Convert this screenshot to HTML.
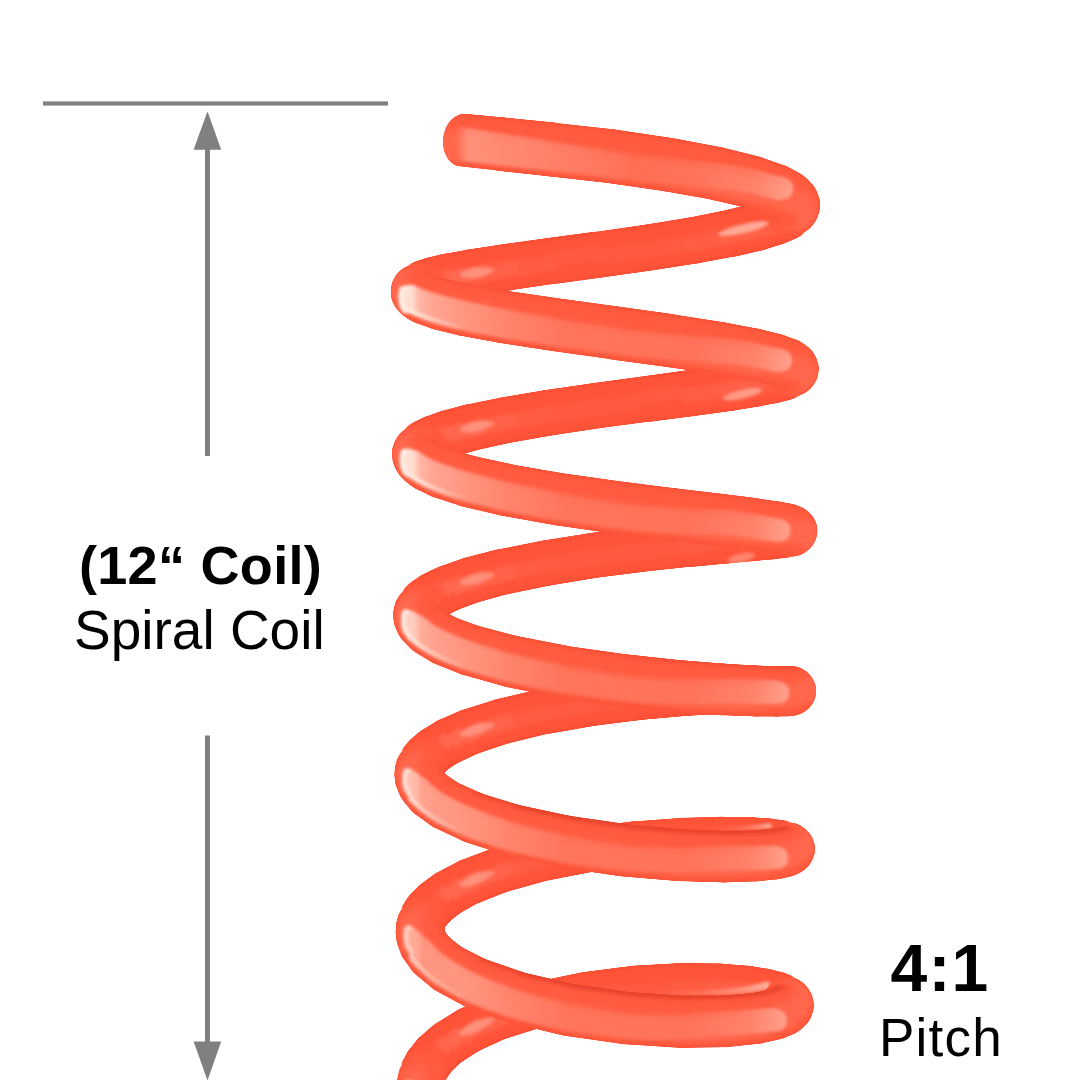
<!DOCTYPE html>
<html><head><meta charset="utf-8"><title>Spiral Coil 4:1 Pitch</title>
<style>
html,body{margin:0;padding:0;background:#fff;}
body{width:1080px;height:1080px;position:relative;overflow:hidden;font-family:"Liberation Sans",sans-serif;color:#000;}
svg{position:absolute;left:0;top:0;}
.coil path{fill:currentColor;stroke:currentColor;stroke-width:.5;stroke-linejoin:round;}
.t{position:absolute;white-space:nowrap;text-align:center;line-height:1;}
.b{font-weight:bold;}
#t1{left:79px;top:538px;font-size:54px;letter-spacing:0.3px;text-align:left;}
#t2{left:74px;top:603px;font-size:55px;letter-spacing:0px;text-align:left;}
#t3{left:890.5px;top:934.8px;font-size:66px;letter-spacing:1.2px;text-align:left;}
#t4{left:879px;top:1011px;font-size:53px;letter-spacing:1.2px;text-align:left;}
</style></head><body>
<svg width="1080" height="1080" viewBox="0 0 1080 1080">
<g fill="#808080">
<rect x="43" y="101.4" width="345" height="4.2"/>
<rect x="205" y="140" width="5" height="316"/>
<polygon points="207.5,111.3 221.2,149.7 193.6,149.7"/>
<rect x="205" y="735.5" width="5" height="315"/>
<polygon points="207.5,1080.5 221.2,1041.6 193.6,1041.6"/>
</g>
<defs><filter id="sm" x="-5%" y="-5%" width="110%" height="110%" color-interpolation-filters="sRGB"><feGaussianBlur stdDeviation="1.1"/><feComponentTransfer><feFuncA type="linear" slope="5" intercept="-2"/></feComponentTransfer></filter><filter id="hb" x="-5%" y="-5%" width="110%" height="110%"><feGaussianBlur stdDeviation="1.6"/></filter></defs>
<g class="coil" filter="url(#sm)">
<path color="#f64d34" d="M636.9,1010.8L589.4,1016.8L589.6,1016.1L635.9,1010.1z"/>
<path color="#f95036" d="M635.9,1010.1L589.6,1016.1L589.6,1014.5L634.9,1008.5z"/>
<path color="#ff5439" d="M634.9,1008.5L589.6,1014.5L589.4,1012.1L634,1005.9z"/>
<path color="#ff5439" d="M634,1005.9L589.4,1012.1L589.2,1008.8L633.1,1002.6z"/>
<path color="#ff5439" d="M633.1,1002.6L589.2,1008.8L588.7,1004.9L632.2,998.7z"/>
<path color="#ff593f" d="M632.2,998.7L588.7,1004.9L588.1,1000.6L631.5,994.3z"/>
<path color="#ff5a40" d="M631.5,994.3L588.1,1000.6L587.5,996L631,989.6z"/>
<path color="#ff5a40" d="M631,989.6L587.5,996L586.7,991.3L630.7,984.9z"/>
<path color="#ff573c" d="M630.7,984.9L586.7,991.3L585.9,986.8L630.5,980.4z"/>
<path color="#ff5439" d="M630.5,980.4L585.9,986.8L585.1,982.6L630.6,976.2z"/>
<path color="#ff5439" d="M630.6,976.2L585.1,982.6L584.4,979L630.8,972.6z"/>
<path color="#ff5439" d="M630.8,972.6L584.4,979L583.7,976.1L631.3,969.6z"/>
<path color="#fe5338" d="M631.3,969.6L583.7,976.1L583.1,974L631.9,967.5z"/>
<path color="#fa5036" d="M631.9,967.5L583.1,974L582.6,972.8L632.7,966.3z"/>
<path color="#fa5036" d="M632.7,966.3L582.6,972.8L582.3,972.5L633.5,966.1z"/>
<path color="#f64d34" d="M589.4,1016.8L543.8,1026.4L545.1,1025.7L589.6,1016.1z"/>
<path color="#f84f35" d="M589.6,1016.1L545.1,1025.7L546.1,1024L589.6,1014.5z"/>
<path color="#fe5439" d="M589.6,1014.5L546.1,1024L546.8,1021.6L589.4,1012.1z"/>
<path color="#ff5439" d="M589.4,1012.1L546.8,1021.6L547.1,1018.3L589.2,1008.8z"/>
<path color="#ff5439" d="M589.2,1008.8L547.1,1018.3L547.1,1014.4L588.7,1004.9z"/>
<path color="#ff593e" d="M588.7,1004.9L547.1,1014.4L546.7,1010.1L588.1,1000.6z"/>
<path color="#ff5c42" d="M588.1,1000.6L546.7,1010.1L545.9,1005.5L587.5,996z"/>
<path color="#ff5c42" d="M587.5,996L545.9,1005.5L544.8,1000.9L586.7,991.3z"/>
<path color="#ff593f" d="M586.7,991.3L544.8,1000.9L543.4,996.5L585.9,986.8z"/>
<path color="#ff5439" d="M585.9,986.8L543.4,996.5L541.9,992.4L585.1,982.6z"/>
<path color="#ff5439" d="M585.1,982.6L541.9,992.4L540.1,988.8L584.4,979z"/>
<path color="#ff5439" d="M584.4,979L540.1,988.8L538.4,986L583.7,976.1z"/>
<path color="#ff5439" d="M583.7,976.1L538.4,986L536.6,983.9L583.1,974z"/>
<path color="#fb5137" d="M583.1,974L536.6,983.9L534.9,982.8L582.6,972.8z"/>
<path color="#fa5036" d="M582.6,972.8L534.9,982.8L533.4,982.6L582.3,972.5z"/>
<path color="#f64d34" d="M681,1008.6L636.9,1010.8L635.9,1010.1L679,1007.7z"/>
<path color="#fa5036" d="M679,1007.7L635.9,1010.1L634.9,1008.5L677.1,1006z"/>
<path color="#ff5439" d="M677.1,1006L634.9,1008.5L634,1005.9L675.3,1003.3z"/>
<path color="#ff5439" d="M675.3,1003.3L634,1005.9L633.1,1002.6L673.9,999.9z"/>
<path color="#ff5439" d="M673.9,999.9L633.1,1002.6L632.2,998.7L672.7,995.8z"/>
<path color="#ff5a40" d="M672.7,995.8L632.2,998.7L631.5,994.3L672,991.4z"/>
<path color="#ff5a40" d="M672,991.4L631.5,994.3L631,989.6L671.6,986.7z"/>
<path color="#ff5a40" d="M671.6,986.7L631,989.6L630.7,984.9L671.7,981.9z"/>
<path color="#ff563b" d="M671.7,981.9L630.7,984.9L630.5,980.4L672.2,977.4z"/>
<path color="#ff5439" d="M672.2,977.4L630.5,980.4L630.6,976.2L673.1,973.2z"/>
<path color="#ff5439" d="M673.1,973.2L630.6,976.2L630.8,972.6L674.3,969.6z"/>
<path color="#ff5439" d="M674.3,969.6L630.8,972.6L631.3,969.6L675.9,966.7z"/>
<path color="#fd5338" d="M675.9,966.7L631.3,969.6L631.9,967.5L677.6,964.7z"/>
<path color="#fa5036" d="M677.6,964.7L631.9,967.5L632.7,966.3L679.6,963.6z"/>
<path color="#fa5036" d="M679.6,963.6L632.7,966.3L633.5,966.1L681.6,963.5z"/>
<path color="#f64d34" d="M640.5,865.8L591.6,871.7L591.8,871.8L639.5,865.8z"/>
<path color="#f74e34" d="M639.5,865.8L591.8,871.8L592,870.9L638.5,864.8z"/>
<path color="#fb5137" d="M638.5,864.8L592,870.9L591.9,869.1L637.5,863z"/>
<path color="#ff5439" d="M637.5,863L591.9,869.1L591.8,866.4L636.5,860.2z"/>
<path color="#ff5439" d="M636.5,860.2L591.8,866.4L591.4,863L635.5,856.8z"/>
<path color="#ff553a" d="M635.5,856.8L591.4,863L591,858.9L634.7,852.7z"/>
<path color="#ff5a40" d="M634.7,852.7L591,858.9L590.4,854.5L634,848.2z"/>
<path color="#ff5a40" d="M634,848.2L590.4,854.5L589.7,849.9L633.5,843.5z"/>
<path color="#ff5a40" d="M633.5,843.5L589.7,849.9L589,845.3L633.1,838.9z"/>
<path color="#ff553a" d="M633.1,838.9L589,845.3L588.2,840.8L633,834.4z"/>
<path color="#ff5439" d="M633,834.4L588.2,840.8L587.5,836.8L633.1,830.4z"/>
<path color="#ff5439" d="M633.1,830.4L587.5,836.8L586.8,833.3L633.4,826.9z"/>
<path color="#ff5439" d="M633.4,826.9L586.8,833.3L586.1,830.6L634,824.2z"/>
<path color="#fd5238" d="M634,824.2L586.1,830.6L585.6,828.8L634.7,822.3z"/>
<path color="#fa5036" d="M634.7,822.3L585.6,828.8L585.2,827.8L635.5,821.4z"/>
<path color="#fa5036" d="M635.5,821.4L585.2,827.8L584.9,827.8L636.4,821.5z"/>
<path color="#f64d34" d="M591.8,871.8L545.8,880.7L547,879.8L592,870.9z"/>
<path color="#fa5036" d="M592,870.9L547,879.8L548,877.9L591.9,869.1z"/>
<path color="#ff5439" d="M591.9,869.1L548,877.9L548.7,875.2L591.8,866.4z"/>
<path color="#ff5439" d="M591.8,866.4L548.7,875.2L549,871.8L591.4,863z"/>
<path color="#ff5439" d="M591.4,863L549,871.8L548.9,867.8L591,858.9z"/>
<path color="#ff5b41" d="M591,858.9L548.9,867.8L548.5,863.4L590.4,854.5z"/>
<path color="#ff5c42" d="M590.4,854.5L548.5,863.4L547.7,858.8L589.7,849.9z"/>
<path color="#ff5c42" d="M589.7,849.9L547.7,858.8L546.6,854.2L589,845.3z"/>
<path color="#ff573c" d="M589,845.3L546.6,854.2L545.3,849.8L588.2,840.8z"/>
<path color="#ff5439" d="M588.2,840.8L545.3,849.8L543.7,845.8L587.5,836.8z"/>
<path color="#ff5439" d="M587.5,836.8L543.7,845.8L542,842.4L586.8,833.3z"/>
<path color="#ff5439" d="M586.8,833.3L542,842.4L540.3,839.7L586.1,830.6z"/>
<path color="#fe5338" d="M586.1,830.6L540.3,839.7L538.6,837.9L585.6,828.8z"/>
<path color="#fa5036" d="M585.6,828.8L538.6,837.9L537,837L585.2,827.8z"/>
<path color="#fa5036" d="M585.2,827.8L537,837L535.5,837.1L584.9,827.8z"/>
<path color="#f64d34" d="M543.8,1026.4L504.8,1038.6L507.1,1037.8L545.1,1025.7z"/>
<path color="#f74e34" d="M545.1,1025.7L507.1,1037.8L509,1036.1L546.1,1024z"/>
<path color="#fd5238" d="M546.1,1024L509,1036.1L510.4,1033.5L546.8,1021.6z"/>
<path color="#ff5439" d="M546.8,1021.6L510.4,1033.5L511.3,1030.2L547.1,1018.3z"/>
<path color="#ff5439" d="M547.1,1018.3L511.3,1030.2L511.7,1026.3L547.1,1014.4z"/>
<path color="#ff573c" d="M547.1,1014.4L511.7,1026.3L511.4,1021.9L546.7,1010.1z"/>
<path color="#ff5d44" d="M546.7,1010.1L511.4,1021.9L510.6,1017.4L545.9,1005.5z"/>
<path color="#ff5d44" d="M545.9,1005.5L510.6,1017.4L509.2,1012.8L544.8,1000.9z"/>
<path color="#ff5d43" d="M544.8,1000.9L509.2,1012.8L507.4,1008.5L543.4,996.5z"/>
<path color="#ff553a" d="M543.4,996.5L507.4,1008.5L505.2,1004.5L541.9,992.4z"/>
<path color="#ff5439" d="M541.9,992.4L505.2,1004.5L502.6,1001L540.1,988.8z"/>
<path color="#ff5439" d="M540.1,988.8L502.6,1001L499.9,998.3L538.4,986z"/>
<path color="#ff5439" d="M538.4,986L499.9,998.3L497.1,996.4L536.6,983.9z"/>
<path color="#fc5237" d="M536.6,983.9L497.1,996.4L494.4,995.4L534.9,982.8z"/>
<path color="#fa5036" d="M534.9,982.8L494.4,995.4L491.9,995.3L533.4,982.6z"/>
<path color="#f64d34" d="M685.6,862.8L640.5,865.8L639.5,865.8L683.6,862.8z"/>
<path color="#f74e34" d="M683.6,862.8L639.5,865.8L638.5,864.8L681.5,861.7z"/>
<path color="#fc5237" d="M681.5,861.7L638.5,864.8L637.5,863L679.6,859.7z"/>
<path color="#ff5439" d="M679.6,859.7L637.5,863L636.5,860.2L677.8,856.9z"/>
<path color="#ff5439" d="M677.8,856.9L636.5,860.2L635.5,856.8L676.3,853.3z"/>
<path color="#ff553b" d="M676.3,853.3L635.5,856.8L634.7,852.7L675.1,849.1z"/>
<path color="#ff5a40" d="M675.1,849.1L634.7,852.7L634,848.2L674.3,844.6z"/>
<path color="#ff5a40" d="M674.3,844.6L634,848.2L633.5,843.5L674,839.9z"/>
<path color="#ff5a40" d="M674,839.9L633.5,843.5L633.1,838.9L674.1,835.2z"/>
<path color="#ff553a" d="M674.1,835.2L633.1,838.9L633,834.4L674.6,830.7z"/>
<path color="#ff5439" d="M674.6,830.7L633,834.4L633.1,830.4L675.6,826.7z"/>
<path color="#ff5439" d="M675.6,826.7L633.1,830.4L633.4,826.9L676.9,823.2z"/>
<path color="#ff5439" d="M676.9,823.2L633.4,826.9L634,824.2L678.5,820.6z"/>
<path color="#fc5237" d="M678.5,820.6L634,824.2L634.7,822.3L680.3,818.8z"/>
<path color="#fa5036" d="M680.3,818.8L634.7,822.3L635.5,821.4L682.3,818z"/>
<path color="#f64d34" d="M643.3,719.4L594.1,725.5L594.4,725.3L642.3,719.1z"/>
<path color="#f74e35" d="M642.3,719.1L594.4,725.3L594.4,724.1L641.2,717.9z"/>
<path color="#fd5338" d="M641.2,717.9L594.4,724.1L594.3,722L640.1,715.8z"/>
<path color="#ff5439" d="M640.1,715.8L594.3,722L594.1,719.1L639,712.9z"/>
<path color="#ff5439" d="M639,712.9L594.1,719.1L593.7,715.5L638,709.2z"/>
<path color="#ff563c" d="M638,709.2L593.7,715.5L593.3,711.4L637.2,705z"/>
<path color="#ff5a40" d="M637.2,705L593.3,711.4L592.7,706.9L636.4,700.5z"/>
<path color="#ff5a40" d="M636.4,700.5L592.7,706.9L592,702.2L635.9,695.8z"/>
<path color="#ff593f" d="M635.9,695.8L592,702.2L591.3,697.6L635.6,691.1z"/>
<path color="#ff5439" d="M635.6,691.1L591.3,697.6L590.5,693.2L635.5,686.8z"/>
<path color="#ff5439" d="M635.5,686.8L590.5,693.2L589.8,689.4L635.7,682.9z"/>
<path color="#ff5439" d="M635.7,682.9L589.8,689.4L589.2,686.1L636.1,679.6z"/>
<path color="#ff5439" d="M636.1,679.6L589.2,686.1L588.6,683.6L636.7,677.1z"/>
<path color="#fc5137" d="M636.7,677.1L588.6,683.6L588.1,682L637.4,675.5z"/>
<path color="#fa5036" d="M637.4,675.5L588.1,682L587.8,681.3L638.3,674.9z"/>
<path color="#f64d34" d="M720.4,1009.3L683,1008.4L681,1008.6L717.4,1009.3z"/>
<path color="#f64d34" d="M717.4,1009.3L681,1008.6L679,1007.7L714.5,1008.3z"/>
<path color="#fa5036" d="M714.5,1008.3L679,1007.7L677.1,1006L711.9,1006.4z"/>
<path color="#ff5439" d="M711.9,1006.4L677.1,1006L675.3,1003.3L709.5,1003.5z"/>
<path color="#ff5439" d="M709.5,1003.5L675.3,1003.3L673.9,999.9L707.6,999.9z"/>
<path color="#ff5439" d="M707.6,999.9L673.9,999.9L672.7,995.8L706.3,995.8z"/>
<path color="#ff5d43" d="M706.3,995.8L672.7,995.8L672,991.4L705.5,991.2z"/>
<path color="#ff5d43" d="M705.5,991.2L672,991.4L671.6,986.7L705.3,986.4z"/>
<path color="#ff5d43" d="M705.3,986.4L671.6,986.7L671.7,981.9L705.8,981.7z"/>
<path color="#ff573c" d="M705.8,981.7L671.7,981.9L672.2,977.4L706.8,977.1z"/>
<path color="#ff5439" d="M706.8,977.1L672.2,977.4L673.1,973.2L708.5,973z"/>
<path color="#ff5439" d="M708.5,973L673.1,973.2L674.3,969.6L710.6,969.5z"/>
<path color="#ff5439" d="M710.6,969.5L674.3,969.6L675.9,966.7L713.1,966.8z"/>
<path color="#fd5338" d="M713.1,966.8L675.9,966.7L677.6,964.7L715.8,964.9z"/>
<path color="#fa5036" d="M715.8,964.9L677.6,964.7L679.6,963.6L718.8,964z"/>
<path color="#fa5036" d="M718.8,964L679.6,963.6L681.6,963.5L721.7,964z"/>
<path color="#f64d34" d="M594.1,725.5L546.4,733.8L547.8,733.6L594.4,725.3z"/>
<path color="#f74e34" d="M594.4,725.3L547.8,733.6L549,732.4L594.4,724.1z"/>
<path color="#fc5237" d="M594.4,724.1L549,732.4L549.9,730.3L594.3,722z"/>
<path color="#ff5439" d="M594.3,722L549.9,730.3L550.5,727.4L594.1,719.1z"/>
<path color="#ff5439" d="M594.1,719.1L550.5,727.4L550.8,723.8L593.7,715.5z"/>
<path color="#ff553b" d="M593.7,715.5L550.8,723.8L550.7,719.6L593.3,711.4z"/>
<path color="#ff5c41" d="M593.3,711.4L550.7,719.6L550.3,715.1L592.7,706.9z"/>
<path color="#ff5c41" d="M592.7,706.9L550.3,715.1L549.5,710.5L592,702.2z"/>
<path color="#ff5b41" d="M592,702.2L549.5,710.5L548.4,705.9L591.3,697.6z"/>
<path color="#ff553a" d="M591.3,697.6L548.4,705.9L547.1,701.6L590.5,693.2z"/>
<path color="#ff5439" d="M590.5,693.2L547.1,701.6L545.6,697.7L589.8,689.4z"/>
<path color="#ff5439" d="M589.8,689.4L545.6,697.7L544,694.5L589.2,686.1z"/>
<path color="#ff5439" d="M589.2,686.1L544,694.5L542.3,692L588.6,683.6z"/>
<path color="#fc5237" d="M588.6,683.6L542.3,692L540.6,690.4L588.1,682z"/>
<path color="#fa5036" d="M588.1,682L540.6,690.4L539,689.7L587.8,681.3z"/>
<path color="#fa5036" d="M587.8,681.3L539,689.7L537.6,690L587.6,681.6z"/>
<path color="#f64d34" d="M545.8,880.7L506.1,891.8L508.4,890.7L547,879.8z"/>
<path color="#f84f35" d="M547,879.8L508.4,890.7L510.2,888.8L548,877.9z"/>
<path color="#fe5439" d="M548,877.9L510.2,888.8L511.6,886L548.7,875.2z"/>
<path color="#ff5439" d="M548.7,875.2L511.6,886L512.5,882.5L549,871.8z"/>
<path color="#ff5439" d="M549,871.8L512.5,882.5L512.9,878.5L548.9,867.8z"/>
<path color="#ff5a3f" d="M548.9,867.8L512.9,878.5L512.6,874L548.5,863.4z"/>
<path color="#ff5d43" d="M548.5,863.4L512.6,874L511.8,869.5L547.7,858.8z"/>
<path color="#ff5d43" d="M547.7,858.8L511.8,869.5L510.4,864.9L546.6,854.2z"/>
<path color="#ff5a40" d="M546.6,854.2L510.4,864.9L508.6,860.5L545.3,849.8z"/>
<path color="#ff5439" d="M545.3,849.8L508.6,860.5L506.4,856.6L543.7,845.8z"/>
<path color="#ff5439" d="M543.7,845.8L506.4,856.6L503.9,853.3L542,842.4z"/>
<path color="#ff5439" d="M542,842.4L503.9,853.3L501.2,850.7L540.3,839.7z"/>
<path color="#ff5439" d="M540.3,839.7L501.2,850.7L498.4,849L538.6,837.9z"/>
<path color="#fb5137" d="M538.6,837.9L498.4,849L495.8,848.2L537,837z"/>
<path color="#fa5036" d="M537,837L495.8,848.2L493.3,848.4L535.5,837.1z"/>
<path color="#f64d34" d="M688.3,715.5L643.3,719.4L642.3,719.1L686.2,715.2z"/>
<path color="#f84f35" d="M686.2,715.2L642.3,719.1L641.2,717.9L684.1,713.9z"/>
<path color="#fe5339" d="M684.1,713.9L641.2,717.9L640.1,715.8L682.1,711.7z"/>
<path color="#ff5439" d="M682.1,711.7L640.1,715.8L639,712.9L680.2,708.7z"/>
<path color="#ff5439" d="M680.2,708.7L639,712.9L638,709.2L678.7,704.9z"/>
<path color="#ff573d" d="M678.7,704.9L638,709.2L637.2,705L677.5,700.7z"/>
<path color="#ff5a40" d="M677.5,700.7L637.2,705L636.4,700.5L676.7,696.1z"/>
<path color="#ff5a40" d="M676.7,696.1L636.4,700.5L635.9,695.8L676.4,691.3z"/>
<path color="#ff593e" d="M676.4,691.3L635.9,695.8L635.6,691.1L676.5,686.7z"/>
<path color="#ff5439" d="M676.5,686.7L635.6,691.1L635.5,686.8L677.1,682.3z"/>
<path color="#ff5439" d="M677.1,682.3L635.5,686.8L635.7,682.9L678.1,678.4z"/>
<path color="#ff5439" d="M678.1,678.4L635.7,682.9L636.1,679.6L679.4,675.2z"/>
<path color="#ff5439" d="M679.4,675.2L636.1,679.6L636.7,677.1L681.1,672.7z"/>
<path color="#fb5137" d="M681.1,672.7L636.7,677.1L637.4,675.5L683,671.2z"/>
<path color="#fa5036" d="M683,671.2L637.4,675.5L638.3,674.9L685.1,670.6z"/>
<path color="#f64d34" d="M646.1,571.3L596.7,577.6L596.9,577.1L645,570.8z"/>
<path color="#f94f35" d="M645,570.8L596.9,577.1L596.9,575.7L643.8,569.3z"/>
<path color="#ff5439" d="M643.8,569.3L596.9,575.7L596.8,573.4L642.7,566.9z"/>
<path color="#ff5439" d="M642.7,566.9L596.8,573.4L596.5,570.2L641.6,563.8z"/>
<path color="#ff5439" d="M641.6,563.8L596.5,570.2L596.1,566.4L640.5,559.9z"/>
<path color="#ff583e" d="M640.5,559.9L596.1,566.4L595.6,562.2L639.7,555.6z"/>
<path color="#ff5a40" d="M639.7,555.6L595.6,562.2L595,557.6L638.9,551z"/>
<path color="#ff5a40" d="M638.9,551L595,557.6L594.3,552.9L638.4,546.3z"/>
<path color="#ff583d" d="M638.4,546.3L594.3,552.9L593.6,548.3L638.1,541.7z"/>
<path color="#ff5439" d="M638.1,541.7L593.6,548.3L592.9,544.1L638.1,537.4z"/>
<path color="#ff5439" d="M638.1,537.4L592.9,544.1L592.2,540.3L638.3,533.7z"/>
<path color="#ff5439" d="M638.3,533.7L592.2,540.3L591.6,537.2L638.7,530.6z"/>
<path color="#fe5339" d="M638.7,530.6L591.6,537.2L591.1,535L639.4,528.4z"/>
<path color="#fb5137" d="M639.4,528.4L591.1,535L590.7,533.6L640.2,527z"/>
<path color="#fa5036" d="M640.2,527L590.7,533.6L590.4,533.2L641.2,526.6z"/>
<path color="#f64d34" d="M596.7,577.6L548.5,585.4L549.9,584.9L596.9,577.1z"/>
<path color="#f84e35" d="M596.9,577.1L549.9,584.9L551,583.4L596.9,575.7z"/>
<path color="#fe5338" d="M596.9,575.7L551,583.4L551.9,581.1L596.8,573.4z"/>
<path color="#ff5439" d="M596.8,573.4L551.9,581.1L552.5,578L596.5,570.2z"/>
<path color="#ff5439" d="M596.5,570.2L552.5,578L552.7,574.2L596.1,566.4z"/>
<path color="#ff583d" d="M596.1,566.4L552.7,574.2L552.6,569.9L595.6,562.2z"/>
<path color="#ff5b41" d="M595.6,562.2L552.6,569.9L552.2,565.3L595,557.6z"/>
<path color="#ff5b41" d="M595,557.6L552.2,565.3L551.4,560.6L594.3,552.9z"/>
<path color="#ff5a40" d="M594.3,552.9L551.4,560.6L550.3,556L593.6,548.3z"/>
<path color="#ff5439" d="M593.6,548.3L550.3,556L549,551.8L592.9,544.1z"/>
<path color="#ff5439" d="M592.9,544.1L549,551.8L547.5,548L592.2,540.3z"/>
<path color="#ff5439" d="M592.2,540.3L547.5,548L545.9,545L591.6,537.2z"/>
<path color="#ff5439" d="M591.6,537.2L545.9,545L544.3,542.7L591.1,535z"/>
<path color="#fb5137" d="M591.1,535L544.3,542.7L542.7,541.4L590.7,533.6z"/>
<path color="#fa5036" d="M590.7,533.6L542.7,541.4L541.2,541L590.4,533.2z"/>
<path color="#f64d34" d="M722.8,862.4L685.6,862.8L683.6,862.8L719.7,862.2z"/>
<path color="#f74e34" d="M719.7,862.2L683.6,862.8L681.5,861.7L716.8,861z"/>
<path color="#fd5238" d="M716.8,861L681.5,861.7L679.6,859.7L714.1,858.8z"/>
<path color="#ff5439" d="M714.1,858.8L679.6,859.7L677.8,856.9L711.7,855.8z"/>
<path color="#ff5439" d="M711.7,855.8L677.8,856.9L676.3,853.3L709.8,852.1z"/>
<path color="#ff573c" d="M709.8,852.1L676.3,853.3L675.1,849.1L708.4,847.8z"/>
<path color="#ff5d43" d="M708.4,847.8L675.1,849.1L674.3,844.6L707.6,843.2z"/>
<path color="#ff5d43" d="M707.6,843.2L674.3,844.6L674,839.9L707.4,838.4z"/>
<path color="#ff5d42" d="M707.4,838.4L674,839.9L674.1,835.2L707.9,833.7z"/>
<path color="#ff553a" d="M707.9,833.7L674.1,835.2L674.6,830.7L709,829.2z"/>
<path color="#ff5439" d="M709,829.2L674.6,830.7L675.6,826.7L710.7,825.2z"/>
<path color="#ff5439" d="M710.7,825.2L675.6,826.7L676.9,823.2L712.9,821.9z"/>
<path color="#ff5439" d="M712.9,821.9L676.9,823.2L678.5,820.6L715.4,819.3z"/>
<path color="#fc5237" d="M715.4,819.3L678.5,820.6L680.3,818.8L718.3,817.7z"/>
<path color="#fa5036" d="M718.3,817.7L680.3,818.8L682.3,818L721.2,816.9z"/>
<path color="#f64d34" d="M547.8,733.6L507.5,743.4L509.7,742.1L549,732.4z"/>
<path color="#fa5036" d="M549,732.4L509.7,742.1L511.5,740L549.9,730.3z"/>
<path color="#ff5439" d="M549.9,730.3L511.5,740L512.9,737L550.5,727.4z"/>
<path color="#ff5439" d="M550.5,727.4L512.9,737L513.8,733.3L550.8,723.8z"/>
<path color="#ff5439" d="M550.8,723.8L513.8,733.3L514.1,729.2L550.7,719.6z"/>
<path color="#ff5c42" d="M550.7,719.6L514.1,729.2L513.8,724.6L550.3,715.1z"/>
<path color="#ff5d43" d="M550.3,715.1L513.8,724.6L513,720L549.5,710.5z"/>
<path color="#ff5d43" d="M549.5,710.5L513,720L511.6,715.4L548.4,705.9z"/>
<path color="#ff583d" d="M548.4,705.9L511.6,715.4L509.8,711.1L547.1,701.6z"/>
<path color="#ff5439" d="M547.1,701.6L509.8,711.1L507.6,707.3L545.6,697.7z"/>
<path color="#ff5439" d="M545.6,697.7L507.6,707.3L505.1,704.1L544,694.5z"/>
<path color="#ff5439" d="M544,694.5L505.1,704.1L502.5,701.7L542.3,692z"/>
<path color="#fd5338" d="M542.3,692L502.5,701.7L499.8,700.2L540.6,690.4z"/>
<path color="#fa5036" d="M540.6,690.4L499.8,700.2L497.1,699.6L539,689.7z"/>
<path color="#fa5036" d="M539,689.7L497.1,699.6L494.7,700L537.6,690z"/>
<path color="#f64d34" d="M507.1,1037.8L478.1,1051.1L480.7,1049.1L509,1036.1z"/>
<path color="#f95036" d="M509,1036.1L480.7,1049.1L482.8,1046.4L510.4,1033.5z"/>
<path color="#ff5439" d="M510.4,1033.5L482.8,1046.4L484.2,1043L511.3,1030.2z"/>
<path color="#ff5439" d="M511.3,1030.2L484.2,1043L484.8,1039L511.7,1026.3z"/>
<path color="#ff5439" d="M511.7,1026.3L484.8,1039L484.8,1034.7L511.4,1021.9z"/>
<path color="#ff6147" d="M511.4,1021.9L484.8,1034.7L483.9,1030.1L510.6,1017.4z"/>
<path color="#ff634a" d="M510.6,1017.4L483.9,1030.1L482.4,1025.6L509.2,1012.8z"/>
<path color="#ff634a" d="M509.2,1012.8L482.4,1025.6L480.2,1021.3L507.4,1008.5z"/>
<path color="#ff5b41" d="M507.4,1008.5L480.2,1021.3L477.5,1017.5L505.2,1004.5z"/>
<path color="#ff5439" d="M505.2,1004.5L477.5,1017.5L474.4,1014.2L502.6,1001z"/>
<path color="#ff5439" d="M502.6,1001L474.4,1014.2L470.9,1011.6L499.9,998.3z"/>
<path color="#ff5439" d="M499.9,998.3L470.9,1011.6L467.4,1009.9L497.1,996.4z"/>
<path color="#fe5338" d="M497.1,996.4L467.4,1009.9L463.8,1009L494.4,995.4z"/>
<path color="#fa5036" d="M494.4,995.4L463.8,1009L460.5,1009.2L491.9,995.3z"/>
<path color="#fa5036" d="M491.9,995.3L460.5,1009.2L457.4,1010.2L489.6,996.2z"/>
<path color="#f64d34" d="M691,566.5L646.1,571.3L645,570.8L688.8,565.9z"/>
<path color="#fa5036" d="M688.8,565.9L645,570.8L643.8,569.3L686.6,564.4z"/>
<path color="#ff5439" d="M686.6,564.4L643.8,569.3L642.7,566.9L684.6,561.9z"/>
<path color="#ff5439" d="M684.6,561.9L642.7,566.9L641.6,563.8L682.7,558.7z"/>
<path color="#ff5439" d="M682.7,558.7L641.6,563.8L640.5,559.9L681.1,554.8z"/>
<path color="#ff5a3f" d="M681.1,554.8L640.5,559.9L639.7,555.6L679.9,550.4z"/>
<path color="#ff5a40" d="M679.9,550.4L639.7,555.6L638.9,551L679.1,545.7z"/>
<path color="#ff5a40" d="M679.1,545.7L638.9,551L638.4,546.3L678.8,541z"/>
<path color="#ff573c" d="M678.8,541L638.4,546.3L638.1,541.7L678.9,536.4z"/>
<path color="#ff5439" d="M678.9,536.4L638.1,541.7L638.1,537.4L679.5,532.1z"/>
<path color="#ff5439" d="M679.5,532.1L638.1,537.4L638.3,533.7L680.6,528.3z"/>
<path color="#ff5439" d="M680.6,528.3L638.3,533.7L638.7,530.6L682,525.3z"/>
<path color="#fe5338" d="M682,525.3L638.7,530.6L639.4,528.4L683.7,523.1z"/>
<path color="#fa5036" d="M683.7,523.1L639.4,528.4L640.2,527L685.7,521.7z"/>
<path color="#fa5036" d="M685.7,521.7L640.2,527L641.2,526.6L687.9,521.4z"/>
<path color="#f64e34" d="M648.9,421.5L599.4,428.1L599.5,427.4L647.7,420.7z"/>
<path color="#fa5036" d="M647.7,420.7L599.5,427.4L599.4,425.7L646.5,419z"/>
<path color="#ff5439" d="M646.5,419L599.4,425.7L599.2,423.1L645.3,416.3z"/>
<path color="#ff5439" d="M645.3,416.3L599.2,423.1L598.9,419.7L644.1,413z"/>
<path color="#ff5439" d="M644.1,413L598.9,419.7L598.5,415.7L643.1,409z"/>
<path color="#ff5a40" d="M643.1,409L598.5,415.7L597.9,411.3L642.2,404.5z"/>
<path color="#ff5a40" d="M642.2,404.5L597.9,411.3L597.3,406.6L641.4,399.8z"/>
<path color="#ff5a40" d="M641.4,399.8L597.3,406.6L596.6,401.9L640.9,395.1z"/>
<path color="#ff563b" d="M640.9,395.1L596.6,401.9L596,397.4L640.7,390.5z"/>
<path color="#ff5439" d="M640.7,390.5L596,397.4L595.3,393.2L640.7,386.4z"/>
<path color="#ff5439" d="M640.7,386.4L595.3,393.2L594.7,389.6L640.9,382.8z"/>
<path color="#ff5439" d="M640.9,382.8L594.7,389.6L594.1,386.7L641.4,379.9z"/>
<path color="#fd5338" d="M641.4,379.9L594.1,386.7L593.7,384.7L642.1,377.9z"/>
<path color="#fa5036" d="M642.1,377.9L593.7,384.7L593.3,383.6L643,376.8z"/>
<path color="#fa5036" d="M643,376.8L593.3,383.6L593.1,383.5L644.1,376.7z"/>
<path color="#f64d34" d="M744.2,1012L717.4,1009.3L714.5,1008.3L740.7,1010.7z"/>
<path color="#fa5036" d="M740.7,1010.7L714.5,1008.3L711.9,1006.4L737.5,1008.6z"/>
<path color="#ff5439" d="M737.5,1008.6L711.9,1006.4L709.5,1003.5L734.7,1005.5z"/>
<path color="#ff5439" d="M734.7,1005.5L709.5,1003.5L707.6,999.9L732.5,1001.8z"/>
<path color="#ff5439" d="M732.5,1001.8L707.6,999.9L706.3,995.8L731,997.5z"/>
<path color="#ff5f45" d="M731,997.5L706.3,995.8L705.5,991.2L730.2,992.8z"/>
<path color="#ff6046" d="M730.2,992.8L705.5,991.2L705.3,986.4L730.2,988z"/>
<path color="#ff6046" d="M730.2,988L705.3,986.4L705.8,981.7L731,983.2z"/>
<path color="#ff593e" d="M731,983.2L705.8,981.7L706.8,977.1L732.5,978.7z"/>
<path color="#ff5439" d="M732.5,978.7L706.8,977.1L708.5,973L734.7,974.7z"/>
<path color="#ff5439" d="M734.7,974.7L708.5,973L710.6,969.5L737.5,971.3z"/>
<path color="#ff5439" d="M737.5,971.3L710.6,969.5L713.1,966.8L740.8,968.7z"/>
<path color="#fd5338" d="M740.8,968.7L713.1,966.8L715.8,964.9L744.3,967z"/>
<path color="#fa5036" d="M744.3,967L715.8,964.9L718.8,964L748,966.2z"/>
<path color="#fa5036" d="M748,966.2L718.8,964L721.7,964L751.7,966.5z"/>
<path color="#f64d34" d="M599.4,428.1L550.7,435.4L552,434.6L599.5,427.4z"/>
<path color="#f95036" d="M599.5,427.4L552,434.6L553.1,432.9L599.4,425.7z"/>
<path color="#ff5439" d="M599.4,425.7L553.1,432.9L553.9,430.3L599.2,423.1z"/>
<path color="#ff5439" d="M599.2,423.1L553.9,430.3L554.5,427L598.9,419.7z"/>
<path color="#ff5439" d="M598.9,419.7L554.5,427L554.7,423L598.5,415.7z"/>
<path color="#ff5a40" d="M598.5,415.7L554.7,423L554.5,418.5L597.9,411.3z"/>
<path color="#ff5b41" d="M597.9,411.3L554.5,418.5L554.1,413.9L597.3,406.6z"/>
<path color="#ff5b41" d="M597.3,406.6L554.1,413.9L553.3,409.1L596.6,401.9z"/>
<path color="#ff583d" d="M596.6,401.9L553.3,409.1L552.2,404.6L596,397.4z"/>
<path color="#ff5439" d="M596,397.4L552.2,404.6L551,400.4L595.3,393.2z"/>
<path color="#ff5439" d="M595.3,393.2L551,400.4L549.5,396.8L594.7,389.6z"/>
<path color="#ff5439" d="M594.7,389.6L549.5,396.8L548,393.9L594.1,386.7z"/>
<path color="#fe5338" d="M594.1,386.7L548,393.9L546.4,391.9L593.7,384.7z"/>
<path color="#fa5136" d="M593.7,384.7L546.4,391.9L544.8,390.8L593.3,383.6z"/>
<path color="#fa5036" d="M593.3,383.6L544.8,390.8L543.3,390.6L593.1,383.5z"/>
<path color="#f64d34" d="M506.1,891.8L475.7,903.7L478.7,902.5L508.4,890.7z"/>
<path color="#f74e34" d="M508.4,890.7L478.7,902.5L481.3,900.4L510.2,888.8z"/>
<path color="#fc5237" d="M510.2,888.8L481.3,900.4L483.3,897.5L511.6,886z"/>
<path color="#ff5439" d="M511.6,886L483.3,897.5L484.7,893.9L512.5,882.5z"/>
<path color="#ff5439" d="M512.5,882.5L484.7,893.9L485.4,889.8L512.9,878.5z"/>
<path color="#ff573c" d="M512.9,878.5L485.4,889.8L485.3,885.4L512.6,874z"/>
<path color="#ff6349" d="M512.6,874L485.3,885.4L484.5,880.8L511.8,869.5z"/>
<path color="#ff6349" d="M511.8,869.5L484.5,880.8L482.9,876.2L510.4,864.9z"/>
<path color="#ff6349" d="M510.4,864.9L482.9,876.2L480.8,872L508.6,860.5z"/>
<path color="#ff563b" d="M508.6,860.5L480.8,872L478.1,868.1L506.4,856.6z"/>
<path color="#ff5439" d="M506.4,856.6L478.1,868.1L474.9,864.9L503.9,853.3z"/>
<path color="#ff5439" d="M503.9,853.3L474.9,864.9L471.5,862.5L501.2,850.7z"/>
<path color="#ff5439" d="M501.2,850.7L471.5,862.5L467.9,860.9L498.4,849z"/>
<path color="#fc5237" d="M498.4,849L467.9,860.9L464.4,860.2L495.8,848.2z"/>
<path color="#fa5036" d="M495.8,848.2L464.4,860.2L461.1,860.5L493.3,848.4z"/>
<path color="#fa5036" d="M493.3,848.4L461.1,860.5L458.1,861.8L491,849.5z"/>
<path color="#f64d34" d="M548.5,585.4L506.5,594.1L508.9,593.5L549.9,584.9z"/>
<path color="#f74e34" d="M549.9,584.9L508.9,593.5L511.1,592L551,583.4z"/>
<path color="#fc5237" d="M551,583.4L511.1,592L512.9,589.6L551.9,581.1z"/>
<path color="#ff5439" d="M551.9,581.1L512.9,589.6L514.2,586.5L552.5,578z"/>
<path color="#ff5439" d="M552.5,578L514.2,586.5L515.1,582.6L552.7,574.2z"/>
<path color="#ff563b" d="M552.7,574.2L515.1,582.6L515.3,578.3L552.6,569.9z"/>
<path color="#ff5d43" d="M552.6,569.9L515.3,578.3L515.1,573.7L552.2,565.3z"/>
<path color="#ff5d43" d="M552.2,565.3L515.1,573.7L514.2,569L551.4,560.6z"/>
<path color="#ff5d43" d="M551.4,560.6L514.2,569L512.9,564.4L550.3,556z"/>
<path color="#ff553a" d="M550.3,556L512.9,564.4L511.1,560.2L549,551.8z"/>
<path color="#ff5439" d="M549,551.8L511.1,560.2L508.9,556.5L547.5,548z"/>
<path color="#ff5439" d="M547.5,548L508.9,556.5L506.5,553.4L545.9,545z"/>
<path color="#ff5439" d="M545.9,545L506.5,553.4L503.8,551.2L544.3,542.7z"/>
<path color="#fc5237" d="M544.3,542.7L503.8,551.2L501.2,549.9L542.7,541.4z"/>
<path color="#fa5036" d="M542.7,541.4L501.2,549.9L498.6,549.5L541.2,541z"/>
<path color="#f64d34" d="M725.2,713.6L688.3,715.5L686.2,715.2L722.1,713.2z"/>
<path color="#f84f35" d="M722.1,713.2L686.2,715.2L684.1,713.9L719.1,711.8z"/>
<path color="#ff5439" d="M719.1,711.8L684.1,713.9L682.1,711.7L716.3,709.4z"/>
<path color="#ff5439" d="M716.3,709.4L682.1,711.7L680.2,708.7L713.9,706.3z"/>
<path color="#ff5439" d="M713.9,706.3L680.2,708.7L678.7,704.9L711.9,702.4z"/>
<path color="#ff5a40" d="M711.9,702.4L678.7,704.9L677.5,700.7L710.5,698.1z"/>
<path color="#ff5d43" d="M710.5,698.1L677.5,700.7L676.7,696.1L709.7,693.4z"/>
<path color="#ff5d43" d="M709.7,693.4L676.7,696.1L676.4,691.3L709.6,688.6z"/>
<path color="#ff5a40" d="M709.6,688.6L676.4,691.3L676.5,686.7L710.1,683.9z"/>
<path color="#ff5439" d="M710.1,683.9L676.5,686.7L677.1,682.3L711.2,679.5z"/>
<path color="#ff5439" d="M711.2,679.5L677.1,682.3L678.1,678.4L712.9,675.7z"/>
<path color="#ff5439" d="M712.9,675.7L678.1,678.4L679.4,675.2L715.1,672.5z"/>
<path color="#fe5439" d="M715.1,672.5L679.4,675.2L681.1,672.7L717.8,670.1z"/>
<path color="#fb5137" d="M717.8,670.1L681.1,672.7L683,671.2L720.7,668.6z"/>
<path color="#fa5036" d="M720.7,668.6L683,671.2L685.1,670.6L723.7,668.1z"/>
<path color="#fa5036" d="M695.9,415.4L649.9,421.3L648.9,421.5L693.7,415.6z"/>
<path color="#fa5036" d="M693.7,415.6L648.9,421.5L647.7,420.7L691.4,414.8z"/>
<path color="#fd5238" d="M691.4,414.8L647.7,420.7L646.5,419L689.2,413z"/>
<path color="#ff5439" d="M689.2,413L646.5,419L645.3,416.3L687.1,410.3z"/>
<path color="#ff5439" d="M687.1,410.3L645.3,416.3L644.1,413L685.2,406.9z"/>
<path color="#ff5439" d="M685.2,406.9L644.1,413L643.1,409L683.6,402.8z"/>
<path color="#ff563b" d="M683.6,402.8L643.1,409L642.2,404.5L682.3,398.3z"/>
<path color="#ff5b40" d="M682.3,398.3L642.2,404.5L641.4,399.8L681.5,393.6z"/>
<path color="#ff5b40" d="M681.5,393.6L641.4,399.8L640.9,395.1L681.2,388.8z"/>
<path color="#ff5a40" d="M681.2,388.8L640.9,395.1L640.7,390.5L681.4,384.3z"/>
<path color="#ff5439" d="M681.4,384.3L640.7,390.5L640.7,386.4L682,380.1z"/>
<path color="#ff5439" d="M682,380.1L640.7,386.4L640.9,382.8L683.1,376.5z"/>
<path color="#ff5439" d="M683.1,376.5L640.9,382.8L641.4,379.9L684.6,373.6z"/>
<path color="#fb5136" d="M684.6,373.6L641.4,379.9L642.1,377.9L686.4,371.6z"/>
<path color="#f74e34" d="M686.4,371.6L642.1,377.9L643,376.8L688.4,370.5z"/>
<path color="#f64d34" d="M688.4,370.5L643,376.8L644.1,376.7L690.6,370.4z"/>
<path color="#f64d34" d="M652.8,270L601.9,277.1L602.1,277L651.7,269.9z"/>
<path color="#f74e34" d="M651.7,269.9L602.1,277L602.1,276L650.5,268.9z"/>
<path color="#fc5238" d="M650.5,268.9L602.1,276L602,274L649.2,266.9z"/>
<path color="#ff5439" d="M649.2,266.9L602,274L601.7,271.1L647.9,264z"/>
<path color="#ff5439" d="M647.9,264L601.7,271.1L601.3,267.5L646.7,260.4z"/>
<path color="#ff563b" d="M646.7,260.4L601.3,267.5L600.9,263.3L645.6,256.2z"/>
<path color="#ff5a40" d="M645.6,256.2L600.9,263.3L600.3,258.8L644.7,251.6z"/>
<path color="#ff5a40" d="M644.7,251.6L600.3,258.8L599.7,254L644,246.8z"/>
<path color="#ff5a40" d="M644,246.8L599.7,254L599,249.3L643.5,242.1z"/>
<path color="#ff553a" d="M643.5,242.1L599,249.3L598.3,244.8L643.2,237.6z"/>
<path color="#ff5439" d="M643.2,237.6L598.3,244.8L597.7,240.7L643.2,233.5z"/>
<path color="#ff5439" d="M643.2,233.5L597.7,240.7L597.1,237.3L643.5,230.1z"/>
<path color="#ff5439" d="M643.5,230.1L597.1,237.3L596.6,234.6L644.1,227.4z"/>
<path color="#fc5237" d="M644.1,227.4L596.6,234.6L596.2,232.8L644.9,225.6z"/>
<path color="#fa5036" d="M644.9,225.6L596.2,232.8L595.9,232L645.8,224.8z"/>
<path color="#fa5036" d="M601.9,277.1L551.5,283.9L552.9,283.8L602.1,277z"/>
<path color="#fa5036" d="M602.1,277L552.9,283.8L554.2,282.8L602.1,276z"/>
<path color="#fd5238" d="M602.1,276L554.2,282.8L555.2,280.8L602,274z"/>
<path color="#ff5439" d="M602,274L555.2,280.8L556,277.9L601.7,271.1z"/>
<path color="#ff5439" d="M601.7,271.1L556,277.9L556.5,274.4L601.3,267.5z"/>
<path color="#ff5439" d="M601.3,267.5L556.5,274.4L556.6,270.2L600.9,263.3z"/>
<path color="#ff563b" d="M600.9,263.3L556.6,270.2L556.5,265.6L600.3,258.8z"/>
<path color="#ff5b41" d="M600.3,258.8L556.5,265.6L556,260.8L599.7,254z"/>
<path color="#ff5b41" d="M599.7,254L556,260.8L555.2,256.1L599,249.3z"/>
<path color="#ff5b41" d="M599,249.3L555.2,256.1L554.2,251.5L598.3,244.8z"/>
<path color="#ff553a" d="M598.3,244.8L554.2,251.5L552.9,247.5L597.7,240.7z"/>
<path color="#ff5439" d="M597.7,240.7L552.9,247.5L551.5,244L597.1,237.3z"/>
<path color="#ff5439" d="M597.1,237.3L551.5,244L550,241.3L596.6,234.6z"/>
<path color="#fb5137" d="M596.6,234.6L550,241.3L548.5,239.5L596.2,232.8z"/>
<path color="#f74e34" d="M596.2,232.8L548.5,239.5L547,238.6L595.9,232z"/>
<path color="#f64d34" d="M595.9,232L547,238.6L545.6,238.7L595.8,232.1z"/>
<path color="#f64d34" d="M507.5,743.4L476.3,753.8L479.3,752.4L509.7,742.1z"/>
<path color="#f84f35" d="M509.7,742.1L479.3,752.4L481.9,750.1L511.5,740z"/>
<path color="#fe5339" d="M511.5,740L481.9,750.1L483.9,747.1L512.9,737z"/>
<path color="#ff5439" d="M512.9,737L483.9,747.1L485.3,743.3L513.8,733.3z"/>
<path color="#ff5439" d="M513.8,733.3L485.3,743.3L486,739.1L514.1,729.2z"/>
<path color="#ff5c42" d="M514.1,729.2L486,739.1L485.9,734.6L513.8,724.6z"/>
<path color="#ff6349" d="M513.8,724.6L485.9,734.6L485,729.9L513,720z"/>
<path color="#ff6349" d="M513,720L485,729.9L483.5,725.3L511.6,715.4z"/>
<path color="#ff5f45" d="M511.6,715.4L483.5,725.3L481.3,721.1L509.8,711.1z"/>
<path color="#ff5439" d="M509.8,711.1L481.3,721.1L478.6,717.3L507.6,707.3z"/>
<path color="#ff5439" d="M507.6,707.3L478.6,717.3L475.5,714.2L505.1,704.1z"/>
<path color="#ff5439" d="M505.1,704.1L475.5,714.2L472.1,711.9L502.5,701.7z"/>
<path color="#ff5439" d="M502.5,701.7L472.1,711.9L468.6,710.4L499.8,700.2z"/>
<path color="#fb5137" d="M499.8,700.2L468.6,710.4L465.1,709.9L497.1,699.6z"/>
<path color="#fa5036" d="M497.1,699.6L465.1,709.9L461.7,710.4L494.7,700z"/>
<path color="#f64d34" d="M550.7,435.4L508,442.9L510.4,442.1L552,434.6z"/>
<path color="#f84f35" d="M552,434.6L510.4,442.1L512.5,440.4L553.1,432.9z"/>
<path color="#fe5339" d="M553.1,432.9L512.5,440.4L514.2,437.8L553.9,430.3z"/>
<path color="#ff5439" d="M553.9,430.3L514.2,437.8L515.6,434.4L554.5,427z"/>
<path color="#ff5439" d="M554.5,427L515.6,434.4L516.4,430.4L554.7,423z"/>
<path color="#ff593f" d="M554.7,423L516.4,430.4L516.6,425.9L554.5,418.5z"/>
<path color="#ff5d43" d="M554.5,418.5L516.6,425.9L516.4,421.2L554.1,413.9z"/>
<path color="#ff5d43" d="M554.1,413.9L516.4,421.2L515.5,416.5L553.3,409.1z"/>
<path color="#ff5b40" d="M553.3,409.1L515.5,416.5L514.2,411.9L552.2,404.6z"/>
<path color="#ff5439" d="M552.2,404.6L514.2,411.9L512.4,407.7L551,400.4z"/>
<path color="#ff5439" d="M551,400.4L512.4,407.7L510.2,404.1L549.5,396.8z"/>
<path color="#ff5439" d="M549.5,396.8L510.2,404.1L507.8,401.2L548,393.9z"/>
<path color="#ff5439" d="M548,393.9L507.8,401.2L505.2,399.1L546.4,391.9z"/>
<path color="#fb5137" d="M546.4,391.9L505.2,399.1L502.6,398L544.8,390.8z"/>
<path color="#fa5036" d="M544.8,390.8L502.6,398L500,397.9L543.3,390.6z"/>
<path color="#f64d34" d="M749.9,863.6L722.8,862.4L719.7,862.2L746.2,863.2z"/>
<path color="#f74e35" d="M746.2,863.2L719.7,862.2L716.8,861L742.6,861.8z"/>
<path color="#fd5238" d="M742.6,861.8L716.8,861L714.1,858.8L739.3,859.4z"/>
<path color="#ff5439" d="M739.3,859.4L714.1,858.8L711.7,855.8L736.5,856.3z"/>
<path color="#ff5439" d="M736.5,856.3L711.7,855.8L709.8,852.1L734.3,852.4z"/>
<path color="#ff583d" d="M734.3,852.4L709.8,852.1L708.4,847.8L732.8,848z"/>
<path color="#ff6046" d="M732.8,848L708.4,847.8L707.6,843.2L732,843.3z"/>
<path color="#ff6046" d="M732,843.3L707.6,843.2L707.4,838.4L732,838.5z"/>
<path color="#ff5f45" d="M732,838.5L707.4,838.4L707.9,833.7L732.8,833.7z"/>
<path color="#ff553a" d="M732.8,833.7L707.9,833.7L709,829.2L734.4,829.3z"/>
<path color="#ff5439" d="M734.4,829.3L709,829.2L710.7,825.2L736.6,825.3z"/>
<path color="#ff5439" d="M736.6,825.3L710.7,825.2L712.9,821.9L739.5,822.1z"/>
<path color="#ff5439" d="M739.5,822.1L712.9,821.9L715.4,819.3L742.8,819.6z"/>
<path color="#fc5237" d="M742.8,819.6L715.4,819.3L718.3,817.7L746.4,818.1z"/>
<path color="#fa5036" d="M746.4,818.1L718.3,817.7L721.2,816.9L750.1,817.5z"/>
<path color="#f64d34" d="M730.7,562.7L693.2,566.1L691,566.5L727.5,563z"/>
<path color="#f74e34" d="M727.5,563L691,566.5L688.8,565.9L724.4,562.4z"/>
<path color="#fb5136" d="M724.4,562.4L688.8,565.9L686.6,564.4L721.3,560.7z"/>
<path color="#ff5439" d="M721.3,560.7L686.6,564.4L684.6,561.9L718.5,558.2z"/>
<path color="#ff5439" d="M718.5,558.2L684.6,561.9L682.7,558.7L716.1,554.9z"/>
<path color="#ff553a" d="M716.1,554.9L682.7,558.7L681.1,554.8L714.1,550.9z"/>
<path color="#ff5d43" d="M714.1,550.9L681.1,554.8L679.9,550.4L712.7,546.4z"/>
<path color="#ff5e44" d="M712.7,546.4L679.9,550.4L679.1,545.7L711.9,541.7z"/>
<path color="#ff5e44" d="M711.9,541.7L679.1,545.7L678.8,541L711.7,536.9z"/>
<path color="#ff573c" d="M711.7,536.9L678.8,541L678.9,536.4L712.2,532.2z"/>
<path color="#ff5439" d="M712.2,532.2L678.9,536.4L679.5,532.1L713.4,528z"/>
<path color="#ff5439" d="M713.4,528L679.5,532.1L680.6,528.3L715.2,524.2z"/>
<path color="#ff5439" d="M715.2,524.2L680.6,528.3L682,525.3L717.4,521.2z"/>
<path color="#fd5338" d="M717.4,521.2L682,525.3L683.7,523.1L720.1,519z"/>
<path color="#fa5036" d="M720.1,519L683.7,523.1L685.7,521.7L723.1,517.7z"/>
<path color="#fa5036" d="M723.1,517.7L685.7,521.7L687.9,521.4L726.2,517.4z"/>
<path color="#f64d34" d="M478.1,1051.1L458.4,1063.8L461.5,1061.7L480.7,1049.1z"/>
<path color="#f74e34" d="M480.7,1049.1L461.5,1061.7L464,1058.8L482.8,1046.4z"/>
<path color="#fc5237" d="M482.8,1046.4L464,1058.8L465.8,1055.3L484.2,1043z"/>
<path color="#ff5439" d="M484.2,1043L465.8,1055.3L466.7,1051.2L484.8,1039z"/>
<path color="#ff5439" d="M484.8,1039L466.7,1051.2L466.8,1046.8L484.8,1034.7z"/>
<path color="#ff583e" d="M484.8,1034.7L466.8,1046.8L466,1042.3L483.9,1030.1z"/>
<path color="#ff684f" d="M483.9,1030.1L466,1042.3L464.4,1037.8L482.4,1025.6z"/>
<path color="#ff684f" d="M482.4,1025.6L464.4,1037.8L462,1033.6L480.2,1021.3z"/>
<path color="#ff674e" d="M480.2,1021.3L462,1033.6L459,1029.9L477.5,1017.5z"/>
<path color="#ff563c" d="M477.5,1017.5L459,1029.9L455.4,1026.7L474.4,1014.2z"/>
<path color="#ff5439" d="M474.4,1014.2L455.4,1026.7L451.5,1024.3L470.9,1011.6z"/>
<path color="#ff5439" d="M470.9,1011.6L451.5,1024.3L447.4,1022.8L467.4,1009.9z"/>
<path color="#ff5439" d="M467.4,1009.9L447.4,1022.8L443.2,1022.2L463.8,1009z"/>
<path color="#fc5237" d="M463.8,1009L443.2,1022.2L439.3,1022.5L460.5,1009.2z"/>
<path color="#fa5036" d="M460.5,1009.2L439.3,1022.5L435.7,1023.8L457.4,1010.2z"/>
<path color="#f64d34" d="M698.7,262.9L652.8,270L651.7,269.9L696.4,262.8z"/>
<path color="#f84e35" d="M696.4,262.8L651.7,269.9L650.5,268.9L694.1,261.8z"/>
<path color="#fe5338" d="M694.1,261.8L650.5,268.9L649.2,266.9L691.8,259.7z"/>
<path color="#ff5439" d="M691.8,259.7L649.2,266.9L647.9,264L689.6,256.8z"/>
<path color="#ff5439" d="M689.6,256.8L647.9,264L646.7,260.4L687.6,253.2z"/>
<path color="#ff573d" d="M687.6,253.2L646.7,260.4L645.6,256.2L686,249z"/>
<path color="#ff5b40" d="M686,249L645.6,256.2L644.7,251.6L684.7,244.4z"/>
<path color="#ff5b40" d="M684.7,244.4L644.7,251.6L644,246.8L684,239.6z"/>
<path color="#ff593f" d="M684,239.6L644,246.8L643.5,242.1L683.6,234.8z"/>
<path color="#ff5439" d="M683.6,234.8L643.5,242.1L643.2,237.6L683.8,230.3z"/>
<path color="#ff5439" d="M683.8,230.3L643.2,237.6L643.2,233.5L684.5,226.2z"/>
<path color="#ff5439" d="M684.5,226.2L643.2,233.5L643.5,230.1L685.6,222.7z"/>
<path color="#ff5439" d="M685.6,222.7L643.5,230.1L644.1,227.4L687.2,220z"/>
<path color="#fb5137" d="M687.2,220L644.1,227.4L644.9,225.6L689,218.2z"/>
<path color="#fa5036" d="M689,218.2L644.9,225.6L645.8,224.8L691.1,217.4z"/>
<path color="#f64d34" d="M508.9,593.5L477,602.4L480,600.8L511.1,592z"/>
<path color="#fa5036" d="M511.1,592L480,600.8L482.6,598.3L512.9,589.6z"/>
<path color="#ff5439" d="M512.9,589.6L482.6,598.3L484.6,595.1L514.2,586.5z"/>
<path color="#ff5439" d="M514.2,586.5L484.6,595.1L485.9,591.2L515.1,582.6z"/>
<path color="#ff5439" d="M515.1,582.6L485.9,591.2L486.6,586.8L515.3,578.3z"/>
<path color="#ff6147" d="M515.3,578.3L486.6,586.8L486.5,582.2L515.1,573.7z"/>
<path color="#ff6249" d="M515.1,573.7L486.5,582.2L485.6,577.5L514.2,569z"/>
<path color="#ff6249" d="M514.2,569L485.6,577.5L484.1,572.9L512.9,564.4z"/>
<path color="#ff593f" d="M512.9,564.4L484.1,572.9L481.9,568.6L511.1,560.2z"/>
<path color="#ff5439" d="M511.1,560.2L481.9,568.6L479.2,564.9L508.9,556.5z"/>
<path color="#ff5439" d="M508.9,556.5L479.2,564.9L476.1,561.9L506.5,553.4z"/>
<path color="#ff5439" d="M506.5,553.4L476.1,561.9L472.7,559.7L503.8,551.2z"/>
<path color="#fd5338" d="M503.8,551.2L472.7,559.7L469.2,558.4L501.2,549.9z"/>
<path color="#fa5036" d="M501.2,549.9L469.2,558.4L465.7,558.1L498.6,549.5z"/>
<path color="#fa5036" d="M498.6,549.5L465.7,558.1L462.4,558.8L496.1,550.1z"/>
<path color="#f64d34" d="M552.9,283.8L509.5,290.2L511.9,289.2L554.2,282.8z"/>
<path color="#fa5036" d="M554.2,282.8L511.9,289.2L513.9,287.2L555.2,280.8z"/>
<path color="#ff5439" d="M555.2,280.8L513.9,287.2L515.7,284.3L556,277.9z"/>
<path color="#ff5439" d="M556,277.9L515.7,284.3L517,280.7L556.5,274.4z"/>
<path color="#ff5439" d="M556.5,274.4L517,280.7L517.7,276.5L556.6,270.2z"/>
<path color="#ff5c42" d="M556.6,270.2L517.7,276.5L518,271.9L556.5,265.6z"/>
<path color="#ff5d43" d="M556.5,265.6L518,271.9L517.7,267.1L556,260.8z"/>
<path color="#ff5d43" d="M556,260.8L517.7,267.1L516.9,262.3L555.2,256.1z"/>
<path color="#ff583d" d="M555.2,256.1L516.9,262.3L515.5,257.7L554.2,251.5z"/>
<path color="#ff5439" d="M554.2,251.5L515.5,257.7L513.8,253.6L552.9,247.5z"/>
<path color="#ff5439" d="M552.9,247.5L513.8,253.6L511.6,250.1L551.5,244z"/>
<path color="#ff5439" d="M551.5,244L511.6,250.1L509.2,247.3L550,241.3z"/>
<path color="#fe5338" d="M550,241.3L509.2,247.3L506.7,245.5L548.5,239.5z"/>
<path color="#fa5036" d="M548.5,239.5L506.7,245.5L504.1,244.6L547,238.6z"/>
<path color="#fa5036" d="M547,238.6L504.1,244.6L501.6,244.7L545.6,238.7z"/>
<path color="#f64d34" d="M761.8,1015.3L744.2,1012L740.7,1010.7L757.8,1013.9z"/>
<path color="#f94f35" d="M757.8,1013.9L740.7,1010.7L737.5,1008.6L754.2,1011.5z"/>
<path color="#ff5439" d="M754.2,1011.5L737.5,1008.6L734.7,1005.5L751.1,1008.3z"/>
<path color="#ff5439" d="M751.1,1008.3L734.7,1005.5L732.5,1001.8L748.8,1004.3z"/>
<path color="#ff5439" d="M748.8,1004.3L732.5,1001.8L731,997.5L747.2,999.9z"/>
<path color="#ff5f45" d="M747.2,999.9L731,997.5L730.2,992.8L746.5,995.2z"/>
<path color="#ff6249" d="M746.5,995.2L730.2,992.8L730.2,988L746.6,990.3z"/>
<path color="#ff6249" d="M746.6,990.3L730.2,988L731,983.2L747.7,985.5z"/>
<path color="#ff5c42" d="M747.7,985.5L731,983.2L732.5,978.7L749.6,981z"/>
<path color="#ff5439" d="M749.6,981L732.5,978.7L734.7,974.7L752.2,977.1z"/>
<path color="#ff5439" d="M752.2,977.1L734.7,974.7L737.5,971.3L755.5,973.8z"/>
<path color="#ff5439" d="M755.5,973.8L737.5,971.3L740.8,968.7L759.2,971.4z"/>
<path color="#fe5339" d="M759.2,971.4L740.8,968.7L744.3,967L763.3,969.8z"/>
<path color="#fb5136" d="M763.3,969.8L744.3,967L748,966.2L767.5,969.3z"/>
<path color="#fa5036" d="M767.5,969.3L748,966.2L751.7,966.5L771.7,969.8z"/>
<path color="#f64d34" d="M478.7,902.5L458.4,913.8L461.5,911.5L481.3,900.4z"/>
<path color="#f84f35" d="M481.3,900.4L461.5,911.5L464,908.5L483.3,897.5z"/>
<path color="#fe5439" d="M483.3,897.5L464,908.5L465.8,904.8L484.7,893.9z"/>
<path color="#ff5439" d="M484.7,893.9L465.8,904.8L466.7,900.6L485.4,889.8z"/>
<path color="#ff5439" d="M485.4,889.8L466.7,900.6L466.8,896.1L485.3,885.4z"/>
<path color="#ff6047" d="M485.3,885.4L466.8,896.1L466,891.5L484.5,880.8z"/>
<path color="#ff684f" d="M484.5,880.8L466,891.5L464.4,887L482.9,876.2z"/>
<path color="#ff684f" d="M482.9,876.2L464.4,887L462,882.8L480.8,872z"/>
<path color="#ff6248" d="M480.8,872L462,882.8L458.9,879.1L478.1,868.1z"/>
<path color="#ff5439" d="M478.1,868.1L458.9,879.1L455.4,876L474.9,864.9z"/>
<path color="#ff5439" d="M474.9,864.9L455.4,876L451.4,873.6L471.5,862.5z"/>
<path color="#ff5439" d="M471.5,862.5L451.4,873.6L447.3,872.2L467.9,860.9z"/>
<path color="#ff5439" d="M467.9,860.9L447.3,872.2L443.2,871.7L464.4,860.2z"/>
<path color="#fb5137" d="M464.4,860.2L443.2,871.7L439.2,872.2L461.1,860.5z"/>
<path color="#fa5036" d="M461.1,860.5L439.2,872.2L435.6,873.6L458.1,861.8z"/>
<path color="#f64d34" d="M752,713L725.2,713.6L722.1,713.2L748.1,712.5z"/>
<path color="#f94f35" d="M748.1,712.5L722.1,713.2L719.1,711.8L744.5,710.9z"/>
<path color="#ff5439" d="M744.5,710.9L719.1,711.8L716.3,709.4L741.2,708.4z"/>
<path color="#ff5439" d="M741.2,708.4L716.3,709.4L713.9,706.3L738.3,705.1z"/>
<path color="#ff5439" d="M738.3,705.1L713.9,706.3L711.9,702.4L736.1,701.2z"/>
<path color="#ff5d43" d="M736.1,701.2L711.9,702.4L710.5,698.1L734.6,696.7z"/>
<path color="#ff6047" d="M734.6,696.7L710.5,698.1L709.7,693.4L733.8,691.9z"/>
<path color="#ff6047" d="M733.8,691.9L709.7,693.4L709.6,688.6L733.8,687.1z"/>
<path color="#ff5b41" d="M733.8,687.1L709.6,688.6L710.1,683.9L734.6,682.4z"/>
<path color="#ff5439" d="M734.6,682.4L710.1,683.9L711.2,679.5L736.2,678z"/>
<path color="#ff5439" d="M736.2,678L711.2,679.5L712.9,675.7L738.5,674.1z"/>
<path color="#ff5439" d="M738.5,674.1L712.9,675.7L715.1,672.5L741.4,671z"/>
<path color="#fe5339" d="M741.4,671L715.1,672.5L717.8,670.1L744.7,668.7z"/>
<path color="#fb5136" d="M744.7,668.7L717.8,670.1L720.7,668.6L748.4,667.3z"/>
<path color="#fa5036" d="M748.4,667.3L720.7,668.6L723.7,668.1L752.2,666.9z"/>
<path color="#f64d34" d="M733.1,410.4L695.9,415.4L693.7,415.6L729.9,410.5z"/>
<path color="#f74e35" d="M729.9,410.5L693.7,415.6L691.4,414.8L726.7,409.6z"/>
<path color="#fd5338" d="M726.7,409.6L691.4,414.8L689.2,413L723.6,407.8z"/>
<path color="#ff5439" d="M723.6,407.8L689.2,413L687.1,410.3L720.7,405.1z"/>
<path color="#ff5439" d="M720.7,405.1L687.1,410.3L685.2,406.9L718.2,401.6z"/>
<path color="#ff573d" d="M718.2,401.6L685.2,406.9L683.6,402.8L716.2,397.5z"/>
<path color="#ff5e44" d="M716.2,397.5L683.6,402.8L682.3,398.3L714.8,392.9z"/>
<path color="#ff5e44" d="M714.8,392.9L682.3,398.3L681.5,393.6L714,388.1z"/>
<path color="#ff5d43" d="M714,388.1L681.5,393.6L681.2,388.8L713.9,383.3z"/>
<path color="#ff5439" d="M713.9,383.3L681.2,388.8L681.4,384.3L714.4,378.7z"/>
<path color="#ff5439" d="M714.4,378.7L681.4,384.3L682,380.1L715.6,374.5z"/>
<path color="#ff5439" d="M715.6,374.5L682,380.1L683.1,376.5L717.4,370.9z"/>
<path color="#ff5439" d="M717.4,370.9L683.1,376.5L684.6,373.6L719.7,368z"/>
<path color="#fc5137" d="M719.7,368L684.6,373.6L686.4,371.6L722.5,365.9z"/>
<path color="#fa5036" d="M722.5,365.9L686.4,371.6L688.4,370.5L725.5,364.9z"/>
<path color="#f64d34" d="M508,442.9L474.5,450.3L477.8,449.4L510.4,442.1z"/>
<path color="#f74e34" d="M510.4,442.1L477.8,449.4L480.7,447.7L512.5,440.4z"/>
<path color="#fd5238" d="M512.5,440.4L480.7,447.7L483.3,445L514.2,437.8z"/>
<path color="#ff5439" d="M514.2,437.8L483.3,445L485.2,441.6L515.6,434.4z"/>
<path color="#ff5439" d="M515.6,434.4L485.2,441.6L486.6,437.5L516.4,430.4z"/>
<path color="#ff583d" d="M516.4,430.4L486.6,437.5L487.2,433L516.6,425.9z"/>
<path color="#ff6248" d="M516.6,425.9L487.2,433L487.1,428.2L516.4,421.2z"/>
<path color="#ff6248" d="M516.4,421.2L487.1,428.2L486.3,423.5L515.5,416.5z"/>
<path color="#ff6147" d="M515.5,416.5L486.3,423.5L484.7,418.9L514.2,411.9z"/>
<path color="#ff553a" d="M514.2,411.9L484.7,418.9L482.6,414.6L512.4,407.7z"/>
<path color="#ff5439" d="M512.4,407.7L482.6,414.6L479.9,411L510.2,404.1z"/>
<path color="#ff5439" d="M510.2,404.1L479.9,411L476.8,408.1L507.8,401.2z"/>
<path color="#ff5439" d="M507.8,401.2L476.8,408.1L473.4,406L505.2,399.1z"/>
<path color="#fc5237" d="M505.2,399.1L473.4,406L469.9,404.9L502.6,398z"/>
<path color="#fa5036" d="M502.6,398L469.9,404.9L466.4,404.8L500,397.9z"/>
<path color="#f64d34" d="M476.3,753.8L454.8,763.7L458.4,762.2L479.3,752.4z"/>
<path color="#f74e34" d="M479.3,752.4L458.4,762.2L461.6,759.8L481.9,750.1z"/>
<path color="#fb5137" d="M481.9,750.1L461.6,759.8L464,756.6L483.9,747.1z"/>
<path color="#ff5439" d="M483.9,747.1L464,756.6L465.8,752.8L485.3,743.3z"/>
<path color="#ff5439" d="M485.3,743.3L465.8,752.8L466.7,748.5L486,739.1z"/>
<path color="#ff553a" d="M486,739.1L466.7,748.5L466.8,743.9L485.9,734.6z"/>
<path color="#ff674e" d="M485.9,734.6L466.8,743.9L466,739.2L485,729.9z"/>
<path color="#ff674f" d="M485,729.9L466,739.2L464.4,734.7L483.5,725.3z"/>
<path color="#ff674f" d="M483.5,725.3L464.4,734.7L462,730.4L481.3,721.1z"/>
<path color="#ff593f" d="M481.3,721.1L462,730.4L458.9,726.7L478.6,717.3z"/>
<path color="#ff5439" d="M478.6,717.3L458.9,726.7L455.4,723.7L475.5,714.2z"/>
<path color="#ff5439" d="M475.5,714.2L455.4,723.7L451.4,721.4L472.1,711.9z"/>
<path color="#ff5439" d="M472.1,711.9L451.4,721.4L447.3,720.1L468.6,710.4z"/>
<path color="#fd5238" d="M468.6,710.4L447.3,720.1L443.2,719.7L465.1,709.9z"/>
<path color="#fa5036" d="M465.1,709.9L443.2,719.7L439.2,720.3L461.7,710.4z"/>
<path color="#fa5036" d="M461.7,710.4L439.2,720.3L435.6,721.9L458.7,711.8z"/>
<path color="#f64d34" d="M767.7,865.4L749.9,863.6L746.2,863.2L763.4,864.8z"/>
<path color="#f74e34" d="M763.4,864.8L746.2,863.2L742.6,861.8L759.4,863.2z"/>
<path color="#fc5237" d="M759.4,863.2L742.6,861.8L739.3,859.4L755.7,860.7z"/>
<path color="#ff5439" d="M755.7,860.7L739.3,859.4L736.5,856.3L752.7,857.4z"/>
<path color="#ff5439" d="M752.7,857.4L736.5,856.3L734.3,852.4L750.3,853.4z"/>
<path color="#ff573d" d="M750.3,853.4L734.3,852.4L732.8,848L748.7,848.9z"/>
<path color="#ff6249" d="M748.7,848.9L732.8,848L732,843.3L747.9,844.1z"/>
<path color="#ff6249" d="M747.9,844.1L732,843.3L732,838.5L748.1,839.3z"/>
<path color="#ff6248" d="M748.1,839.3L732,838.5L732.8,833.7L749.2,834.5z"/>
<path color="#ff563b" d="M749.2,834.5L732.8,833.7L734.4,829.3L751.1,830.1z"/>
<path color="#ff5439" d="M751.1,830.1L734.4,829.3L736.6,825.3L753.8,826.2z"/>
<path color="#ff5439" d="M753.8,826.2L736.6,825.3L739.5,822.1L757.1,823z"/>
<path color="#ff5439" d="M757.1,823L739.5,822.1L742.8,819.6L760.9,820.7z"/>
<path color="#fc5237" d="M760.9,820.7L742.8,819.6L746.4,818.1L765,819.3z"/>
<path color="#fa5036" d="M765,819.3L746.4,818.1L750.1,817.5L769.3,818.9z"/>
<path color="#fa5036" d="M769.3,818.9L750.1,817.5L753.9,818L773.5,819.5z"/>
<path color="#f64d34" d="M461.5,1061.7L449.8,1072.6L452.6,1069.6L464,1058.8z"/>
<path color="#f84e35" d="M464,1058.8L452.6,1069.6L454.6,1065.9L465.8,1055.3z"/>
<path color="#fe5338" d="M465.8,1055.3L454.6,1065.9L455.8,1061.8L466.7,1051.2z"/>
<path color="#ff5439" d="M466.7,1051.2L455.8,1061.8L456,1057.3L466.8,1046.8z"/>
<path color="#ff5439" d="M466.8,1046.8L456,1057.3L455.3,1052.8L466,1042.3z"/>
<path color="#ff5e44" d="M466,1042.3L455.3,1052.8L453.6,1048.4L464.4,1037.8z"/>
<path color="#ff6950" d="M464.4,1037.8L453.6,1048.4L451.1,1044.2L462,1033.6z"/>
<path color="#ff6950" d="M462,1033.6L451.1,1044.2L447.9,1040.6L459,1029.9z"/>
<path color="#ff654c" d="M459,1029.9L447.9,1040.6L444.1,1037.6L455.4,1026.7z"/>
<path color="#ff5439" d="M455.4,1026.7L444.1,1037.6L439.8,1035.3L451.5,1024.3z"/>
<path color="#ff5439" d="M451.5,1024.3L439.8,1035.3L435.4,1034L447.4,1022.8z"/>
<path color="#ff5439" d="M447.4,1022.8L435.4,1034L430.9,1033.6L443.2,1022.2z"/>
<path color="#ff5439" d="M443.2,1022.2L430.9,1033.6L426.5,1034.1L439.3,1022.5z"/>
<path color="#fb5137" d="M439.3,1022.5L426.5,1034.1L422.5,1035.5L435.7,1023.8z"/>
<path color="#fa5036" d="M435.7,1023.8L422.5,1035.5L419.1,1037.8L432.6,1025.9z"/>
<path color="#fa5036" d="M757.8,560.3L730.7,562.7L727.5,563L754,560.6z"/>
<path color="#fa5036" d="M754,560.6L727.5,563L724.4,562.4L750.1,559.9z"/>
<path color="#fd5238" d="M750.1,559.9L724.4,562.4L721.3,560.7L746.4,558.1z"/>
<path color="#ff5439" d="M746.4,558.1L721.3,560.7L718.5,558.2L743,555.5z"/>
<path color="#ff5439" d="M743,555.5L718.5,558.2L716.1,554.9L740.2,552.1z"/>
<path color="#ff5439" d="M740.2,552.1L716.1,554.9L714.1,550.9L737.9,548z"/>
<path color="#ff583d" d="M737.9,548L714.1,550.9L712.7,546.4L736.3,543.5z"/>
<path color="#ff6047" d="M736.3,543.5L712.7,546.4L711.9,541.7L735.6,538.7z"/>
<path color="#ff6047" d="M735.6,538.7L711.9,541.7L711.7,536.9L735.6,533.8z"/>
<path color="#ff6046" d="M735.6,533.8L711.7,536.9L712.2,532.2L736.5,529.1z"/>
<path color="#ff553a" d="M736.5,529.1L712.2,532.2L713.4,528L738.1,524.8z"/>
<path color="#ff5439" d="M738.1,524.8L713.4,528L715.2,524.2L740.4,521.1z"/>
<path color="#ff5439" d="M740.4,521.1L715.2,524.2L717.4,521.2L743.3,518z"/>
<path color="#fb5136" d="M743.3,518L717.4,521.2L720.1,519L746.7,515.9z"/>
<path color="#f74e34" d="M746.7,515.9L720.1,519L723.1,517.7L750.4,514.6z"/>
<path color="#f64d34" d="M750.4,514.6L723.1,517.7L726.2,517.4L754.3,514.4z"/>
<path color="#f64d34" d="M735.6,256.1L698.7,262.9L696.4,262.8L732.3,256z"/>
<path color="#f94f35" d="M732.3,256L696.4,262.8L694.1,261.8L729,255z"/>
<path color="#ff5439" d="M729,255L694.1,261.8L691.8,259.7L725.9,252.9z"/>
<path color="#ff5439" d="M725.9,252.9L691.8,259.7L689.6,256.8L723,250z"/>
<path color="#ff5439" d="M723,250L689.6,256.8L687.6,253.2L720.4,246.3z"/>
<path color="#ff5c41" d="M720.4,246.3L687.6,253.2L686,249L718.4,242.1z"/>
<path color="#ff5e44" d="M718.4,242.1L686,249L684.7,244.4L716.9,237.4z"/>
<path color="#ff5e44" d="M716.9,237.4L684.7,244.4L684,239.6L716.1,232.6z"/>
<path color="#ff5a3f" d="M716.1,232.6L684,239.6L683.6,234.8L716,227.8z"/>
<path color="#ff5439" d="M716,227.8L683.6,234.8L683.8,230.3L716.6,223.2z"/>
<path color="#ff5439" d="M716.6,223.2L683.8,230.3L684.5,226.2L717.8,219.1z"/>
<path color="#ff5439" d="M717.8,219.1L684.5,226.2L685.6,222.7L719.6,215.6z"/>
<path color="#fe5339" d="M719.6,215.6L685.6,222.7L687.2,220L722,212.8z"/>
<path color="#fb5136" d="M722,212.8L687.2,220L689,218.2L724.8,211z"/>
<path color="#fa5036" d="M724.8,211L689,218.2L691.1,217.4L727.9,210.1z"/>
<path color="#f64d34" d="M509.5,290.2L475.3,296L478.5,294.9L511.9,289.2z"/>
<path color="#f94f35" d="M511.9,289.2L478.5,294.9L481.5,292.9L513.9,287.2z"/>
<path color="#ff5439" d="M513.9,287.2L481.5,292.9L484,290.1L515.7,284.3z"/>
<path color="#ff5439" d="M515.7,284.3L484,290.1L486,286.4L517,280.7z"/>
<path color="#ff5439" d="M517,280.7L486,286.4L487.3,282.2L517.7,276.5z"/>
<path color="#ff5e44" d="M517.7,276.5L487.3,282.2L487.9,277.6L518,271.9z"/>
<path color="#ff6248" d="M518,271.9L487.9,277.6L487.8,272.7L517.7,267.1z"/>
<path color="#ff6248" d="M517.7,267.1L487.8,272.7L486.9,267.9L516.9,262.3z"/>
<path color="#ff5c42" d="M516.9,262.3L486.9,267.9L485.4,263.2L515.5,257.7z"/>
<path color="#ff5439" d="M515.5,257.7L485.4,263.2L483.2,259L513.8,253.6z"/>
<path color="#ff5439" d="M513.8,253.6L483.2,259L480.5,255.5L511.6,250.1z"/>
<path color="#ff5439" d="M511.6,250.1L480.5,255.5L477.5,252.7L509.2,247.3z"/>
<path color="#fe5439" d="M509.2,247.3L477.5,252.7L474.1,250.8L506.7,245.5z"/>
<path color="#fb5137" d="M506.7,245.5L474.1,250.8L470.6,249.8L504.1,244.6z"/>
<path color="#fa5036" d="M504.1,244.6L470.6,249.8L467.2,249.9L501.6,244.7z"/>
<path color="#f64d34" d="M477,602.4L454.9,610.7L458.5,609L480,600.8z"/>
<path color="#f84e35" d="M480,600.8L458.5,609L461.6,606.5L482.6,598.3z"/>
<path color="#fe5338" d="M482.6,598.3L461.6,606.5L464.1,603.1L484.6,595.1z"/>
<path color="#ff5439" d="M484.6,595.1L464.1,603.1L465.8,599.2L485.9,591.2z"/>
<path color="#ff5439" d="M485.9,591.2L465.8,599.2L466.8,594.7L486.6,586.8z"/>
<path color="#ff5d43" d="M486.6,586.8L466.8,594.7L466.8,590L486.5,582.2z"/>
<path color="#ff674e" d="M486.5,582.2L466.8,590L466,585.3L485.6,577.5z"/>
<path color="#ff674e" d="M485.6,577.5L466,585.3L464.4,580.7L484.1,572.9z"/>
<path color="#ff644a" d="M484.1,572.9L464.4,580.7L462,576.5L481.9,568.6z"/>
<path color="#ff5439" d="M481.9,568.6L462,576.5L458.9,572.8L479.2,564.9z"/>
<path color="#ff5439" d="M479.2,564.9L458.9,572.8L455.4,569.8L476.1,561.9z"/>
<path color="#ff5439" d="M476.1,561.9L455.4,569.8L451.4,567.6L472.7,559.7z"/>
<path color="#ff5439" d="M472.7,559.7L451.4,567.6L447.3,566.4L469.2,558.4z"/>
<path color="#fb5137" d="M469.2,558.4L447.3,566.4L443.2,566.2L465.7,558.1z"/>
<path color="#fa5036" d="M465.7,558.1L443.2,566.2L439.3,566.9L462.4,558.8z"/>
<path color="#f64d34" d="M772.1,1018.5L761.8,1015.3L757.8,1013.9L767.8,1016.9z"/>
<path color="#f74e35" d="M767.8,1016.9L757.8,1013.9L754.2,1011.5L764,1014.3z"/>
<path color="#fd5338" d="M764,1014.3L754.2,1011.5L751.1,1008.3L760.8,1010.9z"/>
<path color="#ff5439" d="M760.8,1010.9L751.1,1008.3L748.8,1004.3L758.3,1006.9z"/>
<path color="#ff5439" d="M758.3,1006.9L748.8,1004.3L747.2,999.9L756.7,1002.4z"/>
<path color="#ff5a3f" d="M756.7,1002.4L747.2,999.9L746.5,995.2L756,997.5z"/>
<path color="#ff634a" d="M756,997.5L746.5,995.2L746.6,990.3L756.3,992.6z"/>
<path color="#ff634a" d="M756.3,992.6L746.6,990.3L747.7,985.5L757.6,987.8z"/>
<path color="#ff6147" d="M757.6,987.8L747.7,985.5L749.6,981L759.7,983.4z"/>
<path color="#ff5439" d="M759.7,983.4L749.6,981L752.2,977.1L762.6,979.5z"/>
<path color="#ff5439" d="M762.6,979.5L752.2,977.1L755.5,973.8L766.2,976.4z"/>
<path color="#ff5439" d="M766.2,976.4L755.5,973.8L759.2,971.4L770.3,974.1z"/>
<path color="#ff5439" d="M770.3,974.1L759.2,971.4L763.3,969.8L774.7,972.7z"/>
<path color="#fc5137" d="M774.7,972.7L763.3,969.8L767.5,969.3L779.3,972.3z"/>
<path color="#fa5036" d="M779.3,972.3L767.5,969.3L771.7,969.8L783.8,973z"/>
<path color="#f64d34" d="M458.4,913.8L445.9,923.6L449.4,921.2L461.5,911.5z"/>
<path color="#f64d34" d="M461.5,911.5L449.4,921.2L452.2,918L464,908.5z"/>
<path color="#fa5036" d="M464,908.5L452.2,918L454.2,914.2L465.8,904.8z"/>
<path color="#ff5439" d="M465.8,904.8L454.2,914.2L455.4,910L466.7,900.6z"/>
<path color="#ff5439" d="M466.7,900.6L455.4,910L455.6,905.4L466.8,896.1z"/>
<path color="#ff5439" d="M466.8,896.1L455.6,905.4L454.8,900.8L466,891.5z"/>
<path color="#ff674e" d="M466,891.5L454.8,900.8L453.2,896.3L464.4,887z"/>
<path color="#ff6950" d="M464.4,887L453.2,896.3L450.7,892.2L462,882.8z"/>
<path color="#ff6950" d="M462,882.8L450.7,892.2L447.4,888.5L458.9,879.1z"/>
<path color="#ff5d43" d="M458.9,879.1L447.4,888.5L443.6,885.5L455.4,876z"/>
<path color="#ff5439" d="M455.4,876L443.6,885.5L439.4,883.3L451.4,873.6z"/>
<path color="#ff5439" d="M451.4,873.6L439.4,883.3L434.9,882L447.3,872.2z"/>
<path color="#ff5439" d="M447.3,872.2L434.9,882L430.4,881.7L443.2,871.7z"/>
<path color="#fe5338" d="M443.2,871.7L430.4,881.7L426,882.3L439.2,872.2z"/>
<path color="#fa5036" d="M439.2,872.2L426,882.3L422,883.8L435.6,873.6z"/>
<path color="#fa5036" d="M435.6,873.6L422,883.8L418.5,886.3L432.5,875.8z"/>
<path color="#f64d34" d="M769.3,713.1L752,713L748.1,712.5L765,712.4z"/>
<path color="#f94f36" d="M765,712.4L748.1,712.5L744.5,710.9L761,710.7z"/>
<path color="#ff5439" d="M761,710.7L744.5,710.9L741.2,708.4L757.3,708.1z"/>
<path color="#ff5439" d="M757.3,708.1L741.2,708.4L738.3,705.1L754.2,704.7z"/>
<path color="#ff5439" d="M754.2,704.7L738.3,705.1L736.1,701.2L751.7,700.6z"/>
<path color="#ff6046" d="M751.7,700.6L736.1,701.2L734.6,696.7L750.1,696.1z"/>
<path color="#ff6249" d="M750.1,696.1L734.6,696.7L733.8,691.9L749.4,691.2z"/>
<path color="#ff6249" d="M749.4,691.2L733.8,691.9L733.8,687.1L749.6,686.3z"/>
<path color="#ff5c41" d="M749.6,686.3L733.8,687.1L734.6,682.4L750.7,681.6z"/>
<path color="#ff5439" d="M750.7,681.6L734.6,682.4L736.2,678L752.6,677.2z"/>
<path color="#ff5439" d="M752.6,677.2L736.2,678L738.5,674.1L755.3,673.4z"/>
<path color="#ff5439" d="M755.3,673.4L738.5,674.1L741.4,671L758.7,670.3z"/>
<path color="#fe5338" d="M758.7,670.3L741.4,671L744.7,668.7L762.5,668.1z"/>
<path color="#fa5136" d="M762.5,668.1L744.7,668.7L748.4,667.3L766.7,666.8z"/>
<path color="#fa5036" d="M766.7,666.8L748.4,667.3L752.2,666.9L771,666.5z"/>
<path color="#f64d34" d="M759.9,406.1L733.1,410.4L729.9,410.5L756,406.2z"/>
<path color="#f84f35" d="M756,406.2L729.9,410.5L726.7,409.6L752,405.3z"/>
<path color="#fe5439" d="M752,405.3L726.7,409.6L723.6,407.8L748.3,403.4z"/>
<path color="#ff5439" d="M748.3,403.4L723.6,407.8L720.7,405.1L744.9,400.6z"/>
<path color="#ff5439" d="M744.9,400.6L720.7,405.1L718.2,401.6L742,397.1z"/>
<path color="#ff5c42" d="M742,397.1L718.2,401.6L716.2,397.5L739.7,392.9z"/>
<path color="#ff6147" d="M739.7,392.9L716.2,397.5L714.8,392.9L738.1,388.3z"/>
<path color="#ff6147" d="M738.1,388.3L714.8,392.9L714,388.1L737.3,383.4z"/>
<path color="#ff5d43" d="M737.3,383.4L714,388.1L713.9,383.3L737.4,378.6z"/>
<path color="#ff5439" d="M737.4,378.6L713.9,383.3L714.4,378.7L738.3,373.9z"/>
<path color="#ff5439" d="M738.3,373.9L714.4,378.7L715.6,374.5L739.9,369.7z"/>
<path color="#ff5439" d="M739.9,369.7L715.6,374.5L717.4,370.9L742.3,366z"/>
<path color="#ff5439" d="M742.3,366L717.4,370.9L719.7,368L745.3,363.1z"/>
<path color="#fb5137" d="M745.3,363.1L719.7,368L722.5,365.9L748.7,361.1z"/>
<path color="#fa5036" d="M748.7,361.1L722.5,365.9L725.5,364.9L752.5,360z"/>
<path color="#f64d34" d="M474.5,450.3L451,457L455,456.1L477.8,449.4z"/>
<path color="#f64d34" d="M477.8,449.4L455,456.1L458.6,454.3L480.7,447.7z"/>
<path color="#fa5036" d="M480.7,447.7L458.6,454.3L461.7,451.5L483.3,445z"/>
<path color="#ff5439" d="M483.3,445L461.7,451.5L464.2,448.1L485.2,441.6z"/>
<path color="#ff5439" d="M485.2,441.6L464.2,448.1L465.9,443.9L486.6,437.5z"/>
<path color="#ff5439" d="M486.6,437.5L465.9,443.9L466.8,439.4L487.2,433z"/>
<path color="#ff664d" d="M487.2,433L466.8,439.4L466.9,434.6L487.1,428.2z"/>
<path color="#ff674e" d="M487.1,428.2L466.9,434.6L466.1,429.8L486.3,423.5z"/>
<path color="#ff674e" d="M486.3,423.5L466.1,429.8L464.4,425.1L484.7,418.9z"/>
<path color="#ff5b41" d="M484.7,418.9L464.4,425.1L462,420.9L482.6,414.6z"/>
<path color="#ff5439" d="M482.6,414.6L462,420.9L459,417.2L479.9,411z"/>
<path color="#ff5439" d="M479.9,411L459,417.2L455.4,414.3L476.8,408.1z"/>
<path color="#ff5439" d="M476.8,408.1L455.4,414.3L451.5,412.2L473.4,406z"/>
<path color="#fd5338" d="M473.4,406L451.5,412.2L447.4,411.2L469.9,404.9z"/>
<path color="#fa5036" d="M469.9,404.9L447.4,411.2L443.2,411.1L466.4,404.8z"/>
<path color="#fa5036" d="M466.4,404.8L443.2,411.1L439.3,412L463.2,405.7z"/>
<path color="#f64d34" d="M452.6,1069.6L446.3,1078.2L448.5,1074.4L454.6,1065.9z"/>
<path color="#f84f35" d="M454.6,1065.9L448.5,1074.4L449.8,1070.2L455.8,1061.8z"/>
<path color="#ff5439" d="M455.8,1061.8L449.8,1070.2L450.1,1065.7L456,1057.3z"/>
<path color="#ff5439" d="M456,1057.3L450.1,1065.7L449.4,1061.2L455.3,1052.8z"/>
<path color="#ff5439" d="M455.3,1052.8L449.4,1061.2L447.8,1056.8L453.6,1048.4z"/>
<path color="#ff6047" d="M453.6,1048.4L447.8,1056.8L445.2,1052.7L451.1,1044.2z"/>
<path color="#ff674e" d="M451.1,1044.2L445.2,1052.7L441.9,1049.1L447.9,1040.6z"/>
<path color="#ff674e" d="M447.9,1040.6L441.9,1049.1L438,1046.3L444.1,1037.6z"/>
<path color="#ff6147" d="M444.1,1037.6L438,1046.3L433.6,1044.2L439.8,1035.3z"/>
<path color="#ff5439" d="M439.8,1035.3L433.6,1044.2L428.9,1042.9L435.4,1034z"/>
<path color="#ff5439" d="M435.4,1034L428.9,1042.9L424.2,1042.7L430.9,1033.6z"/>
<path color="#ff5439" d="M430.9,1033.6L424.2,1042.7L419.6,1043.3L426.5,1034.1z"/>
<path color="#ff5439" d="M426.5,1034.1L419.6,1043.3L415.3,1044.9L422.5,1035.5z"/>
<path color="#fb5137" d="M422.5,1035.5L415.3,1044.9L411.7,1047.4L419.1,1037.8z"/>
<path color="#fa5036" d="M419.1,1037.8L411.7,1047.4L408.7,1050.6L416.3,1040.9z"/>
<path color="#f64d34" d="M458.4,762.2L445.5,770.6L449,768.1L461.6,759.8z"/>
<path color="#f74e35" d="M461.6,759.8L449,768.1L451.8,764.8L464,756.6z"/>
<path color="#fd5238" d="M464,756.6L451.8,764.8L453.8,760.9L465.8,752.8z"/>
<path color="#ff5439" d="M465.8,752.8L453.8,760.9L455,756.6L466.7,748.5z"/>
<path color="#ff5439" d="M466.7,748.5L455,756.6L455.2,751.9L466.8,743.9z"/>
<path color="#ff5b41" d="M466.8,743.9L455.2,751.9L454.4,747.2L466,739.2z"/>
<path color="#ff6950" d="M466,739.2L454.4,747.2L452.7,742.7L464.4,734.7z"/>
<path color="#ff6950" d="M464.4,734.7L452.7,742.7L450.2,738.5L462,730.4z"/>
<path color="#ff674e" d="M462,730.4L450.2,738.5L447,734.8L458.9,726.7z"/>
<path color="#ff553a" d="M458.9,726.7L447,734.8L443.1,731.8L455.4,723.7z"/>
<path color="#ff5439" d="M455.4,723.7L443.1,731.8L438.9,729.7L451.4,721.4z"/>
<path color="#ff5439" d="M451.4,721.4L438.9,729.7L434.4,728.5L447.3,720.1z"/>
<path color="#ff5439" d="M447.3,720.1L434.4,728.5L429.9,728.2L443.2,719.7z"/>
<path color="#fc5137" d="M443.2,719.7L429.9,728.2L425.5,728.9L439.2,720.3z"/>
<path color="#fa5036" d="M439.2,720.3L425.5,728.9L421.5,730.6L435.6,721.9z"/>
<path color="#f64d34" d="M778,867.3L767.7,865.4L763.4,864.8L773.4,866.6z"/>
<path color="#f74e34" d="M773.4,866.6L763.4,864.8L759.4,863.2L769.1,864.8z"/>
<path color="#fb5137" d="M769.1,864.8L759.4,863.2L755.7,860.7L765.3,862.2z"/>
<path color="#ff5439" d="M765.3,862.2L755.7,860.7L752.7,857.4L762,858.7z"/>
<path color="#ff5439" d="M762,858.7L752.7,857.4L750.3,853.4L759.6,854.6z"/>
<path color="#ff553a" d="M759.6,854.6L750.3,853.4L748.7,848.9L758,850z"/>
<path color="#ff6249" d="M758,850L748.7,848.9L747.9,844.1L757.3,845.2z"/>
<path color="#ff6349" d="M757.3,845.2L747.9,844.1L748.1,839.3L757.6,840.2z"/>
<path color="#ff6349" d="M757.6,840.2L748.1,839.3L749.2,834.5L758.8,835.5z"/>
<path color="#ff583d" d="M758.8,835.5L749.2,834.5L751.1,830.1L761,831.1z"/>
<path color="#ff5439" d="M761,831.1L751.1,830.1L753.8,826.2L763.9,827.3z"/>
<path color="#ff5439" d="M763.9,827.3L753.8,826.2L757.1,823L767.5,824.1z"/>
<path color="#ff5439" d="M767.5,824.1L757.1,823L760.9,820.7L771.7,821.9z"/>
<path color="#fd5238" d="M771.7,821.9L760.9,820.7L765,819.3L776.1,820.6z"/>
<path color="#fa5036" d="M776.1,820.6L765,819.3L769.3,818.9L780.8,820.4z"/>
<path color="#fa5036" d="M780.8,820.4L769.3,818.9L773.5,819.5L785.3,821.1z"/>
<path color="#f64d34" d="M775.3,558.7L757.8,560.3L754,560.6L771,558.9z"/>
<path color="#f74e35" d="M771,558.9L754,560.6L750.1,559.9L766.6,558.1z"/>
<path color="#fd5238" d="M766.6,558.1L750.1,559.9L746.4,558.1L762.5,556.3z"/>
<path color="#ff5439" d="M762.5,556.3L746.4,558.1L743,555.5L758.8,553.5z"/>
<path color="#ff5439" d="M758.8,553.5L743,555.5L740.2,552.1L755.7,550z"/>
<path color="#ff593e" d="M755.7,550L740.2,552.1L737.9,548L753.2,545.9z"/>
<path color="#ff6249" d="M753.2,545.9L737.9,548L736.3,543.5L751.6,541.2z"/>
<path color="#ff6249" d="M751.6,541.2L736.3,543.5L735.6,538.7L750.9,536.4z"/>
<path color="#ff6148" d="M750.9,536.4L735.6,538.7L735.6,533.8L751.1,531.5z"/>
<path color="#ff553a" d="M751.1,531.5L735.6,533.8L736.5,529.1L752.2,526.8z"/>
<path color="#ff5439" d="M752.2,526.8L736.5,529.1L738.1,524.8L754.1,522.4z"/>
<path color="#ff5439" d="M754.1,522.4L738.1,524.8L740.4,521.1L756.9,518.7z"/>
<path color="#ff5439" d="M756.9,518.7L740.4,521.1L743.3,518L760.3,515.7z"/>
<path color="#fc5237" d="M760.3,515.7L743.3,518L746.7,515.9L764.2,513.5z"/>
<path color="#fa5036" d="M764.2,513.5L746.7,515.9L750.4,514.6L768.4,512.4z"/>
<path color="#f64d34" d="M765.7,249L738.6,255.2L735.6,256.1L761.9,249.9z"/>
<path color="#f74e34" d="M761.9,249.9L735.6,256.1L732.3,256L758,249.9z"/>
<path color="#fb5137" d="M758,249.9L732.3,256L729,255L754,248.8z"/>
<path color="#ff5439" d="M754,248.8L729,255L725.9,252.9L750.2,246.7z"/>
<path color="#ff5439" d="M750.2,246.7L725.9,252.9L723,250L746.8,243.8z"/>
<path color="#ff553a" d="M746.8,243.8L723,250L720.4,246.3L743.8,240.1z"/>
<path color="#ff6147" d="M743.8,240.1L720.4,246.3L718.4,242.1L741.5,235.8z"/>
<path color="#ff6147" d="M741.5,235.8L718.4,242.1L716.9,237.4L739.9,231.1z"/>
<path color="#ff6147" d="M739.9,231.1L716.9,237.4L716.1,232.6L739.1,226.2z"/>
<path color="#ff573d" d="M739.1,226.2L716.1,232.6L716,227.8L739.2,221.4z"/>
<path color="#ff5439" d="M739.2,221.4L716,227.8L716.6,223.2L740.1,216.7z"/>
<path color="#ff5439" d="M740.1,216.7L716.6,223.2L717.8,219.1L741.8,212.5z"/>
<path color="#ff5439" d="M741.8,212.5L717.8,219.1L719.6,215.6L744.2,209z"/>
<path color="#fd5238" d="M744.2,209L719.6,215.6L722,212.8L747.2,206.2z"/>
<path color="#fa5036" d="M747.2,206.2L722,212.8L724.8,211L750.7,204.3z"/>
<path color="#fa5036" d="M750.7,204.3L724.8,211L727.9,210.1L754.5,203.4z"/>
<path color="#f64d34" d="M777.5,1021.2L772.1,1018.5L767.8,1016.9L773.1,1019.4z"/>
<path color="#f64d34" d="M773.1,1019.4L767.8,1016.9L764,1014.3L769.2,1016.7z"/>
<path color="#fa5036" d="M769.2,1016.7L764,1014.3L760.8,1010.9L765.9,1013.2z"/>
<path color="#ff5439" d="M765.9,1013.2L760.8,1010.9L758.3,1006.9L763.4,1009z"/>
<path color="#ff5439" d="M763.4,1009L758.3,1006.9L756.7,1002.4L761.8,1004.4z"/>
<path color="#ff5439" d="M761.8,1004.4L756.7,1002.4L756,997.5L761.2,999.5z"/>
<path color="#ff5e44" d="M761.2,999.5L756,997.5L756.3,992.6L761.5,994.6z"/>
<path color="#ff5f45" d="M761.5,994.6L756.3,992.6L757.6,987.8L762.9,989.8z"/>
<path color="#ff5f45" d="M762.9,989.8L757.6,987.8L759.7,983.4L765.2,985.4z"/>
<path color="#ff593e" d="M765.2,985.4L759.7,983.4L762.6,979.5L768.3,981.6z"/>
<path color="#ff5439" d="M768.3,981.6L762.6,979.5L766.2,976.4L772.1,978.6z"/>
<path color="#ff5439" d="M772.1,978.6L766.2,976.4L770.3,974.1L776.4,976.3z"/>
<path color="#ff5439" d="M776.4,976.3L770.3,974.1L774.7,972.7L781,975.1z"/>
<path color="#fe5338" d="M781,975.1L774.7,972.7L779.3,972.3L785.8,974.9z"/>
<path color="#fa5036" d="M785.8,974.9L779.3,972.3L783.8,973L790.5,975.7z"/>
<path color="#fa5036" d="M790.5,975.7L783.8,973L788,974.7L794.9,977.5z"/>
<path color="#f64d34" d="M475.3,296L451.2,300.9L455.1,299.9L478.5,294.9z"/>
<path color="#f74e35" d="M478.5,294.9L455.1,299.9L458.7,297.9L481.5,292.9z"/>
<path color="#fd5338" d="M481.5,292.9L458.7,297.9L461.8,295L484,290.1z"/>
<path color="#ff5439" d="M484,290.1L461.8,295L464.3,291.4L486,286.4z"/>
<path color="#ff5439" d="M486,286.4L464.3,291.4L466,287.1L487.3,282.2z"/>
<path color="#ff5c41" d="M487.3,282.2L466,287.1L466.9,282.4L487.9,277.6z"/>
<path color="#ff674e" d="M487.9,277.6L466.9,282.4L467,277.5L487.8,272.7z"/>
<path color="#ff674e" d="M487.8,272.7L467,277.5L466.1,272.6L486.9,267.9z"/>
<path color="#ff644b" d="M486.9,267.9L466.1,272.6L464.5,267.9L485.4,263.2z"/>
<path color="#ff543a" d="M485.4,263.2L464.5,267.9L462.1,263.7L483.2,259z"/>
<path color="#ff5439" d="M483.2,259L462.1,263.7L459,260.1L480.5,255.5z"/>
<path color="#ff5439" d="M480.5,255.5L459,260.1L455.5,257.2L477.5,252.7z"/>
<path color="#ff5439" d="M477.5,252.7L455.5,257.2L451.5,255.2L474.1,250.8z"/>
<path color="#fb5137" d="M474.1,250.8L451.5,255.2L447.4,254.3L470.6,249.8z"/>
<path color="#fa5036" d="M470.6,249.8L447.4,254.3L443.3,254.3L467.2,249.9z"/>
<path color="#f64d34" d="M449.4,921.2L442.6,928.9L445.7,925.7L452.2,918z"/>
<path color="#f74e34" d="M452.2,918L445.7,925.7L447.9,921.8L454.2,914.2z"/>
<path color="#fb5137" d="M454.2,914.2L447.9,921.8L449.1,917.5L455.4,910z"/>
<path color="#ff5439" d="M455.4,910L449.1,917.5L449.4,912.9L455.6,905.4z"/>
<path color="#ff5439" d="M455.6,905.4L449.4,912.9L448.7,908.3L454.8,900.8z"/>
<path color="#ff553a" d="M454.8,900.8L448.7,908.3L447.1,903.8L453.2,896.3z"/>
<path color="#ff674e" d="M453.2,896.3L447.1,903.8L444.5,899.7L450.7,892.2z"/>
<path color="#ff674e" d="M450.7,892.2L444.5,899.7L441.2,896.1L447.4,888.5z"/>
<path color="#ff674e" d="M447.4,888.5L441.2,896.1L437.2,893.1L443.6,885.5z"/>
<path color="#ff593f" d="M443.6,885.5L437.2,893.1L432.8,891.1L439.4,883.3z"/>
<path color="#ff5439" d="M439.4,883.3L432.8,891.1L428.1,889.9L434.9,882z"/>
<path color="#ff5439" d="M434.9,882L428.1,889.9L423.4,889.6L430.4,881.7z"/>
<path color="#ff5439" d="M430.4,881.7L423.4,889.6L418.8,890.4L426,882.3z"/>
<path color="#fd5238" d="M426,882.3L418.8,890.4L414.5,892.1L422,883.8z"/>
<path color="#fa5036" d="M422,883.8L414.5,892.1L410.8,894.6L418.5,886.3z"/>
<path color="#fa5036" d="M418.5,886.3L410.8,894.6L407.8,897.9L415.8,889.4z"/>
<path color="#f64d34" d="M454.9,610.7L441.1,617.8L445.1,616.1L458.5,609z"/>
<path color="#f64d34" d="M458.5,609L445.1,616.1L448.6,613.4L461.6,606.5z"/>
<path color="#fa5036" d="M461.6,606.5L448.6,613.4L451.4,610L464.1,603.1z"/>
<path color="#ff5439" d="M464.1,603.1L451.4,610L453.5,606L465.8,599.2z"/>
<path color="#ff5439" d="M465.8,599.2L453.5,606L454.6,601.5L466.8,594.7z"/>
<path color="#ff5439" d="M466.8,594.7L454.6,601.5L454.8,596.8L466.8,590z"/>
<path color="#ff674e" d="M466.8,590L454.8,596.8L454,592L466,585.3z"/>
<path color="#ff6950" d="M466,585.3L454,592L452.3,587.4L464.4,580.7z"/>
<path color="#ff6950" d="M464.4,580.7L452.3,587.4L449.8,583.2L462,576.5z"/>
<path color="#ff5d43" d="M462,576.5L449.8,583.2L446.6,579.5L458.9,572.8z"/>
<path color="#ff5439" d="M458.9,572.8L446.6,579.5L442.7,576.5L455.4,569.8z"/>
<path color="#ff5439" d="M455.4,569.8L442.7,576.5L438.4,574.4L451.4,567.6z"/>
<path color="#ff5439" d="M451.4,567.6L438.4,574.4L433.9,573.3L447.3,566.4z"/>
<path color="#fe5338" d="M447.3,566.4L433.9,573.3L429.4,573.1L443.2,566.2z"/>
<path color="#fa5036" d="M443.2,566.2L429.4,573.1L425,573.9L439.3,566.9z"/>
<path color="#fa5036" d="M439.3,566.9L425,573.9L421,575.7L435.7,568.6z"/>
<path color="#f64d34" d="M448.5,1074.4L445.4,1080.9L446.8,1076.6L449.8,1070.2z"/>
<path color="#f95036" d="M449.8,1070.2L446.8,1076.6L447.1,1072.1L450.1,1065.7z"/>
<path color="#ff5439" d="M450.1,1065.7L447.1,1072.1L446.5,1067.6L449.4,1061.2z"/>
<path color="#ff5439" d="M449.4,1061.2L446.5,1067.6L444.9,1063.2L447.8,1056.8z"/>
<path color="#ff5439" d="M447.8,1056.8L444.9,1063.2L442.3,1059.1L445.2,1052.7z"/>
<path color="#ff5a40" d="M445.2,1052.7L442.3,1059.1L438.9,1055.6L441.9,1049.1z"/>
<path color="#ff5b41" d="M441.9,1049.1L438.9,1055.6L434.9,1052.8L438,1046.3z"/>
<path color="#ff5b41" d="M438,1046.3L434.9,1052.8L430.4,1050.8L433.6,1044.2z"/>
<path color="#ff583d" d="M433.6,1044.2L430.4,1050.8L425.7,1049.8L428.9,1042.9z"/>
<path color="#ff5439" d="M428.9,1042.9L425.7,1049.8L420.8,1049.6L424.2,1042.7z"/>
<path color="#ff5439" d="M424.2,1042.7L420.8,1049.6L416.1,1050.4L419.6,1043.3z"/>
<path color="#ff5439" d="M419.6,1043.3L416.1,1050.4L411.7,1052.1L415.3,1044.9z"/>
<path color="#fe5338" d="M415.3,1044.9L411.7,1052.1L407.9,1054.7L411.7,1047.4z"/>
<path color="#fa5136" d="M411.7,1047.4L407.9,1054.7L404.8,1058L408.7,1050.6z"/>
<path color="#fa5036" d="M408.7,1050.6L404.8,1058L402.5,1061.8L406.5,1054.4z"/>
<path color="#f64d34" d="M779.4,713.5L769.3,713.1L765,712.4L774.8,712.7z"/>
<path color="#f95036" d="M774.8,712.7L765,712.4L761,710.7L770.5,710.9z"/>
<path color="#ff5439" d="M770.5,710.9L761,710.7L757.3,708.1L766.6,708.1z"/>
<path color="#ff5439" d="M766.6,708.1L757.3,708.1L754.2,704.7L763.3,704.6z"/>
<path color="#ff5439" d="M763.3,704.6L754.2,704.7L751.7,700.6L760.8,700.4z"/>
<path color="#ff6046" d="M760.8,700.4L751.7,700.6L750.1,696.1L759.2,695.8z"/>
<path color="#ff6249" d="M759.2,695.8L750.1,696.1L749.4,691.2L758.5,690.9z"/>
<path color="#ff6249" d="M758.5,690.9L749.4,691.2L749.6,686.3L758.8,686z"/>
<path color="#ff5b41" d="M758.8,686L749.6,686.3L750.7,681.6L760.1,681.2z"/>
<path color="#ff5439" d="M760.1,681.2L750.7,681.6L752.6,677.2L762.3,676.8z"/>
<path color="#ff5439" d="M762.3,676.8L752.6,677.2L755.3,673.4L765.2,673.1z"/>
<path color="#ff5439" d="M765.2,673.1L755.3,673.4L758.7,670.3L768.9,670z"/>
<path color="#fe5338" d="M768.9,670L758.7,670.3L762.5,668.1L773.1,667.8z"/>
<path color="#fa5136" d="M773.1,667.8L762.5,668.1L766.7,666.8L777.6,666.6z"/>
<path color="#fa5036" d="M777.6,666.6L766.7,666.8L771,666.5L782.2,666.5z"/>
<path color="#f64d34" d="M777,402.7L759.9,406.1L756,406.2L772.6,402.8z"/>
<path color="#fa5036" d="M772.6,402.8L756,406.2L752,405.3L768.2,401.8z"/>
<path color="#ff5439" d="M768.2,401.8L752,405.3L748.3,403.4L764.1,399.9z"/>
<path color="#ff5439" d="M764.1,399.9L748.3,403.4L744.9,400.6L760.3,397z"/>
<path color="#ff5439" d="M760.3,397L744.9,400.6L742,397.1L757.2,393.4z"/>
<path color="#ff6148" d="M757.2,393.4L742,397.1L739.7,392.9L754.7,389.1z"/>
<path color="#ff6349" d="M754.7,389.1L739.7,392.9L738.1,388.3L753.1,384.5z"/>
<path color="#ff6349" d="M753.1,384.5L738.1,388.3L737.3,383.4L752.4,379.6z"/>
<path color="#ff5a3f" d="M752.4,379.6L737.3,383.4L737.4,378.6L752.6,374.7z"/>
<path color="#ff5439" d="M752.6,374.7L737.4,378.6L738.3,373.9L753.7,370z"/>
<path color="#ff5439" d="M753.7,370L738.3,373.9L739.9,369.7L755.7,365.7z"/>
<path color="#ff5439" d="M755.7,365.7L739.9,369.7L742.3,366L758.4,362z"/>
<path color="#fd5338" d="M758.4,362L742.3,366L745.3,363.1L761.9,359.1z"/>
<path color="#fa5036" d="M761.9,359.1L745.3,363.1L748.7,361.1L765.8,357z"/>
<path color="#fa5036" d="M765.8,357L748.7,361.1L752.5,360L770.1,356z"/>
<path color="#f64d34" d="M783.4,868.9L778,867.3L773.4,866.6L778.7,868z"/>
<path color="#f64d34" d="M778.7,868L773.4,866.6L769.1,864.8L774.3,866.2z"/>
<path color="#f94f35" d="M774.3,866.2L769.1,864.8L765.3,862.2L770.3,863.4z"/>
<path color="#ff5439" d="M770.3,863.4L765.3,862.2L762,858.7L767,859.8z"/>
<path color="#ff5439" d="M767,859.8L762,858.7L759.6,854.6L764.5,855.6z"/>
<path color="#ff5439" d="M764.5,855.6L759.6,854.6L758,850L762.9,851z"/>
<path color="#ff5c42" d="M762.9,851L758,850L757.3,845.2L762.3,846.1z"/>
<path color="#ff5f45" d="M762.3,846.1L757.3,845.2L757.6,840.2L762.6,841.1z"/>
<path color="#ff5f45" d="M762.6,841.1L757.6,840.2L758.8,835.5L764,836.4z"/>
<path color="#ff5a40" d="M764,836.4L758.8,835.5L761,831.1L766.3,832z"/>
<path color="#ff5439" d="M766.3,832L761,831.1L763.9,827.3L769.4,828.2z"/>
<path color="#ff5439" d="M769.4,828.2L763.9,827.3L767.5,824.1L773.2,825.2z"/>
<path color="#ff5439" d="M773.2,825.2L767.5,824.1L771.7,821.9L777.6,823z"/>
<path color="#fe5339" d="M777.6,823L771.7,821.9L776.1,820.6L782.3,821.8z"/>
<path color="#fb5136" d="M782.3,821.8L776.1,820.6L780.8,820.4L787.1,821.6z"/>
<path color="#fa5036" d="M787.1,821.6L780.8,820.4L785.3,821.1L791.8,822.5z"/>
<path color="#f64d34" d="M449,768.1L442,774.8L445,771.4L451.8,764.8z"/>
<path color="#f84f35" d="M451.8,764.8L445,771.4L447.2,767.5L453.8,760.9z"/>
<path color="#fe5338" d="M453.8,760.9L447.2,767.5L448.5,763L455,756.6z"/>
<path color="#ff5439" d="M455,756.6L448.5,763L448.8,758.4L455.2,751.9z"/>
<path color="#ff5439" d="M455.2,751.9L448.8,758.4L448.1,753.6L454.4,747.2z"/>
<path color="#ff5e44" d="M454.4,747.2L448.1,753.6L446.4,749.1L452.7,742.7z"/>
<path color="#ff674e" d="M452.7,742.7L446.4,749.1L443.8,744.9L450.2,738.5z"/>
<path color="#ff674e" d="M450.2,738.5L443.8,744.9L440.5,741.3L447,734.8z"/>
<path color="#ff6349" d="M447,734.8L440.5,741.3L436.5,738.4L443.1,731.8z"/>
<path color="#ff5439" d="M443.1,731.8L436.5,738.4L432.1,736.3L438.9,729.7z"/>
<path color="#ff5439" d="M438.9,729.7L432.1,736.3L427.3,735.1L434.4,728.5z"/>
<path color="#ff5439" d="M434.4,728.5L427.3,735.1L422.6,735L429.9,728.2z"/>
<path color="#ff5439" d="M429.9,728.2L422.6,735L418,735.8L425.5,728.9z"/>
<path color="#fb5137" d="M425.5,728.9L418,735.8L413.7,737.6L421.5,730.6z"/>
<path color="#fa5036" d="M421.5,730.6L413.7,737.6L410,740.2L418,733.1z"/>
<path color="#f64d34" d="M455,456.1L440.7,461.8L444.7,459.9L458.6,454.3z"/>
<path color="#f84e35" d="M458.6,454.3L444.7,459.9L448.2,457.1L461.7,451.5z"/>
<path color="#fe5338" d="M461.7,451.5L448.2,457.1L451.1,453.6L464.2,448.1z"/>
<path color="#ff5439" d="M464.2,448.1L451.1,453.6L453.1,449.4L465.9,443.9z"/>
<path color="#ff5439" d="M465.9,443.9L453.1,449.4L454.2,444.8L466.8,439.4z"/>
<path color="#ff5d43" d="M466.8,439.4L454.2,444.8L454.4,440L466.9,434.6z"/>
<path color="#ff6950" d="M466.9,434.6L454.4,440L453.6,435.1L466.1,429.8z"/>
<path color="#ff6950" d="M466.1,429.8L453.6,435.1L451.9,430.4L464.4,425.1z"/>
<path color="#ff664d" d="M464.4,425.1L451.9,430.4L449.4,426.2L462,420.9z"/>
<path color="#ff5439" d="M462,420.9L449.4,426.2L446.1,422.5L459,417.2z"/>
<path color="#ff5439" d="M459,417.2L446.1,422.5L442.3,419.5L455.4,414.3z"/>
<path color="#ff5439" d="M455.4,414.3L442.3,419.5L438,417.5L451.5,412.2z"/>
<path color="#ff5439" d="M451.5,412.2L438,417.5L433.5,416.4L447.4,411.2z"/>
<path color="#fb5137" d="M447.4,411.2L433.5,416.4L428.9,416.3L443.2,411.1z"/>
<path color="#fa5036" d="M443.2,411.1L428.9,416.3L424.6,417.3L439.3,412z"/>
<path color="#f64e34" d="M775.7,1021.4L773.1,1019.4L769.2,1016.7L771.7,1018.5z"/>
<path color="#f74e35" d="M771.7,1018.5L769.2,1016.7L765.9,1013.2L768.4,1014.9z"/>
<path color="#fb5137" d="M768.4,1014.9L765.9,1013.2L763.4,1009L765.9,1010.7z"/>
<path color="#ff5539" d="M765.9,1010.7L763.4,1009L761.8,1004.4L764.3,1006z"/>
<path color="#ff5539" d="M764.3,1006L761.8,1004.4L761.2,999.5L763.7,1001.1z"/>
<path color="#ff553a" d="M763.7,1001.1L761.2,999.5L761.5,994.6L764.2,996.1z"/>
<path color="#ff5b41" d="M764.2,996.1L761.5,994.6L762.9,989.8L765.6,991.4z"/>
<path color="#ff5b41" d="M765.6,991.4L762.9,989.8L765.2,985.4L768,987z"/>
<path color="#ff5b41" d="M768,987L765.2,985.4L768.3,981.6L771.2,983.3z"/>
<path color="#ff563b" d="M771.2,983.3L768.3,981.6L772.1,978.6L775.1,980.3z"/>
<path color="#ff5539" d="M775.1,980.3L772.1,978.6L776.4,976.3L779.5,978.1z"/>
<path color="#ff5539" d="M779.5,978.1L776.4,976.3L781,975.1L784.3,977z"/>
<path color="#ff5539" d="M784.3,977L781,975.1L785.8,974.9L789.2,976.9z"/>
<path color="#fd5338" d="M789.2,976.9L785.8,974.9L790.5,975.7L793.9,977.8z"/>
<path color="#fa5137" d="M793.9,977.8L790.5,975.7L794.9,977.5L798.4,979.7z"/>
<path color="#fa5036" d="M798.4,979.7L794.9,977.5L798.8,980.2L802.4,982.5z"/>
<path color="#f64d34" d="M445.7,925.7L442.3,931.5L444.6,927.5L447.9,921.8z"/>
<path color="#f74e34" d="M447.9,921.8L444.6,927.5L446,923.1L449.1,917.5z"/>
<path color="#fc5137" d="M449.1,917.5L446,923.1L446.3,918.5L449.4,912.9z"/>
<path color="#ff5439" d="M449.4,912.9L446.3,918.5L445.7,913.9L448.7,908.3z"/>
<path color="#ff5439" d="M448.7,908.3L445.7,913.9L444,909.4L447.1,903.8z"/>
<path color="#ff553a" d="M447.1,903.8L444,909.4L441.5,905.3L444.5,899.7z"/>
<path color="#ff5c42" d="M444.5,899.7L441.5,905.3L438.1,901.8L441.2,896.1z"/>
<path color="#ff5c42" d="M441.2,896.1L438.1,901.8L434.1,898.9L437.2,893.1z"/>
<path color="#ff5c42" d="M437.2,893.1L434.1,898.9L429.5,896.9L432.8,891.1z"/>
<path color="#ff553a" d="M432.8,891.1L429.5,896.9L424.7,895.8L428.1,889.9z"/>
<path color="#ff5439" d="M428.1,889.9L424.7,895.8L419.9,895.7L423.4,889.6z"/>
<path color="#ff5439" d="M423.4,889.6L419.9,895.7L415.1,896.6L418.8,890.4z"/>
<path color="#ff5439" d="M418.8,890.4L415.1,896.6L410.7,898.4L414.5,892.1z"/>
<path color="#fc5237" d="M414.5,892.1L410.7,898.4L406.9,901L410.8,894.6z"/>
<path color="#fa5036" d="M410.8,894.6L406.9,901L403.8,904.4L407.8,897.9z"/>
<path color="#fa5036" d="M407.8,897.9L403.8,904.4L401.5,908.3L405.6,901.8z"/>
<path color="#f65036" d="M445.4,1080.9L443.9,1085.9L445.3,1081.6L446.8,1076.6z"/>
<path color="#f75036" d="M446.8,1076.6L445.3,1081.6L445.7,1077L447.1,1072.1z"/>
<path color="#fb543a" d="M447.1,1072.1L445.7,1077L445.1,1072.5L446.5,1067.6z"/>
<path color="#ff583c" d="M446.5,1067.6L445.1,1072.5L443.5,1068.1L444.9,1063.2z"/>
<path color="#ff583c" d="M444.9,1063.2L443.5,1068.1L440.9,1064.1L442.3,1059.1z"/>
<path color="#ff583c" d="M442.3,1059.1L440.9,1064.1L437.6,1060.7L438.9,1055.6z"/>
<path color="#ff583c" d="M438.9,1055.6L437.6,1060.7L433.5,1058L434.9,1052.8z"/>
<path color="#ff583c" d="M434.9,1052.8L433.5,1058L429,1056L430.4,1050.8z"/>
<path color="#ff583c" d="M430.4,1050.8L429,1056L424.1,1055L425.7,1049.8z"/>
<path color="#ff583c" d="M425.7,1049.8L424.1,1055L419.2,1055L420.8,1049.6z"/>
<path color="#ff583c" d="M420.8,1049.6L419.2,1055L414.4,1055.9L416.1,1050.4z"/>
<path color="#ff583c" d="M416.1,1050.4L414.4,1055.9L410,1057.7L411.7,1052.1z"/>
<path color="#ff583c" d="M411.7,1052.1L410,1057.7L406,1060.4L407.9,1054.7z"/>
<path color="#fd563b" d="M407.9,1054.7L406,1060.4L402.8,1063.7L404.8,1058z"/>
<path color="#fa5339" d="M404.8,1058L402.8,1063.7L400.5,1067.7L402.5,1061.8z"/>
<path color="#fa5339" d="M402.5,1061.8L400.5,1067.7L399.1,1072L401.1,1066.1z"/>
<path color="#f64d34" d="M785.5,557.6L775.3,558.7L771,558.9L780.8,557.7z"/>
<path color="#f84f35" d="M780.8,557.7L771,558.9L766.6,558.1L776.2,556.8z"/>
<path color="#fe5339" d="M776.2,556.8L766.6,558.1L762.5,556.3L771.8,554.9z"/>
<path color="#ff5439" d="M771.8,554.9L762.5,556.3L758.8,553.5L767.9,552.1z"/>
<path color="#ff5439" d="M767.9,552.1L758.8,553.5L755.7,550L764.6,548.5z"/>
<path color="#ff5c42" d="M764.6,548.5L755.7,550L753.2,545.9L762.1,544.3z"/>
<path color="#ff6249" d="M762.1,544.3L753.2,545.9L751.6,541.2L760.4,539.6z"/>
<path color="#ff6249" d="M760.4,539.6L751.6,541.2L750.9,536.4L759.8,534.7z"/>
<path color="#ff5e45" d="M759.8,534.7L750.9,536.4L751.1,531.5L760.1,529.8z"/>
<path color="#ff5439" d="M760.1,529.8L751.1,531.5L752.2,526.8L761.4,525z"/>
<path color="#ff5439" d="M761.4,525L752.2,526.8L754.1,522.4L763.5,520.7z"/>
<path color="#ff5439" d="M763.5,520.7L754.1,522.4L756.9,518.7L766.6,516.9z"/>
<path color="#ff5439" d="M766.6,516.9L756.9,518.7L760.3,515.7L770.2,513.9z"/>
<path color="#fb5137" d="M770.2,513.9L760.3,515.7L764.2,513.5L774.5,511.8z"/>
<path color="#fa5036" d="M774.5,511.8L764.2,513.5L768.4,512.4L779,510.7z"/>
<path color="#f64d34" d="M783.1,243.6L765.7,249L761.9,249.9L778.7,244.6z"/>
<path color="#f84e35" d="M778.7,244.6L761.9,249.9L758,249.9L774.3,244.6z"/>
<path color="#fe5338" d="M774.3,244.6L758,249.9L754,248.8L769.9,243.5z"/>
<path color="#ff5439" d="M769.9,243.5L754,248.8L750.2,246.7L765.7,241.4z"/>
<path color="#ff5439" d="M765.7,241.4L750.2,246.7L746.8,243.8L761.9,238.5z"/>
<path color="#ff5b41" d="M761.9,238.5L746.8,243.8L743.8,240.1L758.7,234.8z"/>
<path color="#ff6349" d="M758.7,234.8L743.8,240.1L741.5,235.8L756.2,230.4z"/>
<path color="#ff6349" d="M756.2,230.4L741.5,235.8L739.9,231.1L754.6,225.7z"/>
<path color="#ff6046" d="M754.6,225.7L739.9,231.1L739.1,226.2L753.8,220.8z"/>
<path color="#ff5439" d="M753.8,220.8L739.1,226.2L739.2,221.4L754,215.9z"/>
<path color="#ff5439" d="M754,215.9L739.2,221.4L740.1,216.7L755.2,211.2z"/>
<path color="#ff5439" d="M755.2,211.2L740.1,216.7L741.8,212.5L757.2,206.9z"/>
<path color="#ff5439" d="M757.2,206.9L741.8,212.5L744.2,209L760,203.3z"/>
<path color="#fb5137" d="M760,203.3L744.2,209L747.2,206.2L763.5,200.5z"/>
<path color="#fa5036" d="M763.5,200.5L747.2,206.2L750.7,204.3L767.4,198.5z"/>
<path color="#f64d34" d="M445.1,616.1L437.5,621.7L441.3,619L448.6,613.4z"/>
<path color="#f74e34" d="M448.6,613.4L441.3,619L444.3,615.6L451.4,610z"/>
<path color="#fb5137" d="M451.4,610L444.3,615.6L446.5,611.5L453.5,606z"/>
<path color="#ff5439" d="M453.5,606L446.5,611.5L447.8,606.9L454.6,601.5z"/>
<path color="#ff5439" d="M454.6,601.5L447.8,606.9L448.1,602.1L454.8,596.8z"/>
<path color="#ff563b" d="M454.8,596.8L448.1,602.1L447.4,597.3L454,592z"/>
<path color="#ff674e" d="M454,592L447.4,597.3L445.7,592.7L452.3,587.4z"/>
<path color="#ff674e" d="M452.3,587.4L445.7,592.7L443.1,588.5L449.8,583.2z"/>
<path color="#ff674e" d="M449.8,583.2L443.1,588.5L439.8,584.8L446.6,579.5z"/>
<path color="#ff583d" d="M446.6,579.5L439.8,584.8L435.8,581.9L442.7,576.5z"/>
<path color="#ff5439" d="M442.7,576.5L435.8,581.9L431.3,579.8L438.4,574.4z"/>
<path color="#ff5439" d="M438.4,574.4L431.3,579.8L426.6,578.7L433.9,573.3z"/>
<path color="#ff5439" d="M433.9,573.3L426.6,578.7L421.8,578.6L429.4,573.1z"/>
<path color="#fd5238" d="M429.4,573.1L421.8,578.6L417.2,579.5L425,573.9z"/>
<path color="#fa5036" d="M425,573.9L417.2,579.5L412.9,581.4L421,575.7z"/>
<path color="#fa5036" d="M421,575.7L412.9,581.4L409.2,584.1L417.6,578.4z"/>
<path color="#f64d34" d="M451.2,300.9L436,305.1L440.3,304L455.1,299.9z"/>
<path color="#f74e34" d="M455.1,299.9L440.3,304L444.4,302L458.7,297.9z"/>
<path color="#fb5137" d="M458.7,297.9L444.4,302L447.9,299.1L461.8,295z"/>
<path color="#ff5439" d="M461.8,295L447.9,299.1L450.7,295.4L464.3,291.4z"/>
<path color="#ff5439" d="M464.3,291.4L450.7,295.4L452.7,291.1L466,287.1z"/>
<path color="#ff563b" d="M466,287.1L452.7,291.1L453.8,286.4L466.9,282.4z"/>
<path color="#ff6950" d="M466.9,282.4L453.8,286.4L454,281.4L467,277.5z"/>
<path color="#ff6951" d="M467,277.5L454,281.4L453.2,276.5L466.1,272.6z"/>
<path color="#ff6951" d="M466.1,272.6L453.2,276.5L451.6,271.8L464.5,267.9z"/>
<path color="#ff593f" d="M464.5,267.9L451.6,271.8L449,267.5L462.1,263.7z"/>
<path color="#ff5439" d="M462.1,263.7L449,267.5L445.7,263.8L459,260.1z"/>
<path color="#ff5439" d="M459,260.1L445.7,263.8L441.9,260.9L455.5,257.2z"/>
<path color="#ff5439" d="M455.5,257.2L441.9,260.9L437.6,258.9L451.5,255.2z"/>
<path color="#fd5238" d="M451.5,255.2L437.6,258.9L433,257.9L447.4,254.3z"/>
<path color="#fa5036" d="M447.4,254.3L433,257.9L428.5,257.9L443.3,254.3z"/>
<path color="#fa5036" d="M443.3,254.3L428.5,257.9L424.1,259L439.4,255.4z"/>
<path color="#f64d34" d="M789.5,713.7L784,713.3L779.4,713.5L784.7,713.9z"/>
<path color="#f64d34" d="M784.7,713.9L779.4,713.5L774.8,712.7L779.9,713z"/>
<path color="#f94f36" d="M779.9,713L774.8,712.7L770.5,710.9L775.5,711z"/>
<path color="#ff5439" d="M775.5,711L770.5,710.9L766.6,708.1L771.5,708.2z"/>
<path color="#ff5439" d="M771.5,708.2L766.6,708.1L763.3,704.6L768.1,704.6z"/>
<path color="#ff5439" d="M768.1,704.6L763.3,704.6L760.8,700.4L765.6,700.4z"/>
<path color="#ff5c42" d="M765.6,700.4L760.8,700.4L759.2,695.8L764,695.7z"/>
<path color="#ff5f45" d="M764,695.7L759.2,695.8L758.5,690.9L763.4,690.7z"/>
<path color="#ff5f45" d="M763.4,690.7L758.5,690.9L758.8,686L763.7,685.8z"/>
<path color="#ff5a3f" d="M763.7,685.8L758.8,686L760.1,681.2L765.1,681z"/>
<path color="#ff5439" d="M765.1,681L760.1,681.2L762.3,676.8L767.4,676.7z"/>
<path color="#ff5439" d="M767.4,676.7L762.3,676.8L765.2,673.1L770.6,672.9z"/>
<path color="#ff5439" d="M770.6,672.9L765.2,673.1L768.9,670L774.4,669.9z"/>
<path color="#fe5338" d="M774.4,669.9L768.9,670L773.1,667.8L778.8,667.8z"/>
<path color="#fb5136" d="M778.8,667.8L773.1,667.8L777.6,666.6L783.5,666.6z"/>
<path color="#fa5036" d="M783.5,666.6L777.6,666.6L782.2,666.5L788.4,666.5z"/>
<path color="#f64e34" d="M781.3,869.2L778.7,868L774.3,866.2L776.8,867.2z"/>
<path color="#f74e35" d="M776.8,867.2L774.3,866.2L770.3,863.4L772.8,864.4z"/>
<path color="#fc5238" d="M772.8,864.4L770.3,863.4L767,859.8L769.4,860.7z"/>
<path color="#ff553a" d="M769.4,860.7L767,859.8L764.5,855.6L766.9,856.5z"/>
<path color="#ff553a" d="M766.9,856.5L764.5,855.6L762.9,851L765.3,851.8z"/>
<path color="#ff563b" d="M765.3,851.8L762.9,851L762.3,846.1L764.7,846.8z"/>
<path color="#ff5b40" d="M764.7,846.8L762.3,846.1L762.6,841.1L765.2,841.9z"/>
<path color="#ff5b40" d="M765.2,841.9L762.6,841.1L764,836.4L766.6,837.1z"/>
<path color="#ff5b40" d="M766.6,837.1L764,836.4L766.3,832L769,832.7z"/>
<path color="#ff563b" d="M769,832.7L766.3,832L769.4,828.2L772.3,829z"/>
<path color="#ff553a" d="M772.3,829L769.4,828.2L773.2,825.2L776.2,826z"/>
<path color="#ff553a" d="M776.2,826L773.2,825.2L777.6,823L780.7,823.9z"/>
<path color="#ff553a" d="M780.7,823.9L777.6,823L782.3,821.8L785.4,822.8z"/>
<path color="#fc5338" d="M785.4,822.8L782.3,821.8L787.1,821.6L790.4,822.7z"/>
<path color="#fa5137" d="M790.4,822.7L787.1,821.6L791.8,822.5L795.2,823.6z"/>
<path color="#fa5136" d="M795.2,823.6L791.8,822.5L796.2,824.4L799.7,825.6z"/>
<path color="#f64d34" d="M445,771.4L441.5,776.5L443.8,772.4L447.2,767.5z"/>
<path color="#f84f35" d="M447.2,767.5L443.8,772.4L445.2,768L448.5,763z"/>
<path color="#ff5439" d="M448.5,763L445.2,768L445.5,763.2L448.8,758.4z"/>
<path color="#ff5439" d="M448.8,758.4L445.5,763.2L444.9,758.5L448.1,753.6z"/>
<path color="#ff5439" d="M448.1,753.6L444.9,758.5L443.2,754L446.4,749.1z"/>
<path color="#ff593f" d="M446.4,749.1L443.2,754L440.6,749.8L443.8,744.9z"/>
<path color="#ff5d42" d="M443.8,744.9L440.6,749.8L437.2,746.2L440.5,741.3z"/>
<path color="#ff5d42" d="M440.5,741.3L437.2,746.2L433.2,743.3L436.5,738.4z"/>
<path color="#ff5a3f" d="M436.5,738.4L433.2,743.3L428.6,741.3L432.1,736.3z"/>
<path color="#ff5439" d="M432.1,736.3L428.6,741.3L423.8,740.2L427.3,735.1z"/>
<path color="#ff5439" d="M427.3,735.1L423.8,740.2L418.9,740.1L422.6,735z"/>
<path color="#ff5439" d="M422.6,735L418.9,740.1L414.1,741L418,735.8z"/>
<path color="#ff5439" d="M418,735.8L414.1,741L409.7,742.9L413.7,737.6z"/>
<path color="#fb5137" d="M413.7,737.6L409.7,742.9L405.9,745.6L410,740.2z"/>
<path color="#fa5036" d="M410,740.2L405.9,745.6L402.7,749.1L407,743.6z"/>
<path color="#f64f36" d="M444.6,927.5L443,931.9L444.4,927.5L446,923.1z"/>
<path color="#f75137" d="M446,923.1L444.4,927.5L444.8,922.9L446.3,918.5z"/>
<path color="#fd563b" d="M446.3,918.5L444.8,922.9L444.2,918.3L445.7,913.9z"/>
<path color="#ff583c" d="M445.7,913.9L444.2,918.3L442.6,913.8L444,909.4z"/>
<path color="#ff583c" d="M444,909.4L442.6,913.8L440,909.7L441.5,905.3z"/>
<path color="#ff583c" d="M441.5,905.3L440,909.7L436.6,906.2L438.1,901.8z"/>
<path color="#ff583c" d="M438.1,901.8L436.6,906.2L432.6,903.4L434.1,898.9z"/>
<path color="#ff583c" d="M434.1,898.9L432.6,903.4L428,901.5L429.5,896.9z"/>
<path color="#ff583c" d="M429.5,896.9L428,901.5L423.1,900.5L424.7,895.8z"/>
<path color="#ff583c" d="M424.7,895.8L423.1,900.5L418.2,900.4L419.9,895.7z"/>
<path color="#ff583c" d="M419.9,895.7L418.2,900.4L413.4,901.3L415.1,896.6z"/>
<path color="#ff583c" d="M415.1,896.6L413.4,901.3L408.9,903.2L410.7,898.4z"/>
<path color="#ff583c" d="M410.7,898.4L408.9,903.2L404.9,905.9L406.9,901z"/>
<path color="#fc553a" d="M406.9,901L404.9,905.9L401.7,909.4L403.8,904.4z"/>
<path color="#fa5338" d="M403.8,904.4L401.7,909.4L399.4,913.4L401.5,908.3z"/>
<path color="#f64d34" d="M791.5,398.9L781.3,401.6L777,402.7L786.9,400z"/>
<path color="#f74e35" d="M786.9,400L777,402.7L772.6,402.8L782.2,400z"/>
<path color="#fd5238" d="M782.2,400L772.6,402.8L768.2,401.8L777.5,399z"/>
<path color="#ff5439" d="M777.5,399L768.2,401.8L764.1,399.9L773.1,397.1z"/>
<path color="#ff5439" d="M773.1,397.1L764.1,399.9L760.3,397L769.2,394.2z"/>
<path color="#ff583e" d="M769.2,394.2L760.3,397L757.2,393.4L765.9,390.5z"/>
<path color="#ff6248" d="M765.9,390.5L757.2,393.4L754.7,389.1L763.3,386.2z"/>
<path color="#ff6248" d="M763.3,386.2L754.7,389.1L753.1,384.5L761.7,381.5z"/>
<path color="#ff6147" d="M761.7,381.5L753.1,384.5L752.4,379.6L761,376.5z"/>
<path color="#ff553a" d="M761,376.5L752.4,379.6L752.6,374.7L761.3,371.6z"/>
<path color="#ff5439" d="M761.3,371.6L752.6,374.7L753.7,370L762.6,366.9z"/>
<path color="#ff5439" d="M762.6,366.9L753.7,370L755.7,365.7L764.8,362.5z"/>
<path color="#ff5439" d="M764.8,362.5L755.7,365.7L758.4,362L767.9,358.8z"/>
<path color="#fc5237" d="M767.9,358.8L758.4,362L761.9,359.1L771.6,355.9z"/>
<path color="#fa5036" d="M771.6,355.9L761.9,359.1L765.8,357L775.9,353.9z"/>
<path color="#fa5036" d="M775.9,353.9L765.8,357L770.1,356L780.4,352.8z"/>
<path color="#f64d34" d="M444.7,459.9L436.9,464.4L440.6,461.5L448.2,457.1z"/>
<path color="#f95036" d="M448.2,457.1L440.6,461.5L443.7,457.9L451.1,453.6z"/>
<path color="#ff5439" d="M451.1,453.6L443.7,457.9L445.9,453.7L453.1,449.4z"/>
<path color="#ff5439" d="M453.1,449.4L445.9,453.7L447.2,449.1L454.2,444.8z"/>
<path color="#ff5439" d="M454.2,444.8L447.2,449.1L447.4,444.2L454.4,440z"/>
<path color="#ff634a" d="M454.4,440L447.4,444.2L446.7,439.3L453.6,435.1z"/>
<path color="#ff674e" d="M453.6,435.1L446.7,439.3L445,434.6L451.9,430.4z"/>
<path color="#ff674e" d="M451.9,430.4L445,434.6L442.4,430.3L449.4,426.2z"/>
<path color="#ff5e44" d="M449.4,426.2L442.4,430.3L439.1,426.6L446.1,422.5z"/>
<path color="#ff5439" d="M446.1,422.5L439.1,426.6L435,423.7L442.3,419.5z"/>
<path color="#ff5439" d="M442.3,419.5L435,423.7L430.6,421.7L438,417.5z"/>
<path color="#ff5439" d="M438,417.5L430.6,421.7L425.8,420.6L433.5,416.4z"/>
<path color="#fe5338" d="M433.5,416.4L425.8,420.6L421,420.5L428.9,416.3z"/>
<path color="#fa5136" d="M428.9,416.3L421,420.5L416.4,421.5L424.6,417.3z"/>
<path color="#fa5036" d="M424.6,417.3L416.4,421.5L412.1,423.5L420.6,419.2z"/>
<path color="#f64d34" d="M795.6,555.7L790,556.5L785.5,557.6L790.8,556.8z"/>
<path color="#f64d34" d="M790.8,556.8L785.5,557.6L780.8,557.7L785.9,556.9z"/>
<path color="#fa5036" d="M785.9,556.9L780.8,557.7L776.2,556.8L781.1,555.9z"/>
<path color="#ff5439" d="M781.1,555.9L776.2,556.8L771.8,554.9L776.6,554z"/>
<path color="#ff5439" d="M776.6,554L771.8,554.9L767.9,552.1L772.6,551.1z"/>
<path color="#ff5439" d="M772.6,551.1L767.9,552.1L764.6,548.5L769.3,547.4z"/>
<path color="#ff5d43" d="M769.3,547.4L764.6,548.5L762.1,544.3L766.7,543.2z"/>
<path color="#ff5e45" d="M766.7,543.2L762.1,544.3L760.4,539.6L765.1,538.4z"/>
<path color="#ff5e45" d="M765.1,538.4L760.4,539.6L759.8,534.7L764.5,533.5z"/>
<path color="#ff593e" d="M764.5,533.5L759.8,534.7L760.1,529.8L764.9,528.5z"/>
<path color="#ff5439" d="M764.9,528.5L760.1,529.8L761.4,525L766.3,523.7z"/>
<path color="#ff5439" d="M766.3,523.7L761.4,525L763.5,520.7L768.6,519.4z"/>
<path color="#ff5439" d="M768.6,519.4L763.5,520.7L766.6,516.9L771.8,515.6z"/>
<path color="#fe5338" d="M771.8,515.6L766.6,516.9L770.2,513.9L775.7,512.7z"/>
<path color="#fa5036" d="M775.7,512.7L770.2,513.9L774.5,511.8L780.1,510.6z"/>
<path color="#fa5036" d="M780.1,510.6L774.5,511.8L779,510.7L784.8,509.5z"/>
<path color="#f64e34" d="M792.2,714.1L789.5,713.7L784.7,713.9L787.3,714.2z"/>
<path color="#f64e34" d="M787.3,714.2L784.7,713.9L779.9,713L782.4,713.2z"/>
<path color="#f95036" d="M782.4,713.2L779.9,713L775.5,711L777.9,711.2z"/>
<path color="#ff553a" d="M777.9,711.2L775.5,711L771.5,708.2L773.8,708.3z"/>
<path color="#ff553a" d="M773.8,708.3L771.5,708.2L768.1,704.6L770.5,704.7z"/>
<path color="#ff553a" d="M770.5,704.7L768.1,704.6L765.6,700.4L767.9,700.4z"/>
<path color="#ff593e" d="M767.9,700.4L765.6,700.4L764,695.7L766.3,695.6z"/>
<path color="#ff5b40" d="M766.3,695.6L764,695.7L763.4,690.7L765.8,690.7z"/>
<path color="#ff5b40" d="M765.8,690.7L763.4,690.7L763.7,685.8L766.2,685.7z"/>
<path color="#ff583e" d="M766.2,685.7L763.7,685.8L765.1,681L767.7,680.9z"/>
<path color="#ff553a" d="M767.7,680.9L765.1,681L767.4,676.7L770.1,676.6z"/>
<path color="#ff553a" d="M770.1,676.6L767.4,676.7L770.6,672.9L773.4,672.8z"/>
<path color="#ff553a" d="M773.4,672.8L770.6,672.9L774.4,669.9L777.3,669.8z"/>
<path color="#fe5439" d="M777.3,669.8L774.4,669.9L778.8,667.8L781.8,667.7z"/>
<path color="#fb5237" d="M781.8,667.7L778.8,667.8L783.5,666.6L786.6,666.6z"/>
<path color="#fa5137" d="M786.6,666.6L783.5,666.6L788.4,666.5L791.6,666.6z"/>
<path color="#f64d34" d="M441.3,619L437.5,623.3L440.6,619.7L444.3,615.6z"/>
<path color="#f74e34" d="M444.3,615.6L440.6,619.7L443,615.6L446.5,611.5z"/>
<path color="#fc5237" d="M446.5,611.5L443,615.6L444.3,611L447.8,606.9z"/>
<path color="#ff5439" d="M447.8,606.9L444.3,611L444.7,606.2L448.1,602.1z"/>
<path color="#ff5439" d="M448.1,602.1L444.7,606.2L444,601.4L447.4,597.3z"/>
<path color="#ff563b" d="M447.4,597.3L444,601.4L442.4,596.8L445.7,592.7z"/>
<path color="#ff5d43" d="M445.7,592.7L442.4,596.8L439.8,592.5L443.1,588.5z"/>
<path color="#ff5d43" d="M443.1,588.5L439.8,592.5L436.4,588.9L439.8,584.8z"/>
<path color="#ff5d43" d="M439.8,584.8L436.4,588.9L432.3,586L435.8,581.9z"/>
<path color="#ff553a" d="M435.8,581.9L432.3,586L427.7,583.9L431.3,579.8z"/>
<path color="#ff5439" d="M431.3,579.8L427.7,583.9L422.9,582.9L426.6,578.7z"/>
<path color="#ff5439" d="M426.6,578.7L422.9,582.9L417.9,582.8L421.8,578.6z"/>
<path color="#ff5439" d="M421.8,578.6L417.9,582.8L413.2,583.8L417.2,579.5z"/>
<path color="#fc5237" d="M417.2,579.5L413.2,583.8L408.7,585.7L412.9,581.4z"/>
<path color="#fa5036" d="M412.9,581.4L408.7,585.7L404.9,588.5L409.2,584.1z"/>
<path color="#fa5036" d="M409.2,584.1L404.9,588.5L401.7,592L406.2,587.6z"/>
<path color="#f64f36" d="M443.8,772.4L442.1,776.2L443.5,771.7L445.2,768z"/>
<path color="#f95238" d="M445.2,768L443.5,771.7L443.9,767L445.5,763.2z"/>
<path color="#ff573c" d="M445.5,763.2L443.9,767L443.3,762.3L444.9,758.5z"/>
<path color="#ff583c" d="M444.9,758.5L443.3,762.3L441.7,757.7L443.2,754z"/>
<path color="#ff583c" d="M443.2,754L441.7,757.7L439.1,753.6L440.6,749.8z"/>
<path color="#ff583c" d="M440.6,749.8L439.1,753.6L435.7,750L437.2,746.2z"/>
<path color="#ff583c" d="M437.2,746.2L435.7,750L431.6,747.2L433.2,743.3z"/>
<path color="#ff583c" d="M433.2,743.3L431.6,747.2L427,745.2L428.6,741.3z"/>
<path color="#ff583c" d="M428.6,741.3L427,745.2L422.1,744.1L423.8,740.2z"/>
<path color="#ff583c" d="M423.8,740.2L422.1,744.1L417.1,744.1L418.9,740.1z"/>
<path color="#ff583c" d="M418.9,740.1L417.1,744.1L412.3,745.1L414.1,741z"/>
<path color="#ff583c" d="M414.1,741L412.3,745.1L407.8,747L409.7,742.9z"/>
<path color="#fe573b" d="M409.7,742.9L407.8,747L403.8,749.8L405.9,745.6z"/>
<path color="#fb5339" d="M405.9,745.6L403.8,749.8L400.6,753.3L402.7,749.1z"/>
<path color="#fa5338" d="M402.7,749.1L400.6,753.3L398.2,757.4L400.4,753.1z"/>
<path color="#f64d34" d="M440.3,304L431.9,307.3L436.2,305.2L444.4,302z"/>
<path color="#f84f35" d="M444.4,302L436.2,305.2L439.9,302.3L447.9,299.1z"/>
<path color="#fe5339" d="M447.9,299.1L439.9,302.3L443,298.6L450.7,295.4z"/>
<path color="#ff5439" d="M450.7,295.4L443,298.6L445.2,294.2L452.7,291.1z"/>
<path color="#ff5439" d="M452.7,291.1L445.2,294.2L446.5,289.5L453.8,286.4z"/>
<path color="#ff5f45" d="M453.8,286.4L446.5,289.5L446.8,284.5L454,281.4z"/>
<path color="#ff674e" d="M454,281.4L446.8,284.5L446.1,279.5L453.2,276.5z"/>
<path color="#ff674e" d="M453.2,276.5L446.1,279.5L444.4,274.7L451.6,271.8z"/>
<path color="#ff6249" d="M451.6,271.8L444.4,274.7L441.8,270.4L449,267.5z"/>
<path color="#ff5439" d="M449,267.5L441.8,270.4L438.4,266.7L445.7,263.8z"/>
<path color="#ff5439" d="M445.7,263.8L438.4,266.7L434.3,263.8L441.9,260.9z"/>
<path color="#ff5439" d="M441.9,260.9L434.3,263.8L429.8,261.7L437.6,258.9z"/>
<path color="#ff5439" d="M437.6,258.9L429.8,261.7L425.1,260.7L433,257.9z"/>
<path color="#fb5137" d="M433,257.9L425.1,260.7L420.2,260.7L428.5,257.9z"/>
<path color="#fa5036" d="M428.5,257.9L420.2,260.7L415.6,261.8L424.1,259z"/>
<path color="#f64d34" d="M797.3,237.4L787,241.7L783.1,243.6L793,239.3z"/>
<path color="#f74e34" d="M793,239.3L783.1,243.6L778.7,244.6L788.4,240.3z"/>
<path color="#fb5137" d="M788.4,240.3L778.7,244.6L774.3,244.6L783.6,240.3z"/>
<path color="#ff5439" d="M783.6,240.3L774.3,244.6L769.9,243.5L778.9,239.2z"/>
<path color="#ff5439" d="M778.9,239.2L769.9,243.5L765.7,241.4L774.5,237.2z"/>
<path color="#ff553a" d="M774.5,237.2L765.7,241.4L761.9,238.5L770.5,234.2z"/>
<path color="#ff6248" d="M770.5,234.2L761.9,238.5L758.7,234.8L767.2,230.5z"/>
<path color="#ff6248" d="M767.2,230.5L758.7,234.8L756.2,230.4L764.6,226.1z"/>
<path color="#ff6248" d="M764.6,226.1L756.2,230.4L754.6,225.7L763,221.4z"/>
<path color="#ff573d" d="M763,221.4L754.6,225.7L753.8,220.8L762.3,216.4z"/>
<path color="#ff5439" d="M762.3,216.4L753.8,220.8L754,215.9L762.6,211.4z"/>
<path color="#ff5439" d="M762.6,211.4L754,215.9L755.2,211.2L763.9,206.7z"/>
<path color="#ff5439" d="M763.9,206.7L755.2,211.2L757.2,206.9L766.1,202.4z"/>
<path color="#fd5238" d="M766.1,202.4L757.2,206.9L760,203.3L769.2,198.7z"/>
<path color="#fa5036" d="M769.2,198.7L760,203.3L763.5,200.5L773,195.8z"/>
<path color="#fa5036" d="M773,195.8L763.5,200.5L767.4,198.5L777.3,193.9z"/>
<path color="#f64d34" d="M436.9,464.4L432.7,467.7L436.6,464.9L440.6,461.5z"/>
<path color="#f64d34" d="M440.6,461.5L436.6,464.9L439.8,461.2L443.7,457.9z"/>
<path color="#fa5036" d="M443.7,457.9L439.8,461.2L442.1,457L445.9,453.7z"/>
<path color="#ff5439" d="M445.9,453.7L442.1,457L443.5,452.3L447.2,449.1z"/>
<path color="#ff5439" d="M447.2,449.1L443.5,452.3L443.9,447.4L447.4,444.2z"/>
<path color="#ff5439" d="M447.4,444.2L443.9,447.4L443.2,442.5L446.7,439.3z"/>
<path color="#ff5d43" d="M446.7,439.3L443.2,442.5L441.5,437.8L445,434.6z"/>
<path color="#ff5e44" d="M445,434.6L441.5,437.8L438.9,433.5L442.4,430.3z"/>
<path color="#ff5e44" d="M442.4,430.3L438.9,433.5L435.5,429.8L439.1,426.6z"/>
<path color="#ff583d" d="M439.1,426.6L435.5,429.8L431.4,426.8L435,423.7z"/>
<path color="#ff5439" d="M435,423.7L431.4,426.8L426.8,424.8L430.6,421.7z"/>
<path color="#ff5439" d="M430.6,421.7L426.8,424.8L421.9,423.7L425.8,420.6z"/>
<path color="#ff5439" d="M425.8,420.6L421.9,423.7L417,423.7L421,420.5z"/>
<path color="#fd5338" d="M421,420.5L417,423.7L412.2,424.7L416.4,421.5z"/>
<path color="#fa5036" d="M416.4,421.5L412.2,424.7L407.7,426.7L412.1,423.5z"/>
<path color="#fa5036" d="M412.1,423.5L407.7,426.7L403.8,429.6L408.4,426.3z"/>
<path color="#f64d34" d="M801.3,394.8L795.7,396.9L791.5,398.9L796.9,396.9z"/>
<path color="#f64d34" d="M796.9,396.9L791.5,398.9L786.9,400L792.1,398z"/>
<path color="#fa5036" d="M792.1,398L786.9,400L782.2,400L787.2,398z"/>
<path color="#ff5439" d="M787.2,398L782.2,400L777.5,399L782.4,397z"/>
<path color="#ff5439" d="M782.4,397L777.5,399L773.1,397.1L777.8,394.9z"/>
<path color="#ff5439" d="M777.8,394.9L773.1,397.1L769.2,394.2L773.8,392z"/>
<path color="#ff5d43" d="M773.8,392L769.2,394.2L765.9,390.5L770.4,388.3z"/>
<path color="#ff5e44" d="M770.4,388.3L765.9,390.5L763.3,386.2L767.8,384z"/>
<path color="#ff5e44" d="M767.8,384L763.3,386.2L761.7,381.5L766.2,379.2z"/>
<path color="#ff583d" d="M766.2,379.2L761.7,381.5L761,376.5L765.6,374.3z"/>
<path color="#ff5439" d="M765.6,374.3L761,376.5L761.3,371.6L766,369.3z"/>
<path color="#ff5439" d="M766,369.3L761.3,371.6L762.6,366.9L767.4,364.5z"/>
<path color="#ff5439" d="M767.4,364.5L762.6,366.9L764.8,362.5L769.8,360.2z"/>
<path color="#fd5338" d="M769.8,360.2L764.8,362.5L767.9,358.8L773,356.4z"/>
<path color="#fa5036" d="M773,356.4L767.9,358.8L771.6,355.9L776.9,353.5z"/>
<path color="#fa5036" d="M776.9,353.5L771.6,355.9L775.9,353.9L781.3,351.4z"/>
<path color="#f64f36" d="M440.6,619.7L438.8,623L441.2,618.8L443,615.6z"/>
<path color="#f75036" d="M443,615.6L441.2,618.8L442.6,614.2L444.3,611z"/>
<path color="#fc553a" d="M444.3,611L442.6,614.2L443,609.3L444.7,606.2z"/>
<path color="#ff573c" d="M444.7,606.2L443,609.3L442.4,604.5L444,601.4z"/>
<path color="#ff573c" d="M444,601.4L442.4,604.5L440.8,599.9L442.4,596.8z"/>
<path color="#ff573c" d="M442.4,596.8L440.8,599.9L438.2,595.6L439.8,592.5z"/>
<path color="#ff573c" d="M439.8,592.5L438.2,595.6L434.8,592L436.4,588.9z"/>
<path color="#ff573c" d="M436.4,588.9L434.8,592L430.6,589.1L432.3,586z"/>
<path color="#ff573c" d="M432.3,586L430.6,589.1L426,587.1L427.7,583.9z"/>
<path color="#ff573c" d="M427.7,583.9L426,587.1L421.1,586.1L422.9,582.9z"/>
<path color="#ff573c" d="M422.9,582.9L421.1,586.1L416.1,586L417.9,582.8z"/>
<path color="#ff573c" d="M417.9,582.8L416.1,586L411.2,587L413.2,583.8z"/>
<path color="#ff573c" d="M413.2,583.8L411.2,587L406.7,589L408.7,585.7z"/>
<path color="#fc553a" d="M408.7,585.7L406.7,589L402.7,591.8L404.9,588.5z"/>
<path color="#fa5338" d="M404.9,588.5L402.7,591.8L399.5,595.4L401.7,592z"/>
<path color="#fa5238" d="M401.7,592L399.5,595.4L397.1,599.6L399.4,596.2z"/>
<path color="#f64e35" d="M798.3,555.2L795.6,555.7L790.8,556.8L793.4,556.3z"/>
<path color="#f74f35" d="M793.4,556.3L790.8,556.8L785.9,556.9L788.5,556.3z"/>
<path color="#fd5338" d="M788.5,556.3L785.9,556.9L781.1,555.9L783.6,555.3z"/>
<path color="#ff553a" d="M783.6,555.3L781.1,555.9L776.6,554L779,553.3z"/>
<path color="#ff553a" d="M779,553.3L776.6,554L772.6,551.1L774.9,550.4z"/>
<path color="#ff573c" d="M774.9,550.4L772.6,551.1L769.3,547.4L771.5,546.7z"/>
<path color="#ff5a40" d="M771.5,546.7L769.3,547.4L766.7,543.2L769,542.3z"/>
<path color="#ff5a40" d="M769,542.3L766.7,543.2L765.1,538.4L767.4,537.6z"/>
<path color="#ff5a3f" d="M767.4,537.6L765.1,538.4L764.5,533.5L766.8,532.6z"/>
<path color="#ff563a" d="M766.8,532.6L764.5,533.5L764.9,528.5L767.3,527.6z"/>
<path color="#ff553a" d="M767.3,527.6L764.9,528.5L766.3,523.7L768.7,522.8z"/>
<path color="#ff553a" d="M768.7,522.8L766.3,523.7L768.6,519.4L771.2,518.4z"/>
<path color="#ff553a" d="M771.2,518.4L768.6,519.4L771.8,515.6L774.5,514.7z"/>
<path color="#fc5338" d="M774.5,514.7L771.8,515.6L775.7,512.7L778.4,511.7z"/>
<path color="#fa5137" d="M778.4,511.7L775.7,512.7L780.1,510.6L783,509.7z"/>
<path color="#fa5137" d="M783,509.7L780.1,510.6L784.8,509.5L787.8,508.6z"/>
<path color="#f64d34" d="M431.9,307.3L427.4,309.7L431.9,307.6L436.2,305.2z"/>
<path color="#f64d34" d="M436.2,305.2L431.9,307.6L435.8,304.7L439.9,302.3z"/>
<path color="#fa5036" d="M439.9,302.3L435.8,304.7L439,301L443,298.6z"/>
<path color="#ff5439" d="M443,298.6L439,301L441.3,296.6L445.2,294.2z"/>
<path color="#ff5439" d="M445.2,294.2L441.3,296.6L442.7,291.8L446.5,289.5z"/>
<path color="#ff5439" d="M446.5,289.5L442.7,291.8L443.1,286.8L446.8,284.5z"/>
<path color="#ff5d43" d="M446.8,284.5L443.1,286.8L442.4,281.8L446.1,279.5z"/>
<path color="#ff5e45" d="M446.1,279.5L442.4,281.8L440.7,277L444.4,274.7z"/>
<path color="#ff5e45" d="M444.4,274.7L440.7,277L438.1,272.6L441.8,270.4z"/>
<path color="#ff583e" d="M441.8,270.4L438.1,272.6L434.6,268.9L438.4,266.7z"/>
<path color="#ff5439" d="M438.4,266.7L434.6,268.9L430.5,265.9L434.3,263.8z"/>
<path color="#ff5439" d="M434.3,263.8L430.5,265.9L425.9,263.9L429.8,261.7z"/>
<path color="#ff5439" d="M429.8,261.7L425.9,263.9L421,262.8L425.1,260.7z"/>
<path color="#fe5338" d="M425.1,260.7L421,262.8L416,262.8L420.2,260.7z"/>
<path color="#fa5036" d="M420.2,260.7L416,262.8L411.2,263.9L415.6,261.8z"/>
<path color="#fa5036" d="M415.6,261.8L411.2,263.9L406.7,266L411.3,263.9z"/>
<path color="#f64f35" d="M436.6,464.9L434.6,467.4L437.9,463.8L439.8,461.2z"/>
<path color="#f64f36" d="M439.8,461.2L437.9,463.8L440.3,459.5L442.1,457z"/>
<path color="#fa5238" d="M442.1,457L440.3,459.5L441.7,454.8L443.5,452.3z"/>
<path color="#ff573c" d="M443.5,452.3L441.7,454.8L442.1,449.9L443.9,447.4z"/>
<path color="#ff573c" d="M443.9,447.4L442.1,449.9L441.5,444.9L443.2,442.5z"/>
<path color="#ff573c" d="M443.2,442.5L441.5,444.9L439.9,440.2L441.5,437.8z"/>
<path color="#ff573c" d="M441.5,437.8L439.9,440.2L437.2,435.9L438.9,433.5z"/>
<path color="#ff573c" d="M438.9,433.5L437.2,435.9L433.8,432.2L435.5,429.8z"/>
<path color="#ff573c" d="M435.5,429.8L433.8,432.2L429.7,429.2L431.4,426.8z"/>
<path color="#ff573c" d="M431.4,426.8L429.7,429.2L425,427.2L426.8,424.8z"/>
<path color="#ff573c" d="M426.8,424.8L425,427.2L420.1,426.2L421.9,423.7z"/>
<path color="#ff573c" d="M421.9,423.7L420.1,426.2L415,426.2L417,423.7z"/>
<path color="#ff573c" d="M417,423.7L415,426.2L410.1,427.2L412.2,424.7z"/>
<path color="#fd563a" d="M412.2,424.7L410.1,427.2L405.6,429.2L407.7,426.7z"/>
<path color="#fa5338" d="M407.7,426.7L405.6,429.2L401.6,432.1L403.8,429.6z"/>
<path color="#fa5238" d="M403.8,429.6L401.6,432.1L398.3,435.8L400.7,433.3z"/>
<path color="#f64d34" d="M806.6,231.1L801,234.5L797.3,237.4L802.7,234z"/>
<path color="#f64d34" d="M802.7,234L797.3,237.4L793,239.3L798.2,236.1z"/>
<path color="#f95036" d="M798.2,236.1L793,239.3L788.4,240.3L793.4,237.1z"/>
<path color="#ff5439" d="M793.4,237.1L788.4,240.3L783.6,240.3L788.5,237z"/>
<path color="#ff5439" d="M788.5,237L783.6,240.3L778.9,239.2L783.6,236z"/>
<path color="#ff5439" d="M783.6,236L778.9,239.2L774.5,237.2L779,233.9z"/>
<path color="#ff5d43" d="M779,233.9L774.5,237.2L770.5,234.2L775,230.9z"/>
<path color="#ff5e44" d="M775,230.9L770.5,234.2L767.2,230.5L771.6,227.2z"/>
<path color="#ff5e44" d="M771.6,227.2L767.2,230.5L764.6,226.1L769,222.8z"/>
<path color="#ff593e" d="M769,222.8L764.6,226.1L763,221.4L767.3,218z"/>
<path color="#ff5439" d="M767.3,218L763,221.4L762.3,216.4L766.7,213z"/>
<path color="#ff5439" d="M766.7,213L762.3,216.4L762.6,211.4L767.1,208z"/>
<path color="#ff5439" d="M767.1,208L762.6,211.4L763.9,206.7L768.5,203.3z"/>
<path color="#fe5338" d="M768.5,203.3L763.9,206.7L766.1,202.4L770.9,198.9z"/>
<path color="#fa5036" d="M770.9,198.9L766.1,202.4L769.2,198.7L774.1,195.2z"/>
<path color="#fa5036" d="M774.1,195.2L769.2,198.7L773,195.8L778.1,192.3z"/>
<path color="#f64e35" d="M808.1,390.3L805.2,391.9L801.3,394.8L804.1,393.3z"/>
<path color="#f64e35" d="M804.1,393.3L801.3,394.8L796.9,396.9L799.5,395.4z"/>
<path color="#f95036" d="M799.5,395.4L796.9,396.9L792.1,398L794.6,396.4z"/>
<path color="#ff553a" d="M794.6,396.4L792.1,398L787.2,398L789.6,396.4z"/>
<path color="#ff553a" d="M789.6,396.4L787.2,398L782.4,397L784.7,395.4z"/>
<path color="#ff553a" d="M784.7,395.4L782.4,397L777.8,394.9L780.1,393.4z"/>
<path color="#ff593e" d="M780.1,393.4L777.8,394.9L773.8,392L776,390.4z"/>
<path color="#ff5a3f" d="M776,390.4L773.8,392L770.4,388.3L772.6,386.7z"/>
<path color="#ff5a3f" d="M772.6,386.7L770.4,388.3L767.8,384L770,382.3z"/>
<path color="#ff583d" d="M770,382.3L767.8,384L766.2,379.2L768.4,377.5z"/>
<path color="#ff553a" d="M768.4,377.5L766.2,379.2L765.6,374.3L767.8,372.5z"/>
<path color="#ff553a" d="M767.8,372.5L765.6,374.3L766,369.3L768.3,367.5z"/>
<path color="#ff553a" d="M768.3,367.5L766,369.3L767.4,364.5L769.8,362.7z"/>
<path color="#fe553a" d="M769.8,362.7L767.4,364.5L769.8,360.2L772.3,358.4z"/>
<path color="#fb5237" d="M772.3,358.4L769.8,360.2L773,356.4L775.6,354.6z"/>
<path color="#fa5137" d="M775.6,354.6L773,356.4L776.9,353.5L779.6,351.7z"/>
<path color="#f64f35" d="M431.9,307.6L429.6,309.5L433.7,306.5L435.8,304.7z"/>
<path color="#f64f36" d="M435.8,304.7L433.7,306.5L436.9,302.8L439,301z"/>
<path color="#fa5238" d="M439,301L436.9,302.8L439.4,298.4L441.3,296.6z"/>
<path color="#ff573b" d="M441.3,296.6L439.4,298.4L440.8,293.6L442.7,291.8z"/>
<path color="#ff573b" d="M442.7,291.8L440.8,293.6L441.2,288.6L443.1,286.8z"/>
<path color="#ff573b" d="M443.1,286.8L441.2,288.6L440.6,283.5L442.4,281.8z"/>
<path color="#ff573c" d="M442.4,281.8L440.6,283.5L438.9,278.7L440.7,277z"/>
<path color="#ff573c" d="M440.7,277L438.9,278.7L436.3,274.3L438.1,272.6z"/>
<path color="#ff573c" d="M438.1,272.6L436.3,274.3L432.8,270.5L434.6,268.9z"/>
<path color="#ff573b" d="M434.6,268.9L432.8,270.5L428.7,267.5L430.5,265.9z"/>
<path color="#ff573b" d="M430.5,265.9L428.7,267.5L424,265.5L425.9,263.9z"/>
<path color="#ff573b" d="M425.9,263.9L424,265.5L419,264.4L421,262.8z"/>
<path color="#ff573b" d="M421,262.8L419,264.4L414,264.4L416,262.8z"/>
<path color="#fd553a" d="M416,262.8L414,264.4L409.1,265.5L411.2,263.9z"/>
<path color="#fa5238" d="M411.2,263.9L409.1,265.5L404.5,267.6L406.7,266z"/>
<path color="#fa5238" d="M406.7,266L404.5,267.6L400.5,270.6L402.8,269z"/>
<path color="#f64e35" d="M812.7,224.8L809.8,227.4L806.6,231.1L809.4,228.6z"/>
<path color="#f64e35" d="M809.4,228.6L806.6,231.1L802.7,234L805.4,231.5z"/>
<path color="#f95137" d="M805.4,231.5L802.7,234L798.2,236.1L800.8,233.6z"/>
<path color="#ff563a" d="M800.8,233.6L798.2,236.1L793.4,237.1L795.9,234.6z"/>
<path color="#ff563a" d="M795.9,234.6L793.4,237.1L788.5,237L790.8,234.6z"/>
<path color="#ff563a" d="M790.8,234.6L788.5,237L783.6,236L785.9,233.5z"/>
<path color="#ff593e" d="M785.9,233.5L783.6,236L779,233.9L781.2,231.5z"/>
<path color="#ff5a3f" d="M781.2,231.5L779,233.9L775,230.9L777.1,228.5z"/>
<path color="#ff5a3f" d="M777.1,228.5L775,230.9L771.6,227.2L773.7,224.7z"/>
<path color="#ff583d" d="M773.7,224.7L771.6,227.2L769,222.8L771.1,220.3z"/>
<path color="#ff563a" d="M771.1,220.3L769,222.8L767.3,218L769.5,215.5z"/>
<path color="#ff563a" d="M769.5,215.5L767.3,218L766.7,213L768.9,210.5z"/>
<path color="#ff563a" d="M768.9,210.5L766.7,213L767.1,208L769.4,205.5z"/>
<path color="#fe553a" d="M769.4,205.5L767.1,208L768.5,203.3L770.9,200.7z"/>
<path color="#fa5238" d="M770.9,200.7L768.5,203.3L770.9,198.9L773.3,196.3z"/>
<path color="#fa5137" d="M773.3,196.3L770.9,198.9L774.1,195.2L776.7,192.6z"/>
</g>
<defs><linearGradient id="gl0" gradientUnits="userSpaceOnUse" x1="456" y1="0" x2="629.7" y2="0"><stop offset="0" stop-color="#fff0e6" stop-opacity="0"/><stop offset="0.07" stop-color="#fff0e6" stop-opacity="0.3"/><stop offset="0.5" stop-color="#fff0e6" stop-opacity="0.2"/><stop offset="1" stop-color="#fff0e6" stop-opacity="0.03"/></linearGradient><linearGradient id="gr0" gradientUnits="userSpaceOnUse" x1="562.4" y1="0" x2="793.1" y2="0"><stop offset="0" stop-color="#fff0e6" stop-opacity="0"/><stop offset="0.25" stop-color="#fff0e6" stop-opacity="0.04"/><stop offset="0.55" stop-color="#fff0e6" stop-opacity="0.08"/><stop offset="0.83" stop-color="#fff0e6" stop-opacity="0.19"/><stop offset="0.94" stop-color="#fff0e6" stop-opacity="0.33"/><stop offset="1" stop-color="#fff0e6" stop-opacity="0.42"/></linearGradient><linearGradient id="gl1" gradientUnits="userSpaceOnUse" x1="398.6" y1="0" x2="692" y2="0"><stop offset="0" stop-color="#fff0e6" stop-opacity="0.93"/><stop offset="0.05" stop-color="#fff0e6" stop-opacity="0.84"/><stop offset="0.065" stop-color="#fff0e6" stop-opacity="0.6"/><stop offset="0.115" stop-color="#fff0e6" stop-opacity="0.45"/><stop offset="0.23" stop-color="#fff0e6" stop-opacity="0.33"/><stop offset="0.4" stop-color="#fff0e6" stop-opacity="0.19"/><stop offset="0.58" stop-color="#fff0e6" stop-opacity="0.09"/><stop offset="0.75" stop-color="#fff0e6" stop-opacity="0.05"/><stop offset="1" stop-color="#fff0e6" stop-opacity="0"/></linearGradient><linearGradient id="gl1c" gradientUnits="userSpaceOnUse" x1="398.6" y1="0" x2="466" y2="0"><stop offset="0" stop-color="#fff0e6" stop-opacity="0.9"/><stop offset="0.3" stop-color="#fff0e6" stop-opacity="0.75"/><stop offset="0.65" stop-color="#fff0e6" stop-opacity="0.38"/><stop offset="1" stop-color="#fff0e6" stop-opacity="0"/></linearGradient><linearGradient id="gr1" gradientUnits="userSpaceOnUse" x1="562.7" y1="0" x2="791.8" y2="0"><stop offset="0" stop-color="#fff0e6" stop-opacity="0"/><stop offset="0.25" stop-color="#fff0e6" stop-opacity="0.04"/><stop offset="0.55" stop-color="#fff0e6" stop-opacity="0.08"/><stop offset="0.83" stop-color="#fff0e6" stop-opacity="0.19"/><stop offset="0.94" stop-color="#fff0e6" stop-opacity="0.33"/><stop offset="1" stop-color="#fff0e6" stop-opacity="0.42"/></linearGradient><linearGradient id="gl2" gradientUnits="userSpaceOnUse" x1="399.8" y1="0" x2="691.5" y2="0"><stop offset="0" stop-color="#fff0e6" stop-opacity="0.93"/><stop offset="0.05" stop-color="#fff0e6" stop-opacity="0.84"/><stop offset="0.065" stop-color="#fff0e6" stop-opacity="0.6"/><stop offset="0.115" stop-color="#fff0e6" stop-opacity="0.45"/><stop offset="0.23" stop-color="#fff0e6" stop-opacity="0.33"/><stop offset="0.4" stop-color="#fff0e6" stop-opacity="0.19"/><stop offset="0.58" stop-color="#fff0e6" stop-opacity="0.09"/><stop offset="0.75" stop-color="#fff0e6" stop-opacity="0.05"/><stop offset="1" stop-color="#fff0e6" stop-opacity="0"/></linearGradient><linearGradient id="gl2c" gradientUnits="userSpaceOnUse" x1="399.8" y1="0" x2="466" y2="0"><stop offset="0" stop-color="#fff0e6" stop-opacity="0.9"/><stop offset="0.3" stop-color="#fff0e6" stop-opacity="0.75"/><stop offset="0.65" stop-color="#fff0e6" stop-opacity="0.38"/><stop offset="1" stop-color="#fff0e6" stop-opacity="0"/></linearGradient><linearGradient id="gr2" gradientUnits="userSpaceOnUse" x1="562.9" y1="0" x2="790.6" y2="0"><stop offset="0" stop-color="#fff0e6" stop-opacity="0"/><stop offset="0.25" stop-color="#fff0e6" stop-opacity="0.04"/><stop offset="0.55" stop-color="#fff0e6" stop-opacity="0.08"/><stop offset="0.83" stop-color="#fff0e6" stop-opacity="0.19"/><stop offset="0.94" stop-color="#fff0e6" stop-opacity="0.33"/><stop offset="1" stop-color="#fff0e6" stop-opacity="0.42"/></linearGradient><linearGradient id="gl3" gradientUnits="userSpaceOnUse" x1="401.1" y1="0" x2="690.9" y2="0"><stop offset="0" stop-color="#fff0e6" stop-opacity="0.8"/><stop offset="0.05" stop-color="#fff0e6" stop-opacity="0.72"/><stop offset="0.065" stop-color="#fff0e6" stop-opacity="0.52"/><stop offset="0.115" stop-color="#fff0e6" stop-opacity="0.42"/><stop offset="0.23" stop-color="#fff0e6" stop-opacity="0.33"/><stop offset="0.4" stop-color="#fff0e6" stop-opacity="0.19"/><stop offset="0.58" stop-color="#fff0e6" stop-opacity="0.09"/><stop offset="0.75" stop-color="#fff0e6" stop-opacity="0.05"/><stop offset="1" stop-color="#fff0e6" stop-opacity="0"/></linearGradient><linearGradient id="gl3c" gradientUnits="userSpaceOnUse" x1="401.1" y1="0" x2="466.2" y2="0"><stop offset="0" stop-color="#fff0e6" stop-opacity="0.77"/><stop offset="0.3" stop-color="#fff0e6" stop-opacity="0.65"/><stop offset="0.65" stop-color="#fff0e6" stop-opacity="0.33"/><stop offset="1" stop-color="#fff0e6" stop-opacity="0"/></linearGradient><linearGradient id="gr3" gradientUnits="userSpaceOnUse" x1="563.2" y1="0" x2="789.3" y2="0"><stop offset="0" stop-color="#fff0e6" stop-opacity="0"/><stop offset="0.25" stop-color="#fff0e6" stop-opacity="0.04"/><stop offset="0.55" stop-color="#fff0e6" stop-opacity="0.08"/><stop offset="0.83" stop-color="#fff0e6" stop-opacity="0.19"/><stop offset="0.94" stop-color="#fff0e6" stop-opacity="0.33"/><stop offset="1" stop-color="#fff0e6" stop-opacity="0.42"/></linearGradient><linearGradient id="gl4" gradientUnits="userSpaceOnUse" x1="402.4" y1="0" x2="690.3" y2="0"><stop offset="0" stop-color="#fff0e6" stop-opacity="0.67"/><stop offset="0.05" stop-color="#fff0e6" stop-opacity="0.6"/><stop offset="0.065" stop-color="#fff0e6" stop-opacity="0.43"/><stop offset="0.115" stop-color="#fff0e6" stop-opacity="0.38"/><stop offset="0.23" stop-color="#fff0e6" stop-opacity="0.33"/><stop offset="0.4" stop-color="#fff0e6" stop-opacity="0.19"/><stop offset="0.58" stop-color="#fff0e6" stop-opacity="0.09"/><stop offset="0.75" stop-color="#fff0e6" stop-opacity="0.05"/><stop offset="1" stop-color="#fff0e6" stop-opacity="0"/></linearGradient><linearGradient id="gl4c" gradientUnits="userSpaceOnUse" x1="402.4" y1="0" x2="466.5" y2="0"><stop offset="0" stop-color="#fff0e6" stop-opacity="0.65"/><stop offset="0.3" stop-color="#fff0e6" stop-opacity="0.54"/><stop offset="0.65" stop-color="#fff0e6" stop-opacity="0.27"/><stop offset="1" stop-color="#fff0e6" stop-opacity="0"/></linearGradient><linearGradient id="gr4" gradientUnits="userSpaceOnUse" x1="563.5" y1="0" x2="788.1" y2="0"><stop offset="0" stop-color="#fff0e6" stop-opacity="0"/><stop offset="0.25" stop-color="#fff0e6" stop-opacity="0.04"/><stop offset="0.55" stop-color="#fff0e6" stop-opacity="0.08"/><stop offset="0.83" stop-color="#fff0e6" stop-opacity="0.19"/><stop offset="0.94" stop-color="#fff0e6" stop-opacity="0.33"/><stop offset="1" stop-color="#fff0e6" stop-opacity="0.42"/></linearGradient><linearGradient id="gs4" gradientUnits="userSpaceOnUse" x1="698.9" y1="0" x2="768.4" y2="0"><stop offset="0" stop-color="#fff0e6" stop-opacity="0"/><stop offset="0.5" stop-color="#fff0e6" stop-opacity="0.16"/><stop offset="0.85" stop-color="#fff0e6" stop-opacity="0.38"/><stop offset="1" stop-color="#fff0e6" stop-opacity="0.55"/></linearGradient><linearGradient id="gl5" gradientUnits="userSpaceOnUse" x1="403.6" y1="0" x2="689.7" y2="0"><stop offset="0" stop-color="#fff0e6" stop-opacity="0.52"/><stop offset="0.05" stop-color="#fff0e6" stop-opacity="0.47"/><stop offset="0.065" stop-color="#fff0e6" stop-opacity="0.34"/><stop offset="0.115" stop-color="#fff0e6" stop-opacity="0.34"/><stop offset="0.23" stop-color="#fff0e6" stop-opacity="0.33"/><stop offset="0.4" stop-color="#fff0e6" stop-opacity="0.19"/><stop offset="0.58" stop-color="#fff0e6" stop-opacity="0.09"/><stop offset="0.75" stop-color="#fff0e6" stop-opacity="0.05"/><stop offset="1" stop-color="#fff0e6" stop-opacity="0"/></linearGradient><linearGradient id="gl5c" gradientUnits="userSpaceOnUse" x1="403.6" y1="0" x2="466.9" y2="0"><stop offset="0" stop-color="#fff0e6" stop-opacity="0.5"/><stop offset="0.3" stop-color="#fff0e6" stop-opacity="0.42"/><stop offset="0.65" stop-color="#fff0e6" stop-opacity="0.21"/><stop offset="1" stop-color="#fff0e6" stop-opacity="0"/></linearGradient><linearGradient id="gr5" gradientUnits="userSpaceOnUse" x1="563.7" y1="0" x2="786.8" y2="0"><stop offset="0" stop-color="#fff0e6" stop-opacity="0"/><stop offset="0.25" stop-color="#fff0e6" stop-opacity="0.04"/><stop offset="0.55" stop-color="#fff0e6" stop-opacity="0.08"/><stop offset="0.83" stop-color="#fff0e6" stop-opacity="0.19"/><stop offset="0.94" stop-color="#fff0e6" stop-opacity="0.33"/><stop offset="1" stop-color="#fff0e6" stop-opacity="0.42"/></linearGradient><linearGradient id="gs5" gradientUnits="userSpaceOnUse" x1="635" y1="0" x2="766.6" y2="0"><stop offset="0" stop-color="#fff0e6" stop-opacity="0"/><stop offset="0.5" stop-color="#fff0e6" stop-opacity="0.16"/><stop offset="0.85" stop-color="#fff0e6" stop-opacity="0.38"/><stop offset="1" stop-color="#fff0e6" stop-opacity="0.55"/></linearGradient><linearGradient id="gl6" gradientUnits="userSpaceOnUse" x1="404.8" y1="0" x2="688.9" y2="0"><stop offset="0" stop-color="#fff0e6" stop-opacity="0.47"/><stop offset="0.05" stop-color="#fff0e6" stop-opacity="0.42"/><stop offset="0.065" stop-color="#fff0e6" stop-opacity="0.3"/><stop offset="0.115" stop-color="#fff0e6" stop-opacity="0.32"/><stop offset="0.23" stop-color="#fff0e6" stop-opacity="0.33"/><stop offset="0.4" stop-color="#fff0e6" stop-opacity="0.19"/><stop offset="0.58" stop-color="#fff0e6" stop-opacity="0.09"/><stop offset="0.75" stop-color="#fff0e6" stop-opacity="0.05"/><stop offset="1" stop-color="#fff0e6" stop-opacity="0"/></linearGradient><linearGradient id="gl6c" gradientUnits="userSpaceOnUse" x1="404.8" y1="0" x2="467.4" y2="0"><stop offset="0" stop-color="#fff0e6" stop-opacity="0.45"/><stop offset="0.3" stop-color="#fff0e6" stop-opacity="0.38"/><stop offset="0.65" stop-color="#fff0e6" stop-opacity="0.19"/><stop offset="1" stop-color="#fff0e6" stop-opacity="0"/></linearGradient></defs>
<g filter="url(#hb)">
<ellipse cx="743.6" cy="228.6" rx="26" ry="4.5" transform="rotate(-13 743.6 228.6)" fill="#fff0e6" fill-opacity="0.5"/>
<path d="M493.3,268.5L489.1,267.6L485.1,267.2L481.3,267.1L477.6,267.2L474.2,267.6L470.9,268.3L467.9,269.2L465.1,270.3L462.5,271.7L460.2,273.6L460.8,276.4L463.8,277.6L466.7,278.1L469.7,278.4L472.8,278.3L476,277.9L479.3,277.2L482.8,276.3L486.4,275L490,273.4L493.7,271.3z" fill="#fff0e6" fill-opacity="0.3"/>
<ellipse cx="742.3" cy="394.3" rx="20" ry="4.5" transform="rotate(-13 742.3 394.3)" fill="#fff0e6" fill-opacity="0.4"/>
<path d="M493.5,421.5L489.3,420.8L485.2,420.6L481.3,420.7L477.6,421.1L474.1,421.7L470.8,422.5L467.8,423.6L465,424.9L462.4,426.4L460.2,428.4L461.1,431.2L464.2,432.1L467.2,432.5L470.3,432.5L473.4,432.3L476.6,431.7L480,430.8L483.4,429.7L486.9,428.3L490.5,426.6L494.1,424.3z" fill="#fff0e6" fill-opacity="0.3"/>
<ellipse cx="741.1" cy="558" rx="14" ry="4.5" transform="rotate(-13 741.1 558)" fill="#fff0e6" fill-opacity="0.3"/>
<path d="M493.7,572.9L489.3,572.4L485.2,572.5L481.3,572.8L477.5,573.4L474,574.2L470.6,575.2L467.5,576.5L464.7,577.9L462.2,579.6L460,581.8L461.1,584.5L464.4,585.1L467.6,585.3L470.7,585.1L473.9,584.6L477.2,583.9L480.5,582.8L483.9,581.6L487.3,580L490.9,578.1L494.4,575.7z" fill="#fff0e6" fill-opacity="0.3"/>
<path d="M493.7,722.7L489.3,722.4L485.1,722.7L481.1,723.2L477.3,724L473.7,725L470.4,726.3L467.3,727.8L464.4,729.4L461.8,731.4L459.7,733.7L461.1,736.2L464.5,736.6L467.8,736.5L471,736.1L474.3,735.4L477.5,734.5L480.9,733.3L484.2,731.8L487.7,730L491.2,728L494.6,725.4z" fill="#fff0e6" fill-opacity="0.3"/>
<path d="M698.9,828.7L705,829L710.9,829.2L716.7,829.3L722.2,829.4L727.6,829.5L732.8,829.5L737.7,829.5L742.4,829.5L746.9,829.4L751.2,829.2L755.1,829.1L758.9,828.9L762.3,828.7L765.5,828.5L768.4,828.2C773.4,827.7 773.4,823.7 768.4,823.2L768.4,823.2L765.5,823.7L762.3,824.3L758.9,824.7L755.1,825.2L751.2,825.7L746.9,826.1L742.4,826.4L737.7,826.8L732.8,827.1L727.6,827.3L722.2,827.6L716.7,827.7L710.9,827.9L705,828L698.9,828z" fill="url(#gs4)"/>
<path d="M493.8,870.9L489.3,870.9L485.1,871.3L481,872.1L477.1,873.1L473.5,874.4L470.1,875.9L467,877.6L464.1,879.5L461.5,881.6L459.4,884.2L460.9,886.6L464.5,886.7L467.9,886.3L471.2,885.6L474.5,884.7L477.8,883.6L481.1,882.1L484.5,880.5L487.9,878.5L491.4,876.3L494.8,873.6z" fill="#fff0e6" fill-opacity="0.3"/>
<path d="M635,991.3L642.7,992L650.4,992.7L657.9,993.2L665.4,993.7L672.7,994L679.9,994.3L686.9,994.5L693.8,994.6L700.5,994.7L707,994.7L713.2,994.6L719.3,994.4L725,994.2L730.6,993.9L735.8,993.5L740.8,993.1L745.5,992.7L749.9,992.2L753.9,991.6L757.6,991.1L761,990.5L764,989.9L766.6,989.3C771.6,988.8 771.6,981.8 766.6,981.3L766.6,981.3L764,982.2L761,983.1L757.6,983.9L753.9,984.8L749.9,985.6L745.5,986.4L740.8,987.2L735.8,987.9L730.6,988.5L725,989.1L719.3,989.7L713.2,990.1L707,990.5L700.5,990.8L693.8,991.1L686.9,991.2L679.9,991.3L672.7,991.3L665.4,991.3L657.9,991.1L650.4,990.9L642.7,990.5L635,990.1z" fill="url(#gs5)"/>
<path d="M493.8,1017.5L489.3,1017.7L485,1018.4L480.8,1019.4L476.9,1020.6L473.3,1022.2L469.8,1023.9L466.7,1025.8L463.8,1028L461.2,1030.4L459.1,1033.2L460.8,1035.5L464.5,1035.2L468,1034.6L471.4,1033.7L474.7,1032.5L478,1031.1L481.4,1029.5L484.8,1027.6L488.1,1025.5L491.5,1023.1L494.9,1020.2z" fill="#fff0e6" fill-opacity="0.3"/>
</g>
<g class="coil" filter="url(#sm)">
<path color="#f65036" d="M772.9,1020L771.7,1018.5L768.4,1014.9L769.6,1016.3z"/>
<path color="#f75137" d="M769.6,1016.3L768.4,1014.9L765.9,1010.7L767.1,1012z"/>
<path color="#fb553a" d="M767.1,1012L765.9,1010.7L764.3,1006L765.5,1007.3z"/>
<path color="#ff593d" d="M765.5,1007.3L764.3,1006L763.7,1001.1L765,1002.3z"/>
<path color="#ff593d" d="M765,1002.3L763.7,1001.1L764.2,996.1L765.4,997.4z"/>
<path color="#ff593d" d="M765.4,997.4L764.2,996.1L765.6,991.4L767,992.6z"/>
<path color="#ff5a3e" d="M767,992.6L765.6,991.4L768,987L769.4,988.3z"/>
<path color="#ff5a3e" d="M769.4,988.3L768,987L771.2,983.3L772.7,984.6z"/>
<path color="#ff5a3e" d="M772.7,984.6L771.2,983.3L775.1,980.3L776.7,981.6z"/>
<path color="#ff593e" d="M776.7,981.6L775.1,980.3L779.5,978.1L781.2,979.6z"/>
<path color="#ff593d" d="M781.2,979.6L779.5,978.1L784.3,977L786,978.5z"/>
<path color="#ff593d" d="M786,978.5L784.3,977L789.2,976.9L790.9,978.5z"/>
<path color="#ff593d" d="M790.9,978.5L789.2,976.9L793.9,977.8L795.8,979.5z"/>
<path color="#fd573c" d="M795.8,979.5L793.9,977.8L798.4,979.7L800.3,981.5z"/>
<path color="#fa5439" d="M800.3,981.5L798.4,979.7L802.4,982.5L804.3,984.4z"/>
<path color="#fa5439" d="M804.3,984.4L802.4,982.5L805.7,986.1L807.6,988.1z"/>
<path color="#f65137" d="M445.3,1081.6L444.6,1086L445,1081.4L445.7,1077z"/>
<path color="#f85339" d="M445.7,1077L445,1081.4L444.5,1076.9L445.1,1072.5z"/>
<path color="#fe593e" d="M445.1,1072.5L444.5,1076.9L442.9,1072.5L443.5,1068.1z"/>
<path color="#ff5b3f" d="M443.5,1068.1L442.9,1072.5L440.3,1068.6L440.9,1064.1z"/>
<path color="#ff5b3f" d="M440.9,1064.1L440.3,1068.6L437,1065.2L437.6,1060.7z"/>
<path color="#ff5b3f" d="M437.6,1060.7L437,1065.2L432.9,1062.5L433.5,1058z"/>
<path color="#ff5b3f" d="M433.5,1058L432.9,1062.5L428.4,1060.7L429,1056z"/>
<path color="#ff5b3f" d="M429,1056L428.4,1060.7L423.5,1059.7L424.1,1055z"/>
<path color="#ff5b3f" d="M424.1,1055L423.5,1059.7L418.5,1059.8L419.2,1055z"/>
<path color="#ff5b3f" d="M419.2,1055L418.5,1059.8L413.7,1060.8L414.4,1055.9z"/>
<path color="#ff5b3f" d="M414.4,1055.9L413.7,1060.8L409.1,1062.7L410,1057.7z"/>
<path color="#ff5b3f" d="M410,1057.7L409.1,1062.7L405.2,1065.4L406,1060.4z"/>
<path color="#ff5b3f" d="M406,1060.4L405.2,1065.4L401.9,1068.8L402.8,1063.7z"/>
<path color="#fb573c" d="M402.8,1063.7L401.9,1068.8L399.5,1072.8L400.5,1067.7z"/>
<path color="#fa553b" d="M400.5,1067.7L399.5,1072.8L398,1077.2L399.1,1072z"/>
<path color="#f65137" d="M770,1017.6L769.6,1016.3L767.1,1012L767.5,1013.3z"/>
<path color="#f65137" d="M767.5,1013.3L767.1,1012L765.5,1007.3L766,1008.5z"/>
<path color="#f85439" d="M766,1008.5L765.5,1007.3L765,1002.3L765.5,1003.5z"/>
<path color="#ff5b3f" d="M765.5,1003.5L765,1002.3L765.4,997.4L766,998.5z"/>
<path color="#ff5b3f" d="M766,998.5L765.4,997.4L767,992.6L767.6,993.8z"/>
<path color="#ff5b3f" d="M767.6,993.8L767,992.6L769.4,988.3L770.1,989.5z"/>
<path color="#ff5b3f" d="M770.1,989.5L769.4,988.3L772.7,984.6L773.4,985.8z"/>
<path color="#ff5b3f" d="M773.4,985.8L772.7,984.6L776.7,981.6L777.5,982.9z"/>
<path color="#ff5b3f" d="M777.5,982.9L776.7,981.6L781.2,979.6L782,980.9z"/>
<path color="#ff5b3f" d="M782,980.9L781.2,979.6L786,978.5L786.9,979.9z"/>
<path color="#ff5b3f" d="M786.9,979.9L786,978.5L790.9,978.5L791.9,980z"/>
<path color="#ff5b3f" d="M791.9,980L790.9,978.5L795.8,979.5L796.8,981z"/>
<path color="#ff5b3f" d="M796.8,981L795.8,979.5L800.3,981.5L801.3,983.1z"/>
<path color="#fe5a3f" d="M801.3,983.1L800.3,981.5L804.3,984.4L805.3,986.1z"/>
<path color="#fb563b" d="M805.3,986.1L804.3,984.4L807.6,988.1L808.7,989.9z"/>
<path color="#fa553b" d="M808.7,989.9L807.6,988.1L810.1,992.4L811.1,994.2z"/>
<path color="#fa553b" d="M811.1,994.2L810.1,992.4L811.7,997.1L812.7,999z"/>
<path color="#f65138" d="M445,1081.4L445,1086.3L444.4,1081.7L444.5,1076.9z"/>
<path color="#f9553a" d="M444.5,1076.9L444.4,1081.7L442.9,1077.4L442.9,1072.5z"/>
<path color="#ff5b3f" d="M442.9,1072.5L442.9,1077.4L440.4,1073.4L440.3,1068.6z"/>
<path color="#ff5b3f" d="M440.3,1068.6L440.4,1073.4L437,1070.1L437,1065.2z"/>
<path color="#ff5b3f" d="M437,1065.2L437,1070.1L433,1067.5L432.9,1062.5z"/>
<path color="#ff5c40" d="M432.9,1062.5L433,1067.5L428.4,1065.7L428.4,1060.7z"/>
<path color="#ff5d41" d="M428.4,1060.7L428.4,1065.7L423.5,1064.9L423.5,1059.7z"/>
<path color="#ff5d41" d="M423.5,1059.7L423.5,1064.9L418.5,1065L418.5,1059.8z"/>
<path color="#ff5d41" d="M418.5,1059.8L418.5,1065L413.6,1066.1L413.7,1060.8z"/>
<path color="#ff5d41" d="M413.7,1060.8L413.6,1066.1L409.1,1068.1L409.1,1062.7z"/>
<path color="#ff5d41" d="M409.1,1062.7L409.1,1068.1L405,1070.9L405.2,1065.4z"/>
<path color="#ff5d41" d="M405.2,1065.4L405,1070.9L401.7,1074.5L401.9,1068.8z"/>
<path color="#fe5a3e" d="M401.9,1068.8L401.7,1074.5L399.2,1078.5L399.5,1072.8z"/>
<path color="#fa563b" d="M399.5,1072.8L399.2,1078.5L397.7,1083L398,1077.2z"/>
<path color="#fa553b" d="M398,1077.2L397.7,1083L397.2,1087.6L397.6,1081.8z"/>
<path color="#f65037" d="M782.5,870.1L781.3,869.2L776.8,867.2L778,868.1z"/>
<path color="#f65037" d="M778,868.1L776.8,867.2L772.8,864.4L773.9,865.2z"/>
<path color="#f75137" d="M773.9,865.2L772.8,864.4L769.4,860.7L770.6,861.5z"/>
<path color="#fd573c" d="M770.6,861.5L769.4,860.7L766.9,856.5L768.1,857.1z"/>
<path color="#ff593d" d="M768.1,857.1L766.9,856.5L765.3,851.8L766.5,852.4z"/>
<path color="#ff593d" d="M766.5,852.4L765.3,851.8L764.7,846.8L765.9,847.4z"/>
<path color="#ff593e" d="M765.9,847.4L764.7,846.8L765.2,841.9L766.4,842.4z"/>
<path color="#ff5a3e" d="M766.4,842.4L765.2,841.9L766.6,837.1L767.9,837.7z"/>
<path color="#ff5a3e" d="M767.9,837.7L766.6,837.1L769,832.7L770.4,833.3z"/>
<path color="#ff5a3e" d="M770.4,833.3L769,832.7L772.3,829L773.7,829.6z"/>
<path color="#ff593e" d="M773.7,829.6L772.3,829L776.2,826L777.7,826.6z"/>
<path color="#ff593d" d="M777.7,826.6L776.2,826L780.7,823.9L782.3,824.6z"/>
<path color="#ff593d" d="M782.3,824.6L780.7,823.9L785.4,822.8L787.1,823.5z"/>
<path color="#ff593d" d="M787.1,823.5L785.4,822.8L790.4,822.7L792.1,823.5z"/>
<path color="#fc563b" d="M792.1,823.5L790.4,822.7L795.2,823.6L797,824.5z"/>
<path color="#fa5439" d="M797,824.5L795.2,823.6L799.7,825.6L801.5,826.6z"/>
<path color="#fa5439" d="M801.5,826.6L799.7,825.6L803.7,828.4L805.5,829.5z"/>
<path color="#f65137" d="M444.4,927.5L443.7,931.4L444.1,926.7L444.8,922.9z"/>
<path color="#f85439" d="M444.8,922.9L444.1,926.7L443.5,922.1L444.2,918.3z"/>
<path color="#ff5a3f" d="M444.2,918.3L443.5,922.1L441.9,917.6L442.6,913.8z"/>
<path color="#ff5b3f" d="M442.6,913.8L441.9,917.6L439.4,913.6L440,909.7z"/>
<path color="#ff5b3f" d="M440,909.7L439.4,913.6L436,910.1L436.6,906.2z"/>
<path color="#ff5b3f" d="M436.6,906.2L436,910.1L431.9,907.4L432.6,903.4z"/>
<path color="#ff5b3f" d="M432.6,903.4L431.9,907.4L427.3,905.5L428,901.5z"/>
<path color="#ff5b3f" d="M428,901.5L427.3,905.5L422.4,904.5L423.1,900.5z"/>
<path color="#ff5b3f" d="M423.1,900.5L422.4,904.5L417.4,904.5L418.2,900.4z"/>
<path color="#ff5b3f" d="M418.2,900.4L417.4,904.5L412.6,905.5L413.4,901.3z"/>
<path color="#ff5b3f" d="M413.4,901.3L412.6,905.5L408,907.5L408.9,903.2z"/>
<path color="#ff5b3f" d="M408.9,903.2L408,907.5L404,910.3L404.9,905.9z"/>
<path color="#ff5a3f" d="M404.9,905.9L404,910.3L400.7,913.8L401.7,909.4z"/>
<path color="#fb563b" d="M401.7,909.4L400.7,913.8L398.3,917.8L399.4,913.4z"/>
<path color="#fa553a" d="M399.4,913.4L398.3,917.8L396.8,922.3L397.9,917.8z"/>
<path color="#fa553b" d="M813.4,1006.2L813.2,1004L812.7,1009L812.8,1011.2z"/>
<path color="#f65137" d="M765.9,1009.9L766,1008.5L765.5,1003.5L765.4,1004.8z"/>
<path color="#f65137" d="M765.4,1004.8L765.5,1003.5L766,998.5L766,999.9z"/>
<path color="#f85339" d="M766,999.9L766,998.5L767.6,993.8L767.6,995.1z"/>
<path color="#fe5a3e" d="M767.6,995.1L767.6,993.8L770.1,989.5L770.2,990.8z"/>
<path color="#ff5b3f" d="M770.2,990.8L770.1,989.5L773.4,985.8L773.6,987.2z"/>
<path color="#ff5c40" d="M773.6,987.2L773.4,985.8L777.5,982.9L777.6,984.4z"/>
<path color="#ff5e42" d="M777.6,984.4L777.5,982.9L782,980.9L782.2,982.4z"/>
<path color="#ff5e43" d="M782.2,982.4L782,980.9L786.9,979.9L787.1,981.5z"/>
<path color="#ff5e43" d="M787.1,981.5L786.9,979.9L791.9,980L792.1,981.7z"/>
<path color="#ff5e43" d="M792.1,981.7L791.9,980L796.8,981L797,982.9z"/>
<path color="#ff5e42" d="M797,982.9L796.8,981L801.3,983.1L801.6,985z"/>
<path color="#ff5b3f" d="M801.6,985L801.3,983.1L805.3,986.1L805.6,988.1z"/>
<path color="#ff5b3f" d="M805.6,988.1L805.3,986.1L808.7,989.9L808.9,991.9z"/>
<path color="#fe5a3e" d="M808.9,991.9L808.7,989.9L811.1,994.2L811.4,996.4z"/>
<path color="#fb563b" d="M811.4,996.4L811.1,994.2L812.7,999L812.9,1001.2z"/>
<path color="#fa553b" d="M812.9,1001.2L812.7,999L813.2,1004L813.4,1006.2z"/>
<path color="#f65137" d="M445,1086.3L445.9,1092.5L445.4,1087.9L444.4,1081.7z"/>
<path color="#f65238" d="M444.4,1081.7L445.4,1087.9L443.9,1083.6L442.9,1077.4z"/>
<path color="#fa563b" d="M442.9,1077.4L443.9,1083.6L441.5,1079.7L440.4,1073.4z"/>
<path color="#ff5b3f" d="M440.4,1073.4L441.5,1079.7L438.2,1076.4L437,1070.1z"/>
<path color="#ff5b3f" d="M437,1070.1L438.2,1076.4L434.2,1073.9L433,1067.5z"/>
<path color="#ff5c40" d="M433,1067.5L434.2,1073.9L429.6,1072.3L428.4,1065.7z"/>
<path color="#ff6045" d="M428.4,1065.7L429.6,1072.3L424.7,1071.6L423.5,1064.9z"/>
<path color="#ff6449" d="M423.5,1064.9L424.7,1071.6L419.7,1071.8L418.5,1065z"/>
<path color="#ff6449" d="M418.5,1065L419.7,1071.8L414.8,1073.1L413.6,1066.1z"/>
<path color="#ff6449" d="M413.6,1066.1L414.8,1073.1L410.2,1075.2L409.1,1068.1z"/>
<path color="#ff6449" d="M409.1,1068.1L410.2,1075.2L406.2,1078.1L405,1070.9z"/>
<path color="#ff6449" d="M405,1070.9L406.2,1078.1L402.8,1081.8L401.7,1074.5z"/>
<path color="#ff6146" d="M401.7,1074.5L402.8,1081.8L400.3,1085.9L399.2,1078.5z"/>
<path color="#fd593d" d="M399.2,1078.5L400.3,1085.9L398.7,1090.4L397.7,1083z"/>
<path color="#fa563b" d="M397.7,1083L398.7,1090.4L398.1,1095.1L397.2,1087.6z"/>
<path color="#f65137" d="M774.4,865.9L773.9,865.2L770.6,861.5L771,862.1z"/>
<path color="#f65137" d="M771,862.1L770.6,861.5L768.1,857.1L768.5,857.8z"/>
<path color="#f95439" d="M768.5,857.8L768.1,857.1L766.5,852.4L767,853z"/>
<path color="#ff5b3f" d="M767,853L766.5,852.4L765.9,847.4L766.5,848z"/>
<path color="#ff5b3f" d="M766.5,848L765.9,847.4L766.4,842.4L767,843z"/>
<path color="#ff5b3f" d="M767,843L766.4,842.4L767.9,837.7L768.6,838.2z"/>
<path color="#ff5b3f" d="M768.6,838.2L767.9,837.7L770.4,833.3L771.1,833.9z"/>
<path color="#ff5b3f" d="M771.1,833.9L770.4,833.3L773.7,829.6L774.4,830.2z"/>
<path color="#ff5b3f" d="M774.4,830.2L773.7,829.6L777.7,826.6L778.5,827.3z"/>
<path color="#ff5b3f" d="M778.5,827.3L777.7,826.6L782.3,824.6L783.1,825.3z"/>
<path color="#ff5b3f" d="M783.1,825.3L782.3,824.6L787.1,823.5L788,824.3z"/>
<path color="#ff5b3f" d="M788,824.3L787.1,823.5L792.1,823.5L793,824.3z"/>
<path color="#ff5b3f" d="M793,824.3L792.1,823.5L797,824.5L797.9,825.4z"/>
<path color="#fe5a3e" d="M797.9,825.4L797,824.5L801.5,826.6L802.5,827.5z"/>
<path color="#fb563b" d="M802.5,827.5L801.5,826.6L805.5,829.5L806.5,830.5z"/>
<path color="#fa553b" d="M806.5,830.5L805.5,829.5L808.9,833.2L809.9,834.2z"/>
<path color="#fa553b" d="M809.9,834.2L808.9,833.2L811.4,837.5L812.4,838.6z"/>
<path color="#f65137" d="M443.7,931.4L443.5,935.6L444,930.9L444.1,926.7z"/>
<path color="#f65238" d="M444.1,926.7L444,930.9L443.5,926.2L443.5,922.1z"/>
<path color="#fa553a" d="M443.5,922.1L443.5,926.2L441.9,921.8L441.9,917.6z"/>
<path color="#ff5b3f" d="M441.9,917.6L441.9,921.8L439.4,917.8L439.4,913.6z"/>
<path color="#ff5b3f" d="M439.4,913.6L439.4,917.8L436,914.3L436,910.1z"/>
<path color="#ff5b3f" d="M436,910.1L436,914.3L431.9,911.6L431.9,907.4z"/>
<path color="#ff5c40" d="M431.9,907.4L431.9,911.6L427.3,909.8L427.3,905.5z"/>
<path color="#ff5d41" d="M427.3,905.5L427.3,909.8L422.4,908.9L422.4,904.5z"/>
<path color="#ff5d41" d="M422.4,904.5L422.4,908.9L417.4,909L417.4,904.5z"/>
<path color="#ff5d41" d="M417.4,904.5L417.4,909L412.5,910.1L412.6,905.5z"/>
<path color="#ff5d41" d="M412.6,905.5L412.5,910.1L407.9,912.1L408,907.5z"/>
<path color="#ff5d41" d="M408,907.5L407.9,912.1L403.8,915L404,910.3z"/>
<path color="#ff5c41" d="M404,910.3L403.8,915L400.5,918.6L400.7,913.8z"/>
<path color="#fe5a3e" d="M400.7,913.8L400.5,918.6L398,922.7L398.3,917.8z"/>
<path color="#fa563b" d="M398.3,917.8L398,922.7L396.5,927.2L396.8,922.3z"/>
<path color="#fa553b" d="M396.8,922.3L396.5,927.2L396,931.9L396.4,927z"/>
<path color="#f65137" d="M442.1,776.2L441.2,779.6L442.7,775L443.5,771.7z"/>
<path color="#f65138" d="M443.5,771.7L442.7,775L443.2,770.3L443.9,767z"/>
<path color="#fa553a" d="M443.9,767L443.2,770.3L442.6,765.5L443.3,762.3z"/>
<path color="#ff5b3f" d="M443.3,762.3L442.6,765.5L441,761L441.7,757.7z"/>
<path color="#ff5b3f" d="M441.7,757.7L441,761L438.4,756.8L439.1,753.6z"/>
<path color="#ff5b3f" d="M439.1,753.6L438.4,756.8L435,753.3L435.7,750z"/>
<path color="#ff5b3f" d="M435.7,750L435,753.3L430.9,750.5L431.6,747.2z"/>
<path color="#ff5b3f" d="M431.6,747.2L430.9,750.5L426.3,748.5L427,745.2z"/>
<path color="#ff5b3f" d="M427,745.2L426.3,748.5L421.4,747.6L422.1,744.1z"/>
<path color="#ff5b3f" d="M422.1,744.1L421.4,747.6L416.4,747.6L417.1,744.1z"/>
<path color="#ff5b3f" d="M417.1,744.1L416.4,747.6L411.4,748.6L412.3,745.1z"/>
<path color="#ff5b3f" d="M412.3,745.1L411.4,748.6L406.9,750.6L407.8,747z"/>
<path color="#ff5b3f" d="M407.8,747L406.9,750.6L402.9,753.4L403.8,749.8z"/>
<path color="#fe593e" d="M403.8,749.8L402.9,753.4L399.6,757L400.6,753.3z"/>
<path color="#fa563b" d="M400.6,753.3L399.6,757L397.1,761.1L398.2,757.4z"/>
<path color="#fa553a" d="M398.2,757.4L397.1,761.1L395.7,765.7L396.8,761.9z"/>
<path color="#f65137" d="M793.5,714.4L792.2,714.1L787.3,714.2L788.5,714.4z"/>
<path color="#f65037" d="M788.5,714.4L787.3,714.2L782.4,713.2L783.6,713.4z"/>
<path color="#f85238" d="M783.6,713.4L782.4,713.2L777.9,711.2L779,711.4z"/>
<path color="#fe583d" d="M779,711.4L777.9,711.2L773.8,708.3L775,708.4z"/>
<path color="#ff593e" d="M775,708.4L773.8,708.3L770.5,704.7L771.6,704.7z"/>
<path color="#ff593e" d="M771.6,704.7L770.5,704.7L767.9,700.4L769.1,700.4z"/>
<path color="#ff5a3e" d="M769.1,700.4L767.9,700.4L766.3,695.6L767.5,695.6z"/>
<path color="#ff5a3e" d="M767.5,695.6L766.3,695.6L765.8,690.7L766.9,690.6z"/>
<path color="#ff5a3e" d="M766.9,690.6L765.8,690.7L766.2,685.7L767.4,685.6z"/>
<path color="#ff5a3e" d="M767.4,685.6L766.2,685.7L767.7,680.9L769,680.8z"/>
<path color="#ff593e" d="M769,680.8L767.7,680.9L770.1,676.6L771.4,676.5z"/>
<path color="#ff593e" d="M771.4,676.5L770.1,676.6L773.4,672.8L774.8,672.7z"/>
<path color="#ff593e" d="M774.8,672.7L773.4,672.8L777.3,669.8L778.8,669.8z"/>
<path color="#ff593e" d="M778.8,669.8L777.3,669.8L781.8,667.7L783.4,667.7z"/>
<path color="#fb563b" d="M783.4,667.7L781.8,667.7L786.6,666.6L788.3,666.7z"/>
<path color="#fa543a" d="M788.3,666.7L786.6,666.6L791.6,666.6L793.3,666.7z"/>
<path color="#fa543a" d="M793.3,666.7L791.6,666.6L796.4,667.6L798.2,667.7z"/>
<path color="#fb573c" d="M812.1,1009.2L813.4,1006.2L812.8,1011.2L811.4,1014.2z"/>
<path color="#fa553b" d="M811.4,1014.2L812.8,1011.2L811.2,1016L809.8,1018.9z"/>
<path color="#fa553b" d="M809.8,1018.9L811.2,1016L808.6,1020.3L807.1,1023.2z"/>
<path color="#f14d34" d="M766.5,996.8L767.6,995.1L770.2,990.8L769.1,992.6z"/>
<path color="#f24e35" d="M769.1,992.6L770.2,990.8L773.6,987.2L772.5,989z"/>
<path color="#f85439" d="M772.5,989L773.6,987.2L777.6,984.4L776.6,986.3z"/>
<path color="#fe5a3e" d="M776.6,986.3L777.6,984.4L782.2,982.4L781.2,984.5z"/>
<path color="#ff5d41" d="M781.2,984.5L782.2,982.4L787.1,981.5L786.1,983.7z"/>
<path color="#ff6247" d="M786.1,983.7L787.1,981.5L792.1,981.7L791.1,983.9z"/>
<path color="#ff664b" d="M791.1,983.9L792.1,981.7L797,982.9L796,985.2z"/>
<path color="#ff664b" d="M796,985.2L797,982.9L801.6,985L800.5,987.5z"/>
<path color="#ff664b" d="M800.5,987.5L801.6,985L805.6,988.1L804.5,990.7z"/>
<path color="#ff664b" d="M804.5,990.7L805.6,988.1L808.9,991.9L807.8,994.7z"/>
<path color="#ff5c40" d="M807.8,994.7L808.9,991.9L811.4,996.4L810.2,999.2z"/>
<path color="#ff5b3f" d="M810.2,999.2L811.4,996.4L812.9,1001.2L811.7,1004.1z"/>
<path color="#ff5b3f" d="M811.7,1004.1L812.9,1001.2L813.4,1006.2L812.1,1009.2z"/>
<path color="#fa553b" d="M814.6,849.8L814.4,848.4L813.9,853.4L814,854.8z"/>
<path color="#f65137" d="M766.8,853.7L767,853L766.5,848L766.3,848.6z"/>
<path color="#f55137" d="M766.3,848.6L766.5,848L767,843L766.9,843.6z"/>
<path color="#f75338" d="M766.9,843.6L767,843L768.6,838.2L768.5,838.9z"/>
<path color="#fe593e" d="M768.5,838.9L768.6,838.2L771.1,833.9L771.1,834.6z"/>
<path color="#ff5b3f" d="M771.1,834.6L771.1,833.9L774.4,830.2L774.5,830.9z"/>
<path color="#ff5c40" d="M774.5,830.9L774.4,830.2L778.5,827.3L778.6,828z"/>
<path color="#ff5e42" d="M778.6,828L778.5,827.3L783.1,825.3L783.3,826.1z"/>
<path color="#ff5f43" d="M783.3,826.1L783.1,825.3L788,824.3L788.2,825.1z"/>
<path color="#ff5f43" d="M788.2,825.1L788,824.3L793,824.3L793.2,825.2z"/>
<path color="#ff5f43" d="M793.2,825.2L793,824.3L797.9,825.4L798.2,826.4z"/>
<path color="#ff5f43" d="M798.2,826.4L797.9,825.4L802.5,827.5L802.7,828.6z"/>
<path color="#ff5b3f" d="M802.7,828.6L802.5,827.5L806.5,830.5L806.8,831.6z"/>
<path color="#ff5b3f" d="M806.8,831.6L806.5,830.5L809.9,834.2L810.1,835.4z"/>
<path color="#ff5b3f" d="M810.1,835.4L809.9,834.2L812.4,838.6L812.6,839.9z"/>
<path color="#fb573c" d="M812.6,839.9L812.4,838.6L813.9,843.4L814.1,844.7z"/>
<path color="#fa553b" d="M814.1,844.7L813.9,843.4L814.4,848.4L814.6,849.8z"/>
<path color="#fa553b" d="M396,931.9L396.8,938.3L397.3,943L396.6,936.6z"/>
<path color="#f65137" d="M444,930.9L444.9,936.3L444.4,931.6L443.5,926.2z"/>
<path color="#f65238" d="M443.5,926.2L444.4,931.6L442.9,927.2L441.9,921.8z"/>
<path color="#fa563b" d="M441.9,921.8L442.9,927.2L440.4,923.2L439.4,917.8z"/>
<path color="#ff5b3f" d="M439.4,917.8L440.4,923.2L437.1,919.8L436,914.3z"/>
<path color="#ff5b3f" d="M436,914.3L437.1,919.8L433,917.2L431.9,911.6z"/>
<path color="#ff5c40" d="M431.9,911.6L433,917.2L428.5,915.4L427.3,909.8z"/>
<path color="#ff6045" d="M427.3,909.8L428.5,915.4L423.5,914.6L422.4,908.9z"/>
<path color="#ff6348" d="M422.4,908.9L423.5,914.6L418.5,914.8L417.4,909z"/>
<path color="#ff6348" d="M417.4,909L418.5,914.8L413.6,916L412.5,910.1z"/>
<path color="#ff6348" d="M412.5,910.1L413.6,916L409,918.1L407.9,912.1z"/>
<path color="#ff6348" d="M407.9,912.1L409,918.1L404.9,921.1L403.8,915z"/>
<path color="#ff6348" d="M403.8,915L404.9,921.1L401.5,924.7L400.5,918.6z"/>
<path color="#ff6146" d="M400.5,918.6L401.5,924.7L398.9,929L398,922.7z"/>
<path color="#fd593e" d="M398,922.7L398.9,929L397.4,933.5L396.5,927.2z"/>
<path color="#fa563b" d="M396.5,927.2L397.4,933.5L396.8,938.3L396,931.9z"/>
<path color="#f65137" d="M442.7,775L442.5,778.6L443.1,773.8L443.2,770.3z"/>
<path color="#f65238" d="M443.2,770.3L443.1,773.8L442.5,769L442.6,765.5z"/>
<path color="#fa563b" d="M442.6,765.5L442.5,769L440.9,764.5L441,761z"/>
<path color="#ff5b3f" d="M441,761L440.9,764.5L438.4,760.3L438.4,756.8z"/>
<path color="#ff5b3f" d="M438.4,756.8L438.4,760.3L435,756.8L435,753.3z"/>
<path color="#ff5b3f" d="M435,753.3L435,756.8L430.9,754.1L430.9,750.5z"/>
<path color="#ff5c40" d="M430.9,750.5L430.9,754.1L426.3,752.2L426.3,748.5z"/>
<path color="#ff5c40" d="M426.3,748.5L426.3,752.2L421.3,751.2L421.4,747.6z"/>
<path color="#ff5c41" d="M421.4,747.6L421.3,751.2L416.3,751.3L416.4,747.6z"/>
<path color="#ff5c41" d="M416.4,747.6L416.3,751.3L411.3,752.4L411.4,748.6z"/>
<path color="#ff5c41" d="M411.4,748.6L411.3,752.4L406.7,754.4L406.9,750.6z"/>
<path color="#ff5c41" d="M406.9,750.6L406.7,754.4L402.6,757.3L402.9,753.4z"/>
<path color="#ff5c40" d="M402.9,753.4L402.6,757.3L399.3,760.9L399.6,757z"/>
<path color="#fd593d" d="M399.6,757L399.3,760.9L396.8,765.1L397.1,761.1z"/>
<path color="#fa563b" d="M397.1,761.1L396.8,765.1L395.3,769.7L395.7,765.7z"/>
<path color="#fa553b" d="M395.7,765.7L395.3,769.7L394.8,774.5L395.2,770.4z"/>
<path color="#f85339" d="M794,714.7L793.5,714.4L788.5,714.4L789,714.7z"/>
<path color="#f65137" d="M789,714.7L788.5,714.4L783.6,713.4L784,713.6z"/>
<path color="#f65137" d="M784,713.6L783.6,713.4L779,711.4L779.4,711.5z"/>
<path color="#f95439" d="M779.4,711.5L779,711.4L775,708.4L775.4,708.5z"/>
<path color="#ff5b3f" d="M775.4,708.5L775,708.4L771.6,704.7L772,704.8z"/>
<path color="#ff5b3f" d="M772,704.8L771.6,704.7L769.1,700.4L769.5,700.4z"/>
<path color="#ff5b3f" d="M769.5,700.4L769.1,700.4L767.5,695.6L767.9,695.6z"/>
<path color="#ff5b3f" d="M767.9,695.6L767.5,695.6L766.9,690.6L767.4,690.5z"/>
<path color="#ff5b3f" d="M767.4,690.5L766.9,690.6L767.4,685.6L768,685.5z"/>
<path color="#ff5b3f" d="M768,685.5L767.4,685.6L769,680.8L769.6,680.8z"/>
<path color="#ff5b3f" d="M769.6,680.8L769,680.8L771.4,676.5L772.1,676.4z"/>
<path color="#ff5b3f" d="M772.1,676.4L771.4,676.5L774.8,672.7L775.5,672.7z"/>
<path color="#ff5b3f" d="M775.5,672.7L774.8,672.7L778.8,669.8L779.6,669.7z"/>
<path color="#ff5b3f" d="M779.6,669.7L778.8,669.8L783.4,667.7L784.2,667.7z"/>
<path color="#fe5a3e" d="M784.2,667.7L783.4,667.7L788.3,666.7L789.1,666.7z"/>
<path color="#fb563b" d="M789.1,666.7L788.3,666.7L793.3,666.7L794.2,666.7z"/>
<path color="#fa553b" d="M794.2,666.7L793.3,666.7L798.2,667.7L799.1,667.8z"/>
<path color="#fa553b" d="M799.1,667.8L798.2,667.7L802.7,669.7L803.7,669.9z"/>
<path color="#f65137" d="M441.2,618.8L440.3,621.5L441.8,616.9L442.6,614.2z"/>
<path color="#f75238" d="M442.6,614.2L441.8,616.9L442.3,612L443,609.3z"/>
<path color="#fc583c" d="M443,609.3L442.3,612L441.7,607.2L442.4,604.5z"/>
<path color="#ff5b3f" d="M442.4,604.5L441.7,607.2L440,602.5L440.8,599.9z"/>
<path color="#ff5b3f" d="M440.8,599.9L440,602.5L437.5,598.3L438.2,595.6z"/>
<path color="#ff5b3f" d="M438.2,595.6L437.5,598.3L434,594.7L434.8,592z"/>
<path color="#ff5b3f" d="M434.8,592L434,594.7L429.9,591.8L430.6,589.1z"/>
<path color="#ff5b3f" d="M430.6,589.1L429.9,591.8L425.3,589.8L426,587.1z"/>
<path color="#ff5b3f" d="M426,587.1L425.3,589.8L420.3,588.8L421.1,586.1z"/>
<path color="#ff5b3f" d="M421.1,586.1L420.3,588.8L415.3,588.8L416.1,586z"/>
<path color="#ff5b3f" d="M416.1,586L415.3,588.8L410.3,589.8L411.2,587z"/>
<path color="#ff5b3f" d="M411.2,587L410.3,589.8L405.7,591.8L406.7,589z"/>
<path color="#ff5b3f" d="M406.7,589L405.7,591.8L401.7,594.7L402.7,591.8z"/>
<path color="#fc583c" d="M402.7,591.8L401.7,594.7L398.4,598.4L399.5,595.4z"/>
<path color="#fa553b" d="M399.5,595.4L398.4,598.4L395.9,602.6L397.1,599.6z"/>
<path color="#fa553a" d="M397.1,599.6L395.9,602.6L394.5,607.2L395.7,604.2z"/>
<path color="#f65137" d="M445.4,1087.9L448.7,1096.3L447.2,1092L443.9,1083.6z"/>
<path color="#f75238" d="M443.9,1083.6L447.2,1092L444.9,1088.2L441.5,1079.7z"/>
<path color="#fb563b" d="M441.5,1079.7L444.9,1088.2L441.7,1085L438.2,1076.4z"/>
<path color="#ff5b3f" d="M438.2,1076.4L441.7,1085L437.8,1082.6L434.2,1073.9z"/>
<path color="#ff5b3f" d="M434.2,1073.9L437.8,1082.6L433.3,1081.1L429.6,1072.3z"/>
<path color="#ff5d41" d="M429.6,1072.3L433.3,1081.1L428.5,1080.6L424.7,1071.6z"/>
<path color="#ff6348" d="M424.7,1071.6L428.5,1080.6L423.5,1081L419.7,1071.8z"/>
<path color="#ff684d" d="M419.7,1071.8L423.5,1081L418.7,1082.4L414.8,1073.1z"/>
<path color="#ff684d" d="M414.8,1073.1L418.7,1082.4L414.1,1084.7L410.2,1075.2z"/>
<path color="#ff684d" d="M410.2,1075.2L414.1,1084.7L410,1087.9L406.2,1078.1z"/>
<path color="#ff684d" d="M406.2,1078.1L410,1087.9L406.6,1091.7L402.8,1081.8z"/>
<path color="#ff684d" d="M402.8,1081.8L406.6,1091.7L404,1095.9L400.3,1085.9z"/>
<path color="#ff6348" d="M400.3,1085.9L404,1095.9L402.4,1100.5L398.7,1090.4z"/>
<path color="#f65137" d="M804.2,552.7L802.8,553.1L798.3,555.2L799.6,554.7z"/>
<path color="#f75137" d="M799.6,554.7L798.3,555.2L793.4,556.3L794.7,555.8z"/>
<path color="#fb553a" d="M794.7,555.8L793.4,556.3L788.5,556.3L789.6,555.8z"/>
<path color="#ff5a3e" d="M789.6,555.8L788.5,556.3L783.6,555.3L784.7,554.8z"/>
<path color="#ff5a3e" d="M784.7,554.8L783.6,555.3L779,553.3L780.1,552.7z"/>
<path color="#ff5a3e" d="M780.1,552.7L779,553.3L774.9,550.4L776,549.8z"/>
<path color="#ff5a3e" d="M776,549.8L774.9,550.4L771.5,546.7L772.6,546z"/>
<path color="#ff5a3e" d="M772.6,546L771.5,546.7L769,542.3L770.1,541.7z"/>
<path color="#ff5a3e" d="M770.1,541.7L769,542.3L767.4,537.6L768.5,536.9z"/>
<path color="#ff5a3e" d="M768.5,536.9L767.4,537.6L766.8,532.6L767.9,531.9z"/>
<path color="#ff5a3e" d="M767.9,531.9L766.8,532.6L767.3,527.6L768.4,526.8z"/>
<path color="#ff5a3e" d="M768.4,526.8L767.3,527.6L768.7,522.8L770,522.1z"/>
<path color="#ff5a3e" d="M770,522.1L768.7,522.8L771.2,518.4L772.5,517.7z"/>
<path color="#fd573c" d="M772.5,517.7L771.2,518.4L774.5,514.7L775.8,513.9z"/>
<path color="#fa553a" d="M775.8,513.9L774.5,514.7L778.4,511.7L779.9,511z"/>
<path color="#fa543a" d="M779.9,511L778.4,511.7L783,509.7L784.5,508.9z"/>
<path color="#ff5b3f" d="M813.2,851.5L814.6,849.8L814,854.8L812.5,856.6z"/>
<path color="#fc583d" d="M812.5,856.6L814,854.8L812.4,859.6L810.8,861.4z"/>
<path color="#fa553b" d="M810.8,861.4L812.4,859.6L809.8,863.9L808.2,865.7z"/>
<path color="#fa553b" d="M808.2,865.7L809.8,863.9L806.4,867.5L804.7,869.3z"/>
<path color="#fa563b" d="M804.7,869.3L806.4,867.5L802.3,870.4L800.6,872.1z"/>
<path color="#f14c34" d="M769.9,835.4L771.1,834.6L774.5,830.9L773.4,831.8z"/>
<path color="#f24d34" d="M773.4,831.8L774.5,830.9L778.6,828L777.5,829z"/>
<path color="#f65238" d="M777.5,829L778.6,828L783.3,826.1L782.1,827.1z"/>
<path color="#fd593d" d="M782.1,827.1L783.3,826.1L788.2,825.1L787.1,826.2z"/>
<path color="#ff5c41" d="M787.1,826.2L788.2,825.1L793.2,825.2L792.1,826.4z"/>
<path color="#ff6146" d="M792.1,826.4L793.2,825.2L798.2,826.4L797,827.7z"/>
<path color="#ff664b" d="M797,827.7L798.2,826.4L802.7,828.6L801.6,830z"/>
<path color="#ff664b" d="M801.6,830L802.7,828.6L806.8,831.6L805.6,833.1z"/>
<path color="#ff664b" d="M805.6,833.1L806.8,831.6L810.1,835.4L808.9,837z"/>
<path color="#ff664b" d="M808.9,837L810.1,835.4L812.6,839.9L811.3,841.5z"/>
<path color="#ff5f43" d="M811.3,841.5L812.6,839.9L814.1,844.7L812.7,846.5z"/>
<path color="#ff5b3f" d="M812.7,846.5L814.1,844.7L814.6,849.8L813.2,851.5z"/>
<path color="#fa553b" d="M815.8,691.3L815.7,690.9L815.2,695.9L815.2,696.3z"/>
<path color="#fa563b" d="M815.2,696.3L815.2,695.9L813.6,700.7L813.6,701.1z"/>
<path color="#fe5a3e" d="M813.6,701.1L813.6,700.7L811.1,705L811,705.5z"/>
<path color="#ff5b3f" d="M811,705.5L811.1,705L807.7,708.7L807.5,709.2z"/>
<path color="#ff5b3f" d="M807.5,709.2L807.7,708.7L803.6,711.7L803.4,712.1z"/>
<path color="#ff5e43" d="M803.4,712.1L803.6,711.7L799,713.7L798.7,714.1z"/>
<path color="#ff5f44" d="M798.7,714.1L799,713.7L794,714.7L793.7,715.1z"/>
<path color="#ff5f44" d="M793.7,715.1L794,714.7L789,714.7L788.7,715z"/>
<path color="#ff5f44" d="M788.7,715L789,714.7L784,713.6L783.7,713.8z"/>
<path color="#ff5f43" d="M783.7,713.8L784,713.6L779.4,711.5L779.1,711.7z"/>
<path color="#ff5d41" d="M779.1,711.7L779.4,711.5L775.4,708.5L775.1,708.6z"/>
<path color="#ff5b3f" d="M775.1,708.6L775.4,708.5L772,704.8L771.7,704.8z"/>
<path color="#ff5b3f" d="M771.7,704.8L772,704.8L769.5,700.4L769.2,700.4z"/>
<path color="#f9543a" d="M769.2,700.4L769.5,700.4L767.9,695.6L767.7,695.5z"/>
<path color="#f65137" d="M767.7,695.5L767.9,695.6L767.4,690.5L767.3,690.5z"/>
<path color="#f65137" d="M767.3,690.5L767.4,690.5L768,685.5L767.9,685.5z"/>
<path color="#f75238" d="M767.9,685.5L768,685.5L769.6,680.8L769.5,680.7z"/>
<path color="#fd593d" d="M769.5,680.7L769.6,680.8L772.1,676.4L772.1,676.3z"/>
<path color="#ff5b3f" d="M772.1,676.3L772.1,676.4L775.5,672.7L775.5,672.6z"/>
<path color="#ff5c40" d="M775.5,672.6L775.5,672.7L779.6,669.7L779.6,669.7z"/>
<path color="#ff5e42" d="M779.6,669.7L779.6,669.7L784.2,667.7L784.3,667.7z"/>
<path color="#ff5f44" d="M784.3,667.7L784.2,667.7L789.1,666.7L789.3,666.7z"/>
<path color="#ff5f44" d="M789.3,666.7L789.1,666.7L794.2,666.7L794.3,666.8z"/>
<path color="#ff5f44" d="M794.3,666.8L794.2,666.7L799.1,667.8L799.3,668z"/>
<path color="#ff5f44" d="M799.3,668L799.1,667.8L803.7,669.9L803.9,670.1z"/>
<path color="#ff5b3f" d="M803.9,670.1L803.7,669.9L807.8,672.9L808,673.1z"/>
<path color="#ff5b3f" d="M808,673.1L807.8,672.9L811.1,676.7L811.3,677z"/>
<path color="#ff5b3f" d="M811.3,677L811.1,676.7L813.7,681L813.8,681.4z"/>
<path color="#fc573c" d="M813.8,681.4L813.7,681L815.2,685.8L815.3,686.3z"/>
<path color="#fa553b" d="M815.3,686.3L815.2,685.8L815.7,690.9L815.8,691.3z"/>
<path color="#fa553b" d="M394.8,774.5L395.5,779.7L396,784.5L395.3,779.3z"/>
<path color="#f65137" d="M443.1,773.8L443.8,778.3L443.4,773.5L442.5,769z"/>
<path color="#f65238" d="M442.5,769L443.4,773.5L441.8,769L440.9,764.5z"/>
<path color="#fa553b" d="M440.9,764.5L441.8,769L439.3,764.8L438.4,760.3z"/>
<path color="#ff5b3f" d="M438.4,760.3L439.3,764.8L436,761.3L435,756.8z"/>
<path color="#ff5b3f" d="M435,756.8L436,761.3L431.9,758.6L430.9,754.1z"/>
<path color="#ff5c40" d="M430.9,754.1L431.9,758.6L427.3,756.8L426.3,752.2z"/>
<path color="#ff6044" d="M426.3,752.2L427.3,756.8L422.4,755.9L421.3,751.2z"/>
<path color="#ff6348" d="M421.3,751.2L422.4,755.9L417.3,756.1L416.3,751.3z"/>
<path color="#ff6348" d="M416.3,751.3L417.3,756.1L412.3,757.2L411.3,752.4z"/>
<path color="#ff6348" d="M411.3,752.4L412.3,757.2L407.7,759.3L406.7,754.4z"/>
<path color="#ff6348" d="M406.7,754.4L407.7,759.3L403.6,762.3L402.6,757.3z"/>
<path color="#ff6348" d="M402.6,757.3L403.6,762.3L400.2,766L399.3,760.9z"/>
<path color="#ff6146" d="M399.3,760.9L400.2,766L397.6,770.3L396.8,765.1z"/>
<path color="#fe593e" d="M396.8,765.1L397.6,770.3L396,774.9L395.3,769.7z"/>
<path color="#fa563b" d="M395.3,769.7L396,774.9L395.5,779.7L394.8,774.5z"/>
<path color="#f65137" d="M441.8,616.9L441.6,619.7L442.1,614.9L442.3,612z"/>
<path color="#f75238" d="M442.3,612L442.1,614.9L441.5,610L441.7,607.2z"/>
<path color="#fb573c" d="M441.7,607.2L441.5,610L439.9,605.4L440,602.5z"/>
<path color="#ff5b3f" d="M440,602.5L439.9,605.4L437.4,601.1L437.5,598.3z"/>
<path color="#ff5b3f" d="M437.5,598.3L437.4,601.1L434,597.5L434,594.7z"/>
<path color="#ff5b3f" d="M434,594.7L434,597.5L429.8,594.7L429.9,591.8z"/>
<path color="#ff5c40" d="M429.9,591.8L429.8,594.7L425.2,592.7L425.3,589.8z"/>
<path color="#ff5c40" d="M425.3,589.8L425.2,592.7L420.2,591.7L420.3,588.8z"/>
<path color="#ff5c40" d="M420.3,588.8L420.2,591.7L415.1,591.8L415.3,588.8z"/>
<path color="#ff5c40" d="M415.3,588.8L415.1,591.8L410.1,592.8L410.3,589.8z"/>
<path color="#ff5c40" d="M410.3,589.8L410.1,592.8L405.5,594.9L405.7,591.8z"/>
<path color="#ff5c40" d="M405.7,591.8L405.5,594.9L401.4,597.8L401.7,594.7z"/>
<path color="#ff5c40" d="M401.7,594.7L401.4,597.8L398,601.5L398.4,598.4z"/>
<path color="#fd583d" d="M398.4,598.4L398,601.5L395.5,605.8L395.9,602.6z"/>
<path color="#fa563b" d="M395.9,602.6L395.5,605.8L394,610.4L394.5,607.2z"/>
<path color="#fa553b" d="M394.5,607.2L394,610.4L393.5,615.3L394,612.1z"/>
<path color="#f65137" d="M812.3,545.6L811.6,546L808.3,549.7L808.9,549.3z"/>
<path color="#f65238" d="M808.9,549.3L808.3,549.7L804.2,552.7L804.8,552.3z"/>
<path color="#fa553a" d="M804.8,552.3L804.2,552.7L799.6,554.7L800.1,554.3z"/>
<path color="#ff5b3f" d="M800.1,554.3L799.6,554.7L794.7,555.8L795.2,555.4z"/>
<path color="#ff5b3f" d="M795.2,555.4L794.7,555.8L789.6,555.8L790.1,555.3z"/>
<path color="#ff5b3f" d="M790.1,555.3L789.6,555.8L784.7,554.8L785.1,554.3z"/>
<path color="#ff5b3f" d="M785.1,554.3L784.7,554.8L780.1,552.7L780.5,552.2z"/>
<path color="#ff5b3f" d="M780.5,552.2L780.1,552.7L776,549.8L776.4,549.2z"/>
<path color="#ff5b3f" d="M776.4,549.2L776,549.8L772.6,546L773,545.4z"/>
<path color="#ff5b3f" d="M773,545.4L772.6,546L770.1,541.7L770.5,541z"/>
<path color="#ff5b3f" d="M770.5,541L770.1,541.7L768.5,536.9L768.9,536.2z"/>
<path color="#ff5b3f" d="M768.9,536.2L768.5,536.9L767.9,531.9L768.4,531.2z"/>
<path color="#ff5b3f" d="M768.4,531.2L767.9,531.9L768.4,526.8L769,526.1z"/>
<path color="#fe5a3e" d="M769,526.1L768.4,526.8L770,522.1L770.6,521.3z"/>
<path color="#fa563b" d="M770.6,521.3L770,522.1L772.5,517.7L773.1,517z"/>
<path color="#fa553b" d="M773.1,517L772.5,517.7L775.8,513.9L776.5,513.2z"/>
<path color="#fa553b" d="M776.5,513.2L775.8,513.9L779.9,511L780.6,510.3z"/>
<path color="#ff5b3f" d="M807.5,1013.1L812.1,1009.2L811.4,1014.2L806.8,1018.1z"/>
<path color="#ff5b3f" d="M806.8,1018.1L811.4,1014.2L809.8,1018.9L805.1,1022.8z"/>
<path color="#fb573c" d="M805.1,1022.8L809.8,1018.9L807.1,1023.2L802.4,1027z"/>
<path color="#fa553b" d="M802.4,1027L807.1,1023.2L803.7,1026.8L799,1030.5z"/>
<path color="#fa553b" d="M799,1030.5L803.7,1026.8L799.6,1029.5L794.8,1033.2z"/>
<path color="#ea462e" d="M768.8,991.4L772.5,989L776.6,986.3L772.9,988.8z"/>
<path color="#eb462f" d="M772.9,988.8L776.6,986.3L781.2,984.5L777.5,987.1z"/>
<path color="#f14d34" d="M777.5,987.1L781.2,984.5L786.1,983.7L782.3,986.4z"/>
<path color="#fe5a3e" d="M782.3,986.4L786.1,983.7L791.1,983.9L787.3,986.9z"/>
<path color="#ff5e42" d="M787.3,986.9L791.1,983.9L796,985.2L792.1,988.4z"/>
<path color="#ff6348" d="M792.1,988.4L796,985.2L800.5,987.5L796.5,990.8z"/>
<path color="#ff684d" d="M796.5,990.8L800.5,987.5L804.5,990.7L800.4,994.2z"/>
<path color="#ff684d" d="M800.4,994.2L804.5,990.7L807.8,994.7L803.6,998.3z"/>
<path color="#ff684d" d="M803.6,998.3L807.8,994.7L810.2,999.2L805.9,1002.9z"/>
<path color="#ff684d" d="M805.9,1002.9L810.2,999.2L811.7,1004.1L807.2,1007.9z"/>
<path color="#ff5c40" d="M807.2,1007.9L811.7,1004.1L812.1,1009.2L807.5,1013.1z"/>
<path color="#f65137" d="M437.9,463.8L436.9,465.9L439.4,461.6L440.3,459.5z"/>
<path color="#f65137" d="M440.3,459.5L439.4,461.6L440.9,456.9L441.7,454.8z"/>
<path color="#f9543a" d="M441.7,454.8L440.9,456.9L441.3,451.9L442.1,449.9z"/>
<path color="#ff5b3f" d="M442.1,449.9L441.3,451.9L440.7,447L441.5,444.9z"/>
<path color="#ff5b3f" d="M441.5,444.9L440.7,447L439.1,442.3L439.9,440.2z"/>
<path color="#ff5b3f" d="M439.9,440.2L439.1,442.3L436.5,437.9L437.2,435.9z"/>
<path color="#ff5b3f" d="M437.2,435.9L436.5,437.9L433,434.2L433.8,432.2z"/>
<path color="#ff5b3f" d="M433.8,432.2L433,434.2L428.9,431.3L429.7,429.2z"/>
<path color="#ff5b3f" d="M429.7,429.2L428.9,431.3L424.2,429.3L425,427.2z"/>
<path color="#ff5b3f" d="M425,427.2L424.2,429.3L419.2,428.2L420.1,426.2z"/>
<path color="#ff5b3f" d="M420.1,426.2L419.2,428.2L414.1,428.2L415,426.2z"/>
<path color="#ff5b3f" d="M415,426.2L414.1,428.2L409.2,429.3L410.1,427.2z"/>
<path color="#ff5b3f" d="M410.1,427.2L409.2,429.3L404.6,431.3L405.6,429.2z"/>
<path color="#fe5a3e" d="M405.6,429.2L404.6,431.3L400.5,434.2L401.6,432.1z"/>
<path color="#fb563b" d="M401.6,432.1L400.5,434.2L397.2,438L398.3,435.8z"/>
<path color="#fa553a" d="M398.3,435.8L397.2,438L394.7,442.3L395.9,440.1z"/>
<path color="#fa563b" d="M396.8,938.3L400.2,946.9L400.7,951.6L397.3,943z"/>
<path color="#fa553b" d="M397.3,943L400.7,951.6L402.1,956L398.8,947.4z"/>
<path color="#f65238" d="M442.9,927.2L446,934.4L443.7,930.4L440.4,923.2z"/>
<path color="#fa553a" d="M440.4,923.2L443.7,930.4L440.4,927.1L437.1,919.8z"/>
<path color="#ff5b3f" d="M437.1,919.8L440.4,927.1L436.5,924.6L433,917.2z"/>
<path color="#ff5b3f" d="M433,917.2L436.5,924.6L432,923L428.5,915.4z"/>
<path color="#ff5c40" d="M428.5,915.4L432,923L427.1,922.3L423.5,914.6z"/>
<path color="#ff6246" d="M423.5,914.6L427.1,922.3L422.1,922.6L418.5,914.8z"/>
<path color="#ff674d" d="M418.5,914.8L422.1,922.6L417.2,924L413.6,916z"/>
<path color="#ff684d" d="M413.6,916L417.2,924L412.6,926.2L409,918.1z"/>
<path color="#ff684d" d="M409,918.1L412.6,926.2L408.5,929.3L404.9,921.1z"/>
<path color="#ff684d" d="M404.9,921.1L408.5,929.3L405.1,933.1L401.5,924.7z"/>
<path color="#ff684d" d="M401.5,924.7L405.1,933.1L402.5,937.4L398.9,929z"/>
<path color="#ff654b" d="M398.9,929L402.5,937.4L400.9,942.1L397.4,933.5z"/>
<path color="#fe5a3e" d="M397.4,933.5L400.9,942.1L400.2,946.9L396.8,938.3z"/>
<path color="#f65137" d="M812.9,385.4L811.4,386.6L808.1,390.3L809.5,389.1z"/>
<path color="#f65137" d="M809.5,389.1L808.1,390.3L804.1,393.3L805.4,392.1z"/>
<path color="#fa543a" d="M805.4,392.1L804.1,393.3L799.5,395.4L800.8,394.1z"/>
<path color="#ff5a3e" d="M800.8,394.1L799.5,395.4L794.6,396.4L795.9,395.2z"/>
<path color="#ff5a3e" d="M795.9,395.2L794.6,396.4L789.6,396.4L790.8,395.2z"/>
<path color="#ff5a3e" d="M790.8,395.2L789.6,396.4L784.7,395.4L785.8,394.2z"/>
<path color="#ff5a3e" d="M785.8,394.2L784.7,395.4L780.1,393.4L781.2,392.1z"/>
<path color="#ff5a3e" d="M781.2,392.1L780.1,393.4L776,390.4L777.1,389.1z"/>
<path color="#ff5a3e" d="M777.1,389.1L776,390.4L772.6,386.7L773.6,385.4z"/>
<path color="#ff5a3e" d="M773.6,385.4L772.6,386.7L770,382.3L771.1,381z"/>
<path color="#ff5a3e" d="M771.1,381L770,382.3L768.4,377.5L769.5,376.2z"/>
<path color="#ff5a3e" d="M769.5,376.2L768.4,377.5L767.8,372.5L769,371.2z"/>
<path color="#ff5a3e" d="M769,371.2L767.8,372.5L768.3,367.5L769.5,366.1z"/>
<path color="#fe583d" d="M769.5,366.1L768.3,367.5L769.8,362.7L771,361.3z"/>
<path color="#fa553a" d="M771,361.3L769.8,362.7L772.3,358.4L773.5,356.9z"/>
<path color="#fa543a" d="M773.5,356.9L772.3,358.4L775.6,354.6L776.9,353.2z"/>
<path color="#f65238" d="M444.9,1088.2L452.8,1099.3L449.8,1096.3L441.7,1085z"/>
<path color="#fa553b" d="M441.7,1085L449.8,1096.3L446,1094L437.8,1082.6z"/>
<path color="#ff5b3f" d="M437.8,1082.6L446,1094L441.8,1092.7L433.3,1081.1z"/>
<path color="#ff5b3f" d="M433.3,1081.1L441.8,1092.7L437.2,1092.4L428.5,1080.6z"/>
<path color="#ff5c40" d="M428.5,1080.6L437.2,1092.4L432.4,1093.1L423.5,1081z"/>
<path color="#ff6247" d="M423.5,1081L432.4,1093.1L427.7,1094.7L418.7,1082.4z"/>
<path color="#ff674d" d="M418.7,1082.4L427.7,1094.7L423.2,1097.3L414.1,1084.7z"/>
<path color="#ff684d" d="M414.1,1084.7L423.2,1097.3L419.2,1100.6L410,1087.9z"/>
<path color="#fa553b" d="M393.5,615.3L394.1,619.4L394.6,624.3L394.1,620.2z"/>
<path color="#f65137" d="M442.1,614.9L442.8,618.5L442.3,613.6L441.5,610z"/>
<path color="#f65138" d="M441.5,610L442.3,613.6L440.8,609L439.9,605.4z"/>
<path color="#f9553a" d="M439.9,605.4L440.8,609L438.3,604.7L437.4,601.1z"/>
<path color="#ff5b3f" d="M437.4,601.1L438.3,604.7L434.9,601.1L434,597.5z"/>
<path color="#ff5b3f" d="M434,597.5L434.9,601.1L430.8,598.3L429.8,594.7z"/>
<path color="#ff5c40" d="M429.8,594.7L430.8,598.3L426.1,596.4L425.2,592.7z"/>
<path color="#ff5f43" d="M425.2,592.7L426.1,596.4L421.2,595.4L420.2,591.7z"/>
<path color="#ff6247" d="M420.2,591.7L421.2,595.4L416.1,595.5L415.1,591.8z"/>
<path color="#ff6347" d="M415.1,591.8L416.1,595.5L411.1,596.6L410.1,592.8z"/>
<path color="#ff6347" d="M410.1,592.8L411.1,596.6L406.4,598.7L405.5,594.9z"/>
<path color="#ff6347" d="M405.5,594.9L406.4,598.7L402.3,601.7L401.4,597.8z"/>
<path color="#ff6347" d="M401.4,597.8L402.3,601.7L398.8,605.5L398,601.5z"/>
<path color="#ff6146" d="M398,601.5L398.8,605.5L396.3,609.8L395.5,605.8z"/>
<path color="#fe5a3e" d="M395.5,605.8L396.3,609.8L394.7,614.5L394,610.4z"/>
<path color="#fa563b" d="M394,610.4L394.7,614.5L394.1,619.4L393.5,615.3z"/>
<path color="#f65137" d="M440.9,456.9L440.6,459.1L441.1,454.1L441.3,451.9z"/>
<path color="#f75338" d="M441.3,451.9L441.1,454.1L440.5,449.2L440.7,447z"/>
<path color="#fd593d" d="M440.7,447L440.5,449.2L438.9,444.4L439.1,442.3z"/>
<path color="#ff5b3f" d="M439.1,442.3L438.9,444.4L436.4,440.1L436.5,437.9z"/>
<path color="#ff5b3f" d="M436.5,437.9L436.4,440.1L432.9,436.4L433,434.2z"/>
<path color="#ff5b3f" d="M433,434.2L432.9,436.4L428.8,433.4L428.9,431.3z"/>
<path color="#ff5c40" d="M428.9,431.3L428.8,433.4L424.1,431.4L424.2,429.3z"/>
<path color="#ff5c40" d="M424.2,429.3L424.1,431.4L419.1,430.4L419.2,428.2z"/>
<path color="#ff5c40" d="M419.2,428.2L419.1,430.4L414,430.4L414.1,428.2z"/>
<path color="#ff5c40" d="M414.1,428.2L414,430.4L409,431.5L409.2,429.3z"/>
<path color="#ff5c40" d="M409.2,429.3L409,431.5L404.3,433.5L404.6,431.3z"/>
<path color="#ff5c40" d="M404.6,431.3L404.3,433.5L400.2,436.5L400.5,434.2z"/>
<path color="#ff5b3f" d="M400.5,434.2L400.2,436.5L396.8,440.2L397.2,438z"/>
<path color="#fc573c" d="M397.2,438L396.8,440.2L394.3,444.6L394.7,442.3z"/>
<path color="#fa553b" d="M394.7,442.3L394.3,444.6L392.7,449.4L393.2,447z"/>
<path color="#fa553b" d="M393.2,447L392.7,449.4L392.3,454.3L392.8,452z"/>
<path color="#ff664c" d="M814.3,691.9L815.8,691.3L815.2,696.3L813.6,696.9z"/>
<path color="#ff5e43" d="M813.6,696.9L815.2,696.3L813.6,701.1L811.9,701.8z"/>
<path color="#ff5b3f" d="M811.9,701.8L813.6,701.1L811,705.5L809.3,706.1z"/>
<path color="#ff5b3f" d="M809.3,706.1L811,705.5L807.5,709.2L805.8,709.8z"/>
<path color="#fc583d" d="M805.8,709.8L807.5,709.2L803.4,712.1L801.6,712.7z"/>
<path color="#fa553b" d="M801.6,712.7L803.4,712.1L798.7,714.1L796.9,714.6z"/>
<path color="#fa553b" d="M796.9,714.6L798.7,714.1L793.7,715.1L791.9,715.5z"/>
<path color="#fa563b" d="M791.9,715.5L793.7,715.1L788.7,715L786.8,715.3z"/>
<path color="#f44f36" d="M783.1,667.7L784.3,667.7L789.3,666.7L788.1,666.8z"/>
<path color="#f55036" d="M788.1,666.8L789.3,666.7L794.3,666.8L793.1,666.9z"/>
<path color="#f9553a" d="M793.1,666.9L794.3,666.8L799.3,668L798,668.1z"/>
<path color="#fe5a3e" d="M798,668.1L799.3,668L803.9,670.1L802.6,670.3z"/>
<path color="#ff5d41" d="M802.6,670.3L803.9,670.1L808,673.1L806.7,673.5z"/>
<path color="#ff6146" d="M806.7,673.5L808,673.1L811.3,677L810,677.4z"/>
<path color="#ff664b" d="M810,677.4L811.3,677L813.8,681.4L812.4,681.9z"/>
<path color="#ff664c" d="M812.4,681.9L813.8,681.4L815.3,686.3L813.9,686.8z"/>
<path color="#ff664c" d="M813.9,686.8L815.3,686.3L815.8,691.3L814.3,691.9z"/>
<path color="#f75238" d="M817,530.8L817,531.4L816.5,536.4L816.4,535.9z"/>
<path color="#fb573c" d="M816.4,535.9L816.5,536.4L814.9,541.2L814.8,540.7z"/>
<path color="#ff5b3f" d="M814.8,540.7L814.9,541.2L812.3,545.6L812.2,545.1z"/>
<path color="#ff5c40" d="M812.2,545.1L812.3,545.6L808.9,549.3L808.7,548.9z"/>
<path color="#ff5d42" d="M808.7,548.9L808.9,549.3L804.8,552.3L804.5,551.8z"/>
<path color="#ff5f44" d="M804.5,551.8L804.8,552.3L800.1,554.3L799.8,553.8z"/>
<path color="#ff5f44" d="M799.8,553.8L800.1,554.3L795.2,555.4L794.8,554.8z"/>
<path color="#ff5f44" d="M794.8,554.8L795.2,555.4L790.1,555.3L789.7,554.8z"/>
<path color="#ff5f44" d="M789.7,554.8L790.1,555.3L785.1,554.3L784.7,553.7z"/>
<path color="#ff5c41" d="M784.7,553.7L785.1,554.3L780.5,552.2L780.1,551.5z"/>
<path color="#ff5b3f" d="M780.1,551.5L780.5,552.2L776.4,549.2L776,548.5z"/>
<path color="#ff5b3f" d="M776,548.5L776.4,549.2L773,545.4L772.7,544.7z"/>
<path color="#fd583d" d="M772.7,544.7L773,545.4L770.5,541L770.2,540.3z"/>
<path color="#fa563b" d="M770.2,540.3L770.5,541L768.9,536.2L768.7,535.4z"/>
<path color="#fa553b" d="M768.7,535.4L768.9,536.2L768.4,531.2L768.2,530.3z"/>
<path color="#fa563b" d="M768.2,530.3L768.4,531.2L769,526.1L768.8,525.3z"/>
<path color="#fb573c" d="M812.5,516.5L812.4,517.1L814.9,521.5L815,520.9z"/>
<path color="#f75238" d="M815,520.9L814.9,521.5L816.5,526.3L816.6,525.8z"/>
<path color="#f65137" d="M816.6,525.8L816.5,526.3L817,531.4L817,530.8z"/>
<path color="#fb563b" d="M395.5,779.7L398.7,786.8L399.1,791.7L396,784.5z"/>
<path color="#fa553b" d="M396,784.5L399.1,791.7L400.6,796.2L397.5,789.1z"/>
<path color="#f65137" d="M441.8,769L444.8,775L442.4,770.9L439.3,764.8z"/>
<path color="#f85439" d="M439.3,764.8L442.4,770.9L439.2,767.5L436,761.3z"/>
<path color="#fe5a3f" d="M436,761.3L439.2,767.5L435.2,764.8L431.9,758.6z"/>
<path color="#ff5b3f" d="M431.9,758.6L435.2,764.8L430.6,763L427.3,756.8z"/>
<path color="#ff5b3f" d="M427.3,756.8L430.6,763L425.8,762.3L422.4,755.9z"/>
<path color="#ff6045" d="M422.4,755.9L425.8,762.3L420.7,762.5L417.3,756.1z"/>
<path color="#ff664c" d="M417.3,756.1L420.7,762.5L415.8,763.8L412.3,757.2z"/>
<path color="#ff684d" d="M412.3,757.2L415.8,763.8L411.2,766L407.7,759.3z"/>
<path color="#ff684d" d="M407.7,759.3L411.2,766L407,769.1L403.6,762.3z"/>
<path color="#ff684d" d="M403.6,762.3L407,769.1L403.6,772.9L400.2,766z"/>
<path color="#ff684d" d="M400.2,766L403.6,772.9L401,777.2L397.6,770.3z"/>
<path color="#ff674d" d="M397.6,770.3L401,777.2L399.3,782L396,774.9z"/>
<path color="#ff5c40" d="M396,774.9L399.3,782L398.7,786.8L395.5,779.7z"/>
<path color="#f65137" d="M433.7,306.5L432.6,308.1L435.9,304.3L436.9,302.8z"/>
<path color="#f65137" d="M436.9,302.8L435.9,304.3L438.4,299.9L439.4,298.4z"/>
<path color="#f95439" d="M439.4,298.4L438.4,299.9L439.9,295.1L440.8,293.6z"/>
<path color="#ff5a3e" d="M440.8,293.6L439.9,295.1L440.4,290L441.2,288.6z"/>
<path color="#ff5b3f" d="M441.2,288.6L440.4,290L439.8,285L440.6,283.5z"/>
<path color="#ff5b3f" d="M440.6,283.5L439.8,285L438.1,280.1L438.9,278.7z"/>
<path color="#ff5b3f" d="M438.9,278.7L438.1,280.1L435.5,275.7L436.3,274.3z"/>
<path color="#ff5b3f" d="M436.3,274.3L435.5,275.7L432,271.9L432.8,270.5z"/>
<path color="#ff5b3f" d="M432.8,270.5L432,271.9L427.9,268.9L428.7,267.5z"/>
<path color="#ff5b3f" d="M428.7,267.5L427.9,268.9L423.2,266.9L424,265.5z"/>
<path color="#ff5b3f" d="M424,265.5L423.2,266.9L418.1,265.8L419,264.4z"/>
<path color="#ff5b3f" d="M419,264.4L418.1,265.8L413,265.8L414,264.4z"/>
<path color="#ff5b3f" d="M414,264.4L413,265.8L408.1,266.8L409.1,265.5z"/>
<path color="#fe5a3e" d="M409.1,265.5L408.1,266.8L403.4,268.9L404.5,267.6z"/>
<path color="#fb563b" d="M404.5,267.6L403.4,268.9L399.3,271.9L400.5,270.6z"/>
<path color="#fa553a" d="M400.5,270.6L399.3,271.9L396,275.7L397.2,274.3z"/>
<path color="#f65137" d="M817.8,374.9L817,376.2L815.4,381L816.2,379.7z"/>
<path color="#f65137" d="M816.2,379.7L815.4,381L812.9,385.4L813.6,384.1z"/>
<path color="#f85339" d="M813.6,384.1L812.9,385.4L809.5,389.1L810.1,387.9z"/>
<path color="#fe5a3e" d="M810.1,387.9L809.5,389.1L805.4,392.1L806,390.9z"/>
<path color="#ff5b3f" d="M806,390.9L805.4,392.1L800.8,394.1L801.3,393z"/>
<path color="#ff5b3f" d="M801.3,393L800.8,394.1L795.9,395.2L796.3,394z"/>
<path color="#ff5b3f" d="M796.3,394L795.9,395.2L790.8,395.2L791.2,394z"/>
<path color="#ff5b3f" d="M791.2,394L790.8,395.2L785.8,394.2L786.2,392.9z"/>
<path color="#ff5b3f" d="M786.2,392.9L785.8,394.2L781.2,392.1L781.5,390.9z"/>
<path color="#ff5b3f" d="M781.5,390.9L781.2,392.1L777.1,389.1L777.4,387.9z"/>
<path color="#ff5b3f" d="M777.4,387.9L777.1,389.1L773.6,385.4L774,384.1z"/>
<path color="#ff5b3f" d="M774,384.1L773.6,385.4L771.1,381L771.5,379.7z"/>
<path color="#ff5b3f" d="M771.5,379.7L771.1,381L769.5,376.2L769.9,374.9z"/>
<path color="#ff5b3f" d="M769.9,374.9L769.5,376.2L769,371.2L769.4,369.8z"/>
<path color="#fb573c" d="M769.4,369.8L769,371.2L769.5,366.1L770,364.8z"/>
<path color="#fa553b" d="M770,364.8L769.5,366.1L771,361.3L771.6,359.9z"/>
<path color="#fa553b" d="M771.6,359.9L771,361.3L773.5,356.9L774.1,355.5z"/>
<path color="#ff6045" d="M808.4,853.9L813.2,851.5L812.5,856.6L807.6,858.9z"/>
<path color="#ff5b3f" d="M807.6,858.9L812.5,856.6L810.8,861.4L805.9,863.7z"/>
<path color="#ff5b3f" d="M805.9,863.7L810.8,861.4L808.2,865.7L803.2,868z"/>
<path color="#fc583d" d="M803.2,868L808.2,865.7L804.7,869.3L799.7,871.6z"/>
<path color="#fa553b" d="M799.7,871.6L804.7,869.3L800.6,872.1L795.6,874.3z"/>
<path color="#fa553b" d="M795.6,874.3L800.6,872.1L795.9,874L791,876.1z"/>
<path color="#ea452e" d="M773.6,830.2L777.5,829L782.1,827.1L778.2,828.4z"/>
<path color="#ea462e" d="M778.2,828.4L782.1,827.1L787.1,826.2L783.1,827.6z"/>
<path color="#ee4931" d="M783.1,827.6L787.1,826.2L792.1,826.4L788,828z"/>
<path color="#fb573b" d="M788,828L792.1,826.4L797,827.7L792.8,829.4z"/>
<path color="#ff5c40" d="M792.8,829.4L797,827.7L801.6,830L797.3,831.8z"/>
<path color="#ff6246" d="M797.3,831.8L801.6,830L805.6,833.1L801.2,835.1z"/>
<path color="#ff674c" d="M801.2,835.1L805.6,833.1L808.9,837L804.4,839.1z"/>
<path color="#ff684d" d="M804.4,839.1L808.9,837L811.3,841.5L806.7,843.7z"/>
<path color="#ff684d" d="M806.7,843.7L811.3,841.5L812.7,846.5L808,848.7z"/>
<path color="#ff684d" d="M808,848.7L812.7,846.5L813.2,851.5L808.4,853.9z"/>
<path color="#f65137" d="M816.7,218.3L815.2,220.5L812.7,224.8L814.2,222.7z"/>
<path color="#f65137" d="M814.2,222.7L812.7,224.8L809.4,228.6L810.8,226.5z"/>
<path color="#fa553a" d="M810.8,226.5L809.4,228.6L805.4,231.5L806.7,229.5z"/>
<path color="#ff5a3e" d="M806.7,229.5L805.4,231.5L800.8,233.6L802,231.5z"/>
<path color="#ff5a3e" d="M802,231.5L800.8,233.6L795.9,234.6L797,232.6z"/>
<path color="#ff5a3e" d="M797,232.6L795.9,234.6L790.8,234.6L791.9,232.6z"/>
<path color="#ff5a3e" d="M791.9,232.6L790.8,234.6L785.9,233.5L786.9,231.5z"/>
<path color="#ff5a3e" d="M786.9,231.5L785.9,233.5L781.2,231.5L782.3,229.5z"/>
<path color="#ff5a3e" d="M782.3,229.5L781.2,231.5L777.1,228.5L778.1,226.5z"/>
<path color="#ff5a3e" d="M778.1,226.5L777.1,228.5L773.7,224.7L774.7,222.7z"/>
<path color="#ff5a3e" d="M774.7,222.7L773.7,224.7L771.1,220.3L772.1,218.3z"/>
<path color="#ff5a3e" d="M772.1,218.3L771.1,220.3L769.5,215.5L770.5,213.5z"/>
<path color="#ff5a3e" d="M770.5,213.5L769.5,215.5L768.9,210.5L770,208.4z"/>
<path color="#fd583d" d="M770,208.4L768.9,210.5L769.4,205.5L770.5,203.4z"/>
<path color="#fa553a" d="M770.5,203.4L769.4,205.5L770.9,200.7L772.1,198.6z"/>
<path color="#fa543a" d="M772.1,198.6L770.9,200.7L773.3,196.3L774.6,194.2z"/>
<path color="#fe5c40" d="M400.2,946.9L409,958.3L409.3,963.1L400.7,951.6z"/>
<path color="#fb563b" d="M400.7,951.6L409.3,963.1L410.6,967.5L402.1,956z"/>
<path color="#fa553b" d="M402.1,956L410.6,967.5L412.8,971.4L404.5,960z"/>
<path color="#f65137" d="M443.7,930.4L451.3,940L448.2,936.8L440.4,927.1z"/>
<path color="#f85439" d="M440.4,927.1L448.2,936.8L444.5,934.4L436.5,924.6z"/>
<path color="#ff5b3f" d="M436.5,924.6L444.5,934.4L440.2,932.9L432,923z"/>
<path color="#ff5b3f" d="M432,923L440.2,932.9L435.5,932.4L427.1,922.3z"/>
<path color="#ff5b3f" d="M427.1,922.3L435.5,932.4L430.7,932.9L422.1,922.6z"/>
<path color="#ff6045" d="M422.1,922.6L430.7,932.9L425.9,934.5L417.2,924z"/>
<path color="#ff664c" d="M417.2,924L425.9,934.5L421.4,936.9L412.6,926.2z"/>
<path color="#ff684d" d="M412.6,926.2L421.4,936.9L417.4,940.2L408.5,929.3z"/>
<path color="#ff684d" d="M408.5,929.3L417.4,940.2L414,944.2L405.1,933.1z"/>
<path color="#ff684d" d="M405.1,933.1L414,944.2L411.4,948.6L402.5,937.4z"/>
<path color="#ff684d" d="M402.5,937.4L411.4,948.6L409.7,953.4L400.9,942.1z"/>
<path color="#ff674d" d="M400.9,942.1L409.7,953.4L409,958.3L400.2,946.9z"/>
<path color="#fa553b" d="M392.3,454.3L392.8,457.3L393.3,462.3L392.8,459.3z"/>
<path color="#f65137" d="M441.1,454.1L441.7,456.9L441.2,451.9L440.5,449.2z"/>
<path color="#f65137" d="M440.5,449.2L441.2,451.9L439.7,447.2L438.9,444.4z"/>
<path color="#f95439" d="M438.9,444.4L439.7,447.2L437.2,442.8L436.4,440.1z"/>
<path color="#ff5b3f" d="M436.4,440.1L437.2,442.8L433.8,439.1L432.9,436.4z"/>
<path color="#ff5b3f" d="M432.9,436.4L433.8,439.1L429.6,436.2L428.8,433.4z"/>
<path color="#ff5b3f" d="M428.8,433.4L429.6,436.2L425,434.1L424.1,431.4z"/>
<path color="#ff5e43" d="M424.1,431.4L425,434.1L420,433.1L419.1,430.4z"/>
<path color="#ff6246" d="M419.1,430.4L420,433.1L414.8,433.2L414,430.4z"/>
<path color="#ff6247" d="M414,430.4L414.8,433.2L409.8,434.2L409,431.5z"/>
<path color="#ff6247" d="M409,431.5L409.8,434.2L405.1,436.3L404.3,433.5z"/>
<path color="#ff6247" d="M404.3,433.5L405.1,436.3L400.9,439.3L400.2,436.5z"/>
<path color="#ff6247" d="M400.2,436.5L400.9,439.3L397.5,443.1L396.8,440.2z"/>
<path color="#ff6247" d="M396.8,440.2L397.5,443.1L394.9,447.5L394.3,444.6z"/>
<path color="#fe5b3f" d="M394.3,444.6L394.9,447.5L393.3,452.3L392.7,449.4z"/>
<path color="#fb563b" d="M392.7,449.4L393.3,452.3L392.8,457.3L392.3,454.3z"/>
<path color="#ff6247" d="M796.7,1017.8L807.5,1013.1L806.8,1018.1L795.9,1022.9z"/>
<path color="#ff5b3f" d="M795.9,1022.9L806.8,1018.1L805.1,1022.8L794.1,1027.6z"/>
<path color="#ff5b3f" d="M794.1,1027.6L805.1,1022.8L802.4,1027L791.5,1031.7z"/>
<path color="#fc583c" d="M791.5,1031.7L802.4,1027L799,1030.5L788.1,1035.1z"/>
<path color="#fa553b" d="M788.1,1035.1L799,1030.5L794.8,1033.2L784.1,1037.6z"/>
<path color="#fa553b" d="M784.1,1037.6L794.8,1033.2L790.2,1034.8L779.6,1039.1z"/>
<path color="#e7432c" d="M764.1,991.8L772.9,988.8L777.5,987.1L768.5,990.3z"/>
<path color="#e7432c" d="M768.5,990.3L777.5,987.1L782.3,986.4L773.2,989.8z"/>
<path color="#ec4730" d="M773.2,989.8L782.3,986.4L787.3,986.9L777.9,990.5z"/>
<path color="#fb573c" d="M777.9,990.5L787.3,986.9L792.1,988.4L782.4,992.2z"/>
<path color="#ff5c40" d="M782.4,992.2L792.1,988.4L796.5,990.8L786.6,994.9z"/>
<path color="#ff6146" d="M786.6,994.9L796.5,990.8L800.4,994.2L790.3,998.4z"/>
<path color="#ff674c" d="M790.3,998.4L800.4,994.2L803.6,998.3L793.2,1002.7z"/>
<path color="#ff684d" d="M793.2,1002.7L803.6,998.3L805.9,1002.9L795.3,1007.5z"/>
<path color="#ff684d" d="M795.3,1007.5L805.9,1002.9L807.2,1007.9L796.5,1012.6z"/>
<path color="#ff684d" d="M796.5,1012.6L807.2,1007.9L807.5,1013.1L796.7,1017.8z"/>
<path color="#f65137" d="M438.4,299.9L438,301.5L439.6,296.6L439.9,295.1z"/>
<path color="#f65238" d="M439.9,295.1L439.6,296.6L440.1,291.6L440.4,290z"/>
<path color="#fa553a" d="M440.4,290L440.1,291.6L439.5,286.5L439.8,285z"/>
<path color="#ff5b3f" d="M439.8,285L439.5,286.5L437.9,281.6L438.1,280.1z"/>
<path color="#ff5b3f" d="M438.1,280.1L437.9,281.6L435.3,277.2L435.5,275.7z"/>
<path color="#ff5b3f" d="M435.5,275.7L435.3,277.2L431.9,273.4L432,271.9z"/>
<path color="#ff5b3f" d="M432,271.9L431.9,273.4L427.7,270.4L427.9,268.9z"/>
<path color="#ff5b3f" d="M427.9,268.9L427.7,270.4L423,268.3L423.2,266.9z"/>
<path color="#ff5b3f" d="M423.2,266.9L423,268.3L417.9,267.2L418.1,265.8z"/>
<path color="#ff5b3f" d="M418.1,265.8L417.9,267.2L412.8,267.2L413,265.8z"/>
<path color="#ff5b3f" d="M413,265.8L412.8,267.2L407.8,268.2L408.1,266.8z"/>
<path color="#ff5b3f" d="M408.1,266.8L407.8,268.2L403.1,270.3L403.4,268.9z"/>
<path color="#ff5b3f" d="M403.4,268.9L403.1,270.3L399,273.3L399.3,271.9z"/>
<path color="#fe5a3e" d="M399.3,271.9L399,273.3L395.5,277.1L396,275.7z"/>
<path color="#fa563b" d="M396,275.7L395.5,277.1L393,281.6L393.5,280.1z"/>
<path color="#fa553b" d="M393.5,280.1L393,281.6L391.5,286.4L392,285z"/>
<path color="#ff6247" d="M815.4,530.1L817,530.8L816.4,535.9L814.7,535.2z"/>
<path color="#ff674c" d="M814.7,535.2L816.4,535.9L814.8,540.7L813,540.1z"/>
<path color="#ff674c" d="M813,540.1L814.8,540.7L812.2,545.1L810.3,544.5z"/>
<path color="#ff674c" d="M810.3,544.5L812.2,545.1L808.7,548.9L806.8,548.2z"/>
<path color="#ff674c" d="M806.8,548.2L808.7,548.9L804.5,551.8L802.6,551.1z"/>
<path color="#ff5e42" d="M802.6,551.1L804.5,551.8L799.8,553.8L797.9,553.1z"/>
<path color="#ff5b3f" d="M797.9,553.1L799.8,553.8L794.8,554.8L792.9,554.1z"/>
<path color="#ff5b3f" d="M792.9,554.1L794.8,554.8L789.7,554.8L787.8,554z"/>
<path color="#fc583c" d="M787.8,554L789.7,554.8L784.7,553.7L782.8,552.8z"/>
<path color="#fa553b" d="M782.8,552.8L784.7,553.7L780.1,551.5L778.2,550.7z"/>
<path color="#fa553b" d="M778.2,550.7L780.1,551.5L776,548.5L774.2,547.6z"/>
<path color="#f65238" d="M799.1,506.5L800.4,507.5L805.1,509.6L803.7,508.7z"/>
<path color="#f65137" d="M803.7,508.7L805.1,509.6L809.2,512.7L807.7,511.7z"/>
<path color="#f75238" d="M807.7,511.7L809.2,512.7L812.5,516.5L811.1,515.6z"/>
<path color="#fc583d" d="M811.1,515.6L812.5,516.5L815,520.9L813.5,520.1z"/>
<path color="#ff5b3f" d="M813.5,520.1L815,520.9L816.6,525.8L815,525z"/>
<path color="#ff5d41" d="M815,525L816.6,525.8L817,530.8L815.4,530.1z"/>
<path color="#f75238" d="M818.3,368.3L818.3,369.9L817.8,374.9L817.7,373.4z"/>
<path color="#fb563b" d="M817.7,373.4L817.8,374.9L816.2,379.7L816,378.3z"/>
<path color="#ff5b3f" d="M816,378.3L816.2,379.7L813.6,384.1L813.4,382.7z"/>
<path color="#ff5c40" d="M813.4,382.7L813.6,384.1L810.1,387.9L809.9,386.5z"/>
<path color="#ff5d42" d="M809.9,386.5L810.1,387.9L806,390.9L805.7,389.4z"/>
<path color="#ff6044" d="M805.7,389.4L806,390.9L801.3,393L801,391.5z"/>
<path color="#ff6044" d="M801,391.5L801.3,393L796.3,394L795.9,392.6z"/>
<path color="#ff6044" d="M795.9,392.6L796.3,394L791.2,394L790.8,392.5z"/>
<path color="#ff6044" d="M790.8,392.5L791.2,394L786.2,392.9L785.8,391.5z"/>
<path color="#ff5d41" d="M785.8,391.5L786.2,392.9L781.5,390.9L781.1,389.4z"/>
<path color="#ff5b3f" d="M781.1,389.4L781.5,390.9L777.4,387.9L777,386.3z"/>
<path color="#ff5b3f" d="M777,386.3L777.4,387.9L774,384.1L773.6,382.5z"/>
<path color="#fd593d" d="M773.6,382.5L774,384.1L771.5,379.7L771.1,378.1z"/>
<path color="#fa563b" d="M771.1,378.1L771.5,379.7L769.9,374.9L769.6,373.3z"/>
<path color="#fa553b" d="M769.6,373.3L769.9,374.9L769.4,369.8L769.2,368.2z"/>
<path color="#f65137" d="M817.8,363.2L817.8,364.8L818.3,369.9L818.3,368.3z"/>
<path color="#fc583c" d="M394.1,619.4L397.2,625L397.6,630L394.6,624.3z"/>
<path color="#fa553b" d="M394.6,624.3L397.6,630L399.1,634.6L396.2,629z"/>
<path color="#fa553b" d="M396.2,629L399.1,634.6L401.6,638.8L398.7,633.2z"/>
<path color="#f65137" d="M440.8,609L443.6,613.8L441.2,609.6L438.3,604.7z"/>
<path color="#f75238" d="M438.3,604.7L441.2,609.6L437.9,606L434.9,601.1z"/>
<path color="#fd583d" d="M434.9,601.1L437.9,606L433.9,603.2L430.8,598.3z"/>
<path color="#ff5b3f" d="M430.8,598.3L433.9,603.2L429.3,601.4L426.1,596.4z"/>
<path color="#ff5b3f" d="M426.1,596.4L429.3,601.4L424.4,600.5L421.2,595.4z"/>
<path color="#ff5e43" d="M421.2,595.4L424.4,600.5L419.3,600.6L416.1,595.5z"/>
<path color="#ff654a" d="M416.1,595.5L419.3,600.6L414.4,601.8L411.1,596.6z"/>
<path color="#ff684d" d="M411.1,596.6L414.4,601.8L409.7,604L406.4,598.7z"/>
<path color="#ff684d" d="M406.4,598.7L409.7,604L405.5,607L402.3,601.7z"/>
<path color="#ff684d" d="M402.3,601.7L405.5,607L402.1,610.9L398.8,605.5z"/>
<path color="#ff684d" d="M398.8,605.5L402.1,610.9L399.5,615.3L396.3,609.8z"/>
<path color="#ff684d" d="M396.3,609.8L399.5,615.3L397.8,620.1L394.7,614.5z"/>
<path color="#ff6045" d="M394.7,614.5L397.8,620.1L397.2,625L394.1,619.4z"/>
<path color="#f65137" d="M819.1,211.4L818.3,213.5L816.7,218.3L817.4,216.2z"/>
<path color="#f75238" d="M817.4,216.2L816.7,218.3L814.2,222.7L814.9,220.6z"/>
<path color="#fd583d" d="M814.9,220.6L814.2,222.7L810.8,226.5L811.4,224.4z"/>
<path color="#ff5b3f" d="M811.4,224.4L810.8,226.5L806.7,229.5L807.2,227.4z"/>
<path color="#ff5b3f" d="M807.2,227.4L806.7,229.5L802,231.5L802.5,229.5z"/>
<path color="#ff5b3f" d="M802.5,229.5L802,231.5L797,232.6L797.5,230.6z"/>
<path color="#ff5b3f" d="M797.5,230.6L797,232.6L791.9,232.6L792.3,230.6z"/>
<path color="#ff5b3f" d="M792.3,230.6L791.9,232.6L786.9,231.5L787.3,229.6z"/>
<path color="#ff5b3f" d="M787.3,229.6L786.9,231.5L782.3,229.5L782.6,227.5z"/>
<path color="#ff5b3f" d="M782.6,227.5L782.3,229.5L778.1,226.5L778.5,224.5z"/>
<path color="#ff5b3f" d="M778.5,224.5L778.1,226.5L774.7,222.7L775,220.7z"/>
<path color="#ff5b3f" d="M775,220.7L774.7,222.7L772.1,218.3L772.5,216.3z"/>
<path color="#ff5b3f" d="M772.5,216.3L772.1,218.3L770.5,213.5L770.9,211.5z"/>
<path color="#fc583c" d="M770.9,211.5L770.5,213.5L770,208.4L770.4,206.4z"/>
<path color="#fa553b" d="M770.4,206.4L770,208.4L770.5,203.4L771,201.3z"/>
<path color="#fa553b" d="M771,201.3L770.5,203.4L772.1,198.6L772.6,196.5z"/>
<path color="#ff684d" d="M809.2,692.6L814.3,691.9L813.6,696.9L808.4,697.7z"/>
<path color="#ff684d" d="M808.4,697.7L813.6,696.9L811.9,701.8L806.7,702.5z"/>
<path color="#ff5b3f" d="M806.7,702.5L811.9,701.8L809.3,706.1L804,706.8z"/>
<path color="#ff5b3f" d="M804,706.8L809.3,706.1L805.8,709.8L800.5,710.5z"/>
<path color="#ff5b3f" d="M800.5,710.5L805.8,709.8L801.6,712.7L796.3,713.3z"/>
<path color="#fb573c" d="M796.3,713.3L801.6,712.7L796.9,714.6L791.7,715.2z"/>
<path color="#fa553b" d="M791.7,715.2L796.9,714.6L791.9,715.5L786.7,716z"/>
<path color="#fa553b" d="M786.7,716L791.9,715.5L786.8,715.3L781.8,715.7z"/>
<path color="#f14c34" d="M783.8,666.7L788.1,666.8L793.1,666.9L788.8,667z"/>
<path color="#f24e35" d="M788.8,667L793.1,666.9L798,668.1L793.6,668.3z"/>
<path color="#f9553a" d="M793.6,668.3L798,668.1L802.6,670.3L798.1,670.6z"/>
<path color="#ff5b3f" d="M798.1,670.6L802.6,670.3L806.7,673.5L802,673.8z"/>
<path color="#ff5e42" d="M802,673.8L806.7,673.5L810,677.4L805.2,677.8z"/>
<path color="#ff6449" d="M805.2,677.8L810,677.4L812.4,681.9L807.5,682.4z"/>
<path color="#ff684d" d="M807.5,682.4L812.4,681.9L813.9,686.8L808.9,687.4z"/>
<path color="#ff684d" d="M808.9,687.4L813.9,686.8L814.3,691.9L809.2,692.6z"/>
<path color="#ff6045" d="M398.7,786.8L407.1,796.3L407.4,801.1L399.1,791.7z"/>
<path color="#fc583c" d="M399.1,791.7L407.4,801.1L408.8,805.7L400.6,796.2z"/>
<path color="#fa553b" d="M400.6,796.2L408.8,805.7L411,809.8L403,800.3z"/>
<path color="#fa553b" d="M403,800.3L411,809.8L414.1,813.1L406.3,803.7z"/>
<path color="#f65137" d="M442.4,770.9L449.8,779L446.7,775.6L439.2,767.5z"/>
<path color="#f75238" d="M439.2,767.5L446.7,775.6L442.9,773L435.2,764.8z"/>
<path color="#fd583d" d="M435.2,764.8L442.9,773L438.6,771.3L430.6,763z"/>
<path color="#ff5b3f" d="M430.6,763L438.6,771.3L433.9,770.7L425.8,762.3z"/>
<path color="#ff5b3f" d="M425.8,762.3L433.9,770.7L429,771.1L420.7,762.5z"/>
<path color="#ff5e42" d="M420.7,762.5L429,771.1L424.2,772.5L415.8,763.8z"/>
<path color="#ff6449" d="M415.8,763.8L424.2,772.5L419.6,774.8L411.2,766z"/>
<path color="#ff684d" d="M411.2,766L419.6,774.8L415.6,778.1L407,769.1z"/>
<path color="#ff684d" d="M407,769.1L415.6,778.1L412.2,782L403.6,772.9z"/>
<path color="#ff684d" d="M403.6,772.9L412.2,782L409.5,786.5L401,777.2z"/>
<path color="#ff684d" d="M401,777.2L409.5,786.5L407.8,791.3L399.3,782z"/>
<path color="#ff684d" d="M399.3,782L407.8,791.3L407.1,796.3L398.7,786.8z"/>
<path color="#fa553b" d="M391,291.5L391.4,293.4L392,298.5L391.6,296.6z"/>
<path color="#fa553b" d="M391.6,296.6L392,298.5L393.5,303.4L393.2,301.5z"/>
<path color="#f65137" d="M439.5,286.5L440.2,288.4L438.6,283.5L437.9,281.6z"/>
<path color="#f75339" d="M437.9,281.6L438.6,283.5L436.1,279L435.3,277.2z"/>
<path color="#fd593e" d="M435.3,277.2L436.1,279L432.6,275.2L431.9,273.4z"/>
<path color="#ff5b3f" d="M431.9,273.4L432.6,275.2L428.5,272.2L427.7,270.4z"/>
<path color="#ff5b3f" d="M427.7,270.4L428.5,272.2L423.8,270.1L423,268.3z"/>
<path color="#ff5d41" d="M423,268.3L423.8,270.1L418.7,269L417.9,267.2z"/>
<path color="#ff6145" d="M417.9,267.2L418.7,269L413.6,269L412.8,267.2z"/>
<path color="#ff6247" d="M412.8,267.2L413.6,269L408.5,270L407.8,268.2z"/>
<path color="#ff6247" d="M407.8,268.2L408.5,270L403.8,272.1L403.1,270.3z"/>
<path color="#ff6247" d="M403.1,270.3L403.8,272.1L399.6,275.1L399,273.3z"/>
<path color="#ff6247" d="M399,273.3L399.6,275.1L396.2,278.9L395.5,277.1z"/>
<path color="#ff6247" d="M395.5,277.1L396.2,278.9L393.6,283.4L393,281.6z"/>
<path color="#ff5d41" d="M393,281.6L393.6,283.4L392,288.3L391.5,286.4z"/>
<path color="#fb573c" d="M391.5,286.4L392,288.3L391.4,293.4L391,291.5z"/>
<path color="#ff684d" d="M797,856.6L808.4,853.9L807.6,858.9L796.2,861.7z"/>
<path color="#ff6145" d="M796.2,861.7L807.6,858.9L805.9,863.7L794.5,866.5z"/>
<path color="#ff5b3f" d="M794.5,866.5L805.9,863.7L803.2,868L791.8,870.7z"/>
<path color="#ff5b3f" d="M791.8,870.7L803.2,868L799.7,871.6L788.4,874.2z"/>
<path color="#fc573c" d="M788.4,874.2L799.7,871.6L795.6,874.3L784.3,876.9z"/>
<path color="#fa553b" d="M784.3,876.9L795.6,874.3L791,876.1L779.9,878.5z"/>
<path color="#fa553b" d="M779.9,878.5L791,876.1L786.1,876.8L775.2,879z"/>
<path color="#e7432c" d="M768.8,829.8L778.2,828.4L783.1,827.6L773.5,829.3z"/>
<path color="#e7432c" d="M773.5,829.3L783.1,827.6L788,828L778.2,829.8z"/>
<path color="#ed4930" d="M778.2,829.8L788,828L792.8,829.4L782.8,831.3z"/>
<path color="#fc583d" d="M782.8,831.3L792.8,829.4L797.3,831.8L787,833.9z"/>
<path color="#ff5c40" d="M787,833.9L797.3,831.8L801.2,835.1L790.6,837.3z"/>
<path color="#ff6146" d="M790.6,837.3L801.2,835.1L804.4,839.1L793.6,841.5z"/>
<path color="#ff674c" d="M793.6,841.5L804.4,839.1L806.7,843.7L795.7,846.3z"/>
<path color="#ff684d" d="M795.7,846.3L806.7,843.7L808,848.7L796.9,851.4z"/>
<path color="#ff684d" d="M796.9,851.4L808,848.7L808.4,853.9L797,856.6z"/>
<path color="#fe5a3f" d="M392.8,457.3L395.6,461.4L396.1,466.5L393.3,462.3z"/>
<path color="#fa563b" d="M393.3,462.3L396.1,466.5L397.6,471.3L394.9,467.1z"/>
<path color="#fa553b" d="M394.9,467.1L397.6,471.3L400.1,475.6L397.4,471.4z"/>
<path color="#f65137" d="M439.7,447.2L442.4,450.9L440,446.5L437.2,442.8z"/>
<path color="#f65138" d="M437.2,442.8L440,446.5L436.6,442.8L433.8,439.1z"/>
<path color="#f9553a" d="M433.8,439.1L436.6,442.8L432.6,439.9L429.6,436.2z"/>
<path color="#ff5b3f" d="M429.6,436.2L432.6,439.9L428,437.8L425,434.1z"/>
<path color="#ff5b3f" d="M425,434.1L428,437.8L423,436.9L420,433.1z"/>
<path color="#ff5c40" d="M420,433.1L423,436.9L417.9,436.9L414.8,433.2z"/>
<path color="#ff6146" d="M414.8,433.2L417.9,436.9L412.9,438L409.8,434.2z"/>
<path color="#ff674d" d="M409.8,434.2L412.9,438L408.2,440.2L405.1,436.3z"/>
<path color="#ff684d" d="M405.1,436.3L408.2,440.2L404,443.2L400.9,439.3z"/>
<path color="#ff684d" d="M400.9,439.3L404,443.2L400.6,447.1L397.5,443.1z"/>
<path color="#ff684d" d="M397.5,443.1L400.6,447.1L397.9,451.5L394.9,447.5z"/>
<path color="#ff684d" d="M394.9,447.5L397.9,451.5L396.3,456.4L393.3,452.3z"/>
<path color="#ff664b" d="M393.3,452.3L396.3,456.4L395.6,461.4L392.8,457.3z"/>
<path color="#f75238" d="M819.5,203.7L819.6,206.3L819.1,211.4L818.9,208.8z"/>
<path color="#fb563b" d="M818.9,208.8L819.1,211.4L817.4,216.2L817.3,213.7z"/>
<path color="#ff5b3f" d="M817.3,213.7L817.4,216.2L814.9,220.6L814.6,218.1z"/>
<path color="#ff5b40" d="M814.6,218.1L814.9,220.6L811.4,224.4L811.1,222z"/>
<path color="#ff5e42" d="M811.1,222L811.4,224.4L807.2,227.4L806.9,225z"/>
<path color="#ff6044" d="M806.9,225L807.2,227.4L802.5,229.5L802.1,227.1z"/>
<path color="#ff6045" d="M802.1,227.1L802.5,229.5L797.5,230.6L797,228.2z"/>
<path color="#ff6045" d="M797,228.2L797.5,230.6L792.3,230.6L791.9,228.2z"/>
<path color="#ff6045" d="M791.9,228.2L792.3,230.6L787.3,229.6L786.8,227.2z"/>
<path color="#ff5e42" d="M786.8,227.2L787.3,229.6L782.6,227.5L782.1,225.1z"/>
<path color="#ff5b3f" d="M782.1,225.1L782.6,227.5L778.5,224.5L778,222.1z"/>
<path color="#ff5b3f" d="M778,222.1L778.5,224.5L775,220.7L774.6,218.3z"/>
<path color="#fd593d" d="M774.6,218.3L775,220.7L772.5,216.3L772.1,213.9z"/>
<path color="#fa563b" d="M772.1,213.9L772.5,216.3L770.9,211.5L770.6,209z"/>
<path color="#fa553b" d="M770.6,209L770.9,211.5L770.4,206.4L770.1,204z"/>
<path color="#f65137" d="M819.1,198.6L819.1,201.2L819.6,206.3L819.5,203.7z"/>
<path color="#ff5b3f" d="M816.5,366.2L818.3,368.3L817.7,373.4L815.8,371.3z"/>
<path color="#ff5f43" d="M815.8,371.3L817.7,373.4L816,378.3L814.1,376.2z"/>
<path color="#ff654a" d="M814.1,376.2L816,378.3L813.4,382.7L811.4,380.7z"/>
<path color="#ff674d" d="M811.4,380.7L813.4,382.7L809.9,386.5L807.9,384.5z"/>
<path color="#ff674d" d="M807.9,384.5L809.9,386.5L805.7,389.4L803.6,387.5z"/>
<path color="#ff674d" d="M803.6,387.5L805.7,389.4L801,391.5L798.9,389.6z"/>
<path color="#ff674c" d="M798.9,389.6L801,391.5L795.9,392.6L793.8,390.6z"/>
<path color="#ff5b3f" d="M793.8,390.6L795.9,392.6L790.8,392.5L788.7,390.6z"/>
<path color="#ff5b3f" d="M788.7,390.6L790.8,392.5L785.8,391.5L783.7,389.5z"/>
<path color="#fe5a3e" d="M783.7,389.5L785.8,391.5L781.1,389.4L779.1,387.3z"/>
<path color="#fb563b" d="M779.1,387.3L781.1,389.4L777,386.3L775,384.3z"/>
<path color="#fa553b" d="M775,384.3L777,386.3L773.6,382.5L771.7,380.5z"/>
<path color="#f65137" d="M808.8,347.9L810.4,350.1L813.8,353.9L812.2,351.7z"/>
<path color="#f65138" d="M812.2,351.7L813.8,353.9L816.3,358.4L814.6,356.2z"/>
<path color="#f9543a" d="M814.6,356.2L816.3,358.4L817.8,363.2L816.1,361.1z"/>
<path color="#ff5b3f" d="M816.1,361.1L817.8,363.2L818.3,368.3L816.5,366.2z"/>
<path color="#ff684d" d="M810,529.1L815.4,530.1L814.7,535.2L809.3,534.2z"/>
<path color="#ff684d" d="M809.3,534.2L814.7,535.2L813,540.1L807.5,539.1z"/>
<path color="#ff684d" d="M807.5,539.1L813,540.1L810.3,544.5L804.8,543.5z"/>
<path color="#ff664b" d="M804.8,543.5L810.3,544.5L806.8,548.2L801.3,547.2z"/>
<path color="#ff5b3f" d="M801.3,547.2L806.8,548.2L802.6,551.1L797.1,550.2z"/>
<path color="#ff5b3f" d="M797.1,550.2L802.6,551.1L797.9,553.1L792.4,552.1z"/>
<path color="#fe593e" d="M792.4,552.1L797.9,553.1L792.9,554.1L787.4,553z"/>
<path color="#fa563b" d="M787.4,553L792.9,554.1L787.8,554L782.4,552.9z"/>
<path color="#fa553b" d="M782.4,552.9L787.8,554L782.8,552.8L777.6,551.6z"/>
<path color="#f65137" d="M789.5,503.8L794.1,505.3L799.1,506.5L794.4,505z"/>
<path color="#f65238" d="M794.4,505L799.1,506.5L803.7,508.7L798.9,507.3z"/>
<path color="#fa553a" d="M798.9,507.3L803.7,508.7L807.7,511.7L802.8,510.4z"/>
<path color="#ff5b3f" d="M802.8,510.4L807.7,511.7L811.1,515.6L806,514.4z"/>
<path color="#ff5b3f" d="M806,514.4L811.1,515.6L813.5,520.1L808.3,518.9z"/>
<path color="#ff6044" d="M808.3,518.9L813.5,520.1L815,525L809.7,523.9z"/>
<path color="#ff664b" d="M809.7,523.9L815,525L815.4,530.1L810,529.1z"/>
<path color="#ff664b" d="M397.2,625L405.3,632.5L405.6,637.5L397.6,630z"/>
<path color="#fe5a3e" d="M397.6,630L405.6,637.5L406.9,642.2L399.1,634.6z"/>
<path color="#fa563b" d="M399.1,634.6L406.9,642.2L409.2,646.4L401.6,638.8z"/>
<path color="#fa553b" d="M401.6,638.8L409.2,646.4L412.4,649.9L404.9,642.4z"/>
<path color="#f65238" d="M437.9,606L445.2,612.6L441.3,609.8L433.9,603.2z"/>
<path color="#f9553a" d="M433.9,603.2L441.3,609.8L436.9,608L429.3,601.4z"/>
<path color="#ff5b3f" d="M429.3,601.4L436.9,608L432.2,607.2L424.4,600.5z"/>
<path color="#ff5b3f" d="M424.4,600.5L432.2,607.2L427.3,607.4L419.3,600.6z"/>
<path color="#ff5c40" d="M419.3,600.6L427.3,607.4L422.4,608.7L414.4,601.8z"/>
<path color="#ff6146" d="M414.4,601.8L422.4,608.7L417.9,611L409.7,604z"/>
<path color="#ff674d" d="M409.7,604L417.9,611L413.8,614.2L405.5,607z"/>
<path color="#ff684d" d="M405.5,607L413.8,614.2L410.3,618.1L402.1,610.9z"/>
<path color="#ff684d" d="M402.1,610.9L410.3,618.1L407.7,622.6L399.5,615.3z"/>
<path color="#ff684d" d="M399.5,615.3L407.7,622.6L406,627.4L397.8,620.1z"/>
<path color="#ff684d" d="M397.8,620.1L406,627.4L405.3,632.5L397.2,625z"/>
<path color="#ff684d" d="M409,958.3L426.9,972.3L427,977.2L409.3,963.1z"/>
<path color="#ff5d41" d="M409.3,963.1L427,977.2L428.1,981.6L410.6,967.5z"/>
<path color="#fb573c" d="M410.6,967.5L428.1,981.6L430,985.4L412.8,971.4z"/>
<path color="#fa553b" d="M412.8,971.4L430,985.4L432.8,988.5L415.9,974.6z"/>
<path color="#f65137" d="M448.2,936.8L463.5,948.7L460.1,946.4L444.5,934.4z"/>
<path color="#f85339" d="M444.5,934.4L460.1,946.4L456.2,945.1L440.2,932.9z"/>
<path color="#fe5a3e" d="M440.2,932.9L456.2,945.1L452,944.9L435.5,932.4z"/>
<path color="#ff5b3f" d="M435.5,932.4L452,944.9L447.6,945.6L430.7,932.9z"/>
<path color="#ff5b3f" d="M430.7,932.9L447.6,945.6L443.2,947.4L425.9,934.5z"/>
<path color="#ff5f44" d="M425.9,934.5L443.2,947.4L439,950.1L421.4,936.9z"/>
<path color="#ff664b" d="M421.4,936.9L439,950.1L435.2,953.6L417.4,940.2z"/>
<path color="#ff684d" d="M417.4,940.2L435.2,953.6L431.9,957.8L414,944.2z"/>
<path color="#ff684d" d="M414,944.2L431.9,957.8L429.4,962.4L411.4,948.6z"/>
<path color="#ff684d" d="M411.4,948.6L429.4,962.4L427.7,967.4L409.7,953.4z"/>
<path color="#ff684d" d="M409.7,953.4L427.7,967.4L426.9,972.3L409,958.3z"/>
<path color="#ff684d" d="M775.6,1022.9L796.7,1017.8L795.9,1022.9L774.7,1028z"/>
<path color="#ff6449" d="M774.7,1028L795.9,1022.9L794.1,1027.6L773,1032.7z"/>
<path color="#ff5b3f" d="M773,1032.7L794.1,1027.6L791.5,1031.7L770.5,1036.7z"/>
<path color="#fe5a3e" d="M770.5,1036.7L791.5,1031.7L788.1,1035.1L767.3,1040z"/>
<path color="#fb563b" d="M767.3,1040L788.1,1035.1L784.1,1037.6L763.5,1042.3z"/>
<path color="#fa553b" d="M763.5,1042.3L784.1,1037.6L779.6,1039.1L759.5,1043.5z"/>
<path color="#e7432c" d="M750.9,993.6L768.5,990.3L773.2,989.8L755.1,993.3z"/>
<path color="#e8442c" d="M755.1,993.3L773.2,989.8L777.9,990.5L759.4,994.2z"/>
<path color="#f14d34" d="M759.4,994.2L777.9,990.5L782.4,992.2L763.5,996.2z"/>
<path color="#ff5b3f" d="M763.5,996.2L782.4,992.2L786.6,994.9L767.2,999.1z"/>
<path color="#ff5c40" d="M767.2,999.1L786.6,994.9L790.3,998.4L770.4,1002.9z"/>
<path color="#ff6145" d="M770.4,1002.9L790.3,998.4L793.2,1002.7L772.9,1007.4z"/>
<path color="#ff674c" d="M772.9,1007.4L793.2,1002.7L795.3,1007.5L774.7,1012.3z"/>
<path color="#ff684d" d="M774.7,1012.3L795.3,1007.5L796.5,1012.6L775.6,1017.6z"/>
<path color="#ff684d" d="M775.6,1017.6L796.5,1012.6L796.7,1017.8L775.6,1022.9z"/>
<path color="#ff6348" d="M391.4,293.4L394.1,296L394.6,301.2L392,298.5z"/>
<path color="#fd593d" d="M392,298.5L394.6,301.2L396.1,306.1L393.5,303.4z"/>
<path color="#fa563b" d="M393.5,303.4L396.1,306.1L398.6,310.6L396.1,307.9z"/>
<path color="#fa553b" d="M396.1,307.9L398.6,310.6L402,314.4L399.6,311.7z"/>
<path color="#f65137" d="M436.1,279L438.7,281.6L435.4,277.7L432.6,275.2z"/>
<path color="#f75238" d="M432.6,275.2L435.4,277.7L431.3,274.6L428.5,272.2z"/>
<path color="#fb563b" d="M428.5,272.2L431.3,274.6L426.7,272.5L423.8,270.1z"/>
<path color="#ff5b3f" d="M423.8,270.1L426.7,272.5L421.7,271.4L418.7,269z"/>
<path color="#ff5b3f" d="M418.7,269L421.7,271.4L416.5,271.4L413.6,269z"/>
<path color="#ff5d41" d="M413.6,269L416.5,271.4L411.5,272.4L408.5,270z"/>
<path color="#ff6348" d="M408.5,270L411.5,272.4L406.8,274.5L403.8,272.1z"/>
<path color="#ff684d" d="M403.8,272.1L406.8,274.5L402.5,277.6L399.6,275.1z"/>
<path color="#ff684d" d="M399.6,275.1L402.5,277.6L399,281.4L396.2,278.9z"/>
<path color="#ff684d" d="M396.2,278.9L399,281.4L396.4,285.9L393.6,283.4z"/>
<path color="#ff684d" d="M393.6,283.4L396.4,285.9L394.7,290.8L392,288.3z"/>
<path color="#ff684d" d="M392,288.3L394.7,290.8L394.1,296L391.4,293.4z"/>
<path color="#ff684d" d="M797.4,693.2L809.2,692.6L808.4,697.7L796.5,698.4z"/>
<path color="#ff684d" d="M796.5,698.4L808.4,697.7L806.7,702.5L794.7,703.2z"/>
<path color="#ff6145" d="M794.7,703.2L806.7,702.5L804,706.8L792.1,707.5z"/>
<path color="#ff5b3f" d="M792.1,707.5L804,706.8L800.5,710.5L788.6,711.1z"/>
<path color="#ff5b3f" d="M788.6,711.1L800.5,710.5L796.3,713.3L784.6,713.9z"/>
<path color="#fb573c" d="M784.6,713.9L796.3,713.3L791.7,715.2L780.1,715.7z"/>
<path color="#fa553b" d="M780.1,715.7L791.7,715.2L786.7,716L775.4,716.3z"/>
<path color="#f04c33" d="M773.8,666.5L783.8,666.7L788.8,667L778.5,666.8z"/>
<path color="#f14d34" d="M778.5,666.8L788.8,667L793.6,668.3L783.1,668.3z"/>
<path color="#f75339" d="M783.1,668.3L793.6,668.3L798.1,670.6L787.3,670.7z"/>
<path color="#fe5a3e" d="M787.3,670.7L798.1,670.6L802,673.8L791,674.1z"/>
<path color="#ff5c40" d="M791,674.1L802,673.8L805.2,677.8L793.9,678.2z"/>
<path color="#ff6146" d="M793.9,678.2L805.2,677.8L807.5,682.4L796,682.9z"/>
<path color="#ff674c" d="M796,682.9L807.5,682.4L808.9,687.4L797.2,688z"/>
<path color="#ff684d" d="M797.2,688L808.9,687.4L809.2,692.6L797.4,693.2z"/>
<path color="#ff5b3f" d="M817.6,200.1L819.5,203.7L818.9,208.8L816.9,205.3z"/>
<path color="#ff5c40" d="M816.9,205.3L818.9,208.8L817.3,213.7L815.2,210.2z"/>
<path color="#ff6045" d="M815.2,210.2L817.3,213.7L814.6,218.1L812.5,214.7z"/>
<path color="#ff664c" d="M812.5,214.7L814.6,218.1L811.1,222L808.9,218.6z"/>
<path color="#ff684d" d="M808.9,218.6L811.1,222L806.9,225L804.6,221.7z"/>
<path color="#ff684d" d="M804.6,221.7L806.9,225L802.1,227.1L799.9,223.8z"/>
<path color="#ff684d" d="M799.9,223.8L802.1,227.1L797,228.2L794.8,224.9z"/>
<path color="#ff6348" d="M794.8,224.9L797,228.2L791.9,228.2L789.6,225z"/>
<path color="#ff5b3f" d="M789.6,225L791.9,228.2L786.8,227.2L784.6,224z"/>
<path color="#ff5b3f" d="M784.6,224L786.8,227.2L782.1,225.1L780,221.9z"/>
<path color="#fd593d" d="M780,221.9L782.1,225.1L778,222.1L775.9,218.9z"/>
<path color="#fa563b" d="M775.9,218.9L778,222.1L774.6,218.3L772.6,215.1z"/>
<path color="#fa553b" d="M772.6,215.1L774.6,218.3L772.1,213.9L770.1,210.7z"/>
<path color="#f65137" d="M813.3,185.7L815,189.3L817.5,193.7L815.7,190.1z"/>
<path color="#f65238" d="M815.7,190.1L817.5,193.7L819.1,198.6L817.2,195z"/>
<path color="#fa563b" d="M817.2,195L819.1,198.6L819.5,203.7L817.6,200.1z"/>
<path color="#ff684d" d="M395.6,461.4L403.4,466.9L403.7,472L396.1,466.5z"/>
<path color="#ff6145" d="M396.1,466.5L403.7,472L405.1,476.9L397.6,471.3z"/>
<path color="#fc583d" d="M397.6,471.3L405.1,476.9L407.4,481.2L400.1,475.6z"/>
<path color="#fa553b" d="M400.1,475.6L407.4,481.2L410.6,484.9L403.4,479.3z"/>
<path color="#fa553b" d="M403.4,479.3L410.6,484.9L414.5,487.8L407.5,482.2z"/>
<path color="#f65137" d="M436.6,442.8L443.6,447.8L439.8,444.8L432.6,439.9z"/>
<path color="#f75238" d="M432.6,439.9L439.8,444.8L435.3,442.8L428,437.8z"/>
<path color="#fc583d" d="M428,437.8L435.3,442.8L430.5,441.9L423,436.9z"/>
<path color="#ff5b3f" d="M423,436.9L430.5,441.9L425.6,442L417.9,436.9z"/>
<path color="#ff5b3f" d="M417.9,436.9L425.6,442L420.7,443.1L412.9,438z"/>
<path color="#ff5e42" d="M412.9,438L420.7,443.1L416.1,445.3L408.2,440.2z"/>
<path color="#ff6449" d="M408.2,440.2L416.1,445.3L412,448.4L404,443.2z"/>
<path color="#ff684d" d="M404,443.2L412,448.4L408.5,452.4L400.6,447.1z"/>
<path color="#ff684d" d="M400.6,447.1L408.5,452.4L405.8,456.9L397.9,451.5z"/>
<path color="#ff684d" d="M397.9,451.5L405.8,456.9L404.1,461.8L396.3,456.4z"/>
<path color="#ff684d" d="M396.3,456.4L404.1,461.8L403.4,466.9L395.6,461.4z"/>
<path color="#ff6449" d="M810.8,363.3L816.5,366.2L815.8,371.3L810.1,368.5z"/>
<path color="#ff684d" d="M810.1,368.5L815.8,371.3L814.1,376.2L808.3,373.5z"/>
<path color="#ff684d" d="M808.3,373.5L814.1,376.2L811.4,380.7L805.5,377.9z"/>
<path color="#ff684d" d="M805.5,377.9L811.4,380.7L807.9,384.5L802,381.8z"/>
<path color="#ff684d" d="M802,381.8L807.9,384.5L803.6,387.5L797.8,384.8z"/>
<path color="#ff5b3f" d="M797.8,384.8L803.6,387.5L798.9,389.6L793.1,386.9z"/>
<path color="#ff5b3f" d="M793.1,386.9L798.9,389.6L793.8,390.6L788.1,387.9z"/>
<path color="#ff5b3f" d="M788.1,387.9L793.8,390.6L788.7,390.6L783.1,387.8z"/>
<path color="#fb573c" d="M783.1,387.8L788.7,390.6L783.7,389.5L778.2,386.7z"/>
<path color="#fa553b" d="M778.2,386.7L783.7,389.5L779.1,387.3L773.7,384.6z"/>
<path color="#f65137" d="M795.2,339.6L800.1,342.7L804.7,344.8L799.7,341.7z"/>
<path color="#f65137" d="M799.7,341.7L804.7,344.8L808.8,347.9L803.6,344.8z"/>
<path color="#f85339" d="M803.6,344.8L808.8,347.9L812.2,351.7L806.8,348.7z"/>
<path color="#fe5a3e" d="M806.8,348.7L812.2,351.7L814.6,356.2L809.2,353.2z"/>
<path color="#ff5b3f" d="M809.2,353.2L814.6,356.2L816.1,361.1L810.5,358.1z"/>
<path color="#ff5e42" d="M810.5,358.1L816.1,361.1L816.5,366.2L810.8,363.3z"/>
<path color="#ff684d" d="M407.1,796.3L424.5,808L424.7,812.9L407.4,801.1z"/>
<path color="#ff6146" d="M407.4,801.1L424.7,812.9L425.8,817.5L408.8,805.7z"/>
<path color="#fc583d" d="M408.8,805.7L425.8,817.5L427.7,821.5L411,809.8z"/>
<path color="#fa553b" d="M411,809.8L427.7,821.5L430.5,824.8L414.1,813.1z"/>
<path color="#fa553b" d="M414.1,813.1L430.5,824.8L434,827.3L418,815.7z"/>
<path color="#f65137" d="M446.7,775.6L461.5,785.7L458.1,783.2L442.9,773z"/>
<path color="#f75238" d="M442.9,773L458.1,783.2L454.2,781.6L438.6,771.3z"/>
<path color="#fc573c" d="M438.6,771.3L454.2,781.6L449.9,781.1L433.9,770.7z"/>
<path color="#ff5b3f" d="M433.9,770.7L449.9,781.1L445.4,781.7L429,771.1z"/>
<path color="#ff5b3f" d="M429,771.1L445.4,781.7L441,783.3L424.2,772.5z"/>
<path color="#ff5d41" d="M424.2,772.5L441,783.3L436.7,785.8L419.6,774.8z"/>
<path color="#ff6348" d="M419.6,774.8L436.7,785.8L432.9,789.3L415.6,778.1z"/>
<path color="#ff684d" d="M415.6,778.1L432.9,789.3L429.6,793.4L412.2,782z"/>
<path color="#ff684d" d="M412.2,782L429.6,793.4L427.1,798L409.5,786.5z"/>
<path color="#ff684d" d="M409.5,786.5L427.1,798L425.3,803L407.8,791.3z"/>
<path color="#ff684d" d="M407.8,791.3L425.3,803L424.5,808L407.1,796.3z"/>
<path color="#ff684d" d="M775.2,859.3L797,856.6L796.2,861.7L774.3,864.5z"/>
<path color="#ff684d" d="M774.3,864.5L796.2,861.7L794.5,866.5L772.5,869.2z"/>
<path color="#ff5e43" d="M772.5,869.2L794.5,866.5L791.8,870.7L770,873.4z"/>
<path color="#ff5b3f" d="M770,873.4L791.8,870.7L788.4,874.2L766.8,876.8z"/>
<path color="#fd593d" d="M766.8,876.8L788.4,874.2L784.3,876.9L763.1,879.3z"/>
<path color="#fa563b" d="M763.1,879.3L784.3,876.9L779.9,878.5L759,880.7z"/>
<path color="#fa553b" d="M759,880.7L779.9,878.5L775.2,879L754.7,881.1z"/>
<path color="#e7432c" d="M750.5,831.1L768.8,829.8L773.5,829.3L754.8,830.6z"/>
<path color="#e7432c" d="M754.8,830.6L773.5,829.3L778.2,829.8L759,831.3z"/>
<path color="#e9452e" d="M759,831.3L778.2,829.8L782.8,831.3L763.1,833.1z"/>
<path color="#f75339" d="M763.1,833.1L782.8,831.3L787,833.9L766.8,835.9z"/>
<path color="#ff5b3f" d="M766.8,835.9L787,833.9L790.6,837.3L770,839.5z"/>
<path color="#ff5d41" d="M770,839.5L790.6,837.3L793.6,841.5L772.5,843.9z"/>
<path color="#ff6348" d="M772.5,843.9L793.6,841.5L795.7,846.3L774.3,848.8z"/>
<path color="#ff684d" d="M774.3,848.8L795.7,846.3L796.9,851.4L775.2,854z"/>
<path color="#ff684d" d="M775.2,854L796.9,851.4L797,856.6L775.2,859.3z"/>
<path color="#ff684d" d="M797.6,527.5L810,529.1L809.3,534.2L796.8,532.7z"/>
<path color="#ff684d" d="M796.8,532.7L809.3,534.2L807.5,539.1L795,537.6z"/>
<path color="#ff684d" d="M795,537.6L807.5,539.1L804.8,543.5L792.3,542z"/>
<path color="#ff6045" d="M792.3,542L804.8,543.5L801.3,547.2L788.9,545.8z"/>
<path color="#ff5b3f" d="M788.9,545.8L801.3,547.2L797.1,550.2L784.8,548.7z"/>
<path color="#ff5b3f" d="M784.8,548.7L797.1,550.2L792.4,552.1L780.3,550.6z"/>
<path color="#fb573c" d="M780.3,550.6L792.4,552.1L787.4,553L775.6,551.4z"/>
<path color="#fa553b" d="M775.6,551.4L787.4,553L782.4,552.9L770.8,551.2z"/>
<path color="#f65137" d="M778.8,501.7L789.5,503.8L794.4,505L783.4,503z"/>
<path color="#f85339" d="M783.4,503L794.4,505L798.9,507.3L787.6,505.3z"/>
<path color="#fe5a3e" d="M787.6,505.3L798.9,507.3L802.8,510.4L791.2,508.5z"/>
<path color="#ff5b3f" d="M791.2,508.5L802.8,510.4L806,514.4L794.2,512.5z"/>
<path color="#ff5c40" d="M794.2,512.5L806,514.4L808.3,518.9L796.3,517.2z"/>
<path color="#ff6246" d="M796.3,517.2L808.3,518.9L809.7,523.9L797.5,522.2z"/>
<path color="#ff674d" d="M797.5,522.2L809.7,523.9L810,529.1L797.6,527.5z"/>
<path color="#ff684d" d="M394.1,296L401.6,299.5L401.9,304.8L394.6,301.2z"/>
<path color="#ff684d" d="M394.6,301.2L401.9,304.8L403.3,309.7L396.1,306.1z"/>
<path color="#ff5e43" d="M396.1,306.1L403.3,309.7L405.6,314.3L398.6,310.6z"/>
<path color="#fb573c" d="M398.6,310.6L405.6,314.3L408.8,318.2L402,314.4z"/>
<path color="#fa553b" d="M402,314.4L408.8,318.2L412.8,321.2L406.1,317.4z"/>
<path color="#fa553b" d="M406.1,317.4L412.8,321.2L417.3,323.3L410.7,319.5z"/>
<path color="#f65137" d="M431.3,274.6L438.2,278L433.7,275.8L426.7,272.5z"/>
<path color="#f75339" d="M426.7,272.5L433.7,275.8L428.9,274.7L421.7,271.4z"/>
<path color="#fd593e" d="M421.7,271.4L428.9,274.7L423.9,274.7L416.5,271.4z"/>
<path color="#ff5b3f" d="M416.5,271.4L423.9,274.7L419,275.7L411.5,272.4z"/>
<path color="#ff5b3f" d="M411.5,272.4L419,275.7L414.3,277.8L406.8,274.5z"/>
<path color="#ff5f43" d="M406.8,274.5L414.3,277.8L410.2,280.9L402.5,277.6z"/>
<path color="#ff654a" d="M402.5,277.6L410.2,280.9L406.7,284.8L399,281.4z"/>
<path color="#ff684d" d="M399,281.4L406.7,284.8L404,289.3L396.4,285.9z"/>
<path color="#ff684d" d="M396.4,285.9L404,289.3L402.3,294.3L394.7,290.8z"/>
<path color="#ff684d" d="M394.7,290.8L402.3,294.3L401.6,299.5L394.1,296z"/>
<path color="#ff684d" d="M405.3,632.5L422.2,641.9L422.3,646.9L405.6,637.5z"/>
<path color="#ff674c" d="M405.6,637.5L422.3,646.9L423.4,651.7L406.9,642.2z"/>
<path color="#fe5b3f" d="M406.9,642.2L423.4,651.7L425.4,655.9L409.2,646.4z"/>
<path color="#fb563b" d="M409.2,646.4L425.4,655.9L428.3,659.4L412.4,649.9z"/>
<path color="#fa553b" d="M412.4,649.9L428.3,659.4L431.8,662.1L416.2,652.7z"/>
<path color="#f65138" d="M441.3,609.8L456.2,618.1L452.2,616.4L436.9,608z"/>
<path color="#f9543a" d="M436.9,608L452.2,616.4L447.8,615.6L432.2,607.2z"/>
<path color="#ff5b3f" d="M432.2,607.2L447.8,615.6L443.3,616L427.3,607.4z"/>
<path color="#ff5b3f" d="M427.3,607.4L443.3,616L438.8,617.4L422.4,608.7z"/>
<path color="#ff5b3f" d="M422.4,608.7L438.8,617.4L434.5,619.8L417.9,611z"/>
<path color="#ff6045" d="M417.9,611L434.5,619.8L430.6,623.1L413.8,614.2z"/>
<path color="#ff664c" d="M413.8,614.2L430.6,623.1L427.3,627.2L410.3,618.1z"/>
<path color="#ff684d" d="M410.3,618.1L427.3,627.2L424.7,631.8L407.7,622.6z"/>
<path color="#ff684d" d="M407.7,622.6L424.7,631.8L423,636.8L406,627.4z"/>
<path color="#ff684d" d="M406,627.4L423,636.8L422.2,641.9L405.3,632.5z"/>
<path color="#ff5e43" d="M811.6,195.3L817.6,200.1L816.9,205.3L810.8,200.5z"/>
<path color="#ff644a" d="M810.8,200.5L816.9,205.3L815.2,210.2L809,205.5z"/>
<path color="#ff684d" d="M809,205.5L815.2,210.2L812.5,214.7L806.3,210.1z"/>
<path color="#ff684d" d="M806.3,210.1L812.5,214.7L808.9,218.6L802.7,214.1z"/>
<path color="#ff684d" d="M802.7,214.1L808.9,218.6L804.6,221.7L798.5,217.2z"/>
<path color="#ff684d" d="M798.5,217.2L804.6,221.7L799.9,223.8L793.8,219.4z"/>
<path color="#ff5b3f" d="M793.8,219.4L799.9,223.8L794.8,224.9L788.8,220.5z"/>
<path color="#ff5b3f" d="M788.8,220.5L794.8,224.9L789.6,225L783.7,220.6z"/>
<path color="#fe5a3e" d="M783.7,220.6L789.6,225L784.6,224L778.8,219.6z"/>
<path color="#fb563b" d="M778.8,219.6L784.6,224L780,221.9L774.3,217.5z"/>
<path color="#fa553b" d="M774.3,217.5L780,221.9L775.9,218.9L770.4,214.5z"/>
<path color="#f65137" d="M800.4,173.9L805.8,178.9L809.9,181.9L804.4,176.9z"/>
<path color="#f65137" d="M804.4,176.9L809.9,181.9L813.3,185.7L807.6,180.7z"/>
<path color="#f9543a" d="M807.6,180.7L813.3,185.7L815.7,190.1L810,185.2z"/>
<path color="#ff5b3f" d="M810,185.2L815.7,190.1L817.2,195L811.3,190.1z"/>
<path color="#ff5b3f" d="M811.3,190.1L817.2,195L817.6,200.1L811.6,195.3z"/>
<path color="#ff684d" d="M426.9,972.3L457.9,988.1L457.9,993L427,977.2z"/>
<path color="#ff674c" d="M427,977.2L457.9,993L458.6,997.4L428.1,981.6z"/>
<path color="#fe5b40" d="M428.1,981.6L458.6,997.4L460,1001.2L430,985.4z"/>
<path color="#fb563b" d="M430,985.4L460,1001.2L462.1,1004.2L432.8,988.5z"/>
<path color="#fa553b" d="M432.8,988.5L462.1,1004.2L464.9,1006.2L436.2,990.7z"/>
<path color="#f34e35" d="M460.1,946.4L486.5,960L483.4,958.9L456.2,945.1z"/>
<path color="#f55137" d="M456.2,945.1L483.4,958.9L479.9,958.8L452,944.9z"/>
<path color="#fc583d" d="M452,944.9L479.9,958.8L476.2,959.8L447.6,945.6z"/>
<path color="#ff5b3f" d="M447.6,945.6L476.2,959.8L472.5,961.9L443.2,947.4z"/>
<path color="#ff5b3f" d="M443.2,947.4L472.5,961.9L468.9,964.8L439,950.1z"/>
<path color="#ff6044" d="M439,950.1L468.9,964.8L465.6,968.6L435.2,953.6z"/>
<path color="#ff664b" d="M435.2,953.6L465.6,968.6L462.7,973L431.9,957.8z"/>
<path color="#ff684d" d="M431.9,957.8L462.7,973L460.4,977.9L429.4,962.4z"/>
<path color="#ff684d" d="M429.4,962.4L460.4,977.9L458.8,983L427.7,967.4z"/>
<path color="#ff684d" d="M427.7,967.4L458.8,983L457.9,988.1L426.9,972.3z"/>
<path color="#ff684d" d="M740.5,1027L775.6,1022.9L774.7,1028L739.6,1032.2z"/>
<path color="#ff684d" d="M739.6,1032.2L774.7,1028L773,1032.7L738,1036.8z"/>
<path color="#ff6348" d="M738,1036.8L773,1032.7L770.5,1036.7L735.8,1040.7z"/>
<path color="#ff5b3f" d="M735.8,1040.7L770.5,1036.7L767.3,1040L733,1043.8z"/>
<path color="#fc573c" d="M733,1043.8L767.3,1040L763.5,1042.3L729.9,1045.9z"/>
<path color="#fa553b" d="M729.9,1045.9L763.5,1042.3L759.5,1043.5L726.6,1047z"/>
<path color="#e7432c" d="M721.6,995.9L750.9,993.6L755.1,993.3L725.1,995.9z"/>
<path color="#e7432c" d="M725.1,995.9L755.1,993.3L759.4,994.2L728.5,997z"/>
<path color="#ed4930" d="M728.5,997L759.4,994.2L763.5,996.2L731.7,999.2z"/>
<path color="#fc583d" d="M731.7,999.2L763.5,996.2L767.2,999.1L734.6,1002.4z"/>
<path color="#ff5b3f" d="M734.6,1002.4L767.2,999.1L770.4,1002.9L737.1,1006.5z"/>
<path color="#ff5c40" d="M737.1,1006.5L770.4,1002.9L772.9,1007.4L739,1011.1z"/>
<path color="#ff6247" d="M739,1011.1L772.9,1007.4L774.7,1012.3L740.2,1016.3z"/>
<path color="#ff674d" d="M740.2,1016.3L774.7,1012.3L775.6,1017.6L740.7,1021.7z"/>
<path color="#ff684d" d="M740.7,1021.7L775.6,1017.6L775.6,1022.9L740.5,1027z"/>
<path color="#ff684d" d="M774.7,693.4L797.4,693.2L796.5,698.4L773.7,698.6z"/>
<path color="#ff684d" d="M773.7,698.6L796.5,698.4L794.7,703.2L772,703.5z"/>
<path color="#ff684d" d="M772,703.5L794.7,703.2L792.1,707.5L769.5,707.8z"/>
<path color="#ff5b3f" d="M769.5,707.8L792.1,707.5L788.6,711.1L766.3,711.4z"/>
<path color="#ff5b3f" d="M766.3,711.4L788.6,711.1L784.6,713.9L762.5,714z"/>
<path color="#fb573c" d="M762.5,714L784.6,713.9L780.1,715.7L758.5,715.7z"/>
<path color="#fa553b" d="M758.5,715.7L780.1,715.7L775.4,716.3L754.2,716.2z"/>
<path color="#f14c33" d="M754.4,665.7L773.8,666.5L778.5,666.8L758.6,666.2z"/>
<path color="#f24d34" d="M758.6,666.2L778.5,666.8L783.1,668.3L762.6,667.7z"/>
<path color="#f85439" d="M762.6,667.7L783.1,668.3L787.3,670.7L766.3,670.3z"/>
<path color="#fe5a3e" d="M766.3,670.3L787.3,670.7L791,674.1L769.5,673.8z"/>
<path color="#ff5b3f" d="M769.5,673.8L791,674.1L793.9,678.2L772,678.1z"/>
<path color="#ff5e43" d="M772,678.1L793.9,678.2L796,682.9L773.8,682.9z"/>
<path color="#ff654a" d="M773.8,682.9L796,682.9L797.2,688L774.7,688.1z"/>
<path color="#ff684d" d="M774.7,688.1L797.2,688L797.4,693.2L774.7,693.4z"/>
<path color="#ff674d" d="M797.9,359.4L810.8,363.3L810.1,368.5L797,364.7z"/>
<path color="#ff684d" d="M797,364.7L810.1,368.5L808.3,373.5L795.2,369.7z"/>
<path color="#ff684d" d="M795.2,369.7L808.3,373.5L805.5,377.9L792.5,374.2z"/>
<path color="#ff684d" d="M792.5,374.2L805.5,377.9L802,381.8L789.1,378.1z"/>
<path color="#ff5e43" d="M789.1,378.1L802,381.8L797.8,384.8L785,381.2z"/>
<path color="#ff5b3f" d="M785,381.2L797.8,384.8L793.1,386.9L780.5,383.2z"/>
<path color="#ff5b3f" d="M780.5,383.2L793.1,386.9L788.1,387.9L775.7,384.3z"/>
<path color="#fb563b" d="M775.7,384.3L788.1,387.9L783.1,387.8L771,384.2z"/>
<path color="#fa553b" d="M771,384.2L783.1,387.8L778.2,386.7L766.4,383z"/>
<path color="#f65137" d="M783.6,335.4L795.2,339.6L799.7,341.7L787.8,337.5z"/>
<path color="#f85439" d="M787.8,337.5L799.7,341.7L803.6,344.8L791.5,340.6z"/>
<path color="#fe5a3f" d="M791.5,340.6L803.6,344.8L806.8,348.7L794.5,344.6z"/>
<path color="#ff5b3f" d="M794.5,344.6L806.8,348.7L809.2,353.2L796.6,349.2z"/>
<path color="#ff5d41" d="M796.6,349.2L809.2,353.2L810.5,358.1L797.7,354.2z"/>
<path color="#ff6247" d="M797.7,354.2L810.5,358.1L810.8,363.3L797.9,359.4z"/>
<path color="#ff684d" d="M403.4,466.9L419.8,474L420,479.1L403.7,472z"/>
<path color="#ff684d" d="M403.7,472L420,479.1L421.1,484L405.1,476.9z"/>
<path color="#ff6246" d="M405.1,476.9L421.1,484L423.2,488.4L407.4,481.2z"/>
<path color="#fc583d" d="M407.4,481.2L423.2,488.4L426,492.2L410.6,484.9z"/>
<path color="#fa553b" d="M410.6,484.9L426,492.2L429.6,495L414.5,487.8z"/>
<path color="#fa553b" d="M414.5,487.8L429.6,495L433.6,496.9L418.9,489.8z"/>
<path color="#f65137" d="M439.8,444.8L454.2,451.2L450.1,449.2L435.3,442.8z"/>
<path color="#f75238" d="M435.3,442.8L450.1,449.2L445.7,448.3L430.5,441.9z"/>
<path color="#fc573c" d="M430.5,441.9L445.7,448.3L441.1,448.5L425.6,442z"/>
<path color="#ff5b3f" d="M425.6,442L441.1,448.5L436.6,449.7L420.7,443.1z"/>
<path color="#ff5b3f" d="M420.7,443.1L436.6,449.7L432.2,452L416.1,445.3z"/>
<path color="#ff5d41" d="M416.1,445.3L432.2,452L428.3,455.2L412,448.4z"/>
<path color="#ff6348" d="M412,448.4L428.3,455.2L425,459.1L408.5,452.4z"/>
<path color="#ff684d" d="M408.5,452.4L425,459.1L422.4,463.8L405.8,456.9z"/>
<path color="#ff684d" d="M405.8,456.9L422.4,463.8L420.6,468.8L404.1,461.8z"/>
<path color="#ff684d" d="M404.1,461.8L420.6,468.8L419.8,474L403.4,466.9z"/>
<path color="#ff684d" d="M424.5,808L455,821.4L454.9,826.4L424.7,812.9z"/>
<path color="#ff684d" d="M424.7,812.9L454.9,826.4L455.6,831L425.8,817.5z"/>
<path color="#ff5f44" d="M425.8,817.5L455.6,831L457.1,835L427.7,821.5z"/>
<path color="#fc573c" d="M427.7,821.5L457.1,835L459.3,838.2L430.5,824.8z"/>
<path color="#fa553b" d="M430.5,824.8L459.3,838.2L462.1,840.5L434,827.3z"/>
<path color="#f34f35" d="M458.1,783.2L484,794.8L480.8,793.4L454.2,781.6z"/>
<path color="#f45036" d="M454.2,781.6L480.8,793.4L477.3,793.1L449.9,781.1z"/>
<path color="#fa563b" d="M449.9,781.1L477.3,793.1L473.5,793.8L445.4,781.7z"/>
<path color="#fe5a3e" d="M445.4,781.7L473.5,793.8L469.7,795.6L441,783.3z"/>
<path color="#ff5b3f" d="M441,783.3L469.7,795.6L466,798.4L436.7,785.8z"/>
<path color="#ff5d42" d="M436.7,785.8L466,798.4L462.7,802L432.9,789.3z"/>
<path color="#ff6449" d="M432.9,789.3L462.7,802L459.8,806.3L429.6,793.4z"/>
<path color="#ff684d" d="M429.6,793.4L459.8,806.3L457.5,811.1L427.1,798z"/>
<path color="#ff684d" d="M427.1,798L457.5,811.1L455.8,816.2L425.3,803z"/>
<path color="#ff684d" d="M425.3,803L455.8,816.2L455,821.4L424.5,808z"/>
<path color="#ff684d" d="M739.1,860.9L775.2,859.3L774.3,864.5L738.1,866.1z"/>
<path color="#ff684d" d="M738.1,866.1L774.3,864.5L772.5,869.2L736.5,870.9z"/>
<path color="#ff684d" d="M736.5,870.9L772.5,869.2L770,873.4L734.3,875z"/>
<path color="#ff5d41" d="M734.3,875L770,873.4L766.8,876.8L731.6,878.3z"/>
<path color="#fd593e" d="M731.6,878.3L766.8,876.8L763.1,879.3L728.5,880.6z"/>
<path color="#fa563b" d="M728.5,880.6L763.1,879.3L759,880.7L725.2,881.9z"/>
<path color="#fa553b" d="M725.2,881.9L759,880.7L754.7,881.1L721.7,882z"/>
<path color="#e7432c" d="M723.8,831L754.8,830.6L759,831.3L727.2,831.9z"/>
<path color="#e8442d" d="M727.2,831.9L759,831.3L763.1,833.1L730.4,833.8z"/>
<path color="#f55137" d="M730.4,833.8L763.1,833.1L766.8,835.9L733.3,836.8z"/>
<path color="#ff5b3f" d="M733.3,836.8L766.8,835.9L770,839.5L735.7,840.6z"/>
<path color="#ff5b3f" d="M735.7,840.6L770,839.5L772.5,843.9L737.6,845.2z"/>
<path color="#ff5e43" d="M737.6,845.2L772.5,843.9L774.3,848.8L738.8,850.2z"/>
<path color="#ff654a" d="M738.8,850.2L774.3,848.8L775.2,854L739.3,855.5z"/>
<path color="#ff684d" d="M739.3,855.5L775.2,854L775.2,859.3L739.1,860.9z"/>
<path color="#ff684d" d="M401.6,299.5L417.5,304.2L417.7,309.5L401.9,304.8z"/>
<path color="#ff684d" d="M401.9,304.8L417.7,309.5L418.8,314.6L403.3,309.7z"/>
<path color="#ff684d" d="M403.3,309.7L418.8,314.6L420.9,319.1L405.6,314.3z"/>
<path color="#ff5d42" d="M405.6,314.3L420.9,319.1L423.8,323.1L408.8,318.2z"/>
<path color="#fb573c" d="M408.8,318.2L423.8,323.1L427.4,326.2L412.8,321.2z"/>
<path color="#fa553b" d="M412.8,321.2L427.4,326.2L431.5,328.3L417.3,323.3z"/>
<path color="#f65137" d="M433.7,275.8L448.1,280.2L443.7,279.1L428.9,274.7z"/>
<path color="#f85339" d="M428.9,274.7L443.7,279.1L439,279.1L423.9,274.7z"/>
<path color="#fe5a3e" d="M423.9,274.7L439,279.1L434.4,280.1L419,275.7z"/>
<path color="#ff5b3f" d="M419,275.7L434.4,280.1L430,282.2L414.3,277.8z"/>
<path color="#ff5b3f" d="M414.3,277.8L430,282.2L426,285.3L410.2,280.9z"/>
<path color="#ff5f43" d="M410.2,280.9L426,285.3L422.6,289.3L406.7,284.8z"/>
<path color="#ff654b" d="M406.7,284.8L422.6,289.3L420,293.9L404,289.3z"/>
<path color="#ff684d" d="M404,289.3L420,293.9L418.3,298.9L402.3,294.3z"/>
<path color="#ff684d" d="M402.3,294.3L418.3,298.9L417.5,304.2L401.6,299.5z"/>
<path color="#ff684d" d="M774.1,525.1L797.6,527.5L796.8,532.7L773.2,530.4z"/>
<path color="#ff684d" d="M773.2,530.4L796.8,532.7L795,537.6L771.4,535.4z"/>
<path color="#ff684d" d="M771.4,535.4L795,537.6L792.3,542L768.9,539.8z"/>
<path color="#ff6449" d="M768.9,539.8L792.3,542L788.9,545.8L765.7,543.5z"/>
<path color="#ff5b3f" d="M765.7,543.5L788.9,545.8L784.8,548.7L762,546.4z"/>
<path color="#fe5a3e" d="M762,546.4L784.8,548.7L780.3,550.6L757.9,548.3z"/>
<path color="#fa563b" d="M757.9,548.3L780.3,550.6L775.6,551.4L753.7,549.1z"/>
<path color="#fa553b" d="M753.7,549.1L775.6,551.4L770.8,551.2L749.5,548.7z"/>
<path color="#f65138" d="M758.1,498.7L778.8,501.7L783.4,503L762.2,500z"/>
<path color="#f9553a" d="M762.2,500L783.4,503L787.6,505.3L765.9,502.4z"/>
<path color="#ff5b3f" d="M765.9,502.4L787.6,505.3L791.2,508.5L769,505.8z"/>
<path color="#ff5b3f" d="M769,505.8L791.2,508.5L794.2,512.5L771.5,509.9z"/>
<path color="#ff5c40" d="M771.5,509.9L794.2,512.5L796.3,517.2L773.3,514.6z"/>
<path color="#ff6145" d="M773.3,514.6L796.3,517.2L797.5,522.2L774.1,519.8z"/>
<path color="#ff674c" d="M774.1,519.8L797.5,522.2L797.6,527.5L774.1,525.1z"/>
<path color="#ff6449" d="M798.1,189L811.6,195.3L810.8,200.5L797.3,194.3z"/>
<path color="#ff684d" d="M797.3,194.3L810.8,200.5L809,205.5L795.4,199.4z"/>
<path color="#ff684d" d="M795.4,199.4L809,205.5L806.3,210.1L792.7,204.1z"/>
<path color="#ff684d" d="M792.7,204.1L806.3,210.1L802.7,214.1L789.2,208.1z"/>
<path color="#ff684d" d="M789.2,208.1L802.7,214.1L798.5,217.2L785.2,211.3z"/>
<path color="#ff5b3f" d="M785.2,211.3L798.5,217.2L793.8,219.4L780.6,213.5z"/>
<path color="#ff5b3f" d="M780.6,213.5L793.8,219.4L788.8,220.5L775.9,214.7z"/>
<path color="#fe593e" d="M775.9,214.7L788.8,220.5L783.7,220.6L771.1,214.9z"/>
<path color="#fa563b" d="M771.1,214.9L783.7,220.6L778.8,219.6L766.5,213.9z"/>
<path color="#fa553b" d="M766.5,213.9L778.8,219.6L774.3,217.5L762.3,211.8z"/>
<path color="#f65137" d="M783.8,165.4L795.9,171.9L800.4,173.9L788.1,167.4z"/>
<path color="#f65238" d="M788.1,167.4L800.4,173.9L804.4,176.9L791.8,170.4z"/>
<path color="#fa553b" d="M791.8,170.4L804.4,176.9L807.6,180.7L794.7,174.2z"/>
<path color="#ff5b3f" d="M794.7,174.2L807.6,180.7L810,185.2L796.8,178.8z"/>
<path color="#ff5b3f" d="M796.8,178.8L810,185.2L811.3,190.1L798,183.8z"/>
<path color="#ff5e42" d="M798,183.8L811.3,190.1L811.6,195.3L798.1,189z"/>
<path color="#ff684d" d="M422.2,641.9L452,652.8L451.9,658L422.3,646.9z"/>
<path color="#ff684d" d="M422.3,646.9L451.9,658L452.7,662.7L423.4,651.7z"/>
<path color="#ff644a" d="M423.4,651.7L452.7,662.7L454.2,666.9L425.4,655.9z"/>
<path color="#fd593e" d="M425.4,655.9L454.2,666.9L456.5,670.4L428.3,659.4z"/>
<path color="#fa563b" d="M428.3,659.4L456.5,670.4L459.3,673L431.8,662.1z"/>
<path color="#fa553b" d="M431.8,662.1L459.3,673L462.6,674.6L435.8,663.8z"/>
<path color="#f65137" d="M452.2,616.4L478.3,626.1L474.6,625.5L447.8,615.6z"/>
<path color="#fa553b" d="M447.8,615.6L474.6,625.5L470.8,626L443.3,616z"/>
<path color="#ff5b3f" d="M443.3,616L470.8,626L466.9,627.5L438.8,617.4z"/>
<path color="#ff5b3f" d="M438.8,617.4L466.9,627.5L463.2,630.1L434.5,619.8z"/>
<path color="#ff5c40" d="M434.5,619.8L463.2,630.1L459.8,633.5L430.6,623.1z"/>
<path color="#ff6146" d="M430.6,623.1L459.8,633.5L456.9,637.7L427.3,627.2z"/>
<path color="#ff674c" d="M427.3,627.2L456.9,637.7L454.5,642.5L424.7,631.8z"/>
<path color="#ff684d" d="M424.7,631.8L454.5,642.5L452.9,647.6L423,636.8z"/>
<path color="#ff684d" d="M423,636.8L452.9,647.6L452,652.8L422.2,641.9z"/>
<path color="#ff684d" d="M457.9,988.1L504.1,1003.7L503.8,1008.7L457.9,993z"/>
<path color="#ff684d" d="M457.9,993L503.8,1008.7L504,1013.1L458.6,997.4z"/>
<path color="#ff6247" d="M458.6,997.4L504,1013.1L504.8,1016.9L460,1001.2z"/>
<path color="#fd583d" d="M460,1001.2L504.8,1016.9L506.1,1019.7L462.1,1004.2z"/>
<path color="#fa563b" d="M462.1,1004.2L506.1,1019.7L507.8,1021.6L464.9,1006.2z"/>
<path color="#fa553b" d="M464.9,1006.2L507.8,1021.6L509.9,1022.5L468.1,1007.3z"/>
<path color="#eb472f" d="M486.5,960L525.1,973.4L523,972.5L483.4,958.9z"/>
<path color="#ec472f" d="M483.4,958.9L523,972.5L520.7,972.7L479.9,958.8z"/>
<path color="#ef4a32" d="M479.9,958.8L520.7,972.7L518.1,973.9L476.2,959.8z"/>
<path color="#fa563b" d="M476.2,959.8L518.1,973.9L515.5,976.2L472.5,961.9z"/>
<path color="#ff5b3f" d="M472.5,961.9L515.5,976.2L512.9,979.4L468.9,964.8z"/>
<path color="#ff5c40" d="M468.9,964.8L512.9,979.4L510.4,983.5L465.6,968.6z"/>
<path color="#ff6146" d="M465.6,968.6L510.4,983.5L508.2,988.1L462.7,973z"/>
<path color="#ff674c" d="M462.7,973L508.2,988.1L506.4,993.2L460.4,977.9z"/>
<path color="#ff684d" d="M460.4,977.9L506.4,993.2L505,998.5L458.8,983z"/>
<path color="#ff684d" d="M458.8,983L505,998.5L504.1,1003.7L457.9,988.1z"/>
<path color="#ff684d" d="M690.4,1028.4L740.5,1027L739.6,1032.2L689.5,1033.5z"/>
<path color="#ff684d" d="M689.5,1033.5L739.6,1032.2L738,1036.8L688.2,1038.1z"/>
<path color="#ff684d" d="M688.2,1038.1L738,1036.8L735.8,1040.7L686.5,1042z"/>
<path color="#ff5d41" d="M686.5,1042L735.8,1040.7L733,1043.8L684.5,1044.9z"/>
<path color="#fc583c" d="M684.5,1044.9L733,1043.8L729.9,1045.9L682.3,1046.8z"/>
<path color="#fa553b" d="M682.3,1046.8L729.9,1045.9L726.6,1047L680.1,1047.7z"/>
<path color="#e7432c" d="M679.8,995.9L721.6,995.9L725.1,995.9L682,996.1z"/>
<path color="#e7432c" d="M682,996.1L725.1,995.9L728.5,997L684.2,997.4z"/>
<path color="#eb472f" d="M684.2,997.4L728.5,997L731.7,999.2L686.2,999.9z"/>
<path color="#fb573c" d="M686.2,999.9L731.7,999.2L734.6,1002.4L687.9,1003.2z"/>
<path color="#ff5b3f" d="M687.9,1003.2L734.6,1002.4L737.1,1006.5L689.3,1007.4z"/>
<path color="#ff5b3f" d="M689.3,1007.4L737.1,1006.5L739,1011.1L690.3,1012.3z"/>
<path color="#ff5f44" d="M690.3,1012.3L739,1011.1L740.2,1016.3L690.8,1017.5z"/>
<path color="#ff664b" d="M690.8,1017.5L740.2,1016.3L740.7,1021.7L690.8,1023z"/>
<path color="#ff684d" d="M690.8,1023L740.7,1021.7L740.5,1027L690.4,1028.4z"/>
<path color="#ff684d" d="M737.5,692.5L774.7,693.4L773.7,698.6L736.6,697.7z"/>
<path color="#ff684d" d="M736.6,697.7L773.7,698.6L772,703.5L735,702.6z"/>
<path color="#ff684d" d="M735,702.6L772,703.5L769.5,707.8L732.8,706.9z"/>
<path color="#ff6449" d="M732.8,706.9L769.5,707.8L766.3,711.4L730.1,710.4z"/>
<path color="#ff5b3f" d="M730.1,710.4L766.3,711.4L762.5,714L727,713z"/>
<path color="#fb573c" d="M727,713L762.5,714L758.5,715.7L723.7,714.5z"/>
<path color="#fa553b" d="M723.7,714.5L758.5,715.7L754.2,716.2L720.3,714.9z"/>
<path color="#f14d34" d="M722.5,663.8L754.4,665.7L758.6,666.2L725.9,664.4z"/>
<path color="#f34e35" d="M725.9,664.4L758.6,666.2L762.6,667.7L729,666.1z"/>
<path color="#f9543a" d="M729,666.1L762.6,667.7L766.3,670.3L731.9,668.8z"/>
<path color="#fe5a3f" d="M731.9,668.8L766.3,670.3L769.5,673.8L734.3,672.5z"/>
<path color="#ff5b3f" d="M734.3,672.5L769.5,673.8L772,678.1L736.1,676.8z"/>
<path color="#ff5c40" d="M736.1,676.8L772,678.1L773.8,682.9L737.3,681.8z"/>
<path color="#ff6247" d="M737.3,681.8L773.8,682.9L774.7,688.1L737.8,687.1z"/>
<path color="#ff674d" d="M737.8,687.1L774.7,688.1L774.7,693.4L737.5,692.5z"/>
<path color="#ff684d" d="M773.5,354.4L797.9,359.4L797,364.7L772.6,359.8z"/>
<path color="#ff684d" d="M772.6,359.8L797,364.7L795.2,369.7L770.8,364.8z"/>
<path color="#ff684d" d="M770.8,364.8L795.2,369.7L792.5,374.2L768.3,369.4z"/>
<path color="#ff684d" d="M768.3,369.4L792.5,374.2L789.1,378.1L765.1,373.4z"/>
<path color="#ff5e42" d="M765.1,373.4L789.1,378.1L785,381.2L761.4,376.4z"/>
<path color="#ff5b3f" d="M761.4,376.4L785,381.2L780.5,383.2L757.3,378.5z"/>
<path color="#fc583d" d="M757.3,378.5L780.5,383.2L775.7,384.3L753.1,379.5z"/>
<path color="#fa553b" d="M753.1,379.5L775.7,384.3L771,384.2L748.9,379.4z"/>
<path color="#fa553b" d="M748.9,379.4L771,384.2L766.4,383L744.9,378.3z"/>
<path color="#f65137" d="M757.6,328.9L779,334.3L783.6,335.4L761.7,330z"/>
<path color="#f75238" d="M761.7,330L783.6,335.4L787.8,337.5L765.3,332.2z"/>
<path color="#fc573c" d="M765.3,332.2L787.8,337.5L791.5,340.6L768.5,335.3z"/>
<path color="#ff5b3f" d="M768.5,335.3L791.5,340.6L794.5,344.6L771,339.3z"/>
<path color="#ff5b3f" d="M771,339.3L794.5,344.6L796.6,349.2L772.7,344z"/>
<path color="#ff5d41" d="M772.7,344L796.6,349.2L797.7,354.2L773.5,349.1z"/>
<path color="#ff6348" d="M773.5,349.1L797.7,354.2L797.9,359.4L773.5,354.4z"/>
<path color="#ff684d" d="M419.8,474L449,482.4L449,487.6L420,479.1z"/>
<path color="#ff684d" d="M420,479.1L449,487.6L449.8,492.6L421.1,484z"/>
<path color="#ff684d" d="M421.1,484L449.8,492.6L451.3,497L423.2,488.4z"/>
<path color="#ff5e42" d="M423.2,488.4L451.3,497L453.6,500.8L426,492.2z"/>
<path color="#fb573c" d="M426,492.2L453.6,500.8L456.5,503.6L429.6,495z"/>
<path color="#fa553b" d="M429.6,495L456.5,503.6L459.9,505.5L433.6,496.9z"/>
<path color="#f65137" d="M450.1,449.2L475.8,456.9L472,456L445.7,448.3z"/>
<path color="#f85339" d="M445.7,448.3L472,456L468.1,456.2L441.1,448.5z"/>
<path color="#fe5a3e" d="M441.1,448.5L468.1,456.2L464.2,457.6L436.6,449.7z"/>
<path color="#ff5b3f" d="M436.6,449.7L464.2,457.6L460.4,459.9L432.2,452z"/>
<path color="#ff5b3f" d="M432.2,452L460.4,459.9L456.9,463.2L428.3,455.2z"/>
<path color="#ff5e43" d="M428.3,455.2L456.9,463.2L453.9,467.3L425,459.1z"/>
<path color="#ff654a" d="M425,459.1L453.9,467.3L451.6,472L422.4,463.8z"/>
<path color="#ff684d" d="M422.4,463.8L451.6,472L449.9,477.1L420.6,468.8z"/>
<path color="#ff684d" d="M420.6,468.8L449.9,477.1L449,482.4L419.8,474z"/>
<path color="#ff684d" d="M455,821.4L500.6,835L500.3,840.1L454.9,826.4z"/>
<path color="#ff684d" d="M454.9,826.4L500.3,840.1L500.5,844.7L455.6,831z"/>
<path color="#ff664c" d="M455.6,831L500.5,844.7L501.4,848.7L457.1,835z"/>
<path color="#fe5b3f" d="M457.1,835L501.4,848.7L502.7,851.9L459.3,838.2z"/>
<path color="#fa563b" d="M459.3,838.2L502.7,851.9L504.5,854.1L462.1,840.5z"/>
<path color="#fa553b" d="M462.1,840.5L504.5,854.1L506.7,855.2L465.4,841.8z"/>
<path color="#ec4830" d="M480.8,793.4L520.1,805.5L517.6,805.3L477.3,793.1z"/>
<path color="#ed4931" d="M477.3,793.1L517.6,805.3L515,806.2L473.5,793.8z"/>
<path color="#f65238" d="M473.5,793.8L515,806.2L512.2,808.2L469.7,795.6z"/>
<path color="#ff5b3f" d="M469.7,795.6L512.2,808.2L509.6,811.2L466,798.4z"/>
<path color="#ff5b3f" d="M466,798.4L509.6,811.2L507,815L462.7,802z"/>
<path color="#ff5f44" d="M462.7,802L507,815L504.8,819.5L459.8,806.3z"/>
<path color="#ff664b" d="M459.8,806.3L504.8,819.5L502.9,824.5L457.5,811.1z"/>
<path color="#ff684d" d="M457.5,811.1L502.9,824.5L501.5,829.7L455.8,816.2z"/>
<path color="#ff684d" d="M455.8,816.2L501.5,829.7L500.6,835L455,821.4z"/>
<path color="#ff684d" d="M687.8,860.1L739.1,860.9L738.1,866.1L686.9,865.3z"/>
<path color="#ff684d" d="M686.9,865.3L738.1,866.1L736.5,870.9L685.6,870z"/>
<path color="#ff684d" d="M685.6,870L736.5,870.9L734.3,875L684,874.1z"/>
<path color="#ff6146" d="M684,874.1L734.3,875L731.6,878.3L682,877.3z"/>
<path color="#fd593e" d="M682,877.3L731.6,878.3L728.5,880.6L679.9,879.5z"/>
<path color="#fa563b" d="M679.9,879.5L728.5,880.6L725.2,881.9L677.7,880.6z"/>
<path color="#fa553b" d="M677.7,880.6L725.2,881.9L721.7,882L675.5,880.6z"/>
<path color="#e7432c" d="M679.9,829.3L723.8,831L727.2,831.9L682,830.3z"/>
<path color="#e8442d" d="M682,830.3L727.2,831.9L730.4,833.8L683.9,832.4z"/>
<path color="#f55137" d="M683.9,832.4L730.4,833.8L733.3,836.8L685.6,835.5z"/>
<path color="#ff5b3f" d="M685.6,835.5L733.3,836.8L735.7,840.6L686.9,839.5z"/>
<path color="#ff5b3f" d="M686.9,839.5L735.7,840.6L737.6,845.2L687.8,844.1z"/>
<path color="#ff5d41" d="M687.8,844.1L737.6,845.2L738.8,850.2L688.3,849.3z"/>
<path color="#ff6449" d="M688.3,849.3L738.8,850.2L739.3,855.5L688.3,854.7z"/>
<path color="#ff684d" d="M688.3,854.7L739.3,855.5L739.1,860.9L687.8,860.1z"/>
<path color="#ff684d" d="M504.1,1003.7L563.4,1016.8L562.8,1021.8L503.8,1008.7z"/>
<path color="#ff684d" d="M503.8,1008.7L562.8,1021.8L562.4,1026.3L504,1013.1z"/>
<path color="#ff674c" d="M504,1013.1L562.4,1026.3L562.4,1030L504.8,1016.9z"/>
<path color="#fe5b40" d="M504.8,1016.9L562.4,1030L562.6,1032.9L506.1,1019.7z"/>
<path color="#fb563b" d="M506.1,1019.7L562.6,1032.9L563,1034.7L507.8,1021.6z"/>
<path color="#fa553b" d="M507.8,1021.6L563,1034.7L563.7,1035.4L509.9,1022.5z"/>
<path color="#e7432c" d="M523,972.5L573.2,984.2L572.4,984.5L520.7,972.7z"/>
<path color="#e8442c" d="M520.7,972.7L572.4,984.5L571.3,985.9L518.1,973.9z"/>
<path color="#f14d34" d="M518.1,973.9L571.3,985.9L570.1,988.3L515.5,976.2z"/>
<path color="#ff5b3f" d="M515.5,976.2L570.1,988.3L568.9,991.8L512.9,979.4z"/>
<path color="#ff5b3f" d="M512.9,979.4L568.9,991.8L567.6,996L510.4,983.5z"/>
<path color="#ff5d41" d="M510.4,983.5L567.6,996L566.3,1000.8L508.2,988.1z"/>
<path color="#ff6348" d="M508.2,988.1L566.3,1000.8L565.2,1006L506.4,993.2z"/>
<path color="#ff684d" d="M506.4,993.2L565.2,1006L564.2,1011.4L505,998.5z"/>
<path color="#ff684d" d="M505,998.5L564.2,1011.4L563.4,1016.8L504.1,1003.7z"/>
<path color="#ff684d" d="M628.7,1025.3L690.4,1028.4L689.5,1033.5L627.9,1030.3z"/>
<path color="#ff684d" d="M627.9,1030.3L689.5,1033.5L688.2,1038.1L627,1034.9z"/>
<path color="#ff684d" d="M627,1034.9L688.2,1038.1L686.5,1042L626,1038.6z"/>
<path color="#ff5e42" d="M626,1038.6L686.5,1042L684.5,1044.9L625.1,1041.5z"/>
<path color="#fc583c" d="M625.1,1041.5L684.5,1044.9L682.3,1046.8L624.2,1043.3z"/>
<path color="#fa553b" d="M624.2,1043.3L682.3,1046.8L680.1,1047.7L623.3,1044z"/>
<path color="#e7432c" d="M628.1,992.2L679.8,995.9L682,996.1L628.9,992.5z"/>
<path color="#e7432c" d="M628.9,992.5L682,996.1L684.2,997.4L629.5,993.9z"/>
<path color="#ec4830" d="M629.5,993.9L684.2,997.4L686.2,999.9L629.9,996.4z"/>
<path color="#fb573c" d="M629.9,996.4L686.2,999.9L687.9,1003.2L630.2,999.9z"/>
<path color="#ff5b3f" d="M630.2,999.9L687.9,1003.2L689.3,1007.4L630.3,1004.2z"/>
<path color="#ff5b3f" d="M630.3,1004.2L689.3,1007.4L690.3,1012.3L630.1,1009.1z"/>
<path color="#ff5f43" d="M630.1,1009.1L690.3,1012.3L690.8,1017.5L629.8,1014.4z"/>
<path color="#ff664b" d="M629.8,1014.4L690.8,1017.5L690.8,1023L629.3,1019.9z"/>
<path color="#ff684d" d="M629.3,1019.9L690.8,1023L690.4,1028.4L628.7,1025.3z"/>
<path color="#ff684d" d="M417.5,304.2L446.1,310.1L446,315.4L417.7,309.5z"/>
<path color="#ff684d" d="M417.7,309.5L446,315.4L446.8,320.6L418.8,314.6z"/>
<path color="#ff684d" d="M418.8,314.6L446.8,320.6L448.5,325.2L420.9,319.1z"/>
<path color="#ff6449" d="M420.9,319.1L448.5,325.2L450.8,329.2L423.8,323.1z"/>
<path color="#fd593d" d="M423.8,323.1L450.8,329.2L453.8,332.3L427.4,326.2z"/>
<path color="#fa563b" d="M427.4,326.2L453.8,332.3L457.3,334.5L431.5,328.3z"/>
<path color="#fa553b" d="M431.5,328.3L457.3,334.5L461.1,335.6L436,329.4z"/>
<path color="#f65137" d="M448.1,280.2L473.2,285.8L469.4,284.6L443.7,279.1z"/>
<path color="#f65238" d="M443.7,279.1L469.4,284.6L465.5,284.6L439,279.1z"/>
<path color="#fa563b" d="M439,279.1L465.5,284.6L461.5,285.7L434.4,280.1z"/>
<path color="#ff5b3f" d="M434.4,280.1L461.5,285.7L457.6,287.8L430,282.2z"/>
<path color="#ff5b3f" d="M430,282.2L457.6,287.8L454.1,290.9L426,285.3z"/>
<path color="#ff5c40" d="M426,285.3L454.1,290.9L451,294.9L422.6,289.3z"/>
<path color="#ff6246" d="M422.6,289.3L451,294.9L448.6,299.6L420,293.9z"/>
<path color="#ff674d" d="M420,293.9L448.6,299.6L446.9,304.7L418.3,298.9z"/>
<path color="#ff684d" d="M418.3,298.9L446.9,304.7L446.1,310.1L417.5,304.2z"/>
<path color="#ff684d" d="M735.9,521.6L774.1,525.1L773.2,530.4L735,526.9z"/>
<path color="#ff684d" d="M735,526.9L773.2,530.4L771.4,535.4L733.3,531.9z"/>
<path color="#ff684d" d="M733.3,531.9L771.4,535.4L768.9,539.8L731.2,536.4z"/>
<path color="#ff684d" d="M731.2,536.4L768.9,539.8L765.7,543.5L728.5,540.1z"/>
<path color="#ff5d41" d="M728.5,540.1L765.7,543.5L762,546.4L725.4,543z"/>
<path color="#fd593d" d="M725.4,543L762,546.4L757.9,548.3L722.1,544.8z"/>
<path color="#fa563b" d="M722.1,544.8L757.9,548.3L753.7,549.1L718.8,545.5z"/>
<path color="#fa553b" d="M718.8,545.5L753.7,549.1L749.5,548.7L715.5,545.1z"/>
<path color="#f65137" d="M721.2,494.2L753.9,498.4L758.1,498.7L724.5,494.6z"/>
<path color="#f65238" d="M724.5,494.6L758.1,498.7L762.2,500L727.6,496z"/>
<path color="#fa563b" d="M727.6,496L762.2,500L765.9,502.4L730.4,498.5z"/>
<path color="#ff5b3f" d="M730.4,498.5L765.9,502.4L769,505.8L732.7,501.9z"/>
<path color="#ff5b3f" d="M732.7,501.9L769,505.8L771.5,509.9L734.5,506.1z"/>
<path color="#ff5b3f" d="M734.5,506.1L771.5,509.9L773.3,514.6L735.7,510.9z"/>
<path color="#ff5e43" d="M735.7,510.9L773.3,514.6L774.1,519.8L736.2,516.2z"/>
<path color="#ff654a" d="M736.2,516.2L774.1,519.8L774.1,525.1L735.9,521.6z"/>
<path color="#ff684d" d="M452,652.8L497.1,664.4L496.8,669.5L451.9,658z"/>
<path color="#ff684d" d="M451.9,658L496.8,669.5L497.1,674.4L452.7,662.7z"/>
<path color="#ff684d" d="M452.7,662.7L497.1,674.4L497.9,678.6L454.2,666.9z"/>
<path color="#ff5e43" d="M454.2,666.9L497.9,678.6L499.3,682L456.5,670.4z"/>
<path color="#fb573c" d="M456.5,670.4L499.3,682L501.2,684.5L459.3,673z"/>
<path color="#fa553b" d="M459.3,673L501.2,684.5L503.5,686L462.6,674.6z"/>
<path color="#f55037" d="M478.3,626.1L517.1,636.4L514.6,636L474.6,625.5z"/>
<path color="#f65238" d="M474.6,625.5L514.6,636L511.8,636.6L470.8,626z"/>
<path color="#fc583d" d="M470.8,626L511.8,636.6L509,638.3L466.9,627.5z"/>
<path color="#ff5b3f" d="M466.9,627.5L509,638.3L506.3,641L463.2,630.1z"/>
<path color="#ff5b3f" d="M463.2,630.1L506.3,641L503.7,644.6L459.8,633.5z"/>
<path color="#ff5d41" d="M459.8,633.5L503.7,644.6L501.4,648.9L456.9,637.7z"/>
<path color="#ff6449" d="M456.9,637.7L501.4,648.9L499.4,653.8L454.5,642.5z"/>
<path color="#ff684d" d="M454.5,642.5L499.4,653.8L498,659L452.9,647.6z"/>
<path color="#ff684d" d="M452.9,647.6L498,659L497.1,664.4L452,652.8z"/>
<path color="#ff664b" d="M772.9,181.3L798.1,189L797.3,194.3L771.9,186.7z"/>
<path color="#ff684d" d="M771.9,186.7L797.3,194.3L795.4,199.4L770.1,191.8z"/>
<path color="#ff684d" d="M770.1,191.8L795.4,199.4L792.7,204.1L767.6,196.6z"/>
<path color="#ff684d" d="M767.6,196.6L792.7,204.1L789.2,208.1L764.4,200.7z"/>
<path color="#ff674c" d="M764.4,200.7L789.2,208.1L785.2,211.3L760.7,204z"/>
<path color="#ff5b3f" d="M760.7,204L785.2,211.3L780.6,213.5L756.6,206.3z"/>
<path color="#fe5a3f" d="M756.6,206.3L780.6,213.5L775.9,214.7L752.4,207.6z"/>
<path color="#fb563b" d="M752.4,207.6L775.9,214.7L771.1,214.9L748.2,207.8z"/>
<path color="#fa553b" d="M748.2,207.8L771.1,214.9L766.5,213.9L744.3,206.8z"/>
<path color="#f65137" d="M761.1,157.5L783.8,165.4L788.1,167.4L764.8,159.5z"/>
<path color="#f85439" d="M764.8,159.5L788.1,167.4L791.8,170.4L767.9,162.4z"/>
<path color="#ff5b3f" d="M767.9,162.4L791.8,170.4L794.7,174.2L770.4,166.3z"/>
<path color="#ff5b3f" d="M770.4,166.3L794.7,174.2L796.8,178.8L772.1,170.9z"/>
<path color="#ff5b3f" d="M772.1,170.9L796.8,178.8L798,183.8L772.9,175.9z"/>
<path color="#ff5f44" d="M772.9,175.9L798,183.8L798.1,189L772.9,181.3z"/>
<path color="#ff684d" d="M563.4,1016.8L628.7,1025.3L627.9,1030.3L562.8,1021.8z"/>
<path color="#ff684d" d="M562.8,1021.8L627.9,1030.3L627,1034.9L562.4,1026.3z"/>
<path color="#ff684d" d="M562.4,1026.3L627,1034.9L626,1038.6L562.4,1030z"/>
<path color="#ff5e43" d="M562.4,1030L626,1038.6L625.1,1041.5L562.6,1032.9z"/>
<path color="#fb573c" d="M562.6,1032.9L625.1,1041.5L624.2,1043.3L563,1034.7z"/>
<path color="#fa553b" d="M563,1034.7L624.2,1043.3L623.3,1044L563.7,1035.4z"/>
<path color="#e7432c" d="M573.2,984.2L628.1,992.2L628.9,992.5L572.4,984.5z"/>
<path color="#e7432c" d="M572.4,984.5L628.9,992.5L629.5,993.9L571.3,985.9z"/>
<path color="#ed4931" d="M571.3,985.9L629.5,993.9L629.9,996.4L570.1,988.3z"/>
<path color="#fd593d" d="M570.1,988.3L629.9,996.4L630.2,999.9L568.9,991.8z"/>
<path color="#ff5b3f" d="M568.9,991.8L630.2,999.9L630.3,1004.2L567.6,996z"/>
<path color="#ff5b3f" d="M567.6,996L630.3,1004.2L630.1,1009.1L566.3,1000.8z"/>
<path color="#ff5f44" d="M566.3,1000.8L630.1,1009.1L629.8,1014.4L565.2,1006z"/>
<path color="#ff664b" d="M565.2,1006L629.8,1014.4L629.3,1019.9L564.2,1011.4z"/>
<path color="#ff684d" d="M564.2,1011.4L629.3,1019.9L628.7,1025.3L563.4,1016.8z"/>
<path color="#ff684d" d="M500.6,835L559.7,847L559.1,852.1L500.3,840.1z"/>
<path color="#ff684d" d="M500.3,840.1L559.1,852.1L558.8,856.8L500.5,844.7z"/>
<path color="#ff684d" d="M500.5,844.7L558.8,856.8L558.8,860.8L501.4,848.7z"/>
<path color="#ff5f43" d="M501.4,848.7L558.8,860.8L559,863.9L502.7,851.9z"/>
<path color="#fc573c" d="M502.7,851.9L559,863.9L559.5,866L504.5,854.1z"/>
<path color="#fa553b" d="M504.5,854.1L559.5,866L560.3,867.1L506.7,855.2z"/>
<path color="#e7432c" d="M520.1,805.5L570.1,816.3L569.2,816.2L517.6,805.3z"/>
<path color="#e7432c" d="M517.6,805.3L569.2,816.2L568,817.3L515,806.2z"/>
<path color="#ed4930" d="M515,806.2L568,817.3L566.7,819.4L512.2,808.2z"/>
<path color="#fc583d" d="M512.2,808.2L566.7,819.4L565.4,822.5L509.6,811.2z"/>
<path color="#ff5b3f" d="M509.6,811.2L565.4,822.5L564,826.5L507,815z"/>
<path color="#ff5c40" d="M507,815L564,826.5L562.7,831.1L504.8,819.5z"/>
<path color="#ff6146" d="M504.8,819.5L562.7,831.1L561.5,836.3L502.9,824.5z"/>
<path color="#ff674d" d="M502.9,824.5L561.5,836.3L560.5,841.6L501.5,829.7z"/>
<path color="#ff684d" d="M501.5,829.7L560.5,841.6L559.7,847L500.6,835z"/>
<path color="#ff684d" d="M685.2,689.5L737.5,692.5L736.6,697.7L684.3,694.8z"/>
<path color="#ff684d" d="M684.3,694.8L736.6,697.7L735,702.6L683,699.6z"/>
<path color="#ff684d" d="M683,699.6L735,702.6L732.8,706.9L681.4,703.9z"/>
<path color="#ff664b" d="M681.4,703.9L732.8,706.9L730.1,710.4L679.5,707.4z"/>
<path color="#ff5b3f" d="M679.5,707.4L730.1,710.4L727,713L677.4,709.9z"/>
<path color="#fb573c" d="M677.4,709.9L727,713L723.7,714.5L675.3,711.3z"/>
<path color="#fa553b" d="M675.3,711.3L723.7,714.5L720.3,714.9L673.1,711.6z"/>
<path color="#f24d34" d="M677.6,660.1L722.5,663.8L725.9,664.4L679.7,660.8z"/>
<path color="#f34f35" d="M679.7,660.8L725.9,664.4L729,666.1L681.5,662.6z"/>
<path color="#fa563b" d="M681.5,662.6L729,666.1L731.9,668.8L683.1,665.4z"/>
<path color="#ff5b3f" d="M683.1,665.4L731.9,668.8L734.3,672.5L684.4,669.2z"/>
<path color="#ff5b3f" d="M684.4,669.2L734.3,672.5L736.1,676.8L685.3,673.7z"/>
<path color="#ff5c40" d="M685.3,673.7L736.1,676.8L737.3,681.8L685.7,678.7z"/>
<path color="#ff6146" d="M685.7,678.7L737.3,681.8L737.8,687.1L685.7,684z"/>
<path color="#ff674c" d="M685.7,684L737.8,687.1L737.5,692.5L685.2,689.5z"/>
<path color="#ff684d" d="M625.3,855.6L687.8,860.1L686.9,865.3L624.5,860.8z"/>
<path color="#ff684d" d="M624.5,860.8L686.9,865.3L685.6,870L623.6,865.5z"/>
<path color="#ff684d" d="M623.6,865.5L685.6,870L684,874.1L622.7,869.5z"/>
<path color="#ff6247" d="M622.7,869.5L684,874.1L682,877.3L621.8,872.6z"/>
<path color="#fd593d" d="M621.8,872.6L682,877.3L679.9,879.5L621,874.8z"/>
<path color="#fa563b" d="M621,874.8L679.9,879.5L677.7,880.6L620.2,875.8z"/>
<path color="#fa553b" d="M620.2,875.8L677.7,880.6L675.5,880.6L619.6,875.7z"/>
<path color="#e7432c" d="M626,824.4L679.9,829.3L682,830.3L626.5,825.5z"/>
<path color="#e9452d" d="M626.5,825.5L682,830.3L683.9,832.4L626.9,827.7z"/>
<path color="#f65238" d="M626.9,827.7L683.9,832.4L685.6,835.5L627.1,830.9z"/>
<path color="#ff5b3f" d="M627.1,830.9L685.6,835.5L686.9,839.5L627.1,834.9z"/>
<path color="#ff5b3f" d="M627.1,834.9L686.9,839.5L687.8,844.1L626.9,839.6z"/>
<path color="#ff5d41" d="M626.9,839.6L687.8,844.1L688.3,849.3L626.5,844.8z"/>
<path color="#ff6449" d="M626.5,844.8L688.3,849.3L688.3,854.7L626,850.2z"/>
<path color="#ff684d" d="M626,850.2L688.3,854.7L687.8,860.1L625.3,855.6z"/>
<path color="#ff684d" d="M449,482.4L493.6,491.7L493.3,497L449,487.6z"/>
<path color="#ff684d" d="M449,487.6L493.3,497L493.6,502L449.8,492.6z"/>
<path color="#ff684d" d="M449.8,492.6L493.6,502L494.5,506.5L451.3,497z"/>
<path color="#ff6348" d="M451.3,497L494.5,506.5L496,510.2L453.6,500.8z"/>
<path color="#fd593d" d="M453.6,500.8L496,510.2L497.9,513.1L456.5,503.6z"/>
<path color="#fa563b" d="M456.5,503.6L497.9,513.1L500.3,514.9L459.9,505.5z"/>
<path color="#fa553b" d="M459.9,505.5L500.3,514.9L502.9,515.6L463.7,506.3z"/>
<path color="#f65137" d="M475.8,456.9L514.1,465.5L511.5,464.6L472,456z"/>
<path color="#f75238" d="M472,456L511.5,464.6L508.7,464.9L468.1,456.2z"/>
<path color="#fb563b" d="M468.1,456.2L508.7,464.9L505.8,466.3L464.2,457.6z"/>
<path color="#ff5b3f" d="M464.2,457.6L505.8,466.3L502.9,468.7L460.4,459.9z"/>
<path color="#ff5b3f" d="M460.4,459.9L502.9,468.7L500.3,472.1L456.9,463.2z"/>
<path color="#ff5c40" d="M456.9,463.2L500.3,472.1L497.9,476.3L453.9,467.3z"/>
<path color="#ff6146" d="M453.9,467.3L497.9,476.3L495.9,481.1L451.6,472z"/>
<path color="#ff674c" d="M451.6,472L495.9,481.1L494.5,486.3L449.9,477.1z"/>
<path color="#ff684d" d="M449.9,477.1L494.5,486.3L493.6,491.7L449,482.4z"/>
<path color="#ff674d" d="M734.2,348.2L773.5,354.4L772.6,359.8L733.3,353.6z"/>
<path color="#ff684d" d="M733.3,353.6L772.6,359.8L770.8,364.8L731.7,358.8z"/>
<path color="#ff684d" d="M731.7,358.8L770.8,364.8L768.3,369.4L729.5,363.5z"/>
<path color="#ff684d" d="M729.5,363.5L768.3,369.4L765.1,373.4L726.8,367.4z"/>
<path color="#ff6449" d="M726.8,367.4L765.1,373.4L761.4,376.4L723.8,370.5z"/>
<path color="#ff5b3f" d="M723.8,370.5L761.4,376.4L757.3,378.5L720.6,372.6z"/>
<path color="#fb573c" d="M720.6,372.6L757.3,378.5L753.1,379.5L717.2,373.7z"/>
<path color="#fa553b" d="M717.2,373.7L753.1,379.5L748.9,379.4L714,373.6z"/>
<path color="#f65137" d="M723,322.3L757.6,328.9L761.7,330L726.1,323.5z"/>
<path color="#f85339" d="M726.1,323.5L761.7,330L765.3,332.2L728.9,325.7z"/>
<path color="#fe5a3e" d="M728.9,325.7L765.3,332.2L768.5,335.3L731.2,328.9z"/>
<path color="#ff5b3f" d="M731.2,328.9L768.5,335.3L771,339.3L732.9,332.9z"/>
<path color="#ff5b3f" d="M732.9,332.9L771,339.3L772.7,344L734.1,337.7z"/>
<path color="#ff5c40" d="M734.1,337.7L772.7,344L773.5,349.1L734.5,342.8z"/>
<path color="#ff6247" d="M734.5,342.8L773.5,349.1L773.5,354.4L734.2,348.2z"/>
<path color="#ff684d" d="M559.7,847L625.3,855.6L624.5,860.8L559.1,852.1z"/>
<path color="#ff684d" d="M559.1,852.1L624.5,860.8L623.6,865.5L558.8,856.8z"/>
<path color="#ff684d" d="M558.8,856.8L623.6,865.5L622.7,869.5L558.8,860.8z"/>
<path color="#ff6247" d="M558.8,860.8L622.7,869.5L621.8,872.6L559,863.9z"/>
<path color="#fc583d" d="M559,863.9L621.8,872.6L621,874.8L559.5,866z"/>
<path color="#fa553b" d="M559.5,866L621,874.8L620.2,875.8L560.3,867.1z"/>
<path color="#fa553b" d="M560.3,867.1L620.2,875.8L619.6,875.7L561.3,867z"/>
<path color="#e7432c" d="M570.1,816.3L625.3,824.5L626,824.4L569.2,816.2z"/>
<path color="#e7432c" d="M569.2,816.2L626,824.4L626.5,825.5L568,817.3z"/>
<path color="#ea462e" d="M568,817.3L626.5,825.5L626.9,827.7L566.7,819.4z"/>
<path color="#f9553a" d="M566.7,819.4L626.9,827.7L627.1,830.9L565.4,822.5z"/>
<path color="#ff5b3f" d="M565.4,822.5L627.1,830.9L627.1,834.9L564,826.5z"/>
<path color="#ff5b3f" d="M564,826.5L627.1,834.9L626.9,839.6L562.7,831.1z"/>
<path color="#ff5e42" d="M562.7,831.1L626.9,839.6L626.5,844.8L561.5,836.3z"/>
<path color="#ff644a" d="M561.5,836.3L626.5,844.8L626,850.2L560.5,841.6z"/>
<path color="#ff684d" d="M560.5,841.6L626,850.2L625.3,855.6L559.7,847z"/>
<path color="#ff684d" d="M497.1,664.4L555.9,675.1L555.4,680.3L496.8,669.5z"/>
<path color="#ff684d" d="M496.8,669.5L555.4,680.3L555.1,685.2L497.1,674.4z"/>
<path color="#ff684d" d="M497.1,674.4L555.1,685.2L555.1,689.4L497.9,678.6z"/>
<path color="#ff6348" d="M497.9,678.6L555.1,689.4L555.4,692.8L499.3,682z"/>
<path color="#fd593d" d="M499.3,682L555.4,692.8L556,695.3L501.2,684.5z"/>
<path color="#fa563b" d="M501.2,684.5L556,695.3L556.9,696.7L503.5,686z"/>
<path color="#fa553b" d="M503.5,686L556.9,696.7L558,697.1L506,686.4z"/>
<path color="#f44f36" d="M517.1,636.4L567,646.3L566,645.9L514.6,636z"/>
<path color="#f45036" d="M514.6,636L566,645.9L564.7,646.6L511.8,636.6z"/>
<path color="#f85439" d="M511.8,636.6L564.7,646.6L563.3,648.4L509,638.3z"/>
<path color="#fe5a3e" d="M509,638.3L563.3,648.4L561.9,651.2L506.3,641z"/>
<path color="#ff5b3f" d="M506.3,641L561.9,651.2L560.5,654.9L503.7,644.6z"/>
<path color="#ff5b3f" d="M503.7,644.6L560.5,654.9L559.1,659.4L501.4,648.9z"/>
<path color="#ff5f44" d="M501.4,648.9L559.1,659.4L557.8,664.4L499.4,653.8z"/>
<path color="#ff664b" d="M499.4,653.8L557.8,664.4L556.8,669.7L498,659z"/>
<path color="#ff684d" d="M498,659L556.8,669.7L555.9,675.1L497.1,664.4z"/>
<path color="#ff684d" d="M682.5,516.5L735.9,521.6L735,526.9L681.6,521.8z"/>
<path color="#ff684d" d="M681.6,521.8L735,526.9L733.3,531.9L680.3,526.9z"/>
<path color="#ff684d" d="M680.3,526.9L733.3,531.9L731.2,536.4L678.7,531.3z"/>
<path color="#ff684d" d="M678.7,531.3L731.2,536.4L728.5,540.1L676.9,535.1z"/>
<path color="#ff5e42" d="M676.9,535.1L728.5,540.1L725.4,543L674.8,537.9z"/>
<path color="#fc583d" d="M674.8,537.9L725.4,543L722.1,544.8L672.7,539.7z"/>
<path color="#fa553b" d="M672.7,539.7L722.1,544.8L718.8,545.5L670.7,540.3z"/>
<path color="#fa553b" d="M670.7,540.3L718.8,545.5L715.5,545.1L668.7,539.9z"/>
<path color="#f65137" d="M675.3,488.7L721.2,494.2L724.5,494.6L677.3,489z"/>
<path color="#f75238" d="M677.3,489L724.5,494.6L727.6,496L679.1,490.5z"/>
<path color="#fc573c" d="M679.1,490.5L727.6,496L730.4,498.5L680.7,493z"/>
<path color="#ff5b3f" d="M680.7,493L730.4,498.5L732.7,501.9L681.9,496.5z"/>
<path color="#ff5b3f" d="M681.9,496.5L732.7,501.9L734.5,506.1L682.7,500.8z"/>
<path color="#ff5b3f" d="M682.7,500.8L734.5,506.1L735.7,510.9L683.1,505.7z"/>
<path color="#ff5e43" d="M683.1,505.7L735.7,510.9L736.2,516.2L683,511z"/>
<path color="#ff654a" d="M683,511L736.2,516.2L735.9,521.6L682.5,516.5z"/>
<path color="#ff684d" d="M446.1,310.1L490.1,317.1L489.8,322.5L446,315.4z"/>
<path color="#ff684d" d="M446,315.4L489.8,322.5L490.1,327.7L446.8,320.6z"/>
<path color="#ff684d" d="M446.8,320.6L490.1,327.7L491.1,332.4L448.5,325.2z"/>
<path color="#ff674d" d="M448.5,325.2L491.1,332.4L492.6,336.4L450.8,329.2z"/>
<path color="#fe5c40" d="M450.8,329.2L492.6,336.4L494.6,339.6L453.8,332.3z"/>
<path color="#fb563b" d="M453.8,332.3L494.6,339.6L497.1,341.7L457.3,334.5z"/>
<path color="#fa553b" d="M457.3,334.5L497.1,341.7L499.8,342.8L461.1,335.6z"/>
<path color="#f65137" d="M469.4,284.6L508.4,291.3L505.5,291.2L465.5,284.6z"/>
<path color="#f85439" d="M465.5,284.6L505.5,291.2L502.5,292.3L461.5,285.7z"/>
<path color="#ff5b3f" d="M461.5,285.7L502.5,292.3L499.6,294.5L457.6,287.8z"/>
<path color="#ff5b3f" d="M457.6,287.8L499.6,294.5L496.9,297.7L454.1,290.9z"/>
<path color="#ff5b3f" d="M454.1,290.9L496.9,297.7L494.5,301.7L451,294.9z"/>
<path color="#ff5f43" d="M451,294.9L494.5,301.7L492.5,306.4L448.6,299.6z"/>
<path color="#ff654a" d="M448.6,299.6L492.5,306.4L491,311.6L446.9,304.7z"/>
<path color="#ff684d" d="M446.9,304.7L491,311.6L490.1,317.1L446.1,310.1z"/>
<path color="#ff684d" d="M621.9,683.7L685.2,689.5L684.3,694.8L621.1,689z"/>
<path color="#ff684d" d="M621.1,689L684.3,694.8L683,699.6L620.2,693.9z"/>
<path color="#ff684d" d="M620.2,693.9L683,699.6L681.4,703.9L619.4,698.1z"/>
<path color="#ff664c" d="M619.4,698.1L681.4,703.9L679.5,707.4L618.5,701.5z"/>
<path color="#fe5b3f" d="M618.5,701.5L679.5,707.4L677.4,709.9L617.8,704z"/>
<path color="#fb563b" d="M617.8,704L677.4,709.9L675.3,711.3L617.1,705.4z"/>
<path color="#fa553b" d="M617.1,705.4L675.3,711.3L673.1,711.6L616.5,705.7z"/>
<path color="#f34e35" d="M623.1,654.1L677.6,660.1L679.7,660.8L623.5,654.9z"/>
<path color="#f55036" d="M623.5,654.9L679.7,660.8L681.5,662.6L623.8,656.7z"/>
<path color="#fb573c" d="M623.8,656.7L681.5,662.6L683.1,665.4L623.9,659.6z"/>
<path color="#ff5b3f" d="M623.9,659.6L683.1,665.4L684.4,669.2L623.8,663.3z"/>
<path color="#ff5b3f" d="M623.8,663.3L684.4,669.2L685.3,673.7L623.5,667.9z"/>
<path color="#ff5c40" d="M623.5,667.9L685.3,673.7L685.7,678.7L623.1,672.9z"/>
<path color="#ff6146" d="M623.1,672.9L685.7,678.7L685.7,684L622.5,678.3z"/>
<path color="#ff674d" d="M622.5,678.3L685.7,684L685.2,689.5L621.9,683.7z"/>
<path color="#ff654b" d="M732.5,172.4L772.9,181.3L771.9,186.7L731.5,177.9z"/>
<path color="#ff684d" d="M731.5,177.9L771.9,186.7L770.1,191.8L729.9,183.2z"/>
<path color="#ff684d" d="M729.9,183.2L770.1,191.8L767.6,196.6L727.8,188z"/>
<path color="#ff684d" d="M727.8,188L767.6,196.6L764.4,200.7L725.1,192.3z"/>
<path color="#ff684d" d="M725.1,192.3L764.4,200.7L760.7,204L722.1,195.6z"/>
<path color="#ff5d41" d="M722.1,195.6L760.7,204L756.6,206.3L718.9,198.1z"/>
<path color="#fd583d" d="M718.9,198.1L756.6,206.3L752.4,207.6L715.6,199.4z"/>
<path color="#fa563b" d="M715.6,199.4L752.4,207.6L748.2,207.8L712.4,199.6z"/>
<path color="#fa553b" d="M712.4,199.6L748.2,207.8L744.3,206.8L709.4,198.7z"/>
<path color="#f65137" d="M721.5,147.6L757.1,156.6L761.1,157.5L724.6,148.5z"/>
<path color="#f75238" d="M724.6,148.5L761.1,157.5L764.8,159.5L727.3,150.4z"/>
<path color="#fb573c" d="M727.3,150.4L764.8,159.5L767.9,162.4L729.5,153.4z"/>
<path color="#ff5b3f" d="M729.5,153.4L767.9,162.4L770.4,166.3L731.3,157.3z"/>
<path color="#ff5b3f" d="M731.3,157.3L770.4,166.3L772.1,170.9L732.4,161.9z"/>
<path color="#ff5b3f" d="M732.4,161.9L772.1,170.9L772.9,175.9L732.8,167z"/>
<path color="#ff5f43" d="M732.8,167L772.9,175.9L772.9,181.3L732.5,172.4z"/>
<path color="#ff684d" d="M555.9,675.1L621.9,683.7L621.1,689L555.4,680.3z"/>
<path color="#ff684d" d="M555.4,680.3L621.1,689L620.2,693.9L555.1,685.2z"/>
<path color="#ff684d" d="M555.1,685.2L620.2,693.9L619.4,698.1L555.1,689.4z"/>
<path color="#ff664b" d="M555.1,689.4L619.4,698.1L618.5,701.5L555.4,692.8z"/>
<path color="#fe5a3e" d="M555.4,692.8L618.5,701.5L617.8,704L556,695.3z"/>
<path color="#fa563b" d="M556,695.3L617.8,704L617.1,705.4L556.9,696.7z"/>
<path color="#fa553b" d="M556.9,696.7L617.1,705.4L616.5,705.7L558,697.1z"/>
<path color="#f34f35" d="M566,645.9L623.1,654.1L623.5,654.9L564.7,646.6z"/>
<path color="#f65238" d="M564.7,646.6L623.5,654.9L623.8,656.7L563.3,648.4z"/>
<path color="#fd593d" d="M563.3,648.4L623.8,656.7L623.9,659.6L561.9,651.2z"/>
<path color="#ff5b3f" d="M561.9,651.2L623.9,659.6L623.8,663.3L560.5,654.9z"/>
<path color="#ff5b3f" d="M560.5,654.9L623.8,663.3L623.5,667.9L559.1,659.4z"/>
<path color="#ff5c40" d="M559.1,659.4L623.5,667.9L623.1,672.9L557.8,664.4z"/>
<path color="#ff6247" d="M557.8,664.4L623.1,672.9L622.5,678.3L556.8,669.7z"/>
<path color="#ff684d" d="M556.8,669.7L622.5,678.3L621.9,683.7L555.9,675.1z"/>
<path color="#ff684d" d="M493.6,491.7L552.2,501.1L551.6,506.4L493.3,497z"/>
<path color="#ff684d" d="M493.3,497L551.6,506.4L551.4,511.5L493.6,502z"/>
<path color="#ff684d" d="M493.6,502L551.4,511.5L551.4,515.9L494.5,506.5z"/>
<path color="#ff674c" d="M494.5,506.5L551.4,515.9L551.8,519.7L496,510.2z"/>
<path color="#fe5b3f" d="M496,510.2L551.8,519.7L552.5,522.5L497.9,513.1z"/>
<path color="#fb563b" d="M497.9,513.1L552.5,522.5L553.5,524.3L500.3,514.9z"/>
<path color="#fa553b" d="M500.3,514.9L553.5,524.3L554.7,525L502.9,515.6z"/>
<path color="#f65138" d="M511.5,464.6L562.7,473.4L561.4,473.7L508.7,464.9z"/>
<path color="#f9543a" d="M508.7,464.9L561.4,473.7L559.9,475.2L505.8,466.3z"/>
<path color="#ff5b3f" d="M505.8,466.3L559.9,475.2L558.4,477.7L502.9,468.7z"/>
<path color="#ff5b3f" d="M502.9,468.7L558.4,477.7L556.9,481.2L500.3,472.1z"/>
<path color="#ff5b3f" d="M500.3,472.1L556.9,481.2L555.4,485.5L497.9,476.3z"/>
<path color="#ff5d42" d="M497.9,476.3L555.4,485.5L554.1,490.3L495.9,481.1z"/>
<path color="#ff6449" d="M495.9,481.1L554.1,490.3L553,495.6L494.5,486.3z"/>
<path color="#ff684d" d="M494.5,486.3L553,495.6L552.2,501.1L493.6,491.7z"/>
<path color="#ff684d" d="M443.1,139L486.5,142.7L486.3,148.2L443.1,144.5z"/>
<path color="#ff684d" d="M443.1,144.5L486.3,148.2L486.6,153.6L444,149.8z"/>
<path color="#ff684d" d="M444,149.8L486.6,153.6L487.6,158.6L445.6,154.6z"/>
<path color="#ff684d" d="M445.6,154.6L487.6,158.6L489.2,162.9L448,158.9z"/>
<path color="#ff6145" d="M448,158.9L489.2,162.9L491.3,166.3L451.1,162.3z"/>
<path color="#fc583d" d="M451.1,162.3L491.3,166.3L493.9,168.8L454.6,164.7z"/>
<path color="#fa553b" d="M454.6,164.7L493.9,168.8L496.7,170.2L458.5,166z"/>
<path color="#f65137" d="M466.9,114.4L505.4,118.2L502.4,117.8L462.8,114.1z"/>
<path color="#f75238" d="M462.8,114.1L502.4,117.8L499.3,118.6L458.7,115z"/>
<path color="#fc583d" d="M458.7,115L499.3,118.6L496.3,120.5L454.8,116.9z"/>
<path color="#ff5b3f" d="M454.8,116.9L496.3,120.5L493.5,123.5L451.2,119.9z"/>
<path color="#ff5b3f" d="M451.2,119.9L493.5,123.5L491,127.4L448.2,123.8z"/>
<path color="#ff5c41" d="M448.2,123.8L491,127.4L489,132L445.7,128.4z"/>
<path color="#ff6347" d="M445.7,128.4L489,132L487.5,137.2L444,133.5z"/>
<path color="#ff684d" d="M444,133.5L487.5,137.2L486.5,142.7L443.1,139z"/>
<path color="#ff684d" d="M679.8,341L734.2,348.2L733.3,353.6L678.9,346.5z"/>
<path color="#ff684d" d="M678.9,346.5L733.3,353.6L731.7,358.8L677.6,351.7z"/>
<path color="#ff684d" d="M677.6,351.7L731.7,358.8L729.5,363.5L676,356.4z"/>
<path color="#ff684d" d="M676,356.4L729.5,363.5L726.8,367.4L674.2,360.4z"/>
<path color="#ff6348" d="M674.2,360.4L726.8,367.4L723.8,370.5L672.2,363.5z"/>
<path color="#fe5a3e" d="M672.2,363.5L723.8,370.5L720.6,372.6L670.2,365.7z"/>
<path color="#fa563b" d="M670.2,365.7L720.6,372.6L717.2,373.7L668.2,366.7z"/>
<path color="#fa553b" d="M668.2,366.7L717.2,373.7L714,373.6L666.3,366.6z"/>
<path color="#f65138" d="M674.9,314.8L723,322.3L726.1,323.5L676.6,316z"/>
<path color="#f9553a" d="M676.6,316L726.1,323.5L728.9,325.7L678.1,318.2z"/>
<path color="#ff5b3f" d="M678.1,318.2L728.9,325.7L731.2,328.9L679.3,321.4z"/>
<path color="#ff5b3f" d="M679.3,321.4L731.2,328.9L732.9,332.9L680,325.5z"/>
<path color="#ff5b3f" d="M680,325.5L732.9,332.9L734.1,337.7L680.4,330.3z"/>
<path color="#ff5c41" d="M680.4,330.3L734.1,337.7L734.5,342.8L680.3,335.5z"/>
<path color="#ff6348" d="M680.3,335.5L734.5,342.8L734.2,348.2L679.8,341z"/>
<path color="#ff684d" d="M618.4,509.5L682.5,516.5L681.6,521.8L617.6,514.9z"/>
<path color="#ff684d" d="M617.6,514.9L681.6,521.8L680.3,526.9L616.8,520z"/>
<path color="#ff684d" d="M616.8,520L680.3,526.9L678.7,531.3L616,524.5z"/>
<path color="#ff684d" d="M616,524.5L678.7,531.3L676.9,535.1L615.2,528.2z"/>
<path color="#ff5e42" d="M615.2,528.2L676.9,535.1L674.8,537.9L614.5,531z"/>
<path color="#fc573c" d="M614.5,531L674.8,537.9L672.7,539.7L613.9,532.8z"/>
<path color="#fa553b" d="M613.9,532.8L672.7,539.7L670.7,540.3L613.4,533.4z"/>
<path color="#f65137" d="M620.1,481.6L675.3,488.7L677.3,489L620.4,482z"/>
<path color="#f75238" d="M620.4,482L677.3,489L679.1,490.5L620.6,483.5z"/>
<path color="#fd593d" d="M620.6,483.5L679.1,490.5L680.7,493L620.6,486z"/>
<path color="#ff5b3f" d="M620.6,486L680.7,493L681.9,496.5L620.5,489.5z"/>
<path color="#ff5b3f" d="M620.5,489.5L681.9,496.5L682.7,500.8L620.2,493.8z"/>
<path color="#ff5b3f" d="M620.2,493.8L682.7,500.8L683.1,505.7L619.7,498.8z"/>
<path color="#ff5f43" d="M619.7,498.8L683.1,505.7L683,511L619.1,504.1z"/>
<path color="#ff664b" d="M619.1,504.1L683,511L682.5,516.5L618.4,509.5z"/>
<path color="#ff684d" d="M552.2,501.1L618.4,509.5L617.6,514.9L551.6,506.4z"/>
<path color="#ff684d" d="M551.6,506.4L617.6,514.9L616.8,520L551.4,511.5z"/>
<path color="#ff684d" d="M551.4,511.5L616.8,520L616,524.5L551.4,515.9z"/>
<path color="#ff684d" d="M551.4,515.9L616,524.5L615.2,528.2L551.8,519.7z"/>
<path color="#ff5d42" d="M551.8,519.7L615.2,528.2L614.5,531L552.5,522.5z"/>
<path color="#fb573c" d="M552.5,522.5L614.5,531L613.9,532.8L553.5,524.3z"/>
<path color="#fa553b" d="M553.5,524.3L613.9,532.8L613.4,533.4L554.7,525z"/>
<path color="#f65137" d="M562.7,473.4L620.1,481.6L620.4,482L561.4,473.7z"/>
<path color="#f85339" d="M561.4,473.7L620.4,482L620.6,483.5L559.9,475.2z"/>
<path color="#fe5a3e" d="M559.9,475.2L620.6,483.5L620.6,486L558.4,477.7z"/>
<path color="#ff5b3f" d="M558.4,477.7L620.6,486L620.5,489.5L556.9,481.2z"/>
<path color="#ff5b3f" d="M556.9,481.2L620.5,489.5L620.2,493.8L555.4,485.5z"/>
<path color="#ff5b3f" d="M555.4,485.5L620.2,493.8L619.7,498.8L554.1,490.3z"/>
<path color="#ff6045" d="M554.1,490.3L619.7,498.8L619.1,504.1L553,495.6z"/>
<path color="#ff674c" d="M553,495.6L619.1,504.1L618.4,509.5L552.2,501.1z"/>
<path color="#ff684d" d="M490.1,317.1L548.4,324.9L547.8,330.4L489.8,322.5z"/>
<path color="#ff684d" d="M489.8,322.5L547.8,330.4L547.6,335.6L490.1,327.7z"/>
<path color="#ff684d" d="M490.1,327.7L547.6,335.6L547.7,340.3L491.1,332.4z"/>
<path color="#ff684d" d="M491.1,332.4L547.7,340.3L548.2,344.4L492.6,336.4z"/>
<path color="#ff5f43" d="M492.6,336.4L548.2,344.4L549,347.5L494.6,339.6z"/>
<path color="#fc573c" d="M494.6,339.6L549,347.5L550,349.7L497.1,341.7z"/>
<path color="#fa553b" d="M497.1,341.7L550,349.7L551.3,350.8L499.8,342.8z"/>
<path color="#f65137" d="M508.4,291.3L559.4,298.8L558,298.8L505.5,291.2z"/>
<path color="#f75338" d="M505.5,291.2L558,298.8L556.4,299.9L502.5,292.3z"/>
<path color="#fd593d" d="M502.5,292.3L556.4,299.9L554.8,302.1L499.6,294.5z"/>
<path color="#ff5b3f" d="M499.6,294.5L554.8,302.1L553.2,305.3L496.9,297.7z"/>
<path color="#ff5b3f" d="M496.9,297.7L553.2,305.3L551.7,309.4L494.5,301.7z"/>
<path color="#ff5c40" d="M494.5,301.7L551.7,309.4L550.4,314.2L492.5,306.4z"/>
<path color="#ff6246" d="M492.5,306.4L550.4,314.2L549.2,319.4L491,311.6z"/>
<path color="#ff674d" d="M491,311.6L549.2,319.4L548.4,324.9L490.1,317.1z"/>
<path color="#ff674c" d="M677,163.1L732.5,172.4L731.5,177.9L676,168.7z"/>
<path color="#ff684d" d="M676,168.7L731.5,177.9L729.9,183.2L674.8,174z"/>
<path color="#ff684d" d="M674.8,174L729.9,183.2L727.8,188L673.2,179z"/>
<path color="#ff684d" d="M673.2,179L727.8,188L725.1,192.3L671.5,183.3z"/>
<path color="#ff674d" d="M671.5,183.3L725.1,192.3L722.1,195.6L669.5,186.8z"/>
<path color="#ff5c40" d="M669.5,186.8L722.1,195.6L718.9,198.1L667.6,189.2z"/>
<path color="#fb573c" d="M667.6,189.2L718.9,198.1L715.6,199.4L665.6,190.7z"/>
<path color="#fa553b" d="M665.6,190.7L715.6,199.4L712.4,199.6L663.8,190.9z"/>
<path color="#f65137" d="M672.4,138.3L721.5,147.6L724.6,148.5L674.1,139z"/>
<path color="#f85339" d="M674.1,139L724.6,148.5L727.3,150.4L675.5,141z"/>
<path color="#fd593e" d="M675.5,141L727.3,150.4L729.5,153.4L676.6,143.9z"/>
<path color="#ff5b3f" d="M676.6,143.9L729.5,153.4L731.3,157.3L677.3,147.8z"/>
<path color="#ff5b3f" d="M677.3,147.8L731.3,157.3L732.4,161.9L677.6,152.4z"/>
<path color="#ff5b3f" d="M677.6,152.4L732.4,161.9L732.8,167L677.5,157.6z"/>
<path color="#ff6045" d="M677.5,157.6L732.8,167L732.5,172.4L677,163.1z"/>
<path color="#ff684d" d="M614.8,333.1L679.8,341L678.9,346.5L614.1,338.5z"/>
<path color="#ff684d" d="M614.1,338.5L678.9,346.5L677.6,351.7L613.3,343.8z"/>
<path color="#ff684d" d="M613.3,343.8L677.6,351.7L676,356.4L612.5,348.5z"/>
<path color="#ff684d" d="M612.5,348.5L676,356.4L674.2,360.4L611.8,352.6z"/>
<path color="#ff6247" d="M611.8,352.6L674.2,360.4L672.2,363.5L611.1,355.7z"/>
<path color="#fd593d" d="M611.1,355.7L672.2,363.5L670.2,365.7L610.6,357.9z"/>
<path color="#fa563b" d="M610.6,357.9L670.2,365.7L668.2,366.7L610.2,358.9z"/>
<path color="#fa553b" d="M610.2,358.9L668.2,366.7L666.3,366.6L610,358.8z"/>
<path color="#f65137" d="M617,306.8L673,314.8L674.9,314.8L617.3,306.8z"/>
<path color="#f65238" d="M617.3,306.8L674.9,314.8L676.6,316L617.4,307.9z"/>
<path color="#fa563b" d="M617.4,307.9L676.6,316L678.1,318.2L617.3,310.2z"/>
<path color="#ff5b3f" d="M617.3,310.2L678.1,318.2L679.3,321.4L617.1,313.4z"/>
<path color="#ff5b3f" d="M617.1,313.4L679.3,321.4L680,325.5L616.7,317.5z"/>
<path color="#ff5b3f" d="M616.7,317.5L680,325.5L680.4,330.3L616.2,322.3z"/>
<path color="#ff5d41" d="M616.2,322.3L680.4,330.3L680.3,335.5L615.6,327.6z"/>
<path color="#ff6449" d="M615.6,327.6L680.3,335.5L679.8,341L614.8,333.1z"/>
<path color="#ff684d" d="M548.4,324.9L614.8,333.1L614.1,338.5L547.8,330.4z"/>
<path color="#ff684d" d="M547.8,330.4L614.1,338.5L613.3,343.8L547.6,335.6z"/>
<path color="#ff684d" d="M547.6,335.6L613.3,343.8L612.5,348.5L547.7,340.3z"/>
<path color="#ff684d" d="M547.7,340.3L612.5,348.5L611.8,352.6L548.2,344.4z"/>
<path color="#ff6146" d="M548.2,344.4L611.8,352.6L611.1,355.7L549,347.5z"/>
<path color="#fc583d" d="M549,347.5L611.1,355.7L610.6,357.9L550,349.7z"/>
<path color="#fa553b" d="M550,349.7L610.6,357.9L610.2,358.9L551.3,350.8z"/>
<path color="#f65137" d="M559.4,298.8L617,306.8L617.3,306.8L558,298.8z"/>
<path color="#f75238" d="M558,298.8L617.3,306.8L617.4,307.9L556.4,299.9z"/>
<path color="#fc583c" d="M556.4,299.9L617.4,307.9L617.3,310.2L554.8,302.1z"/>
<path color="#ff5b3f" d="M554.8,302.1L617.3,310.2L617.1,313.4L553.2,305.3z"/>
<path color="#ff5b3f" d="M553.2,305.3L617.1,313.4L616.7,317.5L551.7,309.4z"/>
<path color="#ff5b3f" d="M551.7,309.4L616.7,317.5L616.2,322.3L550.4,314.2z"/>
<path color="#ff5e43" d="M550.4,314.2L616.2,322.3L615.6,327.6L549.2,319.4z"/>
<path color="#ff654a" d="M549.2,319.4L615.6,327.6L614.8,333.1L548.4,324.9z"/>
<path color="#ff684d" d="M486.5,142.7L544.6,147.8L544,153.4L486.3,148.2z"/>
<path color="#ff684d" d="M486.3,148.2L544,153.4L543.8,158.8L486.6,153.6z"/>
<path color="#ff684d" d="M486.6,153.6L543.8,158.8L544,163.8L487.6,158.6z"/>
<path color="#ff684d" d="M487.6,158.6L544,163.8L544.5,168.2L489.2,162.9z"/>
<path color="#ff6348" d="M489.2,162.9L544.5,168.2L545.4,171.7L491.3,166.3z"/>
<path color="#fd593d" d="M491.3,166.3L545.4,171.7L546.5,174.2L493.9,168.8z"/>
<path color="#fa563b" d="M493.9,168.8L546.5,174.2L547.9,175.7L496.7,170.2z"/>
<path color="#fa553b" d="M496.7,170.2L547.9,175.7L549.4,176L499.7,170.5z"/>
<path color="#f65137" d="M505.4,118.2L556.2,123.3L554.6,122.9L502.4,117.8z"/>
<path color="#f75238" d="M502.4,117.8L554.6,122.9L553,123.7L499.3,118.6z"/>
<path color="#fb563b" d="M499.3,118.6L553,123.7L551.3,125.6L496.3,120.5z"/>
<path color="#ff5b3f" d="M496.3,120.5L551.3,125.6L549.6,128.5L493.5,123.5z"/>
<path color="#ff5b3f" d="M493.5,123.5L549.6,128.5L548,132.4L491,127.4z"/>
<path color="#ff5b3f" d="M491,127.4L548,132.4L546.6,137.1L489,132z"/>
<path color="#ff5f44" d="M489,132L546.6,137.1L545.4,142.3L487.5,137.2z"/>
<path color="#ff664b" d="M487.5,137.2L545.4,142.3L544.6,147.8L486.5,142.7z"/>
<path color="#ff674d" d="M611.3,154.5L677,163.1L676,168.7L610.5,160.1z"/>
<path color="#ff684d" d="M610.5,160.1L676,168.7L674.8,174L609.7,165.5z"/>
<path color="#ff684d" d="M609.7,165.5L674.8,174L673.2,179L609,170.5z"/>
<path color="#ff684d" d="M609,170.5L673.2,179L671.5,183.3L608.3,174.9z"/>
<path color="#ff664c" d="M608.3,174.9L671.5,183.3L669.5,186.8L607.8,178.4z"/>
<path color="#fe5b3f" d="M607.8,178.4L669.5,186.8L667.6,189.2L607.3,180.9z"/>
<path color="#fb563b" d="M607.3,180.9L667.6,189.2L665.6,190.7L607,182.4z"/>
<path color="#fa553b" d="M607,182.4L665.6,190.7L663.8,190.9L606.9,182.6z"/>
<path color="#f65137" d="M614.1,129.6L672.4,138.3L674.1,139L614.1,130.4z"/>
<path color="#f95439" d="M614.1,130.4L674.1,139L675.5,141L614,132.2z"/>
<path color="#ff5b3f" d="M614,132.2L675.5,141L676.6,143.9L613.7,135.2z"/>
<path color="#ff5b3f" d="M613.7,135.2L676.6,143.9L677.3,147.8L613.2,139.1z"/>
<path color="#ff5b3f" d="M613.2,139.1L677.3,147.8L677.6,152.4L612.7,143.7z"/>
<path color="#ff5c40" d="M612.7,143.7L677.6,152.4L677.5,157.6L612,149z"/>
<path color="#ff6146" d="M612,149L677.5,157.6L677,163.1L611.3,154.5z"/>
<path color="#ff684d" d="M544.6,147.8L611.3,154.5L610.5,160.1L544,153.4z"/>
<path color="#ff684d" d="M544,153.4L610.5,160.1L609.7,165.5L543.8,158.8z"/>
<path color="#ff684d" d="M543.8,158.8L609.7,165.5L609,170.5L544,163.8z"/>
<path color="#ff684d" d="M544,163.8L609,170.5L608.3,174.9L544.5,168.2z"/>
<path color="#ff654a" d="M544.5,168.2L608.3,174.9L607.8,178.4L545.4,171.7z"/>
<path color="#fe5a3e" d="M545.4,171.7L607.8,178.4L607.3,180.9L546.5,174.2z"/>
<path color="#fa563b" d="M546.5,174.2L607.3,180.9L607,182.4L547.9,175.7z"/>
<path color="#fa553b" d="M547.9,175.7L607,182.4L606.9,182.6L549.4,176z"/>
<path color="#f65238" d="M554.6,122.9L614.1,129.6L614.1,130.4L553,123.7z"/>
<path color="#fa553a" d="M553,123.7L614.1,130.4L614,132.2L551.3,125.6z"/>
<path color="#ff5b3f" d="M551.3,125.6L614,132.2L613.7,135.2L549.6,128.5z"/>
<path color="#ff5b3f" d="M549.6,128.5L613.7,135.2L613.2,139.1L548,132.4z"/>
<path color="#ff5b3f" d="M548,132.4L613.2,139.1L612.7,143.7L546.6,137.1z"/>
<path color="#ff5d41" d="M546.6,137.1L612.7,143.7L612,149L545.4,142.3z"/>
<path color="#ff6348" d="M545.4,142.3L612,149L611.3,154.5L544.6,147.8z"/>
</g>
<g filter="url(#hb)">
<path d="M456,125.9L461.6,126.9L467.5,127.9L473.7,128.9L480.1,130L486.7,131.1L493.5,132.2L500.6,133.3L507.8,134.5L515.2,135.6L522.7,136.8L530.5,138.1L538.3,139.3L546.3,140.6L554.4,141.9L562.6,143.2L570.8,144.5L579.2,145.9L587.6,147.3L596,148.7L604.4,150.1L612.9,151.6L621.3,153L629.7,154.6L625,179.7L617,178.7L609,177.7L601,176.7L593,175.8L584.9,174.8L576.9,173.9L569,173L561.1,172.1L553.2,171.2L545.4,170.3L537.8,169.5L530.2,168.7L522.7,167.9L515.4,167.1L508.2,166.3L501.2,165.5L494.3,164.8L487.6,164L481,163.3L474.7,162.6L468.6,161.9L462.6,161.3L456.9,160.6z" fill="url(#gl0)"/>
<path d="M562.4,147.5L571.1,148.3L579.9,149.2L588.7,150.1L597.6,151.1L606.5,152L615.4,153L624.2,154L633.1,155.2L641.8,155.9L650.5,156.6L659,157.3L667.5,158.1L675.8,158.8L683.9,159.6L691.8,160.4L699.6,161.2L707.1,162.1L714.4,163L721.4,163.8L728.2,164.5L734.7,165.2L741,166.5L746.9,167.7L752.5,169L757.8,170.3L762.8,171.6L767.4,172.9L771.7,174.2L775.6,175.5C787,176.7 793.1,180 793.1,188.5C793.1,197 787,200.5 775.6,199.9L775.6,199.9L771.7,198.7L767.4,197.5L762.8,196.4L757.8,195.2L752.5,194.1L746.9,192.9L741,191.8L734.7,190.6L728.2,189.9L721.4,189.2L714.4,188.4L707.1,187.5L699.6,186.6L691.8,185.8L683.9,185L675.8,184.1L667.5,183.4L659,182.6L650.5,181.8L641.8,181.1L633.1,180.3L624.2,179L615.4,177.8L606.5,176.7L597.6,175.5L588.7,174.4L579.9,173.4L571.1,172.3L562.4,171.3z" fill="url(#gr0)"/>
<path d="M415.1,285.8L417.9,287.2L420.9,288.5L424.2,289.8L427.9,291.1L431.8,292.4L435.9,293.6L440.3,294.8L445,296.1L449.9,297.3L455,298.5L460.3,299.7L465.8,301L471.5,302.3L477.5,303.6L483.6,304.9L489.9,306.2L496.3,307.5L503,308.8L509.8,310.1L516.7,311.4L523.8,312.8L531,314.1L538.4,315.4L545.8,316.7L553.3,318L560.9,319.3L568.6,320.7L576.4,322L584.2,323.3L592,324.7L599.9,326L607.7,327.3L615.6,328.6L623.4,330L631.3,331.2L639.2,331.9L647,332.7L654.7,333.4L662.4,334.2L669.9,334.9L677.4,335.7L684.8,336.4L692,337.2L685.7,361.6L678.6,360.9L671.3,360.2L664,359.5L656.7,358.8L649.2,358.1L641.7,357.4L634.2,356.7L626.7,356L619.2,355.1L611.6,354L604.1,353L596.6,352L589.1,350.9L581.6,349.9L574.1,348.9L566.6,347.8L559.2,346.8L551.9,345.7L544.6,344.6L537.4,343.5L530.3,342.4L523.3,341.3L516.4,340.2L509.6,339.1L502.9,337.9L496.4,336.8L490,335.7L483.7,334.5L477.7,333.4L471.7,332.2L466,331.1L460.4,329.9L454.9,328.5L449.6,327.2L444.5,325.8L439.6,324.4L434.9,323L430.4,321.6L426.1,320.1L422,318.7L418.2,317.1L414.6,315.6L411.2,313.9C406.2,310.9 407.1,315.1 403.1,312.6C400.1,309.6 398.6,303.6 398.6,297.6C398.6,291.6 398.6,287.1 402.1,286.1C408.1,285.1 409.1,283.8 415.1,285.8z" fill="url(#gl1)"/>
<path d="M404.6,288.6C400.6,289.6 400.8,292.6 400.8,297.6C400.8,303.6 402.1,307.1 404.6,310.1C408.1,313.1 406.2,308.9 411.2,311.4L414.6,313.1L418.2,314.6L422,316.2L426.1,317.6L430.4,319.1L434.9,320.5L439.6,321.9L444.5,323.3L449.6,324.7L454.9,326L460.4,327.4" fill="none" stroke="url(#gl1c)" stroke-width="4.5" stroke-linecap="round" stroke-linejoin="round"/>
<path d="M562.7,322.7L571.3,323.8L580,324.9L588.8,326L597.6,327.1L606.5,328.2L615.3,329.4L624.1,330.5L632.9,331.6L641.6,332.2L650.2,332.7L658.7,333.3L667.1,333.8L675.3,334.4L683.4,334.9L691.3,335.5L699,336L706.4,336.6L713.7,337.1L720.7,337.6L727.5,338.2L733.9,338.8L740.1,339.9L746,341L751.6,342.1L756.9,343.2L761.8,344.3L766.4,345.3L770.7,346.4L774.6,347.5C785.8,348.7 791.8,351.9 791.8,360.4C791.8,368.9 785.8,372.3 774.6,371.7L774.6,371.7L770.7,370.8L766.4,369.8L761.8,368.9L756.9,368L751.6,367L746,366L740.1,365L733.9,364.1L727.5,363.5L720.7,362.9L713.7,362.4L706.4,361.8L699,361.3L691.3,360.7L683.4,360.1L675.3,359.6L667.1,359L658.7,358.4L650.2,357.8L641.6,357.2L632.9,356.5L624.1,355.3L615.3,354L606.5,352.7L597.6,351.5L588.8,350.2L580,348.9L571.3,347.6L562.7,346.3z" fill="url(#gr1)"/>
<path d="M418.7,451.6L421.2,453.5L424.1,455.3L427.2,457.1L430.7,458.8L434.4,460.5L438.4,462.2L442.7,463.9L447.2,465.5L452,467.1L457,468.7L462.3,470.3L467.7,471.9L473.3,473.5L479.1,475.2L485.1,476.8L491.3,478.4L497.7,480L504.3,481.5L511,483.1L517.8,484.6L524.8,486.1L532,487.6L539.2,489.1L546.6,490.6L554,492L561.6,493.5L569.2,494.9L576.9,496.3L584.6,497.7L592.4,499L600.1,500.3L607.9,501.7L615.7,503L623.5,504.2L631.3,505.4L639.1,506L646.9,506.7L654.5,507.3L662.1,507.9L669.6,508.5L677,509L684.3,509.5L691.5,510L685.9,534.4L678.8,533.9L671.6,533.4L664.2,532.9L656.9,532.4L649.4,531.8L641.9,531.2L634.4,530.6L626.8,530L619.3,529.1L611.8,528.1L604.3,527.1L596.8,526.1L589.2,525L581.7,523.9L574.2,522.8L566.8,521.7L559.4,520.6L552.1,519.4L544.8,518.2L537.6,517L530.5,515.7L523.4,514.4L516.5,513.1L509.7,511.7L503,510.3L496.5,509L490.1,507.5L483.8,506.1L477.7,504.6L471.8,503.2L466,501.7L460.4,500.1L454.9,498.3L449.6,496.6L444.5,494.8L439.6,493L434.9,491.1L430.4,489.2L426.1,487.2L422,485.2L418.2,483.1L414.5,480.9L411.2,478.7C406.2,475.7 408.3,477.8 404.3,475.3C401.3,472.3 399.8,466.3 399.8,460.3C399.8,454.3 399.8,449.8 403.3,448.8C409.3,447.8 412.7,449.6 418.7,451.6z" fill="url(#gl2)"/>
<path d="M405.8,451.3C401.8,452.3 402,455.3 402,460.3C402,466.3 403.3,469.8 405.8,472.8C409.3,475.8 406.2,473.7 411.2,476.2L414.5,478.4L418.2,480.6L422,482.7L426.1,484.7L430.4,486.7L434.9,488.6L439.6,490.5L444.5,492.3L449.6,494.1L454.9,495.8L460.4,497.6" fill="none" stroke="url(#gl2c)" stroke-width="4.5" stroke-linecap="round" stroke-linejoin="round"/>
<path d="M562.9,496.7L571.5,497.9L580.2,499.1L588.9,500.3L597.7,501.4L606.5,502.5L615.2,503.6L624,504.7L632.7,505.7L641.3,506.2L649.9,506.6L658.3,507L666.7,507.4L674.9,507.7L682.9,508L690.7,508.3L698.4,508.6L705.8,508.8L713,509L720,509.2L726.7,509.7L733.1,510.3L739.3,511.3L745.1,512.3L750.7,513.2L755.9,514.2L760.8,515.1L765.4,515.9L769.6,516.8L773.5,517.7C784.6,518.9 790.6,522 790.6,530.5C790.6,539 784.6,542.4 773.5,541.8L773.5,541.8L769.6,541L765.4,540.3L760.8,539.5L755.9,538.8L750.7,538L745.1,537.1L739.3,536.3L733.1,535.4L726.7,534.9L720,534.3L713,534.1L705.8,533.9L698.4,533.7L690.7,533.4L682.9,533.1L674.9,532.7L666.7,532.3L658.3,531.9L649.9,531.5L641.3,531L632.7,530.5L624,529.3L615.2,528.1L606.5,526.9L597.7,525.6L588.9,524.3L580.2,523L571.5,521.6L562.9,520.2z" fill="url(#gr2)"/>
<path d="M422.2,615.9L424.5,618.1L427.2,620.3L430.2,622.5L433.5,624.7L437.1,626.8L441,628.9L445.1,630.9L449.5,632.9L454.2,634.9L459.1,636.9L464.2,638.8L469.5,640.8L475,642.7L480.8,644.7L486.7,646.6L492.8,648.4L499.1,650.3L505.5,652.1L512.2,653.9L519,655.6L525.9,657.3L532.9,659L540.1,660.6L547.4,662.2L554.8,663.8L562.2,665.4L569.8,666.9L577.4,668.3L585,669.7L592.7,671.1L600.4,672.5L608.2,673.8L615.9,675L623.6,676.2L631.3,677.3L639.1,677.9L646.7,678.4L654.3,678.9L661.9,679.3L669.3,679.7L676.6,680.1L683.8,680.4L690.9,680.7L686.1,705.1L679,704.8L671.7,704.5L664.4,704.2L657,703.8L649.6,703.4L642.1,702.9L634.6,702.4L627,701.8L619.5,701L612,700L604.5,699.1L596.9,698L589.4,697L581.9,695.9L574.4,694.7L567,693.5L559.6,692.3L552.2,691L545,689.7L537.8,688.3L530.7,686.8L523.6,685.4L516.7,683.8L509.9,682.3L503.2,680.7L496.7,679L490.3,677.3L484,675.6L477.9,673.8L472,672L466.2,670.2L460.6,668.3L455.1,666.1L449.8,664L444.7,661.8L439.8,659.5L435.1,657.2L430.6,654.8L426.3,652.4L422.3,649.9L418.5,647.3L415,644.6L411.7,641.8C406.7,638.8 409.6,638.3 405.6,635.8C402.6,632.8 401.1,626.8 401.1,620.8C401.1,614.8 401.1,610.3 404.6,609.3C410.6,608.3 416.2,613.9 422.2,615.9z" fill="url(#gl3)"/>
<path d="M407.1,611.8C403.1,612.8 403.3,615.8 403.3,620.8C403.3,626.8 404.6,630.3 407.1,633.3C410.6,636.3 406.7,636.8 411.7,639.3L415,642.1L418.5,644.8L422.3,647.4L426.3,649.9L430.6,652.3L435.1,654.7L439.8,657L444.7,659.3L449.8,661.5L455.1,663.6L460.6,665.8" fill="none" stroke="url(#gl3c)" stroke-width="4.5" stroke-linecap="round" stroke-linejoin="round"/>
<path d="M563.2,668.6L571.7,669.9L580.4,671.1L589,672.3L597.7,673.5L606.5,674.6L615.2,675.6L623.9,676.6L632.5,677.6L641.1,678L649.6,678.3L658,678.5L666.3,678.7L674.4,678.8L682.4,678.9L690.2,679L697.8,679L705.2,678.9L712.3,678.8L719.2,678.6L725.9,678.5L732.3,678.4L738.4,678.7L744.2,679L749.8,679.2L755,679.4L759.8,679.6L764.4,679.8L768.6,679.9L772.5,680C783.4,681.2 789.3,684.2 789.3,692.7C789.3,701.2 783.4,704.5 772.5,703.9L772.5,703.9L768.6,704L764.4,704L759.8,704L755,703.9L749.8,703.8L744.2,703.7L738.4,703.5L732.3,703.3L725.9,703.5L719.2,703.6L712.3,703.7L705.2,703.8L697.8,703.9L690.2,703.9L682.4,703.8L674.4,703.7L666.3,703.5L658,703.3L649.6,703L641.1,702.6L632.5,702.2L623.9,701.1L615.2,700L606.5,698.8L597.7,697.5L589,696.2L580.4,694.8L571.7,693.4L563.2,691.9z" fill="url(#gr3)"/>
<path d="M425.5,778.5L427.7,781.1L430.3,783.7L433.1,786.2L436.3,788.7L439.8,791.2L443.5,793.7L447.6,796.1L451.9,798.4L456.4,800.8L461.2,803L466.2,805.3L471.4,807.6L476.8,809.8L482.4,812.1L488.3,814.2L494.3,816.4L500.5,818.5L506.9,820.5L513.4,822.5L520.1,824.5L526.9,826.3L533.9,828.2L541,830L548.2,831.7L555.5,833.4L562.9,835L570.3,836.6L577.8,838.1L585.4,839.6L593,841L600.7,842.4L608.3,843.6L616,844.9L623.7,846L631.3,847L639,847.5L646.6,847.9L654.1,848.3L661.6,848.6L668.9,848.8L676.2,849L683.3,849.1L690.3,849.1L686.2,873.7L679.1,873.6L671.9,873.5L664.6,873.3L657.2,873.1L649.8,872.8L642.3,872.5L634.7,872L627.2,871.6L619.7,870.8L612.2,869.9L604.7,868.9L597.1,867.9L589.6,866.8L582.1,865.7L574.6,864.5L567.2,863.2L559.8,861.9L552.5,860.5L545.2,859.1L538,857.5L530.9,855.9L523.9,854.3L517,852.6L510.2,850.8L503.5,848.9L496.9,847.1L490.5,845.1L484.3,843.1L478.2,841L472.2,838.9L466.5,836.7L460.9,834.5L455.4,832L450.1,829.5L445.1,826.9L440.2,824.2L435.5,821.5L431.1,818.6L426.9,815.7L422.9,812.8L419.2,809.7L415.8,806.5L412.6,803.3C407.6,800.3 410.9,797.1 406.9,794.6C403.9,791.6 402.4,785.6 402.4,779.6C402.4,773.6 402.4,769.1 405.9,768.1C411.9,767.1 419.5,776.5 425.5,778.5z" fill="url(#gl4)"/>
<path d="M408.4,770.6C404.4,771.6 404.6,774.6 404.6,779.6C404.6,785.6 405.9,789.1 408.4,792.1C411.9,795.1 407.6,798.3 412.6,800.8L415.8,804L419.2,807.2L422.9,810.3L426.9,813.2L431.1,816.1L435.5,819L440.2,821.7L445.1,824.4L450.1,827L455.4,829.5L460.9,832" fill="none" stroke="url(#gl4c)" stroke-width="4.5" stroke-linecap="round" stroke-linejoin="round"/>
<path d="M563.5,838.2L571.9,839.6L580.5,841L589.1,842.2L597.8,843.4L606.4,844.5L615.1,845.5L623.7,846.4L632.3,847.3L640.9,847.6L649.3,847.7L657.7,847.8L665.9,847.9L674,847.8L681.9,847.7L689.6,847.5L697.2,847.2L704.5,846.8L711.7,846.4L718.5,846L725.2,845.7L731.5,845.4L737.6,845.6L743.4,845.7L748.9,845.7L754,845.7L758.9,845.7L763.4,845.6L767.6,845.4L771.5,845.2C782.2,846.4 788.1,849.4 788.1,857.9C788.1,866.4 782.2,869.6 771.5,869L771.5,869L767.6,869.4L763.4,869.6L758.9,869.9L754,870L748.9,870.2L743.4,870.2L737.6,870.3L731.5,870.2L725.2,870.5L718.5,870.8L711.7,871.2L704.5,871.6L697.2,871.9L689.6,872.2L681.9,872.4L674,872.5L665.9,872.5L657.7,872.4L649.3,872.3L640.9,872.1L632.3,871.8L623.7,870.8L615.1,869.7L606.4,868.5L597.8,867.2L589.1,865.9L580.5,864.5L571.9,863L563.5,861.4z" fill="url(#gr4)"/>
<path d="M428.5,939.5L430.7,942.4L433.1,945.3L435.9,948.2L439,951L442.3,953.8L446,956.6L449.9,959.3L454.1,962L458.6,964.7L463.2,967.3L468.2,969.8L473.3,972.4L478.6,974.9L484.1,977.4L489.8,979.9L495.8,982.2L501.9,984.6L508.2,986.8L514.6,989L521.2,991.2L528,993.2L534.8,995.2L541.9,997.2L549,999L556.2,1000.8L563.5,1002.6L570.9,1004.2L578.3,1005.8L585.8,1007.3L593.4,1008.7L600.9,1010.1L608.5,1011.4L616.1,1012.6L623.7,1013.7L631.3,1014.6L638.9,1015L646.4,1015.3L653.8,1015.5L661.2,1015.7L668.5,1015.7L675.7,1015.7L682.7,1015.6L689.7,1015.5L686.3,1040.2L679.2,1040.4L672,1040.4L664.7,1040.4L657.3,1040.4L649.9,1040.2L642.4,1040L634.9,1039.7L627.4,1039.3L619.9,1038.6L612.4,1037.7L604.9,1036.8L597.3,1035.7L589.8,1034.6L582.3,1033.5L574.9,1032.2L567.4,1030.9L560,1029.5L552.7,1028L545.5,1026.4L538.3,1024.8L531.2,1023L524.2,1021.2L517.3,1019.3L510.5,1017.3L503.8,1015.2L497.3,1013.1L490.9,1010.9L484.7,1008.6L478.6,1006.3L472.7,1003.8L466.9,1001.3L461.3,998.7L455.9,995.9L450.7,993L445.6,990.1L440.8,987L436.2,983.9L431.8,980.7L427.7,977.4L423.8,974L420.2,970.5L416.8,966.9L413.7,963.2C408.7,960.2 412.1,954 408.1,951.5C405.1,948.5 403.6,942.5 403.6,936.5C403.6,930.5 403.6,926 407.1,925C413.1,924 422.5,937.5 428.5,939.5z" fill="url(#gl5)"/>
<path d="M409.6,927.5C405.6,928.5 405.8,931.5 405.8,936.5C405.8,942.5 407.1,946 409.6,949C413.1,952 408.7,958.2 413.7,960.7L416.8,964.4L420.2,968L423.8,971.5L427.7,974.9L431.8,978.2L436.2,981.4L440.8,984.5L445.6,987.6L450.7,990.5L455.9,993.4L461.3,996.2" fill="none" stroke="url(#gl5c)" stroke-width="4.5" stroke-linecap="round" stroke-linejoin="round"/>
<path d="M563.7,1005.7L572.2,1007.2L580.7,1008.6L589.2,1009.9L597.8,1011.1L606.4,1012.2L615,1013.2L623.6,1014.1L632.2,1014.9L640.7,1015L649,1015.1L657.3,1015L665.5,1014.9L673.5,1014.6L681.4,1014.3L689.1,1013.8L696.6,1013.3L703.9,1012.7L711,1012L717.8,1011.2L724.4,1010.8L730.7,1010.2L736.8,1010.2L742.5,1010L748,1009.8L753.1,1009.5L758,1009.2L762.5,1008.8L766.6,1008.3L770.5,1007.8C781.1,1009 786.8,1011.9 786.8,1020.4C786.8,1028.9 781.1,1032 770.5,1031.4L770.5,1031.4L766.6,1032.1L762.5,1032.7L758,1033.2L753.1,1033.7L748,1034.1L742.5,1034.4L736.8,1034.7L730.7,1034.9L724.4,1035.4L717.8,1035.9L711,1036.6L703.9,1037.3L696.6,1037.9L689.1,1038.4L681.4,1038.8L673.5,1039.2L665.5,1039.4L657.3,1039.5L649,1039.5L640.7,1039.4L632.2,1039.2L623.6,1038.3L615,1037.2L606.4,1036.1L597.8,1034.8L589.2,1033.5L580.7,1032L572.2,1030.5L563.7,1028.8z" fill="url(#gr5)"/>
<path d="M431.3,1098.8L433.4,1102L435.8,1105.2L438.5,1108.3L441.5,1111.5L444.8,1114.6L448.3,1117.7L452.2,1120.7L456.3,1123.7L460.6,1126.6L465.2,1129.5L470.1,1132.4L475.1,1135.2L480.3,1138L485.7,1140.8L491.4,1143.5L497.2,1146.1L503.2,1148.6L509.4,1151.1L515.8,1153.5L522.3,1155.8L529,1158.1L535.8,1160.2L542.7,1162.3L549.8,1164.3L556.9,1166.2L564.1,1168L571.4,1169.7L578.8,1171.4L586.2,1172.9L593.7,1174.3L601.2,1175.7L608.7,1177L616.2,1178.1L623.7,1179.2L631.2,1180L638.7,1180.3L646.2,1180.5L653.6,1180.6L660.8,1180.6L668,1180.5L675.1,1180.3L682.1,1180.1L688.9,1179.7L686.3,1204.7L679.2,1205.1L672,1205.4L664.8,1205.5L657.4,1205.6L650,1205.6L642.5,1205.5L635,1205.3L627.5,1204.9L620,1204.3L612.5,1203.5L605,1202.6L597.5,1201.5L590,1200.4L582.6,1199.2L575.1,1197.9L567.7,1196.5L560.3,1195.1L553,1193.5L545.8,1191.8L538.6,1190L531.5,1188.1L524.5,1186.1L517.6,1184L510.9,1181.8L504.2,1179.5L497.7,1177.2L491.4,1174.7L485.1,1172.2L479.1,1169.6L473.2,1166.8L467.4,1164L461.9,1161.1L456.5,1158L451.3,1154.7L446.3,1151.4L441.5,1148L437,1144.5L432.7,1140.9L428.6,1137.2L424.8,1133.4L421.3,1129.6L418,1125.6L415,1121.6C410,1118.6 413.3,1109 409.3,1106.5C406.3,1103.5 404.8,1097.5 404.8,1091.5C404.8,1085.5 404.8,1081 408.3,1080C414.3,1079 425.3,1096.8 431.3,1098.8z" fill="url(#gl6)"/>
<path d="M410.8,1082.5C406.8,1083.5 407,1086.5 407,1091.5C407,1097.5 408.3,1101 410.8,1104C414.3,1107 410,1116.6 415,1119.1L418,1123.1L421.3,1127.1L424.8,1130.9L428.6,1134.7L432.7,1138.4L437,1142L441.5,1145.5L446.3,1148.9L451.3,1152.2L456.5,1155.5L461.9,1158.6" fill="none" stroke="url(#gl6c)" stroke-width="4.5" stroke-linecap="round" stroke-linejoin="round"/>
</g>
</svg>
<div class="t b" id="t1">(12&#8220; Coil)</div>
<div class="t" id="t2">Spiral Coil</div>
<div class="t b" id="t3">4:1</div>
<div class="t" id="t4">Pitch</div>
</body></html>
